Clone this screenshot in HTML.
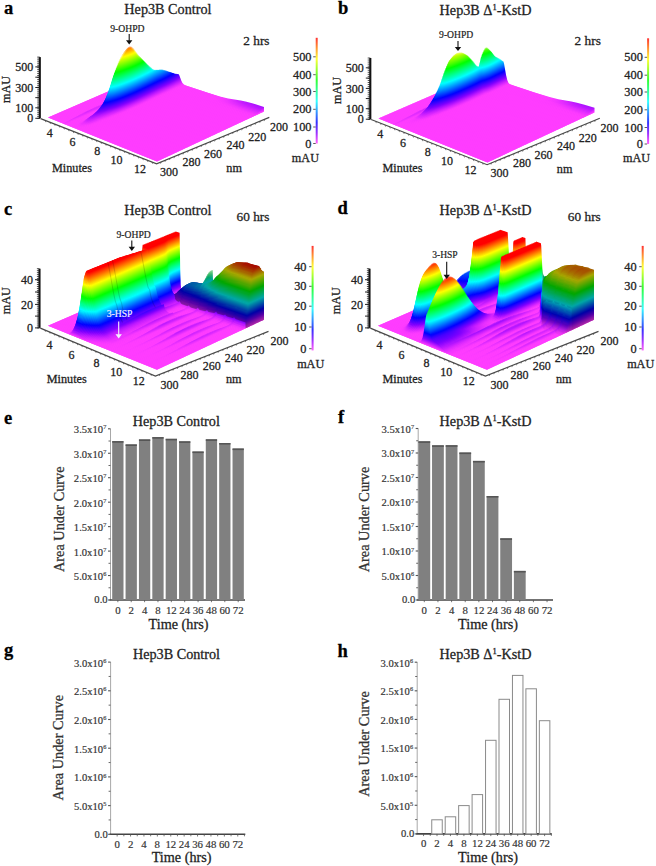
<!DOCTYPE html>
<html><head><meta charset="utf-8"><style>
html,body{margin:0;padding:0;background:#fff;width:656px;height:866px;overflow:hidden}
svg{display:block}
text{font-family:"Liberation Serif",serif}
</style></head><body>
<svg width="656" height="866" viewBox="0 0 656 866" font-family='"Liberation Serif", serif'>
<defs><linearGradient id="sa" gradientUnits="userSpaceOnUse" x1="0" y1="0" x2="0" y2="648.0"><stop offset="0.000" stop-color="#ff3cff"/><stop offset="0.050" stop-color="#c61cff"/><stop offset="0.100" stop-color="#8000ff"/><stop offset="0.150" stop-color="#4000ff"/><stop offset="0.200" stop-color="#0000ff"/><stop offset="0.250" stop-color="#0040ff"/><stop offset="0.300" stop-color="#0080ff"/><stop offset="0.350" stop-color="#00bfff"/><stop offset="0.400" stop-color="#00ffff"/><stop offset="0.450" stop-color="#00ffbf"/><stop offset="0.500" stop-color="#00ff80"/><stop offset="0.550" stop-color="#00ff40"/><stop offset="0.600" stop-color="#00ff00"/><stop offset="0.650" stop-color="#40ff00"/><stop offset="0.700" stop-color="#7fff00"/><stop offset="0.750" stop-color="#bfff00"/><stop offset="0.800" stop-color="#ffff00"/><stop offset="0.850" stop-color="#ffbf00"/><stop offset="0.900" stop-color="#ff7f00"/><stop offset="0.950" stop-color="#ff4000"/><stop offset="1.000" stop-color="#ff0000"/></linearGradient><linearGradient id="sb" gradientUnits="userSpaceOnUse" x1="0" y1="0" x2="0" y2="648.0"><stop offset="0.000" stop-color="#ff3cff"/><stop offset="0.050" stop-color="#c61cff"/><stop offset="0.100" stop-color="#8000ff"/><stop offset="0.150" stop-color="#4000ff"/><stop offset="0.200" stop-color="#0000ff"/><stop offset="0.250" stop-color="#0040ff"/><stop offset="0.300" stop-color="#0080ff"/><stop offset="0.350" stop-color="#00bfff"/><stop offset="0.400" stop-color="#00ffff"/><stop offset="0.450" stop-color="#00ffbf"/><stop offset="0.500" stop-color="#00ff80"/><stop offset="0.550" stop-color="#00ff40"/><stop offset="0.600" stop-color="#00ff00"/><stop offset="0.650" stop-color="#40ff00"/><stop offset="0.700" stop-color="#7fff00"/><stop offset="0.750" stop-color="#bfff00"/><stop offset="0.800" stop-color="#ffff00"/><stop offset="0.850" stop-color="#ffbf00"/><stop offset="0.900" stop-color="#ff7f00"/><stop offset="0.950" stop-color="#ff4000"/><stop offset="1.000" stop-color="#ff0000"/></linearGradient><linearGradient id="sc" gradientUnits="userSpaceOnUse" x1="0" y1="0" x2="0" y2="50"><stop offset="0.000" stop-color="#ff3cff"/><stop offset="0.050" stop-color="#c61cff"/><stop offset="0.100" stop-color="#8000ff"/><stop offset="0.150" stop-color="#4000ff"/><stop offset="0.200" stop-color="#0000ff"/><stop offset="0.250" stop-color="#0040ff"/><stop offset="0.300" stop-color="#0080ff"/><stop offset="0.350" stop-color="#00bfff"/><stop offset="0.400" stop-color="#00ffff"/><stop offset="0.450" stop-color="#00ffbf"/><stop offset="0.500" stop-color="#00ff80"/><stop offset="0.550" stop-color="#00ff40"/><stop offset="0.600" stop-color="#00ff00"/><stop offset="0.650" stop-color="#40ff00"/><stop offset="0.700" stop-color="#7fff00"/><stop offset="0.750" stop-color="#bfff00"/><stop offset="0.800" stop-color="#ffff00"/><stop offset="0.850" stop-color="#ffbf00"/><stop offset="0.900" stop-color="#ff7f00"/><stop offset="0.950" stop-color="#ff4000"/><stop offset="1.000" stop-color="#ff0000"/></linearGradient><linearGradient id="scs65" gradientUnits="userSpaceOnUse" x1="0" y1="0" x2="0" y2="50"><stop offset="0.000" stop-color="#a627a6"/><stop offset="0.050" stop-color="#8112a6"/><stop offset="0.100" stop-color="#5300a6"/><stop offset="0.150" stop-color="#2900a6"/><stop offset="0.200" stop-color="#0000a6"/><stop offset="0.250" stop-color="#0029a6"/><stop offset="0.300" stop-color="#0053a6"/><stop offset="0.350" stop-color="#007ca6"/><stop offset="0.400" stop-color="#00a6a6"/><stop offset="0.450" stop-color="#00a67c"/><stop offset="0.500" stop-color="#00a653"/><stop offset="0.550" stop-color="#00a629"/><stop offset="0.600" stop-color="#00a600"/><stop offset="0.650" stop-color="#29a600"/><stop offset="0.700" stop-color="#53a600"/><stop offset="0.750" stop-color="#7ca600"/><stop offset="0.800" stop-color="#a6a600"/><stop offset="0.850" stop-color="#a67c00"/><stop offset="0.900" stop-color="#a65300"/><stop offset="0.950" stop-color="#a62900"/><stop offset="1.000" stop-color="#a60000"/></linearGradient><linearGradient id="scs85" gradientUnits="userSpaceOnUse" x1="0" y1="0" x2="0" y2="50"><stop offset="0.000" stop-color="#d933d9"/><stop offset="0.050" stop-color="#a918d9"/><stop offset="0.100" stop-color="#6c00d9"/><stop offset="0.150" stop-color="#3600d9"/><stop offset="0.200" stop-color="#0000d9"/><stop offset="0.250" stop-color="#0036d9"/><stop offset="0.300" stop-color="#006cd9"/><stop offset="0.350" stop-color="#00a3d9"/><stop offset="0.400" stop-color="#00d9d9"/><stop offset="0.450" stop-color="#00d9a3"/><stop offset="0.500" stop-color="#00d96c"/><stop offset="0.550" stop-color="#00d936"/><stop offset="0.600" stop-color="#00d900"/><stop offset="0.650" stop-color="#36d900"/><stop offset="0.700" stop-color="#6cd900"/><stop offset="0.750" stop-color="#a3d900"/><stop offset="0.800" stop-color="#d9d900"/><stop offset="0.850" stop-color="#d9a300"/><stop offset="0.900" stop-color="#d96c00"/><stop offset="0.950" stop-color="#d93600"/><stop offset="1.000" stop-color="#d90000"/></linearGradient><linearGradient id="sd" gradientUnits="userSpaceOnUse" x1="0" y1="0" x2="0" y2="50"><stop offset="0.000" stop-color="#ff3cff"/><stop offset="0.050" stop-color="#c61cff"/><stop offset="0.100" stop-color="#8000ff"/><stop offset="0.150" stop-color="#4000ff"/><stop offset="0.200" stop-color="#0000ff"/><stop offset="0.250" stop-color="#0040ff"/><stop offset="0.300" stop-color="#0080ff"/><stop offset="0.350" stop-color="#00bfff"/><stop offset="0.400" stop-color="#00ffff"/><stop offset="0.450" stop-color="#00ffbf"/><stop offset="0.500" stop-color="#00ff80"/><stop offset="0.550" stop-color="#00ff40"/><stop offset="0.600" stop-color="#00ff00"/><stop offset="0.650" stop-color="#40ff00"/><stop offset="0.700" stop-color="#7fff00"/><stop offset="0.750" stop-color="#bfff00"/><stop offset="0.800" stop-color="#ffff00"/><stop offset="0.850" stop-color="#ffbf00"/><stop offset="0.900" stop-color="#ff7f00"/><stop offset="0.950" stop-color="#ff4000"/><stop offset="1.000" stop-color="#ff0000"/></linearGradient><linearGradient id="sds65" gradientUnits="userSpaceOnUse" x1="0" y1="0" x2="0" y2="50"><stop offset="0.000" stop-color="#a627a6"/><stop offset="0.050" stop-color="#8112a6"/><stop offset="0.100" stop-color="#5300a6"/><stop offset="0.150" stop-color="#2900a6"/><stop offset="0.200" stop-color="#0000a6"/><stop offset="0.250" stop-color="#0029a6"/><stop offset="0.300" stop-color="#0053a6"/><stop offset="0.350" stop-color="#007ca6"/><stop offset="0.400" stop-color="#00a6a6"/><stop offset="0.450" stop-color="#00a67c"/><stop offset="0.500" stop-color="#00a653"/><stop offset="0.550" stop-color="#00a629"/><stop offset="0.600" stop-color="#00a600"/><stop offset="0.650" stop-color="#29a600"/><stop offset="0.700" stop-color="#53a600"/><stop offset="0.750" stop-color="#7ca600"/><stop offset="0.800" stop-color="#a6a600"/><stop offset="0.850" stop-color="#a67c00"/><stop offset="0.900" stop-color="#a65300"/><stop offset="0.950" stop-color="#a62900"/><stop offset="1.000" stop-color="#a60000"/></linearGradient><linearGradient id="sds70" gradientUnits="userSpaceOnUse" x1="0" y1="0" x2="0" y2="50"><stop offset="0.000" stop-color="#b22ab2"/><stop offset="0.050" stop-color="#8b14b2"/><stop offset="0.100" stop-color="#5900b2"/><stop offset="0.150" stop-color="#2d00b2"/><stop offset="0.200" stop-color="#0000b2"/><stop offset="0.250" stop-color="#002db2"/><stop offset="0.300" stop-color="#0059b2"/><stop offset="0.350" stop-color="#0086b2"/><stop offset="0.400" stop-color="#00b2b2"/><stop offset="0.450" stop-color="#00b286"/><stop offset="0.500" stop-color="#00b259"/><stop offset="0.550" stop-color="#00b22d"/><stop offset="0.600" stop-color="#00b200"/><stop offset="0.650" stop-color="#2db200"/><stop offset="0.700" stop-color="#59b200"/><stop offset="0.750" stop-color="#86b200"/><stop offset="0.800" stop-color="#b2b200"/><stop offset="0.850" stop-color="#b28600"/><stop offset="0.900" stop-color="#b25900"/><stop offset="0.950" stop-color="#b22d00"/><stop offset="1.000" stop-color="#b20000"/></linearGradient><linearGradient id="sds75" gradientUnits="userSpaceOnUse" x1="0" y1="0" x2="0" y2="50"><stop offset="0.000" stop-color="#bf2dbf"/><stop offset="0.050" stop-color="#9515bf"/><stop offset="0.100" stop-color="#6000bf"/><stop offset="0.150" stop-color="#3000bf"/><stop offset="0.200" stop-color="#0000bf"/><stop offset="0.250" stop-color="#0030bf"/><stop offset="0.300" stop-color="#0060bf"/><stop offset="0.350" stop-color="#008fbf"/><stop offset="0.400" stop-color="#00bfbf"/><stop offset="0.450" stop-color="#00bf8f"/><stop offset="0.500" stop-color="#00bf60"/><stop offset="0.550" stop-color="#00bf30"/><stop offset="0.600" stop-color="#00bf00"/><stop offset="0.650" stop-color="#30bf00"/><stop offset="0.700" stop-color="#60bf00"/><stop offset="0.750" stop-color="#8fbf00"/><stop offset="0.800" stop-color="#bfbf00"/><stop offset="0.850" stop-color="#bf8f00"/><stop offset="0.900" stop-color="#bf6000"/><stop offset="0.950" stop-color="#bf3000"/><stop offset="1.000" stop-color="#bf0000"/></linearGradient><linearGradient id="sds80" gradientUnits="userSpaceOnUse" x1="0" y1="0" x2="0" y2="50"><stop offset="0.000" stop-color="#cc30cc"/><stop offset="0.050" stop-color="#9f16cc"/><stop offset="0.100" stop-color="#6600cc"/><stop offset="0.150" stop-color="#3300cc"/><stop offset="0.200" stop-color="#0000cc"/><stop offset="0.250" stop-color="#0033cc"/><stop offset="0.300" stop-color="#0066cc"/><stop offset="0.350" stop-color="#0099cc"/><stop offset="0.400" stop-color="#00cccc"/><stop offset="0.450" stop-color="#00cc99"/><stop offset="0.500" stop-color="#00cc66"/><stop offset="0.550" stop-color="#00cc33"/><stop offset="0.600" stop-color="#00cc00"/><stop offset="0.650" stop-color="#33cc00"/><stop offset="0.700" stop-color="#66cc00"/><stop offset="0.750" stop-color="#99cc00"/><stop offset="0.800" stop-color="#cccc00"/><stop offset="0.850" stop-color="#cc9900"/><stop offset="0.900" stop-color="#cc6600"/><stop offset="0.950" stop-color="#cc3300"/><stop offset="1.000" stop-color="#cc0000"/></linearGradient><linearGradient id="sds85" gradientUnits="userSpaceOnUse" x1="0" y1="0" x2="0" y2="50"><stop offset="0.000" stop-color="#d933d9"/><stop offset="0.050" stop-color="#a918d9"/><stop offset="0.100" stop-color="#6c00d9"/><stop offset="0.150" stop-color="#3600d9"/><stop offset="0.200" stop-color="#0000d9"/><stop offset="0.250" stop-color="#0036d9"/><stop offset="0.300" stop-color="#006cd9"/><stop offset="0.350" stop-color="#00a3d9"/><stop offset="0.400" stop-color="#00d9d9"/><stop offset="0.450" stop-color="#00d9a3"/><stop offset="0.500" stop-color="#00d96c"/><stop offset="0.550" stop-color="#00d936"/><stop offset="0.600" stop-color="#00d900"/><stop offset="0.650" stop-color="#36d900"/><stop offset="0.700" stop-color="#6cd900"/><stop offset="0.750" stop-color="#a3d900"/><stop offset="0.800" stop-color="#d9d900"/><stop offset="0.850" stop-color="#d9a300"/><stop offset="0.900" stop-color="#d96c00"/><stop offset="0.950" stop-color="#d93600"/><stop offset="1.000" stop-color="#d90000"/></linearGradient><linearGradient id="sds90" gradientUnits="userSpaceOnUse" x1="0" y1="0" x2="0" y2="50"><stop offset="0.000" stop-color="#e636e6"/><stop offset="0.050" stop-color="#b219e6"/><stop offset="0.100" stop-color="#7300e6"/><stop offset="0.150" stop-color="#3900e6"/><stop offset="0.200" stop-color="#0000e6"/><stop offset="0.250" stop-color="#0039e6"/><stop offset="0.300" stop-color="#0073e6"/><stop offset="0.350" stop-color="#00ace6"/><stop offset="0.400" stop-color="#00e6e6"/><stop offset="0.450" stop-color="#00e6ac"/><stop offset="0.500" stop-color="#00e673"/><stop offset="0.550" stop-color="#00e639"/><stop offset="0.600" stop-color="#00e600"/><stop offset="0.650" stop-color="#39e600"/><stop offset="0.700" stop-color="#73e600"/><stop offset="0.750" stop-color="#ace600"/><stop offset="0.800" stop-color="#e6e500"/><stop offset="0.850" stop-color="#e6ac00"/><stop offset="0.900" stop-color="#e67300"/><stop offset="0.950" stop-color="#e63900"/><stop offset="1.000" stop-color="#e60000"/></linearGradient><linearGradient id="sds95" gradientUnits="userSpaceOnUse" x1="0" y1="0" x2="0" y2="50"><stop offset="0.000" stop-color="#f239f2"/><stop offset="0.050" stop-color="#bc1bf2"/><stop offset="0.100" stop-color="#7900f2"/><stop offset="0.150" stop-color="#3d00f2"/><stop offset="0.200" stop-color="#0000f2"/><stop offset="0.250" stop-color="#003df2"/><stop offset="0.300" stop-color="#0079f2"/><stop offset="0.350" stop-color="#00b6f2"/><stop offset="0.400" stop-color="#00f2f2"/><stop offset="0.450" stop-color="#00f2b6"/><stop offset="0.500" stop-color="#00f279"/><stop offset="0.550" stop-color="#00f23d"/><stop offset="0.600" stop-color="#00f200"/><stop offset="0.650" stop-color="#3df200"/><stop offset="0.700" stop-color="#79f200"/><stop offset="0.750" stop-color="#b6f200"/><stop offset="0.800" stop-color="#f2f200"/><stop offset="0.850" stop-color="#f2b600"/><stop offset="0.900" stop-color="#f27900"/><stop offset="0.950" stop-color="#f23d00"/><stop offset="1.000" stop-color="#f20000"/></linearGradient><linearGradient id="facb" gradientUnits="userSpaceOnUse" x1="0" y1="143.5" x2="0" y2="37.8"><stop offset="0.000" stop-color="#ff3cff"/><stop offset="0.050" stop-color="#c61cff"/><stop offset="0.100" stop-color="#8000ff"/><stop offset="0.150" stop-color="#4000ff"/><stop offset="0.200" stop-color="#0000ff"/><stop offset="0.250" stop-color="#0040ff"/><stop offset="0.300" stop-color="#0080ff"/><stop offset="0.350" stop-color="#00bfff"/><stop offset="0.400" stop-color="#00ffff"/><stop offset="0.450" stop-color="#00ffbf"/><stop offset="0.500" stop-color="#00ff80"/><stop offset="0.550" stop-color="#00ff40"/><stop offset="0.600" stop-color="#00ff00"/><stop offset="0.650" stop-color="#40ff00"/><stop offset="0.700" stop-color="#7fff00"/><stop offset="0.750" stop-color="#bfff00"/><stop offset="0.800" stop-color="#ffff00"/><stop offset="0.850" stop-color="#ffbf00"/><stop offset="0.900" stop-color="#ff7f00"/><stop offset="0.950" stop-color="#ff4000"/><stop offset="1.000" stop-color="#ff0000"/></linearGradient><linearGradient id="fbcb" gradientUnits="userSpaceOnUse" x1="0" y1="144" x2="0" y2="38.3"><stop offset="0.000" stop-color="#ff3cff"/><stop offset="0.050" stop-color="#c61cff"/><stop offset="0.100" stop-color="#8000ff"/><stop offset="0.150" stop-color="#4000ff"/><stop offset="0.200" stop-color="#0000ff"/><stop offset="0.250" stop-color="#0040ff"/><stop offset="0.300" stop-color="#0080ff"/><stop offset="0.350" stop-color="#00bfff"/><stop offset="0.400" stop-color="#00ffff"/><stop offset="0.450" stop-color="#00ffbf"/><stop offset="0.500" stop-color="#00ff80"/><stop offset="0.550" stop-color="#00ff40"/><stop offset="0.600" stop-color="#00ff00"/><stop offset="0.650" stop-color="#40ff00"/><stop offset="0.700" stop-color="#7fff00"/><stop offset="0.750" stop-color="#bfff00"/><stop offset="0.800" stop-color="#ffff00"/><stop offset="0.850" stop-color="#ffbf00"/><stop offset="0.900" stop-color="#ff7f00"/><stop offset="0.950" stop-color="#ff4000"/><stop offset="1.000" stop-color="#ff0000"/></linearGradient><linearGradient id="fccb" gradientUnits="userSpaceOnUse" x1="0" y1="350.4" x2="0" y2="245.9"><stop offset="0.000" stop-color="#ff3cff"/><stop offset="0.050" stop-color="#c61cff"/><stop offset="0.100" stop-color="#8000ff"/><stop offset="0.150" stop-color="#4000ff"/><stop offset="0.200" stop-color="#0000ff"/><stop offset="0.250" stop-color="#0040ff"/><stop offset="0.300" stop-color="#0080ff"/><stop offset="0.350" stop-color="#00bfff"/><stop offset="0.400" stop-color="#00ffff"/><stop offset="0.450" stop-color="#00ffbf"/><stop offset="0.500" stop-color="#00ff80"/><stop offset="0.550" stop-color="#00ff40"/><stop offset="0.600" stop-color="#00ff00"/><stop offset="0.650" stop-color="#40ff00"/><stop offset="0.700" stop-color="#7fff00"/><stop offset="0.750" stop-color="#bfff00"/><stop offset="0.800" stop-color="#ffff00"/><stop offset="0.850" stop-color="#ffbf00"/><stop offset="0.900" stop-color="#ff7f00"/><stop offset="0.950" stop-color="#ff4000"/><stop offset="1.000" stop-color="#ff0000"/></linearGradient><linearGradient id="fdcb" gradientUnits="userSpaceOnUse" x1="0" y1="350.4" x2="0" y2="245.9"><stop offset="0.000" stop-color="#ff3cff"/><stop offset="0.050" stop-color="#c61cff"/><stop offset="0.100" stop-color="#8000ff"/><stop offset="0.150" stop-color="#4000ff"/><stop offset="0.200" stop-color="#0000ff"/><stop offset="0.250" stop-color="#0040ff"/><stop offset="0.300" stop-color="#0080ff"/><stop offset="0.350" stop-color="#00bfff"/><stop offset="0.400" stop-color="#00ffff"/><stop offset="0.450" stop-color="#00ffbf"/><stop offset="0.500" stop-color="#00ff80"/><stop offset="0.550" stop-color="#00ff40"/><stop offset="0.600" stop-color="#00ff00"/><stop offset="0.650" stop-color="#40ff00"/><stop offset="0.700" stop-color="#7fff00"/><stop offset="0.750" stop-color="#bfff00"/><stop offset="0.800" stop-color="#ffff00"/><stop offset="0.850" stop-color="#ffbf00"/><stop offset="0.900" stop-color="#ff7f00"/><stop offset="0.950" stop-color="#ff4000"/><stop offset="1.000" stop-color="#ff0000"/></linearGradient></defs>
<text x="4.0" y="13.6" font-size="18.5" text-anchor="start" font-weight="bold" fill="#000" stroke="#000" stroke-width="0.28" >a</text>
<text x="338.0" y="13.5" font-size="18.5" text-anchor="start" font-weight="bold" fill="#000" stroke="#000" stroke-width="0.28" >b</text>
<text x="4.0" y="214.5" font-size="18.5" text-anchor="start" font-weight="bold" fill="#000" stroke="#000" stroke-width="0.28" >c</text>
<text x="337.5" y="214.2" font-size="18.5" text-anchor="start" font-weight="bold" fill="#000" stroke="#000" stroke-width="0.28" >d</text>
<text x="4.0" y="423.5" font-size="18.5" text-anchor="start" font-weight="bold" fill="#000" stroke="#000" stroke-width="0.28" >e</text>
<text x="338.0" y="423.3" font-size="18.5" text-anchor="start" font-weight="bold" fill="#000" stroke="#000" stroke-width="0.28" >f</text>
<text x="4.0" y="656.3" font-size="18.5" text-anchor="start" font-weight="bold" fill="#000" stroke="#000" stroke-width="0.28" >g</text>
<text x="337.5" y="657.0" font-size="18.5" text-anchor="start" font-weight="bold" fill="#000" stroke="#000" stroke-width="0.28" >h</text>
<line x1="110.5" y1="428.8" x2="110.5" y2="600" stroke="#a8a8a8" stroke-width="1"/>
<line x1="109.5" y1="600" x2="245" y2="600" stroke="#444" stroke-width="1.6"/>
<line x1="108.0" y1="600.00" x2="110.5" y2="600.00" stroke="#555" stroke-width="1.1"/>
<line x1="108.5" y1="587.77" x2="110.5" y2="587.77" stroke="#666" stroke-width="1"/>
<line x1="108.0" y1="575.54" x2="110.5" y2="575.54" stroke="#555" stroke-width="1.1"/>
<line x1="108.5" y1="563.31" x2="110.5" y2="563.31" stroke="#666" stroke-width="1"/>
<line x1="108.0" y1="551.09" x2="110.5" y2="551.09" stroke="#555" stroke-width="1.1"/>
<line x1="108.5" y1="538.86" x2="110.5" y2="538.86" stroke="#666" stroke-width="1"/>
<line x1="108.0" y1="526.63" x2="110.5" y2="526.63" stroke="#555" stroke-width="1.1"/>
<line x1="108.5" y1="514.40" x2="110.5" y2="514.40" stroke="#666" stroke-width="1"/>
<line x1="108.0" y1="502.17" x2="110.5" y2="502.17" stroke="#555" stroke-width="1.1"/>
<line x1="108.5" y1="489.94" x2="110.5" y2="489.94" stroke="#666" stroke-width="1"/>
<line x1="108.0" y1="477.71" x2="110.5" y2="477.71" stroke="#555" stroke-width="1.1"/>
<line x1="108.5" y1="465.49" x2="110.5" y2="465.49" stroke="#666" stroke-width="1"/>
<line x1="108.0" y1="453.26" x2="110.5" y2="453.26" stroke="#555" stroke-width="1.1"/>
<line x1="108.5" y1="441.03" x2="110.5" y2="441.03" stroke="#666" stroke-width="1"/>
<line x1="108.0" y1="428.80" x2="110.5" y2="428.80" stroke="#555" stroke-width="1.1"/>
<text x="107.6" y="603.4" font-size="10.6" text-anchor="end" font-weight="normal" fill="#333" stroke="#333" stroke-width="0.18" >0.0</text>
<text x="103.0" y="579.9" font-size="10.6" text-anchor="end" font-weight="normal" fill="#333" stroke="#333" stroke-width="0.18" >5.0x10</text>
<text x="103.2" y="576.1" font-size="6.3" text-anchor="start" font-weight="normal" fill="#444" stroke="#444" stroke-width="0.18" >6</text>
<text x="103.0" y="555.5" font-size="10.6" text-anchor="end" font-weight="normal" fill="#333" stroke="#333" stroke-width="0.18" >1.0x10</text>
<text x="103.2" y="551.7" font-size="6.3" text-anchor="start" font-weight="normal" fill="#444" stroke="#444" stroke-width="0.18" >7</text>
<text x="103.0" y="531.0" font-size="10.6" text-anchor="end" font-weight="normal" fill="#333" stroke="#333" stroke-width="0.18" >1.5x10</text>
<text x="103.2" y="527.2" font-size="6.3" text-anchor="start" font-weight="normal" fill="#444" stroke="#444" stroke-width="0.18" >7</text>
<text x="103.0" y="506.6" font-size="10.6" text-anchor="end" font-weight="normal" fill="#333" stroke="#333" stroke-width="0.18" >2.0x10</text>
<text x="103.2" y="502.8" font-size="6.3" text-anchor="start" font-weight="normal" fill="#444" stroke="#444" stroke-width="0.18" >7</text>
<text x="103.0" y="482.1" font-size="10.6" text-anchor="end" font-weight="normal" fill="#333" stroke="#333" stroke-width="0.18" >2.5x10</text>
<text x="103.2" y="478.3" font-size="6.3" text-anchor="start" font-weight="normal" fill="#444" stroke="#444" stroke-width="0.18" >7</text>
<text x="103.0" y="457.7" font-size="10.6" text-anchor="end" font-weight="normal" fill="#333" stroke="#333" stroke-width="0.18" >3.0x10</text>
<text x="103.2" y="453.9" font-size="6.3" text-anchor="start" font-weight="normal" fill="#444" stroke="#444" stroke-width="0.18" >7</text>
<text x="103.0" y="433.2" font-size="10.6" text-anchor="end" font-weight="normal" fill="#333" stroke="#333" stroke-width="0.18" >3.5x10</text>
<text x="103.2" y="429.4" font-size="6.3" text-anchor="start" font-weight="normal" fill="#444" stroke="#444" stroke-width="0.18" >7</text>
<rect x="112.20" y="441.10" width="11.3" height="158.90" fill="#808080"/>
<rect x="112.20" y="441.10" width="11.3" height="1.6" fill="#555"/>
<rect x="125.57" y="444.40" width="11.3" height="155.60" fill="#808080"/>
<rect x="125.57" y="444.40" width="11.3" height="1.6" fill="#555"/>
<rect x="138.94" y="439.40" width="11.3" height="160.60" fill="#808080"/>
<rect x="138.94" y="439.40" width="11.3" height="1.6" fill="#555"/>
<rect x="152.31" y="437.10" width="11.3" height="162.90" fill="#808080"/>
<rect x="152.31" y="437.10" width="11.3" height="1.6" fill="#555"/>
<rect x="165.68" y="438.80" width="11.3" height="161.20" fill="#808080"/>
<rect x="165.68" y="438.80" width="11.3" height="1.6" fill="#555"/>
<rect x="179.05" y="441.30" width="11.3" height="158.70" fill="#808080"/>
<rect x="179.05" y="441.30" width="11.3" height="1.6" fill="#555"/>
<rect x="192.42" y="451.50" width="11.3" height="148.50" fill="#808080"/>
<rect x="192.42" y="451.50" width="11.3" height="1.6" fill="#555"/>
<rect x="205.79" y="439.30" width="11.3" height="160.70" fill="#808080"/>
<rect x="205.79" y="439.30" width="11.3" height="1.6" fill="#555"/>
<rect x="219.16" y="443.00" width="11.3" height="157.00" fill="#808080"/>
<rect x="219.16" y="443.00" width="11.3" height="1.6" fill="#555"/>
<rect x="232.53" y="448.50" width="11.3" height="151.50" fill="#808080"/>
<rect x="232.53" y="448.50" width="11.3" height="1.6" fill="#555"/>
<text x="117.9" y="613.6" font-size="10.8" text-anchor="middle" font-weight="normal" fill="#333" stroke="#333" stroke-width="0.18" >0</text>
<line x1="117.85" y1="600" x2="117.85" y2="602.2" stroke="#555" stroke-width="0.8"/>
<text x="131.2" y="613.6" font-size="10.8" text-anchor="middle" font-weight="normal" fill="#333" stroke="#333" stroke-width="0.18" >2</text>
<line x1="131.22" y1="600" x2="131.22" y2="602.2" stroke="#555" stroke-width="0.8"/>
<text x="144.6" y="613.6" font-size="10.8" text-anchor="middle" font-weight="normal" fill="#333" stroke="#333" stroke-width="0.18" >4</text>
<line x1="144.59" y1="600" x2="144.59" y2="602.2" stroke="#555" stroke-width="0.8"/>
<text x="158.0" y="613.6" font-size="10.8" text-anchor="middle" font-weight="normal" fill="#333" stroke="#333" stroke-width="0.18" >8</text>
<line x1="157.96" y1="600" x2="157.96" y2="602.2" stroke="#555" stroke-width="0.8"/>
<text x="171.3" y="613.6" font-size="10.8" text-anchor="middle" font-weight="normal" fill="#333" stroke="#333" stroke-width="0.18" >12</text>
<line x1="171.33" y1="600" x2="171.33" y2="602.2" stroke="#555" stroke-width="0.8"/>
<text x="184.7" y="613.6" font-size="10.8" text-anchor="middle" font-weight="normal" fill="#333" stroke="#333" stroke-width="0.18" >24</text>
<line x1="184.70" y1="600" x2="184.70" y2="602.2" stroke="#555" stroke-width="0.8"/>
<text x="198.1" y="613.6" font-size="10.8" text-anchor="middle" font-weight="normal" fill="#333" stroke="#333" stroke-width="0.18" >36</text>
<line x1="198.07" y1="600" x2="198.07" y2="602.2" stroke="#555" stroke-width="0.8"/>
<text x="211.4" y="613.6" font-size="10.8" text-anchor="middle" font-weight="normal" fill="#333" stroke="#333" stroke-width="0.18" >48</text>
<line x1="211.44" y1="600" x2="211.44" y2="602.2" stroke="#555" stroke-width="0.8"/>
<text x="224.8" y="613.6" font-size="10.8" text-anchor="middle" font-weight="normal" fill="#333" stroke="#333" stroke-width="0.18" >60</text>
<line x1="224.81" y1="600" x2="224.81" y2="602.2" stroke="#555" stroke-width="0.8"/>
<text x="238.2" y="613.6" font-size="10.8" text-anchor="middle" font-weight="normal" fill="#333" stroke="#333" stroke-width="0.18" >72</text>
<line x1="238.18" y1="600" x2="238.18" y2="602.2" stroke="#555" stroke-width="0.8"/>
<text x="176.3" y="425.5" font-size="14.2" text-anchor="middle" fill="#222" stroke="#222" stroke-width="0.28">Hep3B Control</text>
<text x="64.2" y="519.2" font-size="14.3" text-anchor="middle" fill="#333" stroke="#333" stroke-width="0.28" transform="rotate(-90 64.2 519.2)">Area Under Curve</text>
<text x="178.5" y="628.6" font-size="14.2" text-anchor="middle" font-weight="normal" fill="#222" stroke="#222" stroke-width="0.28" >Time (hrs)</text>
<line x1="418.2" y1="428.5" x2="418.2" y2="600" stroke="#a8a8a8" stroke-width="1"/>
<line x1="417.2" y1="600" x2="553" y2="600" stroke="#444" stroke-width="1.6"/>
<line x1="415.7" y1="600.00" x2="418.2" y2="600.00" stroke="#555" stroke-width="1.1"/>
<line x1="416.2" y1="587.75" x2="418.2" y2="587.75" stroke="#666" stroke-width="1"/>
<line x1="415.7" y1="575.50" x2="418.2" y2="575.50" stroke="#555" stroke-width="1.1"/>
<line x1="416.2" y1="563.25" x2="418.2" y2="563.25" stroke="#666" stroke-width="1"/>
<line x1="415.7" y1="551.00" x2="418.2" y2="551.00" stroke="#555" stroke-width="1.1"/>
<line x1="416.2" y1="538.75" x2="418.2" y2="538.75" stroke="#666" stroke-width="1"/>
<line x1="415.7" y1="526.50" x2="418.2" y2="526.50" stroke="#555" stroke-width="1.1"/>
<line x1="416.2" y1="514.25" x2="418.2" y2="514.25" stroke="#666" stroke-width="1"/>
<line x1="415.7" y1="502.00" x2="418.2" y2="502.00" stroke="#555" stroke-width="1.1"/>
<line x1="416.2" y1="489.75" x2="418.2" y2="489.75" stroke="#666" stroke-width="1"/>
<line x1="415.7" y1="477.50" x2="418.2" y2="477.50" stroke="#555" stroke-width="1.1"/>
<line x1="416.2" y1="465.25" x2="418.2" y2="465.25" stroke="#666" stroke-width="1"/>
<line x1="415.7" y1="453.00" x2="418.2" y2="453.00" stroke="#555" stroke-width="1.1"/>
<line x1="416.2" y1="440.75" x2="418.2" y2="440.75" stroke="#666" stroke-width="1"/>
<line x1="415.7" y1="428.50" x2="418.2" y2="428.50" stroke="#555" stroke-width="1.1"/>
<text x="415.3" y="603.4" font-size="10.6" text-anchor="end" font-weight="normal" fill="#333" stroke="#333" stroke-width="0.18" >0.0</text>
<text x="410.7" y="579.9" font-size="10.6" text-anchor="end" font-weight="normal" fill="#333" stroke="#333" stroke-width="0.18" >5.0x10</text>
<text x="410.9" y="576.1" font-size="6.3" text-anchor="start" font-weight="normal" fill="#444" stroke="#444" stroke-width="0.18" >6</text>
<text x="410.7" y="555.4" font-size="10.6" text-anchor="end" font-weight="normal" fill="#333" stroke="#333" stroke-width="0.18" >1.0x10</text>
<text x="410.9" y="551.6" font-size="6.3" text-anchor="start" font-weight="normal" fill="#444" stroke="#444" stroke-width="0.18" >7</text>
<text x="410.7" y="530.9" font-size="10.6" text-anchor="end" font-weight="normal" fill="#333" stroke="#333" stroke-width="0.18" >1.5x10</text>
<text x="410.9" y="527.1" font-size="6.3" text-anchor="start" font-weight="normal" fill="#444" stroke="#444" stroke-width="0.18" >7</text>
<text x="410.7" y="506.4" font-size="10.6" text-anchor="end" font-weight="normal" fill="#333" stroke="#333" stroke-width="0.18" >2.0x10</text>
<text x="410.9" y="502.6" font-size="6.3" text-anchor="start" font-weight="normal" fill="#444" stroke="#444" stroke-width="0.18" >7</text>
<text x="410.7" y="481.9" font-size="10.6" text-anchor="end" font-weight="normal" fill="#333" stroke="#333" stroke-width="0.18" >2.5x10</text>
<text x="410.9" y="478.1" font-size="6.3" text-anchor="start" font-weight="normal" fill="#444" stroke="#444" stroke-width="0.18" >7</text>
<text x="410.7" y="457.4" font-size="10.6" text-anchor="end" font-weight="normal" fill="#333" stroke="#333" stroke-width="0.18" >3.0x10</text>
<text x="410.9" y="453.6" font-size="6.3" text-anchor="start" font-weight="normal" fill="#444" stroke="#444" stroke-width="0.18" >7</text>
<text x="410.7" y="432.9" font-size="10.6" text-anchor="end" font-weight="normal" fill="#333" stroke="#333" stroke-width="0.18" >3.5x10</text>
<text x="410.9" y="429.1" font-size="6.3" text-anchor="start" font-weight="normal" fill="#444" stroke="#444" stroke-width="0.18" >7</text>
<rect x="418.40" y="441.30" width="11.8" height="158.70" fill="#808080"/>
<rect x="418.40" y="441.30" width="11.8" height="1.6" fill="#555"/>
<rect x="432.04" y="445.30" width="11.8" height="154.70" fill="#808080"/>
<rect x="432.04" y="445.30" width="11.8" height="1.6" fill="#555"/>
<rect x="445.68" y="445.20" width="11.8" height="154.80" fill="#808080"/>
<rect x="445.68" y="445.20" width="11.8" height="1.6" fill="#555"/>
<rect x="459.32" y="452.50" width="11.8" height="147.50" fill="#808080"/>
<rect x="459.32" y="452.50" width="11.8" height="1.6" fill="#555"/>
<rect x="472.96" y="460.90" width="11.8" height="139.10" fill="#808080"/>
<rect x="472.96" y="460.90" width="11.8" height="1.6" fill="#555"/>
<rect x="486.60" y="496.00" width="11.8" height="104.00" fill="#808080"/>
<rect x="486.60" y="496.00" width="11.8" height="1.6" fill="#555"/>
<rect x="500.24" y="538.30" width="11.8" height="61.70" fill="#808080"/>
<rect x="500.24" y="538.30" width="11.8" height="1.6" fill="#555"/>
<rect x="513.88" y="570.90" width="11.8" height="29.10" fill="#808080"/>
<rect x="513.88" y="570.90" width="11.8" height="1.6" fill="#555"/>
<text x="424.3" y="613.6" font-size="10.8" text-anchor="middle" font-weight="normal" fill="#333" stroke="#333" stroke-width="0.18" >0</text>
<line x1="424.30" y1="600" x2="424.30" y2="602.2" stroke="#555" stroke-width="0.8"/>
<text x="437.9" y="613.6" font-size="10.8" text-anchor="middle" font-weight="normal" fill="#333" stroke="#333" stroke-width="0.18" >2</text>
<line x1="437.94" y1="600" x2="437.94" y2="602.2" stroke="#555" stroke-width="0.8"/>
<text x="451.6" y="613.6" font-size="10.8" text-anchor="middle" font-weight="normal" fill="#333" stroke="#333" stroke-width="0.18" >4</text>
<line x1="451.58" y1="600" x2="451.58" y2="602.2" stroke="#555" stroke-width="0.8"/>
<text x="465.2" y="613.6" font-size="10.8" text-anchor="middle" font-weight="normal" fill="#333" stroke="#333" stroke-width="0.18" >8</text>
<line x1="465.22" y1="600" x2="465.22" y2="602.2" stroke="#555" stroke-width="0.8"/>
<text x="478.9" y="613.6" font-size="10.8" text-anchor="middle" font-weight="normal" fill="#333" stroke="#333" stroke-width="0.18" >12</text>
<line x1="478.86" y1="600" x2="478.86" y2="602.2" stroke="#555" stroke-width="0.8"/>
<text x="492.5" y="613.6" font-size="10.8" text-anchor="middle" font-weight="normal" fill="#333" stroke="#333" stroke-width="0.18" >24</text>
<line x1="492.50" y1="600" x2="492.50" y2="602.2" stroke="#555" stroke-width="0.8"/>
<text x="506.1" y="613.6" font-size="10.8" text-anchor="middle" font-weight="normal" fill="#333" stroke="#333" stroke-width="0.18" >36</text>
<line x1="506.14" y1="600" x2="506.14" y2="602.2" stroke="#555" stroke-width="0.8"/>
<text x="519.8" y="613.6" font-size="10.8" text-anchor="middle" font-weight="normal" fill="#333" stroke="#333" stroke-width="0.18" >48</text>
<line x1="519.78" y1="600" x2="519.78" y2="602.2" stroke="#555" stroke-width="0.8"/>
<text x="533.4" y="613.6" font-size="10.8" text-anchor="middle" font-weight="normal" fill="#333" stroke="#333" stroke-width="0.18" >60</text>
<line x1="533.42" y1="600" x2="533.42" y2="602.2" stroke="#555" stroke-width="0.8"/>
<text x="547.1" y="613.6" font-size="10.8" text-anchor="middle" font-weight="normal" fill="#333" stroke="#333" stroke-width="0.18" >72</text>
<line x1="547.06" y1="600" x2="547.06" y2="602.2" stroke="#555" stroke-width="0.8"/>
<text x="485.5" y="425.5" font-size="14.2" text-anchor="middle" fill="#222" stroke="#222" stroke-width="0.28">Hep3B Δ<tspan font-size="8.5" dy="-5">1</tspan><tspan dy="5">-KstD</tspan></text>
<text x="368.5" y="519.5" font-size="14.3" text-anchor="middle" fill="#333" stroke="#333" stroke-width="0.28" transform="rotate(-90 368.5 519.5)">Area Under Curve</text>
<text x="488.0" y="628.6" font-size="14.2" text-anchor="middle" font-weight="normal" fill="#222" stroke="#222" stroke-width="0.28" >Time (hrs)</text>
<line x1="110.6" y1="662.1" x2="110.6" y2="834.3" stroke="#a8a8a8" stroke-width="1"/>
<line x1="109.6" y1="834.3" x2="245.3" y2="834.3" stroke="#444" stroke-width="1.6"/>
<line x1="108.1" y1="834.30" x2="110.6" y2="834.30" stroke="#555" stroke-width="1.1"/>
<line x1="108.6" y1="819.95" x2="110.6" y2="819.95" stroke="#666" stroke-width="1"/>
<line x1="108.1" y1="805.60" x2="110.6" y2="805.60" stroke="#555" stroke-width="1.1"/>
<line x1="108.6" y1="791.25" x2="110.6" y2="791.25" stroke="#666" stroke-width="1"/>
<line x1="108.1" y1="776.90" x2="110.6" y2="776.90" stroke="#555" stroke-width="1.1"/>
<line x1="108.6" y1="762.55" x2="110.6" y2="762.55" stroke="#666" stroke-width="1"/>
<line x1="108.1" y1="748.20" x2="110.6" y2="748.20" stroke="#555" stroke-width="1.1"/>
<line x1="108.6" y1="733.85" x2="110.6" y2="733.85" stroke="#666" stroke-width="1"/>
<line x1="108.1" y1="719.50" x2="110.6" y2="719.50" stroke="#555" stroke-width="1.1"/>
<line x1="108.6" y1="705.15" x2="110.6" y2="705.15" stroke="#666" stroke-width="1"/>
<line x1="108.1" y1="690.80" x2="110.6" y2="690.80" stroke="#555" stroke-width="1.1"/>
<line x1="108.6" y1="676.45" x2="110.6" y2="676.45" stroke="#666" stroke-width="1"/>
<line x1="108.1" y1="662.10" x2="110.6" y2="662.10" stroke="#555" stroke-width="1.1"/>
<text x="107.7" y="837.7" font-size="10.6" text-anchor="end" font-weight="normal" fill="#333" stroke="#333" stroke-width="0.18" >0.0</text>
<text x="103.1" y="810.0" font-size="10.6" text-anchor="end" font-weight="normal" fill="#333" stroke="#333" stroke-width="0.18" >5.0x10</text>
<text x="103.3" y="806.2" font-size="6.3" text-anchor="start" font-weight="normal" fill="#444" stroke="#444" stroke-width="0.18" >5</text>
<text x="103.1" y="781.3" font-size="10.6" text-anchor="end" font-weight="normal" fill="#333" stroke="#333" stroke-width="0.18" >1.0x10</text>
<text x="103.3" y="777.5" font-size="6.3" text-anchor="start" font-weight="normal" fill="#444" stroke="#444" stroke-width="0.18" >6</text>
<text x="103.1" y="752.6" font-size="10.6" text-anchor="end" font-weight="normal" fill="#333" stroke="#333" stroke-width="0.18" >1.5x10</text>
<text x="103.3" y="748.8" font-size="6.3" text-anchor="start" font-weight="normal" fill="#444" stroke="#444" stroke-width="0.18" >6</text>
<text x="103.1" y="723.9" font-size="10.6" text-anchor="end" font-weight="normal" fill="#333" stroke="#333" stroke-width="0.18" >2.0x10</text>
<text x="103.3" y="720.1" font-size="6.3" text-anchor="start" font-weight="normal" fill="#444" stroke="#444" stroke-width="0.18" >6</text>
<text x="103.1" y="695.2" font-size="10.6" text-anchor="end" font-weight="normal" fill="#333" stroke="#333" stroke-width="0.18" >2.5x10</text>
<text x="103.3" y="691.4" font-size="6.3" text-anchor="start" font-weight="normal" fill="#444" stroke="#444" stroke-width="0.18" >6</text>
<text x="103.1" y="666.5" font-size="10.6" text-anchor="end" font-weight="normal" fill="#333" stroke="#333" stroke-width="0.18" >3.0x10</text>
<text x="103.3" y="662.7" font-size="6.3" text-anchor="start" font-weight="normal" fill="#444" stroke="#444" stroke-width="0.18" >6</text>
<text x="117.2" y="847.6" font-size="10.8" text-anchor="middle" font-weight="normal" fill="#333" stroke="#333" stroke-width="0.18" >0</text>
<line x1="117.15" y1="834.3" x2="117.15" y2="836.5" stroke="#555" stroke-width="0.8"/>
<line x1="123.85" y1="834.3" x2="123.85" y2="836.3" stroke="#555" stroke-width="0.8"/>
<text x="130.6" y="847.6" font-size="10.8" text-anchor="middle" font-weight="normal" fill="#333" stroke="#333" stroke-width="0.18" >2</text>
<line x1="130.55" y1="834.3" x2="130.55" y2="836.5" stroke="#555" stroke-width="0.8"/>
<line x1="137.25" y1="834.3" x2="137.25" y2="836.3" stroke="#555" stroke-width="0.8"/>
<text x="144.0" y="847.6" font-size="10.8" text-anchor="middle" font-weight="normal" fill="#333" stroke="#333" stroke-width="0.18" >4</text>
<line x1="143.95" y1="834.3" x2="143.95" y2="836.5" stroke="#555" stroke-width="0.8"/>
<line x1="150.65" y1="834.3" x2="150.65" y2="836.3" stroke="#555" stroke-width="0.8"/>
<text x="157.3" y="847.6" font-size="10.8" text-anchor="middle" font-weight="normal" fill="#333" stroke="#333" stroke-width="0.18" >8</text>
<line x1="157.35" y1="834.3" x2="157.35" y2="836.5" stroke="#555" stroke-width="0.8"/>
<line x1="164.05" y1="834.3" x2="164.05" y2="836.3" stroke="#555" stroke-width="0.8"/>
<text x="170.8" y="847.6" font-size="10.8" text-anchor="middle" font-weight="normal" fill="#333" stroke="#333" stroke-width="0.18" >12</text>
<line x1="170.75" y1="834.3" x2="170.75" y2="836.5" stroke="#555" stroke-width="0.8"/>
<line x1="177.45" y1="834.3" x2="177.45" y2="836.3" stroke="#555" stroke-width="0.8"/>
<text x="184.2" y="847.6" font-size="10.8" text-anchor="middle" font-weight="normal" fill="#333" stroke="#333" stroke-width="0.18" >24</text>
<line x1="184.15" y1="834.3" x2="184.15" y2="836.5" stroke="#555" stroke-width="0.8"/>
<line x1="190.85" y1="834.3" x2="190.85" y2="836.3" stroke="#555" stroke-width="0.8"/>
<text x="197.6" y="847.6" font-size="10.8" text-anchor="middle" font-weight="normal" fill="#333" stroke="#333" stroke-width="0.18" >36</text>
<line x1="197.55" y1="834.3" x2="197.55" y2="836.5" stroke="#555" stroke-width="0.8"/>
<line x1="204.25" y1="834.3" x2="204.25" y2="836.3" stroke="#555" stroke-width="0.8"/>
<text x="211.0" y="847.6" font-size="10.8" text-anchor="middle" font-weight="normal" fill="#333" stroke="#333" stroke-width="0.18" >48</text>
<line x1="210.95" y1="834.3" x2="210.95" y2="836.5" stroke="#555" stroke-width="0.8"/>
<line x1="217.65" y1="834.3" x2="217.65" y2="836.3" stroke="#555" stroke-width="0.8"/>
<text x="224.3" y="847.6" font-size="10.8" text-anchor="middle" font-weight="normal" fill="#333" stroke="#333" stroke-width="0.18" >60</text>
<line x1="224.35" y1="834.3" x2="224.35" y2="836.5" stroke="#555" stroke-width="0.8"/>
<line x1="231.05" y1="834.3" x2="231.05" y2="836.3" stroke="#555" stroke-width="0.8"/>
<text x="237.8" y="847.6" font-size="10.8" text-anchor="middle" font-weight="normal" fill="#333" stroke="#333" stroke-width="0.18" >72</text>
<line x1="237.75" y1="834.3" x2="237.75" y2="836.5" stroke="#555" stroke-width="0.8"/>
<line x1="244.45" y1="834.3" x2="244.45" y2="836.3" stroke="#555" stroke-width="0.8"/>
<text x="176.5" y="658.7" font-size="14.2" text-anchor="middle" fill="#222" stroke="#222" stroke-width="0.28">Hep3B Control</text>
<text x="62.8" y="747.8" font-size="14.3" text-anchor="middle" fill="#333" stroke="#333" stroke-width="0.28" transform="rotate(-90 62.8 747.8)">Area Under Curve</text>
<text x="181.6" y="862.0" font-size="14.2" text-anchor="middle" font-weight="normal" fill="#222" stroke="#222" stroke-width="0.28" >Time (hrs)</text>
<line x1="417.2" y1="662.2" x2="417.2" y2="833.9" stroke="#a8a8a8" stroke-width="1"/>
<line x1="416.2" y1="833.9" x2="551.7" y2="833.9" stroke="#444" stroke-width="1.6"/>
<line x1="414.7" y1="833.90" x2="417.2" y2="833.90" stroke="#555" stroke-width="1.1"/>
<line x1="415.2" y1="819.59" x2="417.2" y2="819.59" stroke="#666" stroke-width="1"/>
<line x1="414.7" y1="805.28" x2="417.2" y2="805.28" stroke="#555" stroke-width="1.1"/>
<line x1="415.2" y1="790.98" x2="417.2" y2="790.98" stroke="#666" stroke-width="1"/>
<line x1="414.7" y1="776.67" x2="417.2" y2="776.67" stroke="#555" stroke-width="1.1"/>
<line x1="415.2" y1="762.36" x2="417.2" y2="762.36" stroke="#666" stroke-width="1"/>
<line x1="414.7" y1="748.05" x2="417.2" y2="748.05" stroke="#555" stroke-width="1.1"/>
<line x1="415.2" y1="733.74" x2="417.2" y2="733.74" stroke="#666" stroke-width="1"/>
<line x1="414.7" y1="719.43" x2="417.2" y2="719.43" stroke="#555" stroke-width="1.1"/>
<line x1="415.2" y1="705.13" x2="417.2" y2="705.13" stroke="#666" stroke-width="1"/>
<line x1="414.7" y1="690.82" x2="417.2" y2="690.82" stroke="#555" stroke-width="1.1"/>
<line x1="415.2" y1="676.51" x2="417.2" y2="676.51" stroke="#666" stroke-width="1"/>
<line x1="414.7" y1="662.20" x2="417.2" y2="662.20" stroke="#555" stroke-width="1.1"/>
<text x="414.3" y="837.3" font-size="10.6" text-anchor="end" font-weight="normal" fill="#333" stroke="#333" stroke-width="0.18" >0.0</text>
<text x="409.7" y="809.7" font-size="10.6" text-anchor="end" font-weight="normal" fill="#333" stroke="#333" stroke-width="0.18" >5.0x10</text>
<text x="409.9" y="805.9" font-size="6.3" text-anchor="start" font-weight="normal" fill="#444" stroke="#444" stroke-width="0.18" >5</text>
<text x="409.7" y="781.1" font-size="10.6" text-anchor="end" font-weight="normal" fill="#333" stroke="#333" stroke-width="0.18" >1.0x10</text>
<text x="409.9" y="777.3" font-size="6.3" text-anchor="start" font-weight="normal" fill="#444" stroke="#444" stroke-width="0.18" >6</text>
<text x="409.7" y="752.4" font-size="10.6" text-anchor="end" font-weight="normal" fill="#333" stroke="#333" stroke-width="0.18" >1.5x10</text>
<text x="409.9" y="748.6" font-size="6.3" text-anchor="start" font-weight="normal" fill="#444" stroke="#444" stroke-width="0.18" >6</text>
<text x="409.7" y="723.8" font-size="10.6" text-anchor="end" font-weight="normal" fill="#333" stroke="#333" stroke-width="0.18" >2.0x10</text>
<text x="409.9" y="720.0" font-size="6.3" text-anchor="start" font-weight="normal" fill="#444" stroke="#444" stroke-width="0.18" >6</text>
<text x="409.7" y="695.2" font-size="10.6" text-anchor="end" font-weight="normal" fill="#333" stroke="#333" stroke-width="0.18" >2.5x10</text>
<text x="409.9" y="691.4" font-size="6.3" text-anchor="start" font-weight="normal" fill="#444" stroke="#444" stroke-width="0.18" >6</text>
<text x="409.7" y="666.6" font-size="10.6" text-anchor="end" font-weight="normal" fill="#333" stroke="#333" stroke-width="0.18" >3.0x10</text>
<text x="409.9" y="662.8" font-size="6.3" text-anchor="start" font-weight="normal" fill="#444" stroke="#444" stroke-width="0.18" >6</text>
<rect x="431.75" y="819.80" width="10.5" height="14.10" fill="#fff" stroke="#8a8a8a" stroke-width="1"/>
<rect x="445.20" y="816.80" width="10.5" height="17.10" fill="#fff" stroke="#8a8a8a" stroke-width="1"/>
<rect x="458.65" y="805.60" width="10.5" height="28.30" fill="#fff" stroke="#8a8a8a" stroke-width="1"/>
<rect x="472.10" y="794.60" width="10.5" height="39.30" fill="#fff" stroke="#8a8a8a" stroke-width="1"/>
<rect x="485.55" y="740.30" width="10.5" height="93.60" fill="#fff" stroke="#8a8a8a" stroke-width="1"/>
<rect x="499.00" y="699.30" width="10.5" height="134.60" fill="#fff" stroke="#8a8a8a" stroke-width="1"/>
<rect x="512.45" y="675.40" width="10.5" height="158.50" fill="#fff" stroke="#8a8a8a" stroke-width="1"/>
<rect x="525.90" y="688.80" width="10.5" height="145.10" fill="#fff" stroke="#8a8a8a" stroke-width="1"/>
<rect x="539.35" y="720.70" width="10.5" height="113.20" fill="#fff" stroke="#8a8a8a" stroke-width="1"/>
<text x="423.6" y="847.4" font-size="10.8" text-anchor="middle" font-weight="normal" fill="#333" stroke="#333" stroke-width="0.18" >0</text>
<line x1="423.55" y1="833.9" x2="423.55" y2="836.1" stroke="#555" stroke-width="0.8"/>
<line x1="430.28" y1="833.9" x2="430.28" y2="835.9" stroke="#555" stroke-width="0.8"/>
<text x="437.0" y="847.4" font-size="10.8" text-anchor="middle" font-weight="normal" fill="#333" stroke="#333" stroke-width="0.18" >2</text>
<line x1="437.00" y1="833.9" x2="437.00" y2="836.1" stroke="#555" stroke-width="0.8"/>
<line x1="443.73" y1="833.9" x2="443.73" y2="835.9" stroke="#555" stroke-width="0.8"/>
<text x="450.4" y="847.4" font-size="10.8" text-anchor="middle" font-weight="normal" fill="#333" stroke="#333" stroke-width="0.18" >4</text>
<line x1="450.45" y1="833.9" x2="450.45" y2="836.1" stroke="#555" stroke-width="0.8"/>
<line x1="457.18" y1="833.9" x2="457.18" y2="835.9" stroke="#555" stroke-width="0.8"/>
<text x="463.9" y="847.4" font-size="10.8" text-anchor="middle" font-weight="normal" fill="#333" stroke="#333" stroke-width="0.18" >8</text>
<line x1="463.90" y1="833.9" x2="463.90" y2="836.1" stroke="#555" stroke-width="0.8"/>
<line x1="470.62" y1="833.9" x2="470.62" y2="835.9" stroke="#555" stroke-width="0.8"/>
<text x="477.4" y="847.4" font-size="10.8" text-anchor="middle" font-weight="normal" fill="#333" stroke="#333" stroke-width="0.18" >12</text>
<line x1="477.35" y1="833.9" x2="477.35" y2="836.1" stroke="#555" stroke-width="0.8"/>
<line x1="484.08" y1="833.9" x2="484.08" y2="835.9" stroke="#555" stroke-width="0.8"/>
<text x="490.8" y="847.4" font-size="10.8" text-anchor="middle" font-weight="normal" fill="#333" stroke="#333" stroke-width="0.18" >24</text>
<line x1="490.80" y1="833.9" x2="490.80" y2="836.1" stroke="#555" stroke-width="0.8"/>
<line x1="497.53" y1="833.9" x2="497.53" y2="835.9" stroke="#555" stroke-width="0.8"/>
<text x="504.2" y="847.4" font-size="10.8" text-anchor="middle" font-weight="normal" fill="#333" stroke="#333" stroke-width="0.18" >36</text>
<line x1="504.25" y1="833.9" x2="504.25" y2="836.1" stroke="#555" stroke-width="0.8"/>
<line x1="510.98" y1="833.9" x2="510.98" y2="835.9" stroke="#555" stroke-width="0.8"/>
<text x="517.7" y="847.4" font-size="10.8" text-anchor="middle" font-weight="normal" fill="#333" stroke="#333" stroke-width="0.18" >48</text>
<line x1="517.70" y1="833.9" x2="517.70" y2="836.1" stroke="#555" stroke-width="0.8"/>
<line x1="524.43" y1="833.9" x2="524.43" y2="835.9" stroke="#555" stroke-width="0.8"/>
<text x="531.1" y="847.4" font-size="10.8" text-anchor="middle" font-weight="normal" fill="#333" stroke="#333" stroke-width="0.18" >60</text>
<line x1="531.15" y1="833.9" x2="531.15" y2="836.1" stroke="#555" stroke-width="0.8"/>
<line x1="537.88" y1="833.9" x2="537.88" y2="835.9" stroke="#555" stroke-width="0.8"/>
<text x="544.6" y="847.4" font-size="10.8" text-anchor="middle" font-weight="normal" fill="#333" stroke="#333" stroke-width="0.18" >72</text>
<line x1="544.60" y1="833.9" x2="544.60" y2="836.1" stroke="#555" stroke-width="0.8"/>
<line x1="551.33" y1="833.9" x2="551.33" y2="835.9" stroke="#555" stroke-width="0.8"/>
<text x="485.5" y="658.7" font-size="14.2" text-anchor="middle" fill="#222" stroke="#222" stroke-width="0.28">Hep3B Δ<tspan font-size="8.5" dy="-5">1</tspan><tspan dy="5">-KstD</tspan></text>
<text x="368.5" y="744" font-size="14.3" text-anchor="middle" fill="#333" stroke="#333" stroke-width="0.28" transform="rotate(-90 368.5 744)">Area Under Curve</text>
<text x="488.0" y="862.0" font-size="14.2" text-anchor="middle" font-weight="normal" fill="#222" stroke="#222" stroke-width="0.28" >Time (hrs)</text>
<path d="M48.00 117.50L157.00 161.50L264.00 111.50L149.50 73.50Z" fill="#ff3cff"/>
<path transform="matrix(0.11450 0.03800 0 -0.09149 149.50 73.50)" d="M0 0L0 0.0 175 0.1 198 3.4 208 11.1 216 22.7 241 89.6 246 97.6 251 100.0 256 96.1 261 86.8 278 37.0 288 16.1 301 4.0 316 0.5 509 0.9 614 4.8 687 13.1 797 34.9 847 42.4 912 47.6 1000 50.1L1000 0L992 -8.5 -8 -7.7Z" fill="url(#sa)"/>
<path transform="matrix(0.11445 0.03805 0 -0.09159 148.58 73.90)" d="M0 0L0 0.0 175 0.1 198 3.6 208 11.5 216 23.6 241 93.4 246 101.8 251 104.3 256 100.3 261 90.5 278 38.6 288 16.8 301 4.2 316 0.5 506 0.8 614 4.6 687 12.6 797 33.4 847 40.6 912 45.6 1000 48.0L1000 0L992 -8.5 -8 -7.7Z" fill="url(#sa)"/>
<path transform="matrix(0.11440 0.03811 0 -0.09170 147.65 74.30)" d="M0 0L0 0.0 175 0.1 198 3.7 208 12.1 216 24.8 241 98.1 246 107.0 251 109.5 256 105.3 261 95.1 278 40.6 288 17.7 301 4.4 316 0.5 506 0.8 614 4.3 687 11.8 797 31.4 847 38.1 912 42.8 1000 45.0L1000 0L991 -8.5 -8 -7.7Z" fill="url(#sa)"/>
<path transform="matrix(0.11435 0.03816 0 -0.09180 146.73 74.70)" d="M0 0L0 0.0 175 0.1 198 3.9 208 12.8 216 26.3 241 103.7 246 113.1 251 115.8 256 111.3 261 100.5 278 42.9 288 18.7 301 4.7 316 0.5 504 0.7 614 3.9 687 10.8 847 34.7 912 39.0 1000 41.0L1000 0L991 -8.5 -8 -7.7Z" fill="url(#sa)"/>
<path transform="matrix(0.11430 0.03822 0 -0.09190 145.81 75.10)" d="M0 0L0 0.0 175 0.1 188 1.0 198 4.2 208 13.6 216 27.9 241 110.0 246 120.0 251 122.8 256 118.1 261 106.6 278 45.5 288 19.8 298 6.7 313 0.8 496 0.5 614 3.4 687 9.4 847 30.5 912 34.2 1000 36.0L1000 0L991 -8.5 -8 -7.7Z" fill="url(#sa)"/>
<path transform="matrix(0.11425 0.03827 0 -0.09201 144.89 75.50)" d="M0 0L0 0.0 175 0.1 188 1.1 198 4.4 208 14.4 216 29.6 241 116.8 246 127.4 251 130.4 256 125.4 261 113.2 278 48.3 288 21.0 298 7.1 313 0.9 489 0.4 612 2.8 684 7.7 847 25.5 1000 30.1L1000 0L991 -8.5 -8 -7.7Z" fill="url(#sa)"/>
<path transform="matrix(0.11420 0.03833 0 -0.09211 143.96 75.90)" d="M0 0L0 0.0 175 0.1 188 1.1 198 4.7 208 15.3 216 31.4 241 123.9 246 135.1 251 138.3 256 133.0 261 120.1 278 51.2 288 22.3 298 7.6 313 0.9 476 0.3 612 2.2 684 6.1 847 20.4 1000 24.0L1000 0L991 -8.5 -8 -7.7Z" fill="url(#sa)"/>
<path transform="matrix(0.11415 0.03838 0 -0.09221 143.04 76.30)" d="M0 0L0 0.0 175 0.1 188 1.2 198 5.0 208 16.2 216 33.2 241 131.1 246 142.9 251 146.3 256 140.7 261 127.0 278 54.2 288 23.6 298 8.0 313 1.0 612 1.7 847 15.4 1000 18.2L1000 0L991 -8.5 -8 -7.7Z" fill="url(#sa)"/>
<path transform="matrix(0.11410 0.03844 0 -0.09231 142.12 76.70)" d="M0 0L0 0.0 175 0.1 188 1.3 198 5.3 208 17.0 216 35.0 241 138.2 246 150.6 251 154.2 256 148.3 261 133.9 278 57.1 288 24.9 298 8.4 313 1.0 609 1.2 847 11.2 1000 13.2L1000 0L991 -8.5 -8 -7.7Z" fill="url(#sa)"/>
<path transform="matrix(0.11405 0.03849 0 -0.09242 141.20 77.10)" d="M0 0L0 0.0 175 0.2 188 1.3 198 5.5 208 17.9 216 36.7 241 144.9 246 158.0 251 161.8 256 155.5 261 140.5 278 59.9 288 26.1 298 8.8 306 3.3 313 1.1 607 0.8 847 7.8 1000 9.2L1000 0L991 -8.5 -8 -7.7Z" fill="url(#sa)"/>
<path transform="matrix(0.11400 0.03855 0 -0.09252 140.27 77.50)" d="M0 0L0 0.0 175 0.2 188 1.4 198 5.8 208 18.7 216 38.4 241 151.7 246 165.4 251 169.3 256 162.8 261 147.0 278 62.7 288 27.3 298 9.2 311 1.7 336 0.0 591 0.4 1000 6.2L1000 0L991 -8.5 -8 -7.7Z" fill="url(#sa)"/>
<path transform="matrix(0.11395 0.03860 0 -0.09262 139.35 77.90)" d="M0 0L0 0.0 175 0.2 188 1.4 198 6.0 208 19.6 216 40.2 241 158.7 246 173.0 248 176.4 251 177.1 256 170.3 261 153.8 278 65.6 288 28.5 298 9.7 311 1.8 333 0.0 576 0.2 1000 4.1L1000 0L991 -8.5 -8 -7.7Z" fill="url(#sa)"/>
<path transform="matrix(0.11390 0.03865 0 -0.09273 138.43 78.30)" d="M0 0L0 0.0 175 0.2 188 1.5 198 6.3 208 20.5 216 42.0 241 165.8 246 180.7 248 184.3 251 185.0 256 177.9 261 160.7 278 68.5 288 29.8 298 10.1 311 1.8 333 0.0 536 0.1 1000 2.7L1000 0L991 -8.5 -8 -7.7Z" fill="url(#sa)"/>
<path transform="matrix(0.11385 0.03871 0 -0.09283 137.50 78.70)" d="M0 0L0 0.0 175 0.2 188 1.6 198 6.6 203 12.2 208 21.3 216 43.7 241 172.8 246 188.4 248 192.1 251 192.9 256 185.5 261 167.5 278 71.4 288 31.1 298 10.5 311 1.9 348 0.0 1000 1.7L1000 0L991 -8.5 -8 -7.7Z" fill="url(#sa)"/>
<path transform="matrix(0.11380 0.03876 0 -0.09293 136.58 79.10)" d="M0 0L0 0.0 175 0.2 188 1.6 198 6.8 203 12.7 208 22.2 216 45.5 241 179.6 246 195.8 248 199.7 251 200.5 256 192.8 261 174.1 278 74.3 288 32.3 298 10.9 311 2.0 341 0.0 1000 1.1L1000 0L991 -8.5 -8 -7.7Z" fill="url(#sa)"/>
<path transform="matrix(0.11375 0.03882 0 -0.09303 135.66 79.50)" d="M0 0L0 0.0 175 0.2 188 1.7 198 7.1 203 13.1 208 22.9 216 47.1 241 186.0 246 202.8 248 206.8 251 207.6 256 199.6 261 180.3 278 76.9 288 33.5 298 11.3 311 2.1 341 0.0 1000 0.7L1000 0L991 -8.5 -8 -7.7Z" fill="url(#sa)"/>
<path transform="matrix(0.11370 0.03887 0 -0.09314 134.74 79.90)" d="M0 0L0 0.0 175 0.2 188 1.7 198 7.3 203 13.6 208 23.7 216 48.5 241 191.8 246 209.1 248 213.3 251 214.1 256 205.9 261 185.9 278 79.3 288 34.5 298 11.7 311 2.1 338 0.0 1000 0.5L1000 0L991 -8.5 -8 -7.7Z" fill="url(#sa)"/>
<path transform="matrix(0.11365 0.03893 0 -0.09324 133.81 80.30)" d="M0 0L0 0.0 175 0.2 188 1.8 198 7.5 203 13.9 208 24.3 216 49.8 241 196.9 246 214.7 248 218.9 251 219.8 256 211.3 261 190.8 278 81.4 288 35.4 298 12.0 311 2.2 338 0.0 1000 0.3L1000 0L991 -8.4 -8 -7.7Z" fill="url(#sa)"/>
<path transform="matrix(0.11360 0.03898 0 -0.09334 132.89 80.70)" d="M0 0L0 0.0 175 0.2 188 1.8 198 7.6 203 14.2 208 24.8 216 50.9 241 201.2 246 219.3 248 223.7 251 224.6 256 215.9 261 195.0 278 83.2 288 36.2 298 12.2 311 2.2 338 0.0 1000 0.2L1000 0L991 -8.4 -8 -7.7Z" fill="url(#sa)"/>
<path transform="matrix(0.11355 0.03904 0 -0.09345 131.97 81.10)" d="M0 0L0 0.0 175 0.2 188 1.9 198 7.8 203 14.5 208 25.3 216 51.8 241 204.8 246 223.3 248 227.7 251 228.6 256 219.8 261 198.5 278 84.7 288 36.8 298 12.5 311 2.3 338 0.0 1000 0.1L1000 0L991 -8.4 -8 -7.7Z" fill="url(#sa)"/>
<path transform="matrix(0.11350 0.03909 0 -0.09355 131.05 81.50)" d="M0 0L0 0.0 175 0.2 188 1.9 198 7.9 203 14.7 208 25.7 216 52.6 241 208.0 246 226.7 248 231.2 251 232.2 256 223.2 261 201.6 278 86.0 288 37.4 298 12.7 311 2.3 338 0.0 1000 0.1L1000 0L991 -8.4 -8 -7.7Z" fill="url(#sa)"/>
<path transform="matrix(0.11345 0.03915 0 -0.09365 130.12 81.90)" d="M0 0L0 0.0 175 0.2 188 1.9 198 8.0 203 14.9 208 26.0 216 53.4 241 211.0 246 230.0 248 234.6 251 235.5 256 226.4 261 204.5 278 87.2 288 37.9 298 12.8 311 2.3 338 0.0 1000 0.0L1000 0L991 -8.4 -8 -7.7Z" fill="url(#sa)"/>
<path transform="matrix(0.11340 0.03920 0 -0.09375 129.20 82.30)" d="M0 0L0 0.0 175 0.2 188 1.9 198 8.1 203 15.1 208 26.4 216 54.2 241 214.0 246 233.3 248 237.9 251 238.9 256 229.7 261 207.4 278 88.5 288 38.5 298 13.0 303 6.9 311 2.4 338 0.0 1000 0.0L1000 0L991 -8.4 -8 -7.7Z" fill="url(#sa)"/>
<path transform="matrix(0.11335 0.03925 0 -0.09386 128.28 82.70)" d="M0 0L0 0.0 135 0.0 150 1.7 175 0.2 188 2.0 198 8.3 203 15.4 208 26.8 216 55.0 241 217.3 246 236.9 248 241.6 251 242.6 256 233.2 261 210.6 278 89.8 288 39.1 298 13.2 303 7.0 311 2.4 338 0.0 1000 0.0L1000 0L991 -8.4 -8 -7.7Z" fill="url(#sa)"/>
<path transform="matrix(0.11330 0.03931 0 -0.09396 127.35 83.10)" d="M0 0L0 0.0 135 0.0 150 1.9 175 0.2 188 2.0 198 8.4 203 15.6 208 27.3 216 56.0 241 221.1 246 241.0 248 245.8 251 246.8 256 237.3 261 214.3 278 91.4 288 39.8 298 13.5 303 7.1 311 2.4 338 0.0 1000 0.0L1000 0L991 -8.4 -8 -7.7Z" fill="url(#sa)"/>
<path transform="matrix(0.11325 0.03936 0 -0.09406 126.43 83.50)" d="M0 0L0 0.0 135 0.0 150 2.1 175 0.2 188 2.1 198 8.6 203 15.9 208 27.8 216 57.1 241 225.6 246 245.9 248 250.8 251 251.8 256 242.1 261 218.6 278 93.3 288 40.6 298 13.7 303 7.3 311 2.5 338 0.0 1000 0.0L1000 0L991 -8.4 -8 -7.7Z" fill="url(#sa)"/>
<path transform="matrix(0.11320 0.03942 0 -0.09416 125.51 83.90)" d="M0 0L0 0.0 135 0.0 150 2.4 175 0.2 188 2.1 198 8.8 203 16.3 208 28.5 216 58.5 241 231.0 246 251.9 248 256.9 251 257.9 256 248.0 261 223.9 278 95.5 288 41.6 298 14.1 303 7.4 311 2.5 338 0.0 1000 0.0L1000 0L991 -8.4 -8 -7.7Z" fill="url(#sa)"/>
<path transform="matrix(0.11315 0.03947 0 -0.09427 124.59 84.30)" d="M0 0L0 0.0 135 0.0 150 2.6 175 0.3 188 2.2 198 9.1 203 16.9 208 29.5 216 60.5 241 238.9 246 260.4 248 265.6 251 266.6 256 256.4 261 231.5 278 98.8 288 43.0 298 14.5 303 7.7 311 2.6 338 0.0 1000 0.0L1000 0L991 -8.4 -8 -7.7Z" fill="url(#sa)"/>
<path transform="matrix(0.11310 0.03953 0 -0.09437 123.66 84.70)" d="M0 0L0 0.0 135 0.0 150 2.9 160 0.3 175 0.3 188 2.3 198 9.5 203 17.6 208 30.7 216 63.0 241 249.0 246 271.5 248 276.9 251 278.0 256 267.3 261 241.3 278 103.0 288 44.8 298 15.2 303 8.0 311 2.7 338 0.0 1000 0.0L1000 0L991 -8.4 -8 -7.7Z" fill="url(#sa)"/>
<path transform="matrix(0.11305 0.03958 0 -0.09447 122.74 85.10)" d="M0 0L0 0.0 135 0.0 150 3.2 160 0.4 175 0.3 188 2.4 198 9.9 203 18.4 208 32.1 216 65.9 241 260.5 246 284.0 248 289.6 251 290.8 256 279.6 261 252.5 278 107.7 288 46.9 298 15.9 303 8.4 311 2.9 338 0.0 1000 0.0L1000 0L991 -8.4 -8 -7.7Z" fill="url(#sa)"/>
<path transform="matrix(0.11300 0.03964 0 -0.09458 121.82 85.50)" d="M0 0L0 0.0 135 0.0 150 3.6 160 0.4 175 0.3 188 2.5 198 10.3 203 19.2 208 33.6 216 68.9 241 272.3 246 296.8 248 302.7 251 303.9 256 292.2 261 263.8 278 112.6 288 49.0 298 16.6 303 8.8 311 3.0 338 0.0 1000 0.0L1000 0L991 -8.4 -8 -7.7Z" fill="url(#sa)"/>
<path transform="matrix(0.11295 0.03969 0 -0.09468 120.90 85.90)" d="M0 0L0 0.0 135 0.1 150 3.9 160 0.5 175 0.3 188 2.6 198 10.8 203 20.0 208 35.0 216 71.8 241 283.5 246 309.1 248 315.3 251 316.5 256 304.3 261 274.8 278 117.2 288 51.0 298 17.3 303 9.1 311 3.1 321 0.6 338 0.0 1000 0.0L1000 0L991 -8.4 -8 -7.6Z" fill="url(#sa)"/>
<path transform="matrix(0.11290 0.03975 0 -0.09478 119.97 86.30)" d="M0 0L0 0.0 135 0.1 150 4.3 160 0.5 175 0.3 188 2.7 198 11.2 203 20.9 208 36.4 216 74.7 241 295.2 246 321.8 248 328.2 251 329.5 256 316.8 261 286.0 278 122.0 288 53.1 298 18.0 303 9.5 311 3.3 321 0.6 338 0.0 1000 0.0L1000 0L991 -8.4 -8 -7.6Z" fill="url(#sa)"/>
<path transform="matrix(0.11285 0.03980 0 -0.09488 119.05 86.70)" d="M0 0L0 0.0 135 0.1 150 4.7 160 0.6 175 0.3 188 2.8 198 11.7 203 21.7 208 37.9 216 77.7 241 307.2 246 334.9 248 341.5 251 342.9 256 329.7 261 297.7 278 127.0 288 55.2 298 18.7 303 9.9 311 3.4 321 0.7 338 0.0 1000 0.0L1000 0L991 -8.4 -8 -7.6Z" fill="url(#sa)"/>
<path transform="matrix(0.11280 0.03985 0 -0.09499 118.13 87.10)" d="M0 0L0 0.0 135 0.1 150 5.2 160 0.6 175 0.3 188 2.9 193 6.1 198 12.1 203 22.6 208 39.4 216 80.9 241 319.6 246 348.4 248 355.3 251 356.7 256 342.9 261 309.7 278 132.1 288 57.5 298 19.4 303 10.3 311 3.5 321 0.7 338 0.0 1000 0.0L1000 0L991 -8.4 -8 -7.6Z" fill="url(#sa)"/>
<path transform="matrix(0.11275 0.03991 0 -0.09509 117.20 87.50)" d="M0 0L0 0.0 135 0.1 150 5.6 160 0.7 175 0.4 188 3.0 193 6.4 198 12.6 203 23.5 208 41.0 216 84.1 241 332.2 246 362.1 248 369.3 251 370.8 256 356.5 261 321.9 278 137.3 288 59.7 298 20.2 303 10.7 311 3.7 321 0.7 338 0.0 1000 0.0L1000 0L991 -8.4 -8 -7.6Z" fill="url(#sa)"/>
<path transform="matrix(0.11270 0.03996 0 -0.09519 116.28 87.90)" d="M0 0L0 0.0 135 0.1 150 6.1 160 0.7 175 0.4 188 3.1 193 6.6 198 13.1 203 24.4 208 42.6 216 87.3 241 345.0 246 376.1 248 383.5 251 385.0 256 370.2 261 334.3 278 142.6 288 62.0 298 21.0 303 11.1 311 3.8 321 0.7 338 0.0 1000 0.0L1000 0L991 -8.4 -8 -7.6Z" fill="url(#sa)"/>
<path transform="matrix(0.11265 0.04002 0 -0.09530 115.36 88.30)" d="M0 0L0 0.0 135 0.1 150 6.7 160 0.8 175 0.4 188 3.3 193 6.9 198 13.6 203 25.3 208 44.1 216 90.6 241 357.8 246 390.1 248 397.8 251 399.4 256 384.0 261 346.8 278 147.9 288 64.4 298 21.8 303 11.5 311 3.9 321 0.8 338 0.0 1000 0.0L1000 0L991 -8.4 -8 -7.6Z" fill="url(#sa)"/>
<path transform="matrix(0.11260 0.04007 0 -0.09540 114.44 88.70)" d="M0 0L0 0.0 135 0.1 140 1.1 150 7.3 160 0.9 175 0.4 188 3.4 193 7.1 198 14.1 203 26.2 208 45.7 216 93.8 241 370.7 246 404.1 248 412.2 251 413.8 256 397.8 261 359.2 278 153.3 288 66.7 298 22.6 303 11.9 311 4.1 321 0.8 338 0.0 1000 0.0L1000 0L991 -8.4 -8 -7.6Z" fill="url(#sa)"/>
<path transform="matrix(0.11255 0.04013 0 -0.09550 113.51 89.10)" d="M0 0L0 0.0 135 0.1 140 1.2 150 7.9 160 0.9 175 0.4 188 3.5 193 7.4 198 14.6 203 27.1 208 47.3 216 97.1 241 383.5 246 418.1 248 426.4 251 428.1 256 411.6 261 371.6 278 158.5 288 69.0 298 23.3 303 12.4 311 4.2 321 0.8 338 0.0 1000 0.0L1000 0L991 -8.4 -8 -7.6Z" fill="url(#sa)"/>
<path transform="matrix(0.11250 0.04018 0 -0.09560 112.59 89.50)" d="M0 0L0 0.0 135 0.1 140 1.3 150 8.5 160 1.0 175 0.4 188 3.6 193 7.6 198 15.1 203 28.0 208 48.9 216 100.3 241 396.1 246 431.9 248 440.4 251 442.2 256 425.1 261 383.9 278 163.8 288 71.2 298 24.1 303 12.8 311 4.4 321 0.8 338 0.0 1000 0.0L1000 0L991 -8.4 -8 -7.6Z" fill="url(#sa)"/>
<path transform="matrix(0.11245 0.04024 0 -0.09571 111.67 89.90)" d="M0 0L0 0.0 135 0.1 140 1.4 150 9.2 160 1.1 175 0.4 188 3.7 193 7.8 198 15.5 203 28.9 208 50.4 216 103.4 241 408.5 246 445.4 248 454.2 251 456.0 256 438.4 261 395.9 278 168.9 288 73.5 298 24.9 303 13.2 311 4.5 321 0.9 338 0.0 1000 0.0L1000 0L991 -8.4 -8 -7.6Z" fill="url(#sa)"/>
<path transform="matrix(0.11240 0.04029 0 -0.09581 110.75 90.30)" d="M0 0L0 0.0 135 0.1 140 1.5 150 9.8 160 1.2 175 0.5 188 3.8 193 8.1 198 16.0 203 29.7 208 51.9 216 106.4 241 420.6 246 458.6 248 467.6 251 469.5 256 451.4 261 407.6 278 173.9 288 75.6 298 25.6 303 13.6 311 4.6 321 0.9 338 0.0 1000 0.0L1000 0L991 -8.4 -8 -7.6Z" fill="url(#sa)"/>
<path transform="matrix(0.11235 0.04035 0 -0.09591 109.82 90.70)" d="M0 0L0 0.0 135 0.1 140 1.6 150 10.6 160 1.2 175 0.5 188 3.9 193 8.3 198 16.5 203 30.7 208 53.5 216 109.8 241 433.8 246 473.0 248 482.3 251 484.2 256 465.6 261 420.4 278 179.3 288 78.0 298 26.4 303 14.0 311 4.8 321 0.9 338 0.0 1000 0.0L1000 0L991 -8.4 -8 -7.6Z" fill="url(#sa)"/>
<path transform="matrix(0.11230 0.04040 0 -0.09602 108.90 91.10)" d="M0 0L0 0.0 135 0.2 140 1.8 148 10.4 150 11.3 160 1.3 175 0.5 188 4.1 193 8.6 198 17.0 203 31.7 208 55.3 216 113.5 241 448.3 246 488.8 248 498.5 251 500.4 256 481.2 261 434.5 278 185.3 288 80.6 298 27.3 303 14.4 311 4.9 321 1.0 338 0.0 1000 0.0L1000 0L991 -8.4 -8 -7.6Z" fill="url(#sa)"/>
<path transform="matrix(0.11225 0.04045 0 -0.09612 107.98 91.50)" d="M0 0L0 0.0 135 0.2 140 1.9 148 11.1 150 12.1 160 1.4 175 0.5 188 4.2 193 8.9 198 17.6 203 32.8 208 57.2 216 117.3 241 463.6 246 505.4 248 515.4 251 517.4 256 497.5 261 449.2 278 191.6 288 83.4 298 28.2 303 14.9 311 5.1 321 1.0 338 0.0 1000 0.0L1000 0L991 -8.4 -8 -7.6Z" fill="url(#sa)"/>
<path transform="matrix(0.11220 0.04051 0 -0.09622 107.05 91.90)" d="M0 0L0 0.0 135 0.2 140 2.0 148 11.8 150 12.9 160 1.5 175 0.5 188 4.4 193 9.2 198 18.2 203 33.8 208 59.1 216 121.2 241 478.8 246 522.0 248 532.4 251 534.5 256 513.9 261 464.0 278 198.0 288 86.1 298 29.1 303 15.4 311 5.3 321 1.0 338 0.0 1000 0.0L1000 0L991 -8.4 -8 -7.6Z" fill="url(#sa)"/>
<path transform="matrix(0.11215 0.04056 0 -0.09632 106.13 92.30)" d="M0 0L0 0.0 135 0.2 140 2.1 148 12.6 150 13.8 160 1.6 175 0.5 188 4.5 193 9.5 198 18.8 203 34.9 208 60.9 216 124.9 241 493.6 246 538.1 248 548.8 251 550.9 256 529.7 261 478.3 278 204.1 288 88.8 298 30.0 303 15.9 311 5.4 321 1.0 338 0.0 1000 0.0L1000 0L991 -8.4 -8 -7.6Z" fill="url(#sa)"/>
<path transform="matrix(0.11210 0.04062 0 -0.09643 105.21 92.70)" d="M0 0L0 0.0 135 0.2 140 2.3 148 13.4 150 14.6 160 1.7 175 0.5 188 4.6 193 9.7 198 19.3 203 35.8 208 62.6 216 128.4 241 507.2 246 552.9 248 563.9 251 566.1 256 544.3 261 491.5 278 209.7 288 91.2 298 30.9 303 16.3 311 5.6 321 1.1 338 0.0 1000 0.0L1000 0L991 -8.4 -8 -7.6Z" fill="url(#sa)"/>
<path transform="matrix(0.11205 0.04067 0 -0.09653 104.29 93.10)" d="M0 0L0 0.0 135 0.2 140 2.4 148 14.2 150 15.5 160 1.8 175 0.6 188 4.7 193 10.0 198 19.7 203 36.7 208 64.0 216 131.3 241 518.9 246 565.7 248 577.0 251 579.2 256 556.9 261 502.9 278 214.5 288 93.3 298 31.6 303 16.7 311 5.7 321 1.1 338 0.0 1000 0.0L1000 0L991 -8.4 -8 -7.6Z" fill="url(#sa)"/>
<path transform="matrix(0.11200 0.04073 0 -0.09663 103.36 93.50)" d="M0 0L0 0.0 135 0.2 140 2.6 148 15.1 150 16.4 160 1.9 175 0.6 188 4.8 193 10.1 198 20.1 203 37.3 208 65.2 216 133.7 241 528.3 246 575.9 248 587.4 251 589.7 256 567.0 261 511.9 278 218.4 288 95.0 298 32.2 303 17.0 311 5.8 321 1.1 338 0.0 1000 0.0L1000 0L991 -8.4 -8 -7.6Z" fill="url(#sa)"/>
<path transform="matrix(0.11195 0.04078 0 -0.09673 102.44 93.90)" d="M0 0L0 0.0 135 0.2 140 2.7 148 15.9 150 17.4 160 2.0 175 0.6 188 4.9 193 10.3 198 20.3 203 37.8 208 66.0 216 135.3 241 534.6 246 582.8 248 594.4 251 596.7 256 573.7 261 518.1 278 221.0 288 96.1 298 32.5 303 17.2 311 5.9 321 1.1 338 0.0 1000 0.0L1000 0L991 -8.4 -8 -7.6Z" fill="url(#sa)"/>
<path transform="matrix(0.11190 0.04084 0 -0.09684 101.52 94.30)" d="M0 0L0 0.0 135 0.2 140 2.9 148 16.8 150 18.3 160 2.1 165 0.2 175 0.6 188 4.9 193 10.3 198 20.4 203 38.0 208 66.3 216 136.0 241 537.2 246 585.7 248 597.3 251 599.7 256 576.6 261 520.6 278 222.1 288 96.6 298 32.7 303 17.3 311 5.9 321 1.1 338 0.0 1000 0.0L1000 0L991 -8.4 -8 -7.6Z" fill="url(#sa)"/>
<path transform="matrix(0.11185 0.04089 0 -0.09694 100.60 94.70)" d="M0 0L0 0.0 135 0.3 140 3.0 148 17.6 150 19.3 160 2.2 165 0.2 175 0.6 188 4.9 193 10.3 198 20.4 203 37.9 208 66.2 216 135.7 241 536.2 246 584.6 248 596.2 251 598.6 256 575.5 261 519.7 278 221.7 288 96.4 298 32.6 303 17.3 311 5.9 321 1.1 338 0.0 1000 0.0L1000 0L991 -8.4 -8 -7.6Z" fill="url(#sa)"/>
<path transform="matrix(0.11180 0.04095 0 -0.09704 99.67 95.10)" d="M0 0L0 0.0 135 0.3 140 3.1 148 18.5 150 20.2 160 2.4 165 0.3 175 0.6 188 4.8 193 10.2 198 20.2 203 37.6 208 65.7 216 134.8 241 532.7 246 580.7 248 592.2 251 594.6 256 571.7 261 516.2 278 220.2 288 95.8 298 32.4 303 17.2 311 5.9 321 1.1 338 0.0 1000 0.0L1000 0L991 -8.4 -8 -7.6Z" fill="url(#sa)"/>
<path transform="matrix(0.11175 0.04100 0 -0.09715 98.75 95.50)" d="M0 0L0 0.0 135 0.3 140 3.3 148 19.4 150 21.2 160 2.5 165 0.3 175 0.6 188 4.8 193 10.1 198 20.0 203 37.2 208 65.0 216 133.4 241 527.0 246 574.5 248 585.9 251 588.2 256 565.6 261 510.7 278 217.9 288 94.8 298 32.1 303 17.0 311 5.8 321 1.1 338 0.0 1000 0.0L1000 0L991 -8.4 -8 -7.6Z" fill="url(#sa)"/>
<path transform="matrix(0.11170 0.04105 0 -0.09725 97.83 95.90)" d="M0 0L0 0.0 135 0.3 140 3.4 148 20.3 150 22.1 160 2.6 165 0.3 175 0.6 188 4.7 193 10.0 198 19.7 203 36.7 208 64.1 216 131.5 241 519.5 246 566.4 248 577.6 251 579.9 256 557.6 261 503.5 278 214.8 288 93.4 298 31.6 303 16.7 311 5.7 321 1.1 338 0.0 1000 0.0L1000 0L991 -8.4 -8 -7.6Z" fill="url(#sa)"/>
<path transform="matrix(0.11165 0.04111 0 -0.09735 96.90 96.30)" d="M0 0L0 0.0 135 0.3 140 3.6 148 21.1 150 23.1 160 2.7 165 0.3 175 0.5 188 4.6 193 9.8 198 19.4 203 36.1 208 63.0 216 129.3 241 510.8 246 556.9 248 567.9 251 570.1 256 548.2 261 495.0 278 211.2 288 91.9 298 31.1 303 16.5 311 5.6 321 1.1 338 0.0 1000 0.0L1000 0L991 -8.3 -8 -7.6Z" fill="url(#sa)"/>
<path transform="matrix(0.11160 0.04116 0 -0.09745 95.98 96.70)" d="M0 0L0 0.0 135 0.3 140 3.7 148 22.0 150 24.0 160 2.8 165 0.3 175 0.5 188 4.6 193 9.6 198 19.0 203 35.4 208 61.8 216 126.8 241 501.1 246 546.3 248 557.2 251 559.4 256 537.8 261 485.6 278 207.2 288 90.1 298 30.5 303 16.1 311 5.5 321 1.1 338 0.0 1000 0.0L1000 0L991 -8.3 -8 -7.6Z" fill="url(#sa)"/>
<path transform="matrix(0.11155 0.04122 0 -0.09756 95.06 97.10)" d="M0 0L0 0.0 135 0.3 140 3.9 148 22.9 150 25.0 160 2.9 165 0.3 175 0.5 188 4.5 193 9.4 198 18.7 203 34.7 208 60.6 216 124.3 241 491.0 246 535.3 248 545.9 251 548.0 256 526.9 261 475.8 278 203.0 288 88.3 298 29.9 303 15.8 311 5.4 321 1.0 338 0.0 1000 0.0L1000 0L991 -8.3 -8 -7.6Z" fill="url(#sa)"/>
<path transform="matrix(0.11150 0.04127 0 -0.09766 94.14 97.50)" d="M0 0L0 0.0 135 0.4 140 4.0 148 23.7 150 25.9 160 3.0 165 0.3 175 0.5 188 4.4 193 9.2 198 18.3 203 34.0 208 59.3 216 121.7 241 480.8 246 524.2 248 534.5 251 536.6 256 516.0 261 465.9 278 198.8 288 86.5 298 29.3 303 15.5 311 5.3 321 1.0 338 0.0 1000 0.0L1000 0L991 -8.3 -8 -7.6Z" fill="url(#sa)"/>
<path transform="matrix(0.11145 0.04133 0 -0.09776 93.21 97.90)" d="M0 0L0 0.0 135 0.4 140 4.2 148 24.5 150 26.8 160 3.1 165 0.3 175 0.5 188 4.3 193 9.0 198 17.9 203 33.2 208 58.0 216 118.9 241 470.0 246 512.4 248 522.5 251 524.6 256 504.4 261 455.4 278 194.3 288 84.5 298 28.6 303 15.1 311 5.2 321 1.0 338 0.0 1000 0.0L1000 0L991 -8.3 -8 -7.6Z" fill="url(#sa)"/>
<path transform="matrix(0.11140 0.04138 0 -0.09787 92.29 98.30)" d="M0 0L0 0.0 135 0.4 140 4.3 148 25.3 150 27.7 160 3.2 165 0.3 175 0.5 188 4.2 193 8.8 198 17.4 203 32.3 208 56.4 216 115.7 241 457.1 246 498.3 248 508.2 251 510.2 256 490.6 261 443.0 278 189.0 288 82.2 298 27.8 303 14.7 311 5.0 321 1.0 338 0.0 1000 0.0L1000 0L991 -8.3 -8 -7.6Z" fill="url(#sa)"/>
<path transform="matrix(0.11135 0.04144 0 -0.09797 91.37 98.70)" d="M0 0L0 0.0 135 0.4 140 4.4 148 26.1 150 28.5 160 3.3 165 0.3 185 2.7 193 8.5 198 16.8 203 31.3 208 54.6 216 112.0 241 442.4 246 482.3 248 491.9 251 493.8 256 474.8 261 428.7 278 182.9 288 79.6 298 26.9 303 14.3 311 4.9 321 0.9 338 0.0 1000 0.0L1000 0L991 -8.3 -8 -7.6Z" fill="url(#sa)"/>
<path transform="matrix(0.11130 0.04149 0 -0.09807 90.45 99.10)" d="M0 0L0 0.0 135 0.4 140 4.6 148 26.8 150 29.3 160 3.4 165 0.3 185 2.6 193 8.2 198 16.2 203 30.1 208 52.6 216 107.9 241 426.2 246 464.6 248 473.9 251 475.7 256 457.4 261 413.0 278 176.2 288 76.7 298 25.9 303 13.7 311 4.7 321 0.9 338 0.0 1000 0.0L1000 0L991 -8.3 -8 -7.6Z" fill="url(#sa)"/>
<path transform="matrix(0.11125 0.04155 0 -0.09817 89.52 99.50)" d="M0 0L0 0.0 135 0.4 140 4.7 148 27.5 150 30.1 160 3.5 165 0.3 185 2.5 193 7.8 198 15.5 203 28.9 208 50.4 216 103.4 241 408.8 246 445.6 248 454.5 251 456.3 256 438.7 261 396.1 278 169.0 288 73.5 298 24.9 303 13.2 311 4.5 321 0.9 338 0.0 1000 0.0L1000 0L991 -8.3 -8 -7.6Z" fill="url(#sa)"/>
<path transform="matrix(0.11120 0.04160 0 -0.09828 88.60 99.90)" d="M0 0L0 0.0 135 0.4 140 4.8 148 28.2 150 30.8 158 8.9 163 1.1 173 0.3 185 2.4 193 7.5 198 14.8 203 27.6 208 48.2 216 98.8 241 390.4 246 425.6 248 434.0 251 435.7 256 419.0 261 378.3 278 161.4 288 70.2 298 23.8 303 12.6 311 4.3 321 0.8 338 0.0 1000 0.0L1000 0L991 -8.3 -8 -7.6Z" fill="url(#sa)"/>
<path transform="matrix(0.11115 0.04165 0 -0.09838 87.68 100.30)" d="M0 0L0 0.0 135 0.4 140 4.9 148 28.8 150 31.5 158 9.1 163 1.2 173 0.2 185 2.3 193 7.1 198 14.1 203 26.2 208 45.8 216 94.0 241 371.3 246 404.8 248 412.8 251 414.5 256 398.5 261 359.8 278 153.5 288 66.8 298 22.6 303 12.0 311 4.1 321 0.8 338 0.0 1000 0.0L1000 0L991 -8.3 -8 -7.6Z" fill="url(#sa)"/>
<path transform="matrix(0.11110 0.04171 0 -0.09848 86.75 100.70)" d="M0 0L0 0.0 135 0.4 140 5.0 148 29.4 150 32.1 158 9.3 163 1.2 173 0.2 185 2.2 193 6.8 198 13.4 203 24.9 208 43.4 216 89.1 241 351.9 246 383.6 248 391.2 251 392.8 256 377.6 261 341.0 278 145.5 288 63.3 298 21.4 303 11.3 311 3.9 321 0.7 338 0.0 1000 0.0L1000 0L991 -8.3 -8 -7.6Z" fill="url(#sa)"/>
<path transform="matrix(0.11105 0.04176 0 -0.09859 85.83 101.10)" d="M0 0L0 0.0 135 0.4 140 5.1 148 29.9 150 32.7 158 9.4 163 1.2 173 0.2 185 2.0 193 6.3 198 12.6 203 23.4 208 40.8 216 83.7 241 330.7 246 360.5 248 367.7 251 369.1 256 354.9 261 320.5 278 136.7 288 59.5 298 20.1 303 10.7 311 3.6 321 0.7 338 0.0 1000 0.0L1000 0L991 -8.3 -8 -7.6Z" fill="url(#sa)"/>
<path transform="matrix(0.11100 0.04182 0 -0.09869 84.91 101.50)" d="M0 0L0 0.0 135 0.5 140 5.2 148 30.4 150 33.2 158 9.6 163 1.2 173 0.2 185 1.9 193 5.9 198 11.6 203 21.7 208 37.8 216 77.6 241 306.4 246 334.1 248 340.7 251 342.0 256 328.9 261 297.0 278 126.7 288 55.1 298 18.7 303 9.9 311 3.4 321 0.7 338 0.0 1000 0.0L1000 0L991 -8.3 -8 -7.6Z" fill="url(#sa)"/>
<path transform="matrix(0.11095 0.04187 0 -0.09879 83.99 101.90)" d="M0 0L0 0.0 135 0.5 140 5.2 148 30.8 150 33.6 158 9.7 163 1.2 185 1.7 193 5.4 198 10.7 203 19.8 208 34.6 216 71.0 241 280.7 246 306.0 248 312.1 251 313.3 256 301.3 261 272.0 278 116.0 288 50.5 298 17.1 303 9.0 311 3.1 321 0.6 338 0.0 1000 0.0L1000 0L991 -8.3 -8 -7.6Z" fill="url(#sa)"/>
<path transform="matrix(0.11090 0.04193 0 -0.09889 83.06 102.30)" d="M0 0L0 0.0 135 0.5 140 5.3 148 31.1 150 34.0 158 9.8 163 1.2 185 1.6 193 4.9 198 9.7 203 18.0 208 31.5 216 64.6 241 255.1 246 278.1 248 283.6 251 284.7 256 273.8 261 247.2 278 105.5 288 45.9 298 15.5 303 8.2 311 2.8 338 0.0 1000 0.0L1000 0L991 -8.3 -8 -7.6Z" fill="url(#sa)"/>
<path transform="matrix(0.11085 0.04198 0 -0.09900 82.14 102.70)" d="M0 0L0 0.0 135 0.5 140 5.3 148 31.4 150 34.3 158 9.9 163 1.2 185 1.4 193 4.4 198 8.8 203 16.3 208 28.5 216 58.5 241 231.1 246 252.0 248 257.0 251 258.0 256 248.0 261 224.0 278 95.5 288 41.6 298 14.1 303 7.4 311 2.5 338 0.0 1000 0.0L1000 0L991 -8.3 -8 -7.6Z" fill="url(#sa)"/>
<path transform="matrix(0.11080 0.04204 0 -0.09910 81.22 103.10)" d="M0 0L0 0.0 135 0.5 140 5.4 148 31.7 150 34.6 158 10.0 163 1.3 185 1.3 193 4.0 198 8.0 203 14.9 208 25.9 216 53.2 241 210.3 246 229.3 248 233.8 251 234.8 256 225.7 261 203.8 278 86.9 288 37.8 298 12.8 303 6.8 311 2.3 338 0.0 1000 0.0L1000 0L991 -8.3 -8 -7.6Z" fill="url(#sa)"/>
<path transform="matrix(0.11075 0.04209 0 -0.09920 80.30 103.50)" d="M0 0L0 0.0 135 0.5 140 5.4 148 31.8 150 34.8 158 10.0 163 1.3 185 1.2 198 7.3 203 13.5 208 23.6 216 48.3 241 191.0 246 208.2 248 212.4 251 213.2 256 205.0 261 185.1 278 79.0 288 34.4 298 11.6 311 2.1 338 0.0 1000 0.0L1000 0L991 -8.3 -8 -7.6Z" fill="url(#sa)"/>
<path transform="matrix(0.11070 0.04215 0 -0.09930 79.37 103.90)" d="M0 0L0 0.0 135 0.5 140 5.4 148 31.9 150 34.9 158 10.1 163 1.3 185 1.1 198 6.5 203 12.2 208 21.3 216 43.6 241 172.3 246 187.9 248 191.6 251 192.3 256 184.9 261 167.0 278 71.2 288 31.0 298 10.5 311 1.9 338 0.0 1000 0.0L1000 0L991 -8.3 -8 -7.6Z" fill="url(#sa)"/>
<path transform="matrix(0.11065 0.04220 0 -0.09941 78.45 104.30)" d="M0 0L0 0.0 135 0.5 140 5.4 148 32.0 150 34.9 158 10.1 163 1.3 185 0.9 198 5.9 203 10.9 208 19.1 216 39.2 241 154.8 246 168.8 248 172.2 251 172.8 256 166.2 261 150.1 278 64.0 288 27.8 298 9.4 311 1.7 338 0.0 1000 0.0L1000 0L991 -8.3 -8 -7.6Z" fill="url(#sa)"/>
<path transform="matrix(0.11060 0.04225 0 -0.09951 77.53 104.70)" d="M0 0L0 0.0 135 0.5 140 5.4 148 31.9 150 34.9 158 10.1 163 1.3 183 0.6 198 5.3 208 17.2 216 35.2 241 139.2 246 151.7 251 155.3 256 149.4 261 134.9 278 57.5 288 25.0 298 8.5 311 1.5 338 0.0 1000 0.0L1000 0L991 -8.3 -8 -7.6Z" fill="url(#sa)"/>
<path transform="matrix(0.11055 0.04231 0 -0.09961 76.60 105.10)" d="M0 0L0 0.0 135 0.5 140 5.4 148 31.8 150 34.8 158 10.0 163 1.3 183 0.5 198 4.8 208 15.5 216 31.9 241 125.9 246 137.2 251 140.5 256 135.1 261 122.0 278 52.0 288 22.6 298 7.7 311 1.4 338 0.0 1000 0.0L1000 0L991 -8.3 -8 -7.6Z" fill="url(#sa)"/>
<path transform="matrix(0.11050 0.04236 0 -0.09972 75.68 105.50)" d="M0 0L0 0.0 135 0.5 140 5.4 148 31.7 150 34.6 158 10.0 163 1.2 183 0.5 198 4.4 208 14.2 216 29.2 241 115.3 246 125.7 251 128.7 256 123.7 261 111.7 278 47.6 288 20.7 298 7.0 311 1.3 1000 0.0L1000 0L991 -8.3 -8 -7.6Z" fill="url(#sa)"/>
<path transform="matrix(0.11045 0.04242 0 -0.09982 74.76 105.90)" d="M0 0L0 0.0 135 0.5 140 5.3 148 31.4 150 34.3 158 9.9 163 1.2 183 0.4 198 4.0 208 13.1 216 26.8 241 105.8 246 115.3 251 118.1 256 113.5 261 102.5 278 43.7 288 19.0 298 6.4 311 1.2 1000 0.0L1000 0L991 -8.3 -8 -7.6Z" fill="url(#sa)"/>
<path transform="matrix(0.11040 0.04247 0 -0.09992 73.84 106.30)" d="M0 0L0 0.0 135 0.5 140 5.3 148 31.1 150 34.0 158 9.8 163 1.2 183 0.4 198 3.7 208 12.0 216 24.6 241 97.1 246 105.8 251 108.4 256 104.2 261 94.1 278 40.1 288 17.5 298 5.9 311 1.1 1000 0.0L1000 0L991 -8.3 -8 -7.6Z" fill="url(#sa)"/>
<path transform="matrix(0.11035 0.04253 0 -0.10002 72.91 106.70)" d="M0 0L0 0.0 135 0.5 140 5.2 148 30.8 150 33.6 158 9.7 163 1.2 183 0.4 198 3.4 208 11.0 216 22.6 241 89.2 246 97.2 251 99.5 256 95.7 261 86.4 278 36.9 288 16.0 298 5.4 311 1.0 1000 0.0L1000 0L991 -8.3 -8 -7.6Z" fill="url(#sa)"/>
<path transform="matrix(0.11030 0.04258 0 -0.10013 71.99 107.10)" d="M0 0L0 0.0 135 0.5 140 5.2 148 30.4 150 33.2 158 9.6 163 1.2 183 0.3 198 3.1 208 10.1 216 20.8 241 82.0 246 89.4 251 91.5 256 88.0 261 79.5 278 33.9 288 14.7 298 5.0 311 0.9 1000 0.0L1000 0L991 -8.3 -8 -7.6Z" fill="url(#sa)"/>
<path transform="matrix(0.11025 0.04264 0 -0.10023 71.07 107.50)" d="M0 0L0 0.0 135 0.4 140 5.1 148 29.9 150 32.7 158 9.4 163 1.2 183 0.3 198 2.9 208 9.3 216 19.1 241 75.5 246 82.4 251 84.3 256 81.1 261 73.2 278 31.2 288 13.6 298 4.6 311 0.8 1000 0.0L1000 0L991 -8.3 -8 -7.6Z" fill="url(#sa)"/>
<path transform="matrix(0.11020 0.04269 0 -0.10033 70.15 107.90)" d="M0 0L0 0.0 135 0.4 140 5.0 148 29.4 150 32.1 158 9.3 163 1.2 183 0.3 198 2.7 208 8.6 216 17.7 241 69.8 246 76.1 251 77.9 256 74.9 261 67.6 278 28.9 288 12.6 298 4.2 311 0.8 1000 0.0L1000 0L991 -8.3 -8 -7.5Z" fill="url(#sa)"/>
<path transform="matrix(0.11015 0.04275 0 -0.10044 69.22 108.30)" d="M0 0L0 0.0 135 0.4 140 4.9 148 28.8 150 31.5 158 9.1 163 1.1 183 0.3 198 2.5 208 8.0 216 16.4 241 64.7 246 70.6 251 72.3 256 69.5 261 62.7 278 26.8 288 11.6 298 3.9 311 0.7 1000 0.0L1000 0L991 -8.3 -8 -7.5Z" fill="url(#sa)"/>
<path transform="matrix(0.11010 0.04280 0 -0.10054 68.30 108.70)" d="M0 0L0 0.0 135 0.4 140 4.8 148 28.2 150 30.8 158 8.9 163 1.1 180 0.2 198 2.3 208 7.4 216 15.3 241 60.4 246 65.8 251 67.4 261 58.5 278 25.0 288 10.9 298 3.7 311 0.7 1000 0.0L1000 0L991 -8.3 -8 -7.5Z" fill="url(#sa)"/>
<path transform="matrix(0.11005 0.04285 0 -0.10064 67.38 109.10)" d="M0 0L0 0.0 135 0.4 140 4.7 148 27.5 150 30.1 158 8.7 163 1.1 180 0.1 198 2.2 208 7.0 216 14.3 241 56.6 246 61.8 251 63.2 261 54.9 278 23.4 288 10.2 298 3.4 311 0.6 1000 0.0L1000 0L991 -8.3 -8 -7.5Z" fill="url(#sa)"/>
<path transform="matrix(0.11000 0.04291 0 -0.10074 66.45 109.50)" d="M0 0L0 0.0 135 0.4 140 4.6 148 26.8 150 29.3 158 8.5 163 1.1 180 0.1 198 2.0 208 6.6 216 13.5 241 53.4 246 58.2 251 59.6 261 51.8 278 22.1 288 9.6 298 3.3 311 0.6 1000 0.0L1000 0L991 -8.3 -8 -7.5Z" fill="url(#sa)"/>
<path transform="matrix(0.10995 0.04296 0 -0.10085 65.53 109.90)" d="M0 0L0 0.0 135 0.4 140 4.4 148 26.1 150 28.5 158 8.2 163 1.0 180 0.1 198 1.9 208 6.2 216 12.8 241 50.5 246 55.0 251 56.4 261 48.9 278 20.9 288 9.1 298 3.1 311 0.6 1000 0.0L1000 0L991 -8.3 -8 -7.5Z" fill="url(#sa)"/>
<path transform="matrix(0.10990 0.04302 0 -0.10095 64.61 110.30)" d="M0 0L0 0.0 135 0.4 140 4.3 148 25.3 150 27.7 158 8.0 163 1.0 180 0.1 198 1.8 208 5.9 216 12.1 241 47.7 246 52.0 251 53.2 261 46.2 278 19.7 288 8.6 298 2.9 311 0.5 1000 0.0L1000 0L991 -8.3 -8 -7.5Z" fill="url(#sa)"/>
<path transform="matrix(0.10985 0.04307 0 -0.10105 63.69 110.70)" d="M0 0L0 0.0 135 0.4 140 4.2 148 24.5 150 26.8 158 7.7 163 1.0 198 1.7 208 5.5 216 11.3 241 44.8 246 48.8 251 50.0 261 43.4 278 18.5 288 8.1 298 2.7 311 0.5 1000 0.0L1000 0L991 -8.3 -8 -7.5Z" fill="url(#sa)"/>
<path transform="matrix(0.10980 0.04313 0 -0.10116 62.76 111.10)" d="M0 0L0 0.0 135 0.4 140 4.0 148 23.7 150 25.9 158 7.5 163 0.9 198 1.6 208 5.1 216 10.5 241 41.6 246 45.4 251 46.4 261 40.3 278 17.2 288 7.5 298 2.5 311 0.5 1000 0.0L1000 0L991 -8.3 -8 -7.5Z" fill="url(#sa)"/>
<path transform="matrix(0.10975 0.04318 0 -0.10126 61.84 111.50)" d="M0 0L0 0.0 135 0.3 140 3.9 148 22.9 150 25.0 158 7.2 163 0.9 198 1.4 208 4.7 216 9.6 241 38.0 246 41.4 251 42.4 261 36.8 288 6.8 298 2.3 311 0.4 1000 0.0L1000 0L991 -8.3 -8 -7.5Z" fill="url(#sa)"/>
<path transform="matrix(0.10970 0.04324 0 -0.10136 60.92 111.90)" d="M0 0L0 0.0 135 0.3 140 3.7 148 22.0 150 24.0 158 6.9 163 0.9 198 1.3 208 4.2 216 8.5 241 33.8 251 37.7 261 32.7 288 6.1 298 2.1 311 0.4 1000 0.0L1000 0L991 -8.3 -8 -7.5Z" fill="url(#sa)"/>
<path transform="matrix(0.10965 0.04329 0 -0.10146 60.00 112.30)" d="M0 0L0 0.0 135 0.3 140 3.6 148 21.1 150 23.1 158 6.7 163 0.8 198 1.1 216 7.4 241 29.3 251 32.7 261 28.4 288 5.3 311 0.3 1000 0.0L1000 0L991 -8.3 -8 -7.5Z" fill="url(#sa)"/>
<path transform="matrix(0.10960 0.04335 0 -0.10157 59.07 112.70)" d="M0 0L0 0.0 135 0.3 140 3.4 148 20.3 150 22.1 158 6.4 163 0.8 198 0.9 216 6.3 241 24.8 251 27.7 261 24.0 288 4.5 311 0.3 1000 0.0L1000 0L991 -8.3 -8 -7.5Z" fill="url(#sa)"/>
<path transform="matrix(0.10955 0.04340 0 -0.10167 58.15 113.10)" d="M0 0L0 0.0 135 0.3 140 3.3 148 19.4 150 21.2 158 6.1 163 0.8 198 0.8 216 5.2 241 20.6 251 23.0 261 19.9 288 3.7 311 0.2 1000 0.0L1000 0L991 -8.3 -8 -7.5Z" fill="url(#sa)"/>
<path transform="matrix(0.10950 0.04345 0 -0.10177 57.23 113.50)" d="M0 0L0 0.0 135 0.3 140 3.1 148 18.5 150 20.2 160 2.3 168 0.0 208 2.1 221 6.4 241 16.8 251 18.8 261 16.3 288 3.0 311 0.2 1000 0.0L1000 0L991 -8.3 -8 -7.5Z" fill="url(#sa)"/>
<path transform="matrix(0.10945 0.04351 0 -0.10187 56.30 113.90)" d="M0 0L0 0.0 135 0.3 140 3.0 148 17.6 150 19.2 160 2.2 168 0.0 208 1.7 241 13.9 251 15.5 288 2.5 311 0.2 1000 0.0L1000 0L991 -8.3 -8 -7.5Z" fill="url(#sa)"/>
<path transform="matrix(0.10940 0.04356 0 -0.10198 55.38 114.30)" d="M0 0L0 0.0 135 0.2 140 2.9 148 16.8 150 18.3 160 2.1 168 0.0 208 1.4 241 11.6 251 13.0 288 2.1 311 0.1 1000 0.0L1000 0L991 -8.3 -8 -7.5Z" fill="url(#sa)"/>
<path transform="matrix(0.10935 0.04362 0 -0.10208 54.46 114.70)" d="M0 0L0 0.0 135 0.2 140 2.7 148 15.9 150 17.4 160 2.0 168 0.0 208 1.2 251 10.6 288 1.7 311 0.1 1000 0.0L1000 0L991 -8.3 -8 -7.5Z" fill="url(#sa)"/>
<path transform="matrix(0.10930 0.04367 0 -0.10218 53.54 115.10)" d="M0 0L0 0.0 135 0.2 140 2.6 148 15.1 150 16.4 160 1.9 168 0.0 208 0.9 251 8.3 288 1.3 311 0.1 1000 0.0L1000 0L991 -8.3 -8 -7.5Z" fill="url(#sa)"/>
<path transform="matrix(0.10925 0.04373 0 -0.10229 52.61 115.50)" d="M0 0L0 0.0 135 0.2 140 2.4 148 14.2 150 15.5 160 1.8 168 0.0 208 0.7 251 6.1 288 1.0 311 0.1 1000 0.0L1000 0L991 -8.3 -8 -7.5Z" fill="url(#sa)"/>
<path transform="matrix(0.10920 0.04378 0 -0.10239 51.69 115.90)" d="M0 0L0 0.0 135 0.2 140 2.3 148 13.4 150 14.6 160 1.7 168 0.0 208 0.5 251 4.2 311 0.0 1000 0.0L1000 0L991 -8.2 -8 -7.5Z" fill="url(#sa)"/>
<path transform="matrix(0.10915 0.04384 0 -0.10249 50.77 116.30)" d="M0 0L0 0.0 135 0.2 140 2.1 148 12.6 150 13.8 160 1.6 168 0.0 251 2.6 311 0.0 1000 0.0L1000 0L991 -8.2 -8 -7.5Z" fill="url(#sa)"/>
<path transform="matrix(0.10910 0.04389 0 -0.10259 49.85 116.70)" d="M0 0L0 0.0 135 0.2 140 2.0 148 11.8 150 12.9 160 1.5 168 0.0 251 1.3 1000 0.0L1000 0L991 -8.2 -8 -7.5Z" fill="url(#sa)"/>
<path transform="matrix(0.10905 0.04395 0 -0.10270 48.92 117.10)" d="M0 0L0 0.0 135 0.2 140 1.9 148 11.1 150 12.1 160 1.4 168 0.0 1000 0.0L1000 0L991 -8.2 -8 -7.5Z" fill="url(#sa)"/>
<path transform="matrix(0.10900 0.04400 0 -0.10280 48.00 117.50)" d="M0 0L0 0.0 135 0.2 140 1.8 148 10.4 150 11.3 160 1.3 168 0.0 1000 0.0L1000 0L1000 -0.0 0 -0.0Z" fill="url(#sa)"/>
<path d="M378.50 118.40L487.50 162.40L594.50 112.40L480.00 74.40Z" fill="#ff3cff"/>
<path transform="matrix(0.11450 0.03800 0 -0.09149 480.00 74.40)" d="M0 0L0 0.0 128 0.3 140 2.7 148 7.7 153 14.3 158 25.0 165 51.3 190 204.5 195 223.3 198 227.9 201 228.9 206 220.5 211 199.4 228 85.5 238 37.3 248 12.7 256 4.8 263 1.6 286 0.0 469 0.5 607 4.3 684 12.7 797 34.9 847 42.4 912 47.6 1000 50.1L1000 0L992 -8.5 -8 -7.7Z" fill="url(#sb)"/>
<path transform="matrix(0.11445 0.03805 0 -0.09159 479.08 74.80)" d="M0 0L0 0.0 128 0.4 140 2.8 148 8.1 153 15.1 158 26.3 165 54.0 190 214.9 195 234.6 198 239.5 201 240.6 206 231.7 211 209.6 228 89.9 238 39.2 248 13.3 256 5.0 263 1.7 286 0.0 466 0.4 607 4.1 684 12.2 797 33.4 847 40.6 912 45.6 1000 48.0L1000 0L992 -8.5 -8 -7.7Z" fill="url(#sb)"/>
<path transform="matrix(0.11440 0.03811 0 -0.09170 478.15 75.20)" d="M0 0L0 0.0 128 0.4 140 3.0 148 8.5 153 15.8 158 27.5 165 56.5 190 225.1 195 245.8 198 250.8 201 252.0 206 242.7 211 219.5 228 94.2 238 41.1 248 14.0 256 5.3 263 1.7 283 0.1 461 0.4 607 3.8 684 11.4 797 31.4 847 38.1 912 42.8 1000 45.0L1000 0L991 -8.5 -8 -7.7Z" fill="url(#sb)"/>
<path transform="matrix(0.11435 0.03816 0 -0.09180 477.23 75.60)" d="M0 0L0 0.0 128 0.4 140 3.1 148 8.9 153 16.5 158 28.7 165 59.0 190 234.9 195 256.5 198 261.8 201 263.1 206 253.3 211 229.1 228 98.3 238 42.9 248 14.6 256 5.5 263 1.8 283 0.1 454 0.3 607 3.5 684 10.4 847 34.7 912 39.0 1000 41.0L1000 0L991 -8.5 -8 -7.7Z" fill="url(#sb)"/>
<path transform="matrix(0.11430 0.03822 0 -0.09190 476.31 76.00)" d="M0 0L0 0.0 128 0.4 140 3.2 148 9.3 153 17.1 158 29.8 165 61.3 190 244.2 195 266.6 198 272.1 201 273.4 206 263.3 211 238.1 228 102.1 238 44.6 248 15.1 256 5.7 263 1.9 283 0.1 441 0.2 607 3.1 684 9.1 847 30.5 912 34.2 1000 36.0L1000 0L991 -8.5 -8 -7.7Z" fill="url(#sb)"/>
<path transform="matrix(0.11425 0.03827 0 -0.09201 475.39 76.40)" d="M0 0L0 0.0 128 0.4 140 3.4 148 9.6 153 17.8 158 30.9 165 63.5 190 252.7 195 276.0 198 281.6 201 283.0 206 272.5 211 246.5 228 105.7 238 46.1 248 15.7 256 5.9 263 1.9 281 0.1 404 0.1 604 2.5 684 7.7 847 25.5 1000 30.1L1000 0L991 -8.5 -8 -7.7Z" fill="url(#sb)"/>
<path transform="matrix(0.11420 0.03833 0 -0.09211 474.46 76.80)" d="M0 0L0 0.0 128 0.4 140 3.5 148 10.0 153 18.4 158 31.9 165 65.6 190 261.1 195 285.2 198 291.0 201 292.4 206 281.6 211 254.7 228 109.2 238 47.7 248 16.2 256 6.1 263 2.0 298 0.0 604 2.0 684 6.1 847 20.4 1000 24.0L1000 0L991 -8.5 -8 -7.7Z" fill="url(#sb)"/>
<path transform="matrix(0.11415 0.03838 0 -0.09221 473.54 77.20)" d="M0 0L0 0.0 128 0.4 140 3.6 150 14.1 158 33.0 165 67.8 190 270.0 195 294.8 198 300.9 201 302.3 206 291.1 211 263.3 228 112.9 238 49.3 248 16.7 256 6.3 263 2.1 291 0.0 602 1.4 682 4.5 847 15.4 1000 18.2L1000 0L991 -8.5 -8 -7.7Z" fill="url(#sb)"/>
<path transform="matrix(0.11410 0.03844 0 -0.09231 472.62 77.60)" d="M0 0L0 0.0 128 0.5 140 3.7 150 14.7 158 34.2 165 70.2 190 279.7 195 305.5 198 311.8 201 313.2 206 301.6 211 272.8 228 117.0 238 51.1 248 17.3 256 6.5 263 2.1 288 0.0 596 1.0 850 11.2 1000 13.2L1000 0L991 -8.5 -8 -7.7Z" fill="url(#sb)"/>
<path transform="matrix(0.11405 0.03849 0 -0.09242 471.70 78.00)" d="M0 0L0 0.0 128 0.5 140 3.9 145 8.1 150 15.3 158 35.6 165 73.1 190 291.2 195 318.0 198 324.5 201 326.1 206 314.0 211 284.0 228 121.8 238 53.2 248 18.0 256 6.8 263 2.2 288 0.0 589 0.6 850 7.8 1000 9.2L1000 0L991 -8.5 -8 -7.7Z" fill="url(#sb)"/>
<path transform="matrix(0.11400 0.03855 0 -0.09252 470.77 78.40)" d="M0 0L0 0.0 128 0.5 140 4.1 145 8.5 150 16.0 158 37.3 165 76.7 190 305.3 195 333.4 198 340.3 201 341.9 206 329.2 211 297.8 228 127.7 238 55.7 248 18.9 256 7.1 263 2.3 286 0.0 576 0.3 1000 6.2L1000 0L991 -8.5 -8 -7.7Z" fill="url(#sb)"/>
<path transform="matrix(0.11395 0.03860 0 -0.09262 469.85 78.80)" d="M0 0L0 0.0 128 0.5 140 4.3 145 9.0 150 16.9 158 39.3 165 80.6 190 321.0 195 350.5 198 357.8 201 359.5 206 346.2 211 313.1 228 134.3 238 58.6 248 19.9 256 7.5 263 2.5 286 0.0 549 0.1 1000 4.1L1000 0L991 -8.5 -8 -7.7Z" fill="url(#sb)"/>
<path transform="matrix(0.11390 0.03865 0 -0.09273 468.93 79.20)" d="M0 0L0 0.0 128 0.6 140 4.6 145 9.4 150 17.8 158 41.2 165 84.6 190 337.0 195 367.9 198 375.5 201 377.3 206 363.3 211 328.6 228 140.9 238 61.5 248 20.9 256 7.9 263 2.6 281 0.1 404 0.0 1000 2.7L1000 0L991 -8.5 -8 -7.7Z" fill="url(#sb)"/>
<path transform="matrix(0.11385 0.03871 0 -0.09283 468.00 79.60)" d="M0 0L0 0.0 128 0.6 140 4.8 145 9.9 150 18.6 158 43.0 165 88.3 190 351.7 195 384.1 198 392.0 201 393.8 206 379.3 211 343.0 228 147.1 238 64.2 248 21.8 256 8.2 263 2.7 296 0.0 1000 1.7L1000 0L991 -8.5 -8 -7.7Z" fill="url(#sb)"/>
<path transform="matrix(0.11380 0.03876 0 -0.09293 467.08 80.00)" d="M0 0L0 0.0 128 0.6 140 5.0 145 10.3 150 19.3 158 44.5 165 91.4 190 364.1 195 397.5 198 405.7 201 407.6 206 392.6 211 355.0 228 152.3 238 66.5 248 22.6 256 8.5 263 2.8 293 0.0 1000 1.1L1000 0L991 -8.5 -8 -7.7Z" fill="url(#sb)"/>
<path transform="matrix(0.11375 0.03882 0 -0.09303 466.16 80.40)" d="M0 0L0 0.0 128 0.6 140 5.1 145 10.7 150 20.0 158 46.0 165 94.5 190 376.2 195 410.7 198 419.2 201 421.2 206 405.6 211 366.8 228 157.3 238 68.7 248 23.3 256 8.8 263 2.9 291 0.0 1000 0.7L1000 0L991 -8.5 -8 -7.7Z" fill="url(#sb)"/>
<path transform="matrix(0.11370 0.03887 0 -0.09314 465.24 80.80)" d="M0 0L0 0.0 128 0.6 140 5.3 145 11.1 150 20.7 158 47.5 165 97.4 190 388.0 195 423.7 198 432.4 201 434.5 206 418.4 211 378.4 228 162.3 238 70.8 248 24.0 256 9.1 263 3.0 291 0.0 1000 0.5L1000 0L991 -8.5 -8 -7.7Z" fill="url(#sb)"/>
<path transform="matrix(0.11365 0.03893 0 -0.09324 464.31 81.20)" d="M0 0L0 0.0 128 0.7 140 5.5 145 11.4 150 21.2 158 48.6 165 99.8 190 397.3 195 433.8 198 442.8 201 444.9 206 428.4 211 387.5 228 166.2 238 72.5 248 24.6 256 9.3 263 3.0 291 0.0 1000 0.3L1000 0L991 -8.4 -8 -7.7Z" fill="url(#sb)"/>
<path transform="matrix(0.11360 0.03898 0 -0.09334 463.39 81.60)" d="M0 0L0 0.0 128 0.7 140 5.6 145 11.6 150 21.6 158 49.2 165 100.9 190 401.7 195 438.6 198 447.7 201 449.8 206 433.1 211 391.7 228 168.0 238 73.3 248 24.9 256 9.4 263 3.1 273 0.6 291 0.0 1000 0.2L1000 0L991 -8.4 -8 -7.7Z" fill="url(#sb)"/>
<path transform="matrix(0.11355 0.03904 0 -0.09345 462.47 82.00)" d="M0 0L0 0.0 128 0.7 140 5.6 145 11.6 150 21.5 158 48.8 165 100.0 190 398.4 195 435.1 198 444.0 201 446.1 206 429.6 211 388.5 228 166.7 238 72.7 248 24.7 256 9.3 263 3.0 291 0.0 1000 0.1L1000 0L991 -8.4 -8 -7.7Z" fill="url(#sb)"/>
<path transform="matrix(0.11350 0.03909 0 -0.09355 461.55 82.40)" d="M0 0L0 0.0 128 0.6 140 5.5 145 11.5 150 21.1 158 47.5 165 97.3 190 387.5 195 423.1 198 431.8 201 433.8 206 417.8 211 377.9 228 162.1 238 70.7 248 24.0 256 9.1 263 3.0 291 0.0 1000 0.1L1000 0L991 -8.4 -8 -7.7Z" fill="url(#sb)"/>
<path transform="matrix(0.11345 0.03915 0 -0.09365 460.62 82.80)" d="M0 0L0 0.0 128 0.6 140 5.3 150 20.4 158 45.6 165 93.3 190 371.4 195 405.5 198 413.9 201 415.9 206 400.5 211 362.2 228 155.4 238 67.8 248 23.0 256 8.7 263 2.8 291 0.0 1000 0.0L1000 0L991 -8.4 -8 -7.7Z" fill="url(#sb)"/>
<path transform="matrix(0.11340 0.03920 0 -0.09375 459.70 83.20)" d="M0 0L0 0.0 128 0.6 140 5.1 150 19.6 158 43.3 165 88.6 190 352.9 195 385.3 198 393.3 201 395.1 206 380.5 211 344.1 228 147.6 238 64.4 248 21.9 256 8.2 263 2.7 291 0.0 1000 0.0L1000 0L991 -8.4 -8 -7.7Z" fill="url(#sb)"/>
<path transform="matrix(0.11335 0.03925 0 -0.09386 458.78 83.60)" d="M0 0L0 0.0 128 0.5 140 4.9 150 18.6 158 40.6 165 82.9 190 330.1 195 360.5 198 367.9 201 369.7 206 356.0 211 322.0 228 138.1 238 60.3 248 20.5 256 7.7 263 2.5 291 0.0 1000 0.0L1000 0L991 -8.4 -8 -7.7Z" fill="url(#sb)"/>
<path transform="matrix(0.11330 0.03931 0 -0.09396 457.85 84.00)" d="M0 0L0 0.0 130 0.8 140 4.4 150 16.8 158 36.0 165 73.5 190 292.7 195 319.6 198 326.2 201 327.8 206 315.6 211 285.5 228 122.4 238 53.4 248 18.1 256 6.8 263 2.2 291 0.0 1000 0.0L1000 0L991 -8.4 -8 -7.7Z" fill="url(#sb)"/>
<path transform="matrix(0.11325 0.03936 0 -0.09406 456.93 84.40)" d="M0 0L0 0.0 130 0.7 140 4.1 150 15.3 158 31.9 165 65.0 190 259.0 195 282.8 198 288.6 201 290.0 206 279.2 211 252.5 228 108.3 238 47.3 248 16.0 256 6.1 263 2.0 291 0.0 1000 0.0L1000 0L991 -8.4 -8 -7.7Z" fill="url(#sb)"/>
<path transform="matrix(0.11320 0.03942 0 -0.09416 456.01 84.80)" d="M0 0L0 0.0 130 0.7 140 4.0 150 15.0 158 30.8 165 62.6 190 249.3 195 272.2 198 277.8 201 279.1 206 268.8 211 243.1 228 104.3 238 45.5 248 15.4 256 5.8 263 1.9 291 0.0 1000 0.0L1000 0L991 -8.4 -8 -7.7Z" fill="url(#sb)"/>
<path transform="matrix(0.11315 0.03947 0 -0.09427 455.09 85.20)" d="M0 0L0 0.0 130 0.7 140 4.1 150 15.4 158 31.3 165 63.7 190 253.6 195 276.9 198 282.6 201 284.0 206 273.5 211 247.3 228 106.1 238 46.3 248 15.7 256 5.9 263 1.9 291 0.0 1000 0.0L1000 0L991 -8.4 -8 -7.7Z" fill="url(#sb)"/>
<path transform="matrix(0.11310 0.03953 0 -0.09437 454.16 85.60)" d="M0 0L0 0.0 130 0.7 140 4.4 150 16.2 158 32.5 165 65.9 190 262.6 195 286.7 198 292.6 201 294.0 206 283.1 211 256.1 228 109.8 238 47.9 248 16.3 256 6.1 263 2.0 291 0.0 1000 0.0L1000 0L991 -8.4 -8 -7.7Z" fill="url(#sb)"/>
<path transform="matrix(0.11305 0.03958 0 -0.09447 453.24 86.00)" d="M0 0L0 0.0 130 0.7 140 4.6 150 17.1 158 34.0 165 69.0 190 275.0 195 300.2 198 306.4 201 307.9 206 296.5 211 268.1 228 115.0 238 50.2 248 17.0 256 6.4 263 2.1 291 0.0 1000 0.0L1000 0L991 -8.4 -8 -7.7Z" fill="url(#sb)"/>
<path transform="matrix(0.11300 0.03964 0 -0.09458 452.32 86.40)" d="M0 0L0 0.0 130 0.8 140 4.9 150 18.1 158 35.9 165 72.7 190 289.5 195 316.1 198 322.6 201 324.1 206 312.1 211 282.3 228 121.1 238 52.8 248 17.9 256 6.8 263 2.2 291 0.0 1000 0.0L1000 0L991 -8.4 -8 -7.7Z" fill="url(#sb)"/>
<path transform="matrix(0.11295 0.03969 0 -0.09468 451.40 86.80)" d="M0 0L0 0.0 130 0.8 140 5.2 150 19.2 158 37.8 165 76.6 190 304.9 195 332.9 198 339.8 201 341.4 206 328.8 211 297.3 228 127.5 238 55.7 248 18.9 256 7.1 263 2.3 291 0.0 1000 0.0L1000 0L991 -8.4 -8 -7.6Z" fill="url(#sb)"/>
<path transform="matrix(0.11290 0.03975 0 -0.09478 450.47 87.20)" d="M0 0L0 0.0 130 0.8 140 5.5 150 20.4 158 39.7 165 80.4 190 320.0 195 349.4 198 356.6 201 358.3 206 345.0 211 312.0 228 133.9 238 58.4 248 19.8 256 7.5 263 2.4 291 0.0 1000 0.0L1000 0L991 -8.4 -8 -7.6Z" fill="url(#sb)"/>
<path transform="matrix(0.11285 0.03980 0 -0.09488 449.55 87.60)" d="M0 0L0 0.0 130 0.9 140 5.8 150 21.4 158 41.4 165 83.7 190 333.5 195 364.1 198 371.6 201 373.4 206 359.6 211 325.2 228 139.5 238 60.9 248 20.7 256 7.8 263 2.6 291 0.0 1000 0.0L1000 0L991 -8.4 -8 -7.6Z" fill="url(#sb)"/>
<path transform="matrix(0.11280 0.03985 0 -0.09499 448.63 88.00)" d="M0 0L0 0.0 130 0.9 140 6.1 150 22.5 158 43.0 165 86.9 190 345.9 195 377.7 198 385.5 201 387.3 206 373.0 211 337.3 228 144.7 238 63.1 248 21.4 256 8.1 263 2.6 291 0.0 1000 0.0L1000 0L991 -8.4 -8 -7.6Z" fill="url(#sb)"/>
<path transform="matrix(0.11275 0.03991 0 -0.09509 447.70 88.40)" d="M0 0L0 0.0 130 0.9 135 2.4 140 6.5 153 28.6 160 56.9 165 90.2 190 359.1 195 392.1 198 400.2 201 402.1 206 387.2 211 350.2 228 150.2 238 65.6 248 22.3 256 8.4 263 2.7 291 0.0 1000 0.0L1000 0L991 -8.4 -8 -7.6Z" fill="url(#sb)"/>
<path transform="matrix(0.11270 0.03996 0 -0.09519 446.78 88.80)" d="M0 0L0 0.0 130 1.0 135 2.5 140 6.8 153 29.8 160 59.0 165 93.5 190 372.3 195 406.5 198 414.9 201 416.9 206 401.5 211 363.1 228 155.7 238 68.0 248 23.1 256 8.7 263 2.8 291 0.0 1000 0.0L1000 0L991 -8.4 -8 -7.6Z" fill="url(#sb)"/>
<path transform="matrix(0.11265 0.04002 0 -0.09530 445.86 89.20)" d="M0 0L0 0.0 130 1.0 135 2.6 140 7.1 153 31.0 160 61.0 165 96.7 190 384.9 195 420.2 198 428.9 201 430.9 206 415.0 211 375.3 228 161.0 238 70.3 248 23.9 256 9.0 263 2.9 291 0.0 1000 0.0L1000 0L991 -8.4 -8 -7.6Z" fill="url(#sb)"/>
<path transform="matrix(0.11260 0.04007 0 -0.09540 444.94 89.60)" d="M0 0L0 0.0 130 1.0 135 2.7 140 7.4 153 32.2 160 62.8 165 99.5 190 396.0 195 432.4 198 441.4 201 443.4 206 427.0 211 386.2 228 165.7 238 72.3 248 24.5 256 9.3 263 3.0 273 0.5 291 0.0 1000 0.0L1000 0L991 -8.4 -8 -7.6Z" fill="url(#sb)"/>
<path transform="matrix(0.11255 0.04013 0 -0.09550 444.01 90.00)" d="M0 0L0 0.0 130 1.1 135 2.8 140 7.8 153 33.2 160 64.3 165 101.8 190 405.4 195 442.7 198 451.8 201 454.0 206 437.2 211 395.4 228 169.6 238 74.0 248 25.1 256 9.5 263 3.1 273 0.6 291 0.0 1000 0.0L1000 0L991 -8.4 -8 -7.6Z" fill="url(#sb)"/>
<path transform="matrix(0.11250 0.04018 0 -0.09560 443.09 90.40)" d="M0 0L0 0.0 130 1.1 135 2.8 140 8.1 153 34.2 160 65.8 165 104.1 190 414.4 195 452.5 198 461.8 201 464.0 206 446.9 211 404.1 228 173.4 238 75.7 248 25.7 256 9.7 263 3.2 273 0.6 291 0.0 1000 0.0L1000 0L991 -8.4 -8 -7.6Z" fill="url(#sb)"/>
<path transform="matrix(0.11245 0.04024 0 -0.09571 442.17 90.80)" d="M0 0L0 0.0 130 1.1 135 2.9 140 8.4 153 35.2 160 67.2 165 106.2 190 423.0 195 461.9 198 471.4 201 473.6 206 456.1 211 412.5 228 176.9 238 77.2 248 26.2 256 9.9 263 3.2 273 0.6 291 0.0 1000 0.0L1000 0L991 -8.4 -8 -7.6Z" fill="url(#sb)"/>
<path transform="matrix(0.11240 0.04029 0 -0.09581 441.25 91.20)" d="M0 0L0 0.0 130 1.1 135 3.0 140 8.7 153 36.2 158 54.0 165 108.2 190 430.9 195 470.5 198 480.2 201 482.4 206 464.6 211 420.2 228 180.2 238 78.7 248 26.7 256 10.1 263 3.3 273 0.6 291 0.0 1000 0.0L1000 0L991 -8.4 -8 -7.6Z" fill="url(#sb)"/>
<path transform="matrix(0.11235 0.04035 0 -0.09591 440.32 91.60)" d="M0 0L0 0.0 130 1.2 135 3.1 140 9.0 153 37.1 158 54.9 165 109.9 190 437.7 195 477.9 198 487.8 201 490.1 206 471.9 211 426.8 228 183.1 238 79.9 248 27.1 256 10.2 263 3.3 273 0.6 291 0.0 1000 0.0L1000 0L991 -8.4 -8 -7.6Z" fill="url(#sb)"/>
<path transform="matrix(0.11230 0.04040 0 -0.09602 439.40 92.00)" d="M0 0L0 0.0 130 1.2 135 3.1 140 9.3 153 38.0 158 55.7 165 111.3 190 443.1 195 483.8 198 493.8 201 496.1 206 477.8 211 432.1 228 185.3 238 80.9 248 27.5 256 10.4 263 3.4 273 0.6 291 0.0 1000 0.0L1000 0L991 -8.4 -8 -7.6Z" fill="url(#sb)"/>
<path transform="matrix(0.11225 0.04045 0 -0.09612 438.48 92.40)" d="M0 0L0 0.0 130 1.2 135 3.2 140 9.6 153 38.7 158 56.3 165 112.2 190 446.8 195 487.8 198 497.9 201 500.2 206 481.7 211 435.7 228 186.9 238 81.6 248 27.7 256 10.4 263 3.4 273 0.6 291 0.0 1000 0.0L1000 0L991 -8.4 -8 -7.6Z" fill="url(#sb)"/>
<path transform="matrix(0.11220 0.04051 0 -0.09622 437.55 92.80)" d="M0 0L0 0.0 130 1.2 135 3.2 140 9.9 153 39.4 158 56.7 165 112.9 190 449.6 195 491.0 198 501.1 201 503.4 206 484.8 211 438.5 228 188.1 238 82.1 248 27.9 256 10.5 263 3.4 273 0.6 291 0.0 1000 0.0L1000 0L991 -8.4 -8 -7.6Z" fill="url(#sb)"/>
<path transform="matrix(0.11215 0.04056 0 -0.09632 436.63 93.20)" d="M0 0L0 0.0 130 1.2 138 5.8 153 40.1 158 57.2 165 113.6 190 452.2 195 493.7 198 503.9 201 506.3 206 487.6 211 440.9 228 189.1 238 82.5 248 28.0 256 10.6 263 3.5 273 0.6 291 0.0 1000 0.0L1000 0L991 -8.4 -8 -7.6Z" fill="url(#sb)"/>
<path transform="matrix(0.11210 0.04062 0 -0.09643 435.71 93.60)" d="M0 0L0 0.0 130 1.2 138 5.9 148 31.7 153 40.8 158 57.5 165 114.1 190 454.1 195 495.8 198 506.1 201 508.4 206 489.6 211 442.8 228 190.0 238 82.9 248 28.1 256 10.6 263 3.5 273 0.6 291 0.0 1000 0.0L1000 0L991 -8.4 -8 -7.6Z" fill="url(#sb)"/>
<path transform="matrix(0.11205 0.04067 0 -0.09653 434.79 94.00)" d="M0 0L0 0.0 115 0.1 133 2.0 138 6.1 140 10.8 148 32.6 155 47.6 160 72.5 168 140.9 190 455.2 195 497.0 198 507.3 201 509.7 206 490.8 211 443.9 228 190.4 238 83.1 248 28.2 256 10.6 263 3.5 273 0.6 291 0.0 1000 0.0L1000 0L991 -8.4 -8 -7.6Z" fill="url(#sb)"/>
<path transform="matrix(0.11200 0.04073 0 -0.09663 433.86 94.40)" d="M0 0L0 0.0 115 0.1 133 2.0 138 6.2 140 11.1 148 33.5 155 47.9 160 72.6 168 140.8 190 455.1 195 496.9 198 507.2 201 509.6 206 490.7 211 443.8 228 190.4 238 83.1 248 28.2 256 10.6 263 3.5 273 0.6 291 0.0 1000 0.0L1000 0L991 -8.4 -8 -7.6Z" fill="url(#sb)"/>
<path transform="matrix(0.11195 0.04078 0 -0.09673 432.94 94.80)" d="M0 0L0 0.0 115 0.1 133 2.0 138 6.3 140 11.3 148 34.4 155 48.0 160 72.3 168 140.3 190 453.3 195 494.9 198 505.1 201 507.5 206 488.8 211 442.0 228 189.6 238 82.7 248 28.1 256 10.6 263 3.5 273 0.6 291 0.0 1000 0.0L1000 0L991 -8.4 -8 -7.6Z" fill="url(#sb)"/>
<path transform="matrix(0.11190 0.04084 0 -0.09684 432.02 95.20)" d="M0 0L0 0.0 115 0.1 133 2.0 138 6.4 148 35.2 155 48.0 160 71.8 168 139.2 190 449.9 195 491.2 198 501.3 201 503.7 206 485.1 211 438.7 228 188.2 238 82.1 248 27.9 256 10.5 263 3.4 273 0.6 291 0.0 1000 0.0L1000 0L991 -8.4 -8 -7.6Z" fill="url(#sb)"/>
<path transform="matrix(0.11185 0.04089 0 -0.09694 431.10 95.60)" d="M0 0L0 0.0 130 1.2 138 6.4 148 36.0 155 47.9 160 71.1 168 137.7 190 445.1 195 486.0 198 496.1 201 498.4 206 480.0 211 434.1 228 186.2 238 81.3 248 27.6 256 10.4 263 3.4 273 0.6 291 0.0 1000 0.0L1000 0L991 -8.4 -8 -7.6Z" fill="url(#sb)"/>
<path transform="matrix(0.11180 0.04095 0 -0.09704 430.17 96.00)" d="M0 0L0 0.0 130 1.2 138 6.5 148 36.7 155 47.7 160 70.2 168 135.9 190 439.3 195 479.7 198 489.6 201 491.9 206 473.7 211 428.4 228 183.8 238 80.2 248 27.2 256 10.3 263 3.4 273 0.6 291 0.0 1000 0.0L1000 0L991 -8.4 -8 -7.6Z" fill="url(#sb)"/>
<path transform="matrix(0.11175 0.04100 0 -0.09715 429.25 96.40)" d="M0 0L0 0.0 130 1.2 135 3.5 138 6.6 148 37.4 155 47.4 160 69.2 168 133.9 190 432.6 195 472.4 198 482.1 201 484.4 206 466.5 211 421.9 228 181.0 238 79.0 248 26.8 256 10.1 263 3.3 273 0.6 291 0.0 1000 0.0L1000 0L991 -8.4 -8 -7.6Z" fill="url(#sb)"/>
<path transform="matrix(0.11170 0.04105 0 -0.09725 428.33 96.80)" d="M0 0L0 0.0 130 1.1 135 3.5 138 6.6 148 38.1 155 47.0 160 68.1 168 131.6 190 425.4 195 464.5 198 474.0 201 476.3 206 458.7 211 414.8 228 177.9 238 77.7 248 26.4 256 9.9 263 3.3 273 0.6 291 0.0 1000 0.0L1000 0L991 -8.4 -8 -7.6Z" fill="url(#sb)"/>
<path transform="matrix(0.11165 0.04111 0 -0.09735 427.40 97.20)" d="M0 0L0 0.0 130 1.1 135 3.5 138 6.7 148 38.8 155 46.6 160 67.0 168 129.2 190 417.7 195 456.0 198 465.5 201 467.6 206 450.4 211 407.3 228 174.7 238 76.2 248 25.9 256 9.8 263 3.2 273 0.6 291 0.0 1000 0.0L1000 0L991 -8.3 -8 -7.6Z" fill="url(#sb)"/>
<path transform="matrix(0.11160 0.04116 0 -0.09745 426.48 97.60)" d="M0 0L0 0.0 130 1.1 135 3.4 138 6.7 148 39.4 155 46.0 160 65.3 168 125.9 190 406.8 195 444.2 198 453.4 201 455.5 206 438.7 211 396.7 228 170.2 238 74.3 248 25.2 256 9.5 263 3.1 273 0.6 291 0.0 1000 0.0L1000 0L991 -8.3 -8 -7.6Z" fill="url(#sb)"/>
<path transform="matrix(0.11155 0.04122 0 -0.09756 425.56 98.00)" d="M0 0L0 0.0 130 1.1 135 3.4 138 6.7 148 39.8 155 44.9 160 63.1 168 121.5 190 392.6 195 428.7 198 437.5 201 439.6 206 423.3 211 382.8 228 164.2 238 71.7 248 24.3 256 9.2 263 3.0 273 0.5 291 0.0 1000 0.0L1000 0L991 -8.3 -8 -7.6Z" fill="url(#sb)"/>
<path transform="matrix(0.11150 0.04127 0 -0.09766 424.64 98.40)" d="M0 0L0 0.0 123 0.2 133 1.8 138 6.7 148 40.1 150 42.6 155 43.7 158 49.6 163 75.7 170 141.1 190 376.0 195 410.5 198 419.0 201 421.0 206 405.4 211 366.7 228 157.3 238 68.6 248 23.3 256 8.8 263 2.9 291 0.0 1000 0.0L1000 0L991 -8.3 -8 -7.6Z" fill="url(#sb)"/>
<path transform="matrix(0.11145 0.04133 0 -0.09776 423.71 98.80)" d="M0 0L0 0.0 123 0.2 133 1.7 138 6.6 148 40.3 150 42.5 155 42.3 158 47.5 163 72.1 170 134.4 190 358.1 195 391.0 198 399.1 201 401.0 206 386.1 211 349.2 228 149.8 238 65.4 248 22.2 256 8.4 263 2.7 291 0.0 1000 0.0L1000 0L991 -8.3 -8 -7.6Z" fill="url(#sb)"/>
<path transform="matrix(0.11140 0.04138 0 -0.09787 422.79 99.20)" d="M0 0L0 0.0 123 0.2 133 1.6 138 6.6 148 40.5 150 42.3 155 41.0 158 45.4 163 68.5 170 127.6 190 340.0 195 371.2 198 378.9 201 380.7 206 366.6 211 331.5 228 142.2 238 62.1 248 21.1 256 7.9 263 2.6 291 0.0 1000 0.0L1000 0L991 -8.3 -8 -7.6Z" fill="url(#sb)"/>
<path transform="matrix(0.11135 0.04144 0 -0.09797 421.87 99.60)" d="M0 0L0 0.0 123 0.2 133 1.6 138 6.5 148 40.6 150 42.1 155 39.4 158 43.2 163 64.6 170 120.3 190 320.4 195 349.8 198 357.1 201 358.8 206 345.5 211 312.4 228 134.0 238 58.5 248 19.9 256 7.5 263 2.5 291 0.0 1000 0.0L1000 0L991 -8.3 -8 -7.6Z" fill="url(#sb)"/>
<path transform="matrix(0.11130 0.04149 0 -0.09807 420.95 100.00)" d="M0 0L0 0.0 123 0.2 133 1.5 138 6.4 148 40.6 150 41.6 155 37.6 158 40.5 163 60.1 170 111.9 190 298.1 195 325.5 198 332.2 201 333.7 206 321.4 211 290.7 228 124.7 238 54.4 248 18.5 256 7.0 263 2.3 291 0.0 1000 0.0L1000 0L991 -8.3 -8 -7.6Z" fill="url(#sb)"/>
<path transform="matrix(0.11125 0.04155 0 -0.09817 420.02 100.40)" d="M0 0L0 0.0 125 0.3 133 1.4 138 6.3 148 40.4 150 41.1 155 35.7 158 37.8 163 55.4 170 103.1 190 274.6 195 299.9 198 306.0 201 307.5 206 296.1 211 267.8 228 114.9 238 50.1 248 17.0 256 6.4 263 2.1 291 0.0 1000 0.0L1000 0L991 -8.3 -8 -7.6Z" fill="url(#sb)"/>
<path transform="matrix(0.11120 0.04160 0 -0.09828 419.10 100.80)" d="M0 0L0 0.0 125 0.3 133 1.3 138 6.2 148 40.3 150 40.6 155 33.8 158 35.1 163 50.9 170 94.5 190 251.7 195 274.8 198 280.5 201 281.8 206 271.4 211 245.5 228 105.3 238 46.0 248 15.6 256 5.9 263 1.9 291 0.0 1000 0.0L1000 0L991 -8.3 -8 -7.6Z" fill="url(#sb)"/>
<path transform="matrix(0.11115 0.04165 0 -0.09838 418.18 101.20)" d="M0 0L0 0.0 120 0.1 135 2.7 140 12.8 148 40.2 150 40.1 155 32.1 158 32.7 163 46.7 170 86.7 190 231.0 195 252.2 198 257.5 201 258.7 206 249.1 211 225.3 228 96.6 238 42.2 248 14.3 256 5.4 263 1.8 291 0.0 1000 0.0L1000 0L991 -8.3 -8 -7.6Z" fill="url(#sb)"/>
<path transform="matrix(0.11110 0.04171 0 -0.09848 417.25 101.60)" d="M0 0L0 0.0 120 0.1 135 2.6 140 12.8 148 40.2 150 39.8 155 30.7 158 30.6 163 43.2 170 80.2 190 213.5 195 233.2 198 238.0 201 239.1 206 230.3 211 208.2 228 89.3 238 39.0 248 13.2 256 5.0 263 1.6 291 0.0 1000 0.0L1000 0L991 -8.3 -8 -7.6Z" fill="url(#sb)"/>
<path transform="matrix(0.11105 0.04176 0 -0.09859 416.33 102.00)" d="M0 0L0 0.0 120 0.1 135 2.5 140 12.8 148 40.1 150 39.4 155 29.4 158 28.7 163 40.0 170 74.1 190 197.3 195 215.5 198 219.9 201 221.0 206 212.8 211 192.4 228 82.5 238 36.0 248 12.2 256 4.6 263 1.5 291 0.0 1000 0.0L1000 0L991 -8.3 -8 -7.6Z" fill="url(#sb)"/>
<path transform="matrix(0.11100 0.04182 0 -0.09869 415.41 102.40)" d="M0 0L0 0.0 120 0.1 135 2.4 140 12.7 148 40.1 150 39.1 155 28.1 158 26.9 163 36.9 170 68.3 190 182.1 195 198.8 198 202.9 201 203.9 206 196.3 211 177.6 228 76.2 238 33.2 248 11.3 256 4.3 263 1.4 291 0.0 1000 0.0L1000 0L991 -8.3 -8 -7.6Z" fill="url(#sb)"/>
<path transform="matrix(0.11095 0.04187 0 -0.09879 414.49 102.80)" d="M0 0L0 0.0 123 0.1 135 2.4 140 12.7 148 40.0 150 38.8 155 26.9 158 25.3 163 34.1 170 63.0 190 167.8 195 183.2 198 187.0 201 187.9 206 180.9 211 163.6 228 70.2 238 30.6 248 10.4 256 3.9 263 1.3 1000 0.0L1000 0L991 -8.3 -8 -7.6Z" fill="url(#sb)"/>
<path transform="matrix(0.11090 0.04193 0 -0.09889 413.56 103.20)" d="M0 0L0 0.0 123 0.1 135 2.3 140 12.6 148 39.9 150 38.4 158 23.7 163 31.4 170 58.0 190 154.4 195 168.6 198 172.1 201 172.9 206 166.5 211 150.6 228 64.6 238 28.2 248 9.6 256 3.6 263 1.2 1000 0.0L1000 0L991 -8.3 -8 -7.6Z" fill="url(#sb)"/>
<path transform="matrix(0.11085 0.04198 0 -0.09900 412.64 103.60)" d="M0 0L0 0.0 123 0.1 135 2.2 140 12.5 148 39.7 150 38.1 158 22.2 163 28.9 170 53.3 190 142.0 195 155.1 201 159.0 206 153.2 211 138.5 228 59.4 238 25.9 248 8.8 256 3.3 263 1.1 1000 0.0L1000 0L991 -8.3 -8 -7.6Z" fill="url(#sb)"/>
<path transform="matrix(0.11080 0.04204 0 -0.09910 411.72 104.00)" d="M0 0L0 0.0 123 0.1 135 2.2 140 12.5 148 39.6 150 37.7 158 20.8 160 22.2 163 26.6 170 49.0 190 130.6 195 142.6 201 146.2 206 140.8 211 127.3 228 54.6 238 23.8 248 8.1 263 1.0 1000 0.0L1000 0L991 -8.3 -8 -7.6Z" fill="url(#sb)"/>
<path transform="matrix(0.11075 0.04209 0 -0.09920 410.80 104.40)" d="M0 0L0 0.0 123 0.1 135 2.1 140 12.4 148 39.3 150 37.3 158 19.5 160 20.5 163 24.4 170 44.8 190 119.5 195 130.5 201 133.8 206 128.8 211 116.5 228 50.0 238 21.8 248 7.4 263 0.9 1000 0.0L1000 0L991 -8.3 -8 -7.6Z" fill="url(#sb)"/>
<path transform="matrix(0.11070 0.04215 0 -0.09930 409.87 104.80)" d="M0 0L0 0.0 123 0.1 135 2.1 140 12.3 148 39.0 150 36.8 158 18.2 160 18.8 163 22.2 170 40.8 190 108.7 195 118.7 201 121.7 206 117.2 211 106.0 228 45.5 238 19.8 248 6.7 263 0.8 1000 0.0L1000 0L991 -8.3 -8 -7.6Z" fill="url(#sb)"/>
<path transform="matrix(0.11065 0.04220 0 -0.09941 408.95 105.20)" d="M0 0L0 0.0 123 0.1 135 2.0 140 12.2 148 38.7 150 36.3 158 17.0 160 17.1 163 20.1 170 36.9 190 98.4 195 107.4 201 110.2 206 106.1 211 95.9 228 41.2 238 18.0 248 6.1 263 0.8 1000 0.0L1000 0L991 -8.3 -8 -7.6Z" fill="url(#sb)"/>
<path transform="matrix(0.11060 0.04225 0 -0.09951 408.03 105.60)" d="M0 0L0 0.0 133 0.7 138 5.2 148 38.3 150 35.8 158 15.8 160 15.6 163 18.2 170 33.2 190 88.6 195 96.7 201 99.2 206 95.5 211 86.4 228 37.1 238 16.2 248 5.5 263 0.7 1000 0.0L1000 0L991 -8.3 -8 -7.6Z" fill="url(#sb)"/>
<path transform="matrix(0.11055 0.04231 0 -0.09961 407.10 106.00)" d="M0 0L0 0.0 133 0.7 138 5.1 148 37.8 150 35.2 158 14.6 160 14.1 163 16.3 170 29.8 190 79.4 195 86.7 201 88.9 206 85.6 211 77.4 228 33.2 238 14.5 248 4.9 263 0.6 1000 0.0L1000 0L991 -8.3 -8 -7.6Z" fill="url(#sb)"/>
<path transform="matrix(0.11050 0.04236 0 -0.09972 406.18 106.40)" d="M0 0L0 0.0 133 0.6 138 5.0 148 37.3 158 13.6 160 12.8 163 14.6 170 26.6 190 70.9 195 77.4 201 79.4 206 76.5 211 69.2 228 29.7 238 12.9 248 4.4 263 0.5 1000 0.0L1000 0L991 -8.3 -8 -7.6Z" fill="url(#sb)"/>
<path transform="matrix(0.11045 0.04242 0 -0.09982 405.26 106.80)" d="M0 0L0 0.0 133 0.6 138 4.9 148 36.8 158 12.6 160 11.6 163 13.1 170 23.8 190 63.3 195 69.1 201 70.8 206 68.2 211 61.7 228 26.5 238 11.6 248 3.9 263 0.5 1000 0.0L1000 0L991 -8.3 -8 -7.6Z" fill="url(#sb)"/>
<path transform="matrix(0.11040 0.04247 0 -0.09992 404.34 107.20)" d="M0 0L0 0.0 133 0.6 138 4.8 148 36.2 158 11.7 163 11.7 170 21.2 190 56.6 195 61.7 201 63.3 211 55.1 228 23.7 238 10.3 248 3.5 263 0.4 1000 0.0L1000 0L991 -8.3 -8 -7.6Z" fill="url(#sb)"/>
<path transform="matrix(0.11035 0.04253 0 -0.10002 403.41 107.60)" d="M0 0L0 0.0 133 0.5 138 4.7 148 35.6 150 32.7 155 16.0 160 9.6 165 12.8 170 19.0 190 50.7 195 55.4 201 56.8 211 49.5 228 21.2 238 9.3 248 3.1 263 0.4 1000 0.0L1000 0L991 -8.3 -8 -7.6Z" fill="url(#sb)"/>
<path transform="matrix(0.11030 0.04258 0 -0.10013 402.49 108.00)" d="M0 0L0 0.0 133 0.5 138 4.6 148 35.0 150 32.0 155 15.4 160 8.7 165 11.4 170 16.9 190 45.1 195 49.3 201 50.5 211 44.0 228 18.9 238 8.2 248 2.8 263 0.3 1000 0.0L1000 0L991 -8.3 -8 -7.6Z" fill="url(#sb)"/>
<path transform="matrix(0.11025 0.04264 0 -0.10023 401.57 108.40)" d="M0 0L0 0.0 133 0.5 138 4.5 148 34.2 150 31.3 155 14.7 160 7.8 165 10.0 170 14.9 190 39.6 195 43.3 201 44.4 211 38.6 238 7.2 248 2.5 263 0.3 1000 0.0L1000 0L991 -8.3 -8 -7.6Z" fill="url(#sb)"/>
<path transform="matrix(0.11020 0.04269 0 -0.10033 400.65 108.80)" d="M0 0L0 0.0 133 0.5 138 4.4 148 33.5 150 30.5 155 14.0 160 6.9 170 12.9 190 34.4 201 38.5 211 33.5 238 6.3 248 2.1 263 0.3 1000 0.0L1000 0L991 -8.3 -8 -7.5Z" fill="url(#sb)"/>
<path transform="matrix(0.11015 0.04275 0 -0.10044 399.72 109.20)" d="M0 0L0 0.0 133 0.4 138 4.3 148 32.7 150 29.7 155 13.3 160 6.1 170 11.0 190 29.4 201 32.9 211 28.7 238 5.4 248 1.8 263 0.2 1000 0.0L1000 0L991 -8.3 -8 -7.5Z" fill="url(#sb)"/>
<path transform="matrix(0.11010 0.04280 0 -0.10054 398.80 109.60)" d="M0 0L0 0.0 133 0.4 138 4.1 148 31.8 155 12.7 160 5.3 168 7.7 190 24.8 201 27.8 211 24.2 238 4.5 261 0.3 1000 0.0L1000 0L991 -8.3 -8 -7.5Z" fill="url(#sb)"/>
<path transform="matrix(0.11005 0.04285 0 -0.10064 397.88 110.00)" d="M0 0L0 0.0 133 0.4 138 4.0 148 30.9 158 6.8 160 4.6 168 6.4 190 20.6 201 23.1 211 20.1 238 3.8 261 0.2 1000 0.0L1000 0L991 -8.3 -8 -7.5Z" fill="url(#sb)"/>
<path transform="matrix(0.11000 0.04291 0 -0.10074 396.95 110.40)" d="M0 0L0 0.0 133 0.4 138 3.9 148 30.0 158 6.2 160 4.0 168 5.2 190 16.9 201 18.9 211 16.5 236 3.9 258 0.3 1000 0.0L1000 0L991 -8.3 -8 -7.5Z" fill="url(#sb)"/>
<path transform="matrix(0.10995 0.04296 0 -0.10085 396.03 110.80)" d="M0 0L0 0.0 133 0.3 138 3.8 148 29.1 158 5.7 163 3.1 190 13.8 201 15.4 238 2.5 263 0.1 1000 0.0L1000 0L991 -8.3 -8 -7.5Z" fill="url(#sb)"/>
<path transform="matrix(0.10990 0.04302 0 -0.10095 395.11 111.20)" d="M0 0L0 0.0 133 0.3 138 3.6 148 28.2 158 5.3 163 2.6 190 11.3 201 12.7 238 2.1 263 0.1 1000 0.0L1000 0L991 -8.3 -8 -7.5Z" fill="url(#sb)"/>
<path transform="matrix(0.10985 0.04307 0 -0.10105 394.19 111.60)" d="M0 0L0 0.0 133 0.3 138 3.5 148 27.2 158 5.0 163 2.2 201 10.7 238 1.7 263 0.1 1000 0.0L1000 0L991 -8.3 -8 -7.5Z" fill="url(#sb)"/>
<path transform="matrix(0.10980 0.04313 0 -0.10116 393.26 112.00)" d="M0 0L0 0.0 133 0.3 138 3.4 148 26.3 158 4.7 163 2.0 201 9.4 238 1.5 263 0.1 1000 0.0L1000 0L991 -8.3 -8 -7.5Z" fill="url(#sb)"/>
<path transform="matrix(0.10975 0.04318 0 -0.10126 392.34 112.40)" d="M0 0L0 0.0 133 0.3 138 3.3 148 25.3 158 4.4 163 1.8 201 8.4 238 1.4 263 0.1 1000 0.0L1000 0L991 -8.3 -8 -7.5Z" fill="url(#sb)"/>
<path transform="matrix(0.10970 0.04324 0 -0.10136 391.42 112.80)" d="M0 0L0 0.0 133 0.3 138 3.1 148 24.3 158 4.2 163 1.6 201 7.4 238 1.2 263 0.1 1000 0.0L1000 0L991 -8.3 -8 -7.5Z" fill="url(#sb)"/>
<path transform="matrix(0.10965 0.04329 0 -0.10146 390.50 113.20)" d="M0 0L0 0.0 133 0.3 138 3.0 148 23.4 158 4.0 163 1.4 201 6.4 238 1.0 263 0.0 1000 0.0L1000 0L991 -8.3 -8 -7.5Z" fill="url(#sb)"/>
<path transform="matrix(0.10960 0.04335 0 -0.10157 389.57 113.60)" d="M0 0L0 0.0 133 0.2 138 2.9 148 22.4 158 3.7 163 1.2 201 5.5 238 0.9 263 0.0 1000 0.0L1000 0L991 -8.3 -8 -7.5Z" fill="url(#sb)"/>
<path transform="matrix(0.10955 0.04340 0 -0.10167 388.65 114.00)" d="M0 0L0 0.0 133 0.2 138 2.7 148 21.4 158 3.5 163 1.1 201 4.7 263 0.0 1000 0.0L1000 0L991 -8.3 -8 -7.5Z" fill="url(#sb)"/>
<path transform="matrix(0.10950 0.04345 0 -0.10177 387.73 114.40)" d="M0 0L0 0.0 133 0.2 138 2.6 148 20.4 158 3.3 163 0.9 201 3.9 263 0.0 1000 0.0L1000 0L991 -8.3 -8 -7.5Z" fill="url(#sb)"/>
<path transform="matrix(0.10945 0.04351 0 -0.10187 386.80 114.80)" d="M0 0L0 0.0 133 0.2 138 2.5 148 19.4 158 3.1 163 0.8 201 3.2 263 0.0 1000 0.0L1000 0L991 -8.3 -8 -7.5Z" fill="url(#sb)"/>
<path transform="matrix(0.10940 0.04356 0 -0.10198 385.88 115.20)" d="M0 0L0 0.0 133 0.2 138 2.4 148 18.4 158 2.9 165 0.6 201 2.5 263 0.0 1000 0.0L1000 0L991 -8.3 -8 -7.5Z" fill="url(#sb)"/>
<path transform="matrix(0.10935 0.04362 0 -0.10208 384.96 115.60)" d="M0 0L0 0.0 133 0.2 138 2.2 148 17.5 158 2.7 165 0.5 201 1.9 263 0.0 1000 0.0L1000 0L991 -8.3 -8 -7.5Z" fill="url(#sb)"/>
<path transform="matrix(0.10930 0.04367 0 -0.10218 384.04 116.00)" d="M0 0L0 0.0 133 0.2 138 2.1 148 16.5 158 2.5 165 0.4 1000 0.0L1000 0L991 -8.3 -8 -7.5Z" fill="url(#sb)"/>
<path transform="matrix(0.10925 0.04373 0 -0.10229 383.11 116.40)" d="M0 0L0 0.0 133 0.2 138 2.0 148 15.6 158 2.3 165 0.3 1000 0.0L1000 0L991 -8.3 -8 -7.5Z" fill="url(#sb)"/>
<path transform="matrix(0.10920 0.04378 0 -0.10239 382.19 116.80)" d="M0 0L0 0.0 133 0.1 138 1.9 148 14.7 158 2.1 165 0.2 1000 0.0L1000 0L991 -8.2 -8 -7.5Z" fill="url(#sb)"/>
<path transform="matrix(0.10915 0.04384 0 -0.10249 381.27 117.20)" d="M0 0L0 0.0 133 0.1 138 1.8 148 13.8 158 2.0 165 0.1 1000 0.0L1000 0L991 -8.2 -8 -7.5Z" fill="url(#sb)"/>
<path transform="matrix(0.10910 0.04389 0 -0.10259 380.35 117.60)" d="M0 0L0 0.0 133 0.1 138 1.6 148 13.0 158 1.8 165 0.1 1000 0.0L1000 0L991 -8.2 -8 -7.5Z" fill="url(#sb)"/>
<path transform="matrix(0.10905 0.04395 0 -0.10270 379.42 118.00)" d="M0 0L0 0.0 133 0.1 138 1.5 148 12.1 158 1.7 165 0.0 1000 0.0L1000 0L991 -8.2 -8 -7.5Z" fill="url(#sb)"/>
<path transform="matrix(0.10900 0.04400 0 -0.10280 378.50 118.40)" d="M0 0L0 0.0 133 0.1 138 1.4 148 11.4 158 1.6 165 0.0 1000 0.0L1000 0L1000 -0.0 0 -0.0Z" fill="url(#sb)"/>
<path d="M48.00 325.70L157.00 369.70L264.00 319.70L149.50 281.70Z" fill="#ff3cff"/>
<path transform="matrix(0.11450 0.03800 0 -1.13270 149.50 281.70)" d="M0 0L0 0.00 145 0.13 155 0.34 163 0.72 170 1.51 175 2.45 180 3.94 185 6.24 193 11.85 218 45.07 226 51.89 228 52.00 263 52.00 268 21.30 273 6.46 278 1.79 283 0.71 286 0.63 291 0.84L291 0L283 -0.64 -8 -0.62Z" fill="url(#sc)"/>
<path transform="matrix(0.11450 0.03800 0 -1.13270 149.50 281.70)" d="M291 0L291 0.84 313 3.37 338 5.70 378 10.50 398 12.17 421 13.44 434 13.45 481 14.21 499 14.79 516 15.00 531 15.57 534 15.97 536 17.00 539 19.19 546 28.96 549 28.29 556 18.75 559 17.42 561 16.99 564 16.96 579 18.12 599 19.26 629 22.02 739 34.97 789 38.54 822 40.34 900 42.14 915 42.07 1000 42.49L1000 0L992 -0.69 283 -0.64Z" fill="url(#scs65)"/>
<path transform="matrix(0.11445 0.03805 0 -1.13336 148.58 282.10)" d="M0 0L0 0.00 145 0.13 155 0.34 163 0.72 170 1.51 175 2.45 180 3.94 185 6.24 193 11.85 218 45.07 226 51.89 228 52.00 263 52.00 268 21.32 273 6.47 278 1.79 283 0.71 286 0.64 291 0.86L291 0L283 -0.64 -8 -0.62Z" fill="url(#sc)"/>
<path transform="matrix(0.11445 0.03805 0 -1.13336 148.58 282.10)" d="M291 0L291 0.86 313 3.43 338 5.81 351 7.48 381 10.96 393 12.06 416 13.49 421 13.71 436 13.73 484 14.52 499 15.08 519 15.35 531 15.85 534 16.25 536 17.26 539 19.42 546 29.04 549 28.39 556 19.02 559 17.71 561 17.29 564 17.27 579 18.48 591 19.07 599 19.61 629 22.42 644 24.08 659 26.11 674 27.72 739 35.64 789 39.25 822 41.10 887 42.52 900 42.93 915 42.84 1000 43.27L1000 0L992 -0.69 283 -0.64Z" fill="url(#scs65)"/>
<path transform="matrix(0.11440 0.03811 0 -1.13401 147.65 282.50)" d="M0 0L0 0.00 145 0.13 155 0.34 163 0.72 170 1.51 175 2.45 180 3.94 185 6.24 193 11.85 218 45.07 226 51.89 228 52.00 263 52.00 268 21.35 273 6.50 278 1.81 283 0.73 286 0.66 291 0.88L291 0L283 -0.64 -8 -0.62Z" fill="url(#sc)"/>
<path transform="matrix(0.11440 0.03811 0 -1.13401 147.65 282.50)" d="M291 0L291 0.88 313 3.54 336 5.71 351 7.74 381 11.31 393 12.44 416 13.95 421 14.18 434 14.14 481 14.93 499 15.58 516 15.77 531 16.35 534 16.74 536 17.71 539 19.78 546 28.95 549 28.34 556 19.45 559 18.22 561 17.83 564 17.82 579 19.09 591 19.69 599 20.24 629 23.14 644 24.85 659 26.97 674 28.61 739 36.81 789 40.51 822 42.43 887 43.89 900 44.32 915 44.22 1000 44.66L1000 0L991 -0.69 283 -0.64Z" fill="url(#scs65)"/>
<path transform="matrix(0.11435 0.03816 0 -1.13467 146.73 282.90)" d="M0 0L0 0.00 145 0.13 155 0.34 163 0.72 170 1.51 175 2.45 180 3.94 185 6.24 193 11.85 218 45.07 226 51.89 228 52.00 263 52.00 268 21.42 273 6.54 278 1.83 283 0.75 286 0.68 291 0.92L291 0L283 -0.64 -8 -0.62Z" fill="url(#sc)"/>
<path transform="matrix(0.11435 0.03816 0 -1.13467 146.73 282.90)" d="M291 0L291 0.92 313 3.68 336 5.94 351 8.08 381 11.77 393 12.96 416 14.54 421 14.78 434 14.72 481 15.55 499 16.24 514 16.36 531 17.01 534 17.38 536 18.29 539 20.20 546 28.69 549 28.14 556 20.00 559 18.88 561 18.54 564 18.55 579 19.90 591 20.50 599 21.07 629 24.09 644 25.88 659 28.09 674 29.78 739 38.34 779 41.49 817 43.96 822 44.19 887 45.70 900 46.16 915 46.03 1000 46.50L1000 0L991 -0.69 283 -0.64Z" fill="url(#scs65)"/>
<path transform="matrix(0.11430 0.03822 0 -1.13533 145.81 283.30)" d="M0 0L0 0.00 145 0.13 155 0.34 163 0.72 170 1.51 175 2.45 180 3.94 185 6.24 193 11.85 218 45.07 226 51.89 228 52.00 263 52.00 268 21.53 273 6.61 278 1.87 283 0.77 286 0.70 291 0.95L291 0L283 -0.64 -8 -0.62Z" fill="url(#sc)"/>
<path transform="matrix(0.11430 0.03822 0 -1.13533 145.81 283.30)" d="M291 0L291 0.95 313 3.81 336 6.16 351 8.39 381 12.19 393 13.42 416 15.08 421 15.34 434 15.25 481 16.10 499 16.84 514 16.94 531 17.61 534 17.95 536 18.77 539 20.49 546 28.10 549 27.63 556 20.43 559 19.45 561 19.17 564 19.21 579 20.64 591 21.24 599 21.82 629 24.95 647 27.14 659 29.11 674 30.85 727 37.87 739 39.74 779 42.97 817 45.54 822 45.79 832 45.91 887 47.32 900 47.83 915 47.67 1000 48.15L1000 0L991 -0.69 283 -0.64Z" fill="url(#scs65)"/>
<path transform="matrix(0.11425 0.03827 0 -1.13599 144.89 283.70)" d="M0 0L0 0.00 145 0.13 155 0.34 163 0.72 170 1.51 175 2.45 180 3.94 185 6.24 193 11.85 218 45.07 226 51.89 228 52.00 263 52.00 268 21.72 273 6.75 278 1.93 283 0.80 286 0.73 291 0.97L291 0L283 -0.64 -8 -0.62Z" fill="url(#sc)"/>
<path transform="matrix(0.11425 0.03827 0 -1.13599 144.89 283.70)" d="M291 0L291 0.97 313 3.90 336 6.29 351 8.59 381 12.45 393 13.70 419 15.61 436 15.61 479 16.39 489 16.67 499 17.23 514 17.31 531 17.97 536 19.01 539 20.51 546 27.12 549 26.73 554 22.32 559 19.78 561 19.56 564 19.62 579 21.12 596 22.07 619 24.33 642 27.04 659 29.76 674 31.51 727 38.69 739 40.63 752 41.52 779 43.89 817 46.54 822 46.79 832 46.90 887 48.34 900 48.88 915 48.70 1000 49.18L1000 0L991 -0.69 283 -0.64Z" fill="url(#scs65)"/>
<path transform="matrix(0.11420 0.03833 0 -1.13664 143.96 284.10)" d="M0 0L0 0.00 145 0.13 155 0.34 163 0.72 170 1.51 175 2.45 180 3.94 185 6.24 193 11.85 218 45.07 226 51.89 228 52.00 263 52.00 268 22.08 273 6.98 278 2.03 283 0.83 286 0.75 291 0.99L291 0L283 -0.64 -8 -0.62Z" fill="url(#sc)"/>
<path transform="matrix(0.11420 0.03833 0 -1.13664 143.96 284.10)" d="M291 0L291 0.99 313 3.93 336 6.35 351 8.71 381 12.57 393 13.83 419 15.80 436 15.76 479 16.55 489 16.84 499 17.42 514 17.47 531 18.13 536 19.03 539 20.30 546 25.88 549 25.58 554 21.94 559 19.88 564 19.80 569 20.19 579 21.36 596 22.28 619 24.56 642 27.30 659 30.08 677 32.15 727 39.06 739 41.06 752 41.92 779 44.31 807 46.16 817 47.01 822 47.27 832 47.35 887 48.81 900 49.38 915 49.16 1000 49.65L1000 0L991 -0.69 283 -0.64Z" fill="url(#scs65)"/>
<path transform="matrix(0.11415 0.03838 0 -1.13730 143.04 284.50)" d="M0 0L0 0.00 145 0.13 155 0.34 163 0.72 170 1.51 175 2.45 180 3.94 185 6.24 193 11.85 218 45.07 226 51.89 228 52.00 263 52.00 268 22.71 273 7.42 276 4.05 281 1.30 286 0.78 291 1.00L291 0L283 -0.64 -8 -0.62Z" fill="url(#sc)"/>
<path transform="matrix(0.11415 0.03838 0 -1.13730 143.04 284.50)" d="M291 0L291 1.00 313 3.94 336 6.37 351 8.76 361 9.89 381 12.60 391 13.64 419 15.88 436 15.79 476 16.53 489 16.88 499 17.50 514 17.51 531 18.16 536 18.93 539 19.97 546 24.54 549 24.33 554 21.45 559 19.84 564 19.84 569 20.24 579 21.46 591 21.97 596 22.33 619 24.61 642 27.36 659 30.18 677 32.22 727 39.14 739 41.19 752 42.02 779 44.40 807 46.26 817 47.14 822 47.40 832 47.45 885 48.84 900 49.52 915 49.27 1000 49.75L1000 0L991 -0.69 283 -0.64Z" fill="url(#scs65)"/>
<path transform="matrix(0.11410 0.03844 0 -1.13796 142.12 284.90)" d="M0 0L0 0.00 145 0.13 155 0.34 163 0.72 170 1.51 175 2.45 180 3.94 185 6.24 193 11.85 218 45.07 226 51.89 228 52.00 263 52.00 268 23.83 273 8.22 276 4.61 281 1.52 286 0.85 291 1.01L291 0L283 -0.64 -8 -0.62Z" fill="url(#sc)"/>
<path transform="matrix(0.11410 0.03844 0 -1.13796 142.12 284.90)" d="M291 0L291 1.01 313 3.93 336 6.35 351 8.78 361 9.87 381 12.56 391 13.60 409 14.92 419 15.89 424 15.97 436 15.74 474 16.43 486 16.73 499 17.49 514 17.46 531 18.10 536 18.74 539 19.58 546 23.23 549 23.08 554 20.90 559 19.70 561 19.66 566 19.96 581 21.63 591 21.91 596 22.26 619 24.54 642 27.27 659 30.13 677 32.12 727 39.03 739 41.12 752 41.90 777 44.07 807 46.12 820 47.21 835 47.37 885 48.69 900 49.41 915 49.12 1000 49.60L1000 0L991 -0.69 283 -0.64Z" fill="url(#scs65)"/>
<path transform="matrix(0.11405 0.03849 0 -1.13862 141.20 285.30)" d="M0 0L0 0.00 145 0.13 155 0.34 163 0.72 170 1.51 175 2.45 180 3.94 185 6.24 193 11.85 218 45.07 226 51.89 228 52.00 263 52.00 268 25.74 273 9.70 276 5.69 281 1.98 286 1.01 291 1.05L291 0L283 -0.64 -8 -0.62Z" fill="url(#sc)"/>
<path transform="matrix(0.11405 0.03849 0 -1.13862 141.20 285.30)" d="M291 0L291 1.05 296 1.52 313 3.90 336 6.30 351 8.75 361 9.80 381 12.46 391 13.49 409 14.80 419 15.82 421 15.92 431 15.61 439 15.65 484 16.51 501 17.45 511 17.29 521 17.53 531 17.94 536 18.47 546 21.97 549 21.90 554 20.31 559 19.47 566 19.79 581 21.51 591 21.74 596 22.08 619 24.33 642 27.05 659 29.93 677 31.86 727 38.71 739 40.84 752 41.55 777 43.70 807 45.74 820 46.87 835 46.97 885 48.28 900 49.05 915 48.71 1000 49.19L1000 0L991 -0.69 283 -0.64Z" fill="url(#scs65)"/>
<path transform="matrix(0.11400 0.03855 0 -1.13927 140.27 285.70)" d="M0 0L0 0.00 145 0.13 155 0.34 163 0.72 170 1.51 175 2.45 180 3.94 185 6.24 193 11.85 218 45.07 226 51.89 228 52.00 263 52.00 273 12.34 276 7.74 281 3.00 286 1.42 291 1.19L291 0L283 -0.64 -8 -0.62Z" fill="url(#sc)"/>
<path transform="matrix(0.11400 0.03855 0 -1.13927 140.27 285.70)" d="M291 0L291 1.19 296 1.54 313 3.83 336 6.20 351 8.67 361 9.65 381 12.25 393 13.48 409 14.58 419 15.64 421 15.73 431 15.37 439 15.40 484 16.24 501 17.22 511 17.02 521 17.25 531 17.64 536 18.08 546 20.76 549 20.73 556 19.24 561 19.15 569 19.72 579 21.06 581 21.24 591 21.39 596 21.72 619 23.94 642 26.61 659 29.50 677 31.34 727 38.09 739 40.25 754 41.07 779 43.18 807 45.00 820 46.16 835 46.21 885 47.50 900 48.31 915 47.92 1000 48.39L1000 0L991 -0.69 283 -0.64Z" fill="url(#scs65)"/>
<path transform="matrix(0.11395 0.03860 0 -1.13993 139.35 286.10)" d="M0 0L0 0.00 145 0.13 155 0.34 163 0.72 170 1.51 175 2.45 180 3.94 185 6.24 193 11.85 218 45.07 226 51.89 228 52.00 263 52.00 271 23.95 276 11.50 283 3.56 286 2.53 291 1.66L291 0L283 -0.64 -8 -0.63Z" fill="url(#sc)"/>
<path transform="matrix(0.11395 0.03860 0 -1.13993 139.35 286.10)" d="M291 0L291 1.66 293 1.60 298 1.91 313 3.73 333 5.73 351 8.48 361 9.38 383 12.16 393 13.09 409 14.16 419 15.27 421 15.36 431 14.94 439 14.95 484 15.77 501 16.78 511 16.53 521 16.74 531 17.12 536 17.49 546 19.50 549 19.51 556 18.56 561 18.58 569 19.16 579 20.53 581 20.70 591 20.78 596 21.08 619 23.23 642 25.82 649 26.88 659 28.70 674 30.11 724 36.63 739 39.16 742 39.39 754 39.87 779 41.91 807 43.69 820 44.87 835 44.86 885 46.11 900 46.96 915 46.52 1000 46.96L1000 0L991 -0.69 283 -0.64Z" fill="url(#scs65)"/>
<path transform="matrix(0.11390 0.03865 0 -1.14059 138.43 286.50)" d="M0 0L0 0.00 145 0.13 155 0.34 163 0.72 170 1.51 175 2.45 180 3.94 185 6.24 193 11.85 218 45.07 226 51.89 228 52.00 263 52.00 278 13.13 283 7.16 291 3.22L291 0L282 -0.64 -8 -0.63Z" fill="url(#sc)"/>
<path transform="matrix(0.11390 0.03865 0 -1.14059 138.43 286.50)" d="M291 0L291 3.22 296 2.47 301 2.48 306 2.86 336 5.72 351 8.13 361 8.92 381 11.28 391 12.22 409 13.45 419 14.60 424 14.62 431 14.19 439 14.18 484 14.96 501 16.01 511 15.70 521 15.88 536 16.54 546 18.03 549 18.08 556 17.53 561 17.62 569 18.20 579 19.59 581 19.75 591 19.73 596 20.00 619 22.04 642 24.50 649 25.52 659 27.31 674 28.57 724 34.75 739 37.27 742 37.48 754 37.83 779 39.76 807 41.45 820 42.66 835 42.56 885 43.75 900 44.63 915 44.13 1000 44.56L1000 0L991 -0.69 282 -0.64Z" fill="url(#scs65)"/>
<path transform="matrix(0.11385 0.03871 0 -1.14124 137.50 286.90)" d="M0 0L0 0.00 145 0.13 155 0.34 163 0.72 170 1.51 175 2.45 180 3.94 185 6.24 193 11.85 218 45.07 226 51.89 228 52.00 263 52.00 266 51.34 273 31.20 281 16.93 288 8.83 293 5.95 298 4.42L298 0L290 -0.64 -8 -0.63Z" fill="url(#sc)"/>
<path transform="matrix(0.11385 0.03871 0 -1.14124 137.50 286.90)" d="M298 0L298 4.42 303 3.78 308 3.64 316 3.85 328 4.60 338 5.56 351 7.55 363 8.40 386 10.77 409 12.32 419 13.49 421 13.57 431 13.00 436 12.94 484 13.68 501 14.74 511 14.37 519 14.45 536 15.09 546 16.18 556 15.97 564 16.24 569 16.66 576 17.76 581 18.20 591 18.06 596 18.29 619 20.15 642 22.39 649 23.35 659 25.08 674 26.12 724 31.77 739 34.21 742 34.40 749 34.40 754 34.58 779 36.34 807 37.90 820 39.10 835 38.90 882 39.93 890 40.20 900 40.91 915 40.34 1000 40.72L1000 0L991 -0.69 290 -0.64Z" fill="url(#scs65)"/>
<path transform="matrix(0.11380 0.03876 0 -1.14190 136.58 287.30)" d="M0 0L0 0.00 145 0.13 155 0.34 163 0.72 170 1.51 175 2.45 180 3.94 185 6.24 193 11.85 218 45.07 226 51.89 228 52.00 266 52.00 278 29.52 288 16.29 298 9.15 306 6.54 313 5.25L313 0L305 -0.65 -8 -0.63Z" fill="url(#sc)"/>
<path transform="matrix(0.11380 0.03876 0 -1.14190 136.58 287.30)" d="M313 0L313 5.25 323 4.62 331 4.65 336 4.89 351 6.77 361 7.12 386 9.30 406 10.48 419 11.86 421 11.94 431 11.27 436 11.18 484 11.82 489 12.02 496 12.67 501 12.89 511 12.44 519 12.48 536 13.01 546 13.80 556 13.77 564 14.03 569 14.43 579 15.81 581 15.93 591 15.63 596 15.80 619 17.40 642 19.34 649 20.20 659 21.82 674 22.57 724 27.45 739 29.77 742 29.92 749 29.78 754 29.88 779 31.39 807 32.75 820 33.94 835 33.61 882 34.49 890 34.76 900 35.50 915 34.85 1000 35.18L1000 0L991 -0.69 305 -0.65Z" fill="url(#scs65)"/>
<path transform="matrix(0.11375 0.03882 0 -1.14256 135.66 287.70)" d="M0 0L0 0.00 145 0.13 155 0.34 163 0.72 170 1.51 175 2.45 180 3.94 185 6.24 193 11.85 218 45.07 226 51.89 228 52.00 268 52.00 283 30.10 296 17.61 303 12.91 311 9.71 318 7.57 328 5.91L328 0L320 -0.65 -8 -0.63Z" fill="url(#sc)"/>
<path transform="matrix(0.11375 0.03882 0 -1.14256 135.66 287.70)" d="M328 0L328 5.91 333 5.50 338 5.39 351 6.24 363 6.12 386 7.50 406 8.42 419 9.79 421 9.85 431 9.07 436 8.96 484 9.46 489 9.65 496 10.33 501 10.54 511 9.99 519 9.99 536 10.40 546 10.95 556 11.00 564 11.23 569 11.60 579 12.94 581 13.04 591 12.56 596 12.65 617 13.77 642 15.48 649 16.21 659 17.68 662 17.86 674 18.07 722 21.77 729 22.53 739 24.12 742 24.23 752 23.88 757 24.02 807 26.23 820 27.38 835 26.91 882 27.60 890 27.87 900 28.63 912 27.95 917 27.89 1000 28.15L1000 0L991 -0.69 320 -0.65Z" fill="url(#scs65)"/>
<path transform="matrix(0.11370 0.03887 0 -1.14322 134.74 288.10)" d="M0 0L0 0.00 145 0.13 155 0.34 163 0.72 170 1.51 175 2.45 180 3.94 185 6.24 193 11.85 218 45.07 226 51.89 228 52.00 268 52.00 271 51.07 288 30.86 296 24.15 306 17.36 316 12.53 326 9.22 336 7.18 341 6.74 346 6.71L346 0L338 -0.65 -8 -0.63Z" fill="url(#sc)"/>
<path transform="matrix(0.11370 0.03887 0 -1.14322 134.74 288.10)" d="M346 0L346 6.71 351 6.59 361 5.60 368 5.46 406 6.30 419 7.61 421 7.65 431 6.74 439 6.58 484 6.93 489 7.12 499 7.98 516 7.29 534 7.55 546 7.97 561 8.15 569 8.56 579 9.87 581 9.93 591 9.25 596 9.27 639 11.19 649 11.92 659 13.24 662 13.36 674 13.24 724 16.09 729 16.57 739 18.05 742 18.11 752 17.54 757 17.59 805 19.11 810 19.40 820 20.34 835 19.71 882 20.21 890 20.46 900 21.25 912 20.49 917 20.41 1000 20.60L1000 0L991 -0.69 338 -0.65Z" fill="url(#scs65)"/>
<path transform="matrix(0.11365 0.03893 0 -1.14387 133.81 288.50)" d="M0 0L0 0.00 145 0.13 155 0.34 163 0.72 170 1.51 175 2.45 180 3.94 185 6.24 193 11.85 218 45.07 226 51.89 228 52.00 271 52.00 293 30.88 303 23.47 313 17.67 323 13.24 333 10.02 338 8.93 351 7.63 361 5.84L361 0L353 -0.65 -8 -0.63Z" fill="url(#sc)"/>
<path transform="matrix(0.11365 0.03893 0 -1.14387 133.81 288.50)" d="M361 0L361 5.84 373 4.99 398 4.57 409 4.73 419 5.80 421 5.81 431 4.73 439 4.50 484 4.67 489 4.84 499 5.72 501 5.74 514 4.93 531 5.03 564 5.53 569 5.83 579 7.11 581 7.14 591 6.29 596 6.22 639 7.51 649 8.06 659 9.25 662 9.32 672 8.89 677 8.96 724 10.81 729 11.21 739 12.60 742 12.62 752 11.83 757 11.80 805 12.83 810 13.09 820 14.01 835 13.23 880 13.53 887 13.67 900 14.62 912 13.79 917 13.69 1000 13.81L1000 0L991 -0.69 353 -0.65Z" fill="url(#scs65)"/>
<path transform="matrix(0.11360 0.03898 0 -1.14453 132.89 288.90)" d="M0 0L0 0.00 145 0.13 155 0.34 163 0.72 170 1.51 175 2.45 180 3.94 185 6.24 193 11.85 218 45.07 226 51.89 228 52.00 271 52.00 273 51.45 296 31.82 306 24.88 318 17.98 328 13.74 338 10.68 351 8.75 363 5.94 373 4.90L373 0L365 -0.65 -8 -0.63Z" fill="url(#sc)"/>
<path transform="matrix(0.11360 0.03898 0 -1.14453 132.89 288.90)" d="M373 0L373 4.90 388 4.00 404 3.51 409 3.59 419 4.57 421 4.56 431 3.29 439 2.99 484 2.95 489 3.12 499 4.02 501 4.03 511 3.21 524 3.09 564 3.47 569 3.75 579 5.02 581 5.03 591 4.01 599 3.91 644 4.82 649 5.11 659 6.21 662 6.24 674 5.58 719 6.60 729 7.11 739 8.45 742 8.44 752 7.46 757 7.37 805 8.01 810 8.26 820 9.18 832 8.34 837 8.25 885 8.49 890 8.71 900 9.56 912 8.65 917 8.54 1000 8.61L1000 0L991 -0.69 365 -0.65Z" fill="url(#scs65)"/>
<path transform="matrix(0.11355 0.03904 0 -1.14519 131.97 289.30)" d="M0 0L0 0.00 145 0.13 155 0.34 163 0.72 170 1.51 175 2.45 180 3.94 185 6.24 193 11.85 218 45.07 226 51.89 228 52.00 273 52.00 301 29.99 313 22.28 326 16.24 338 11.90 351 9.61 363 6.32 376 4.70 391 3.51 406 2.87 411 3.09 419 3.86 421 3.82 431 2.40 441 1.98 484 1.81 489 1.97 499 2.91 501 2.91 511 2.00 524 1.84 564 2.07 569 2.34 579 3.64 581 3.64 591 2.48 599 2.32 644 2.87 649 3.12 659 4.18 662 4.18 672 3.40 677 3.32 722 3.95 729 4.35 739 5.67 742 5.64 752 4.51 757 4.37 805 4.76 810 4.99 820 5.94 832 5.00 837 4.89 885 5.04 890 5.27 900 6.17 912 5.18 917 5.06 1000 5.09L1000 0L991 -0.69 -8 -0.63Z" fill="url(#sc)"/>
<path transform="matrix(0.11350 0.03909 0 -1.14585 131.05 289.70)" d="M0 0L0 0.00 145 0.13 155 0.34 163 0.72 170 1.51 175 2.45 180 3.94 185 6.24 193 11.85 218 45.07 226 51.89 228 52.00 273 52.00 303 29.34 316 21.95 328 16.11 338 12.65 351 10.20 363 6.60 378 4.46 396 2.97 404 2.57 409 2.55 419 3.49 421 3.44 431 1.87 436 1.52 444 1.36 484 1.11 489 1.27 499 2.25 501 2.25 511 1.26 521 1.06 564 1.21 569 1.48 579 2.83 581 2.81 591 1.54 599 1.33 644 1.66 649 1.90 659 2.95 662 2.94 672 2.03 677 1.91 722 2.27 729 2.64 739 3.99 742 3.94 752 2.68 757 2.51 805 2.74 810 2.98 820 3.96 835 2.84 882 2.87 890 3.14 900 4.09 912 3.03 917 2.90 1000 2.91L1000 0L991 -0.69 -8 -0.63Z" fill="url(#sc)"/>
<path transform="matrix(0.11345 0.03915 0 -1.14650 130.12 290.10)" d="M0 0L0 0.00 145 0.13 155 0.34 163 0.72 170 1.51 175 2.45 180 3.94 185 6.24 193 11.85 218 45.07 226 51.89 228 52.00 273 52.00 306 28.32 318 21.22 331 15.62 338 13.09 351 10.58 366 6.28 381 4.19 398 2.66 409 2.36 419 3.33 424 2.93 431 1.59 439 1.12 484 0.70 489 0.87 499 1.90 501 1.89 511 0.84 521 0.61 564 0.70 569 0.98 579 2.39 581 2.37 591 1.00 599 0.75 644 0.95 649 1.18 659 2.26 662 2.23 672 1.23 677 1.08 722 1.28 729 1.65 739 3.05 742 2.99 752 1.62 759 1.41 805 1.56 810 1.80 820 2.83 835 1.62 882 1.62 890 1.90 900 2.90 912 1.77 917 1.64 1000 1.63L1000 0L991 -0.69 -8 -0.63Z" fill="url(#sc)"/>
<path transform="matrix(0.11340 0.03920 0 -1.14716 129.20 290.50)" d="M0 0L0 0.00 145 0.13 155 0.34 163 0.72 170 1.51 175 2.45 180 3.94 185 6.24 193 11.85 218 45.07 226 51.89 228 52.00 273 52.00 306 28.64 318 21.54 331 15.90 338 13.35 351 10.83 366 6.36 381 4.18 398 2.58 404 2.29 409 2.26 419 3.29 421 3.22 431 1.44 436 1.03 454 0.68 479 0.46 489 0.65 499 1.73 501 1.73 511 0.60 516 0.39 564 0.42 569 0.70 579 2.19 581 2.16 591 0.69 596 0.45 644 0.54 649 0.78 659 1.90 662 1.87 672 0.78 677 0.61 722 0.72 729 1.09 739 2.56 742 2.49 752 1.02 759 0.78 805 0.89 810 1.14 820 2.22 835 0.93 882 0.90 890 1.20 900 2.26 912 1.06 917 0.92 1000 0.90L1000 0L991 -0.69 -8 -0.63Z" fill="url(#sc)"/>
<path transform="matrix(0.11335 0.03925 0 -1.14782 128.28 290.90)" d="M0 0L0 0.00 145 0.13 155 0.34 163 0.72 170 1.51 175 2.45 180 3.94 185 6.24 193 11.85 218 45.07 226 51.89 228 52.00 273 52.00 306 28.82 318 21.71 331 16.05 338 13.49 351 11.01 366 6.41 381 4.18 398 2.54 404 2.24 409 2.21 419 3.31 421 3.24 431 1.36 436 0.93 454 0.56 479 0.34 489 0.53 499 1.67 501 1.67 511 0.47 516 0.26 564 0.26 569 0.56 579 2.12 581 2.09 591 0.53 596 0.27 644 0.32 649 0.56 659 1.73 662 1.70 672 0.53 677 0.35 722 0.40 729 0.79 739 2.33 742 2.25 752 0.69 759 0.44 805 0.51 810 0.78 820 1.92 835 0.55 882 0.50 890 0.82 897 1.80 900 1.94 912 0.67 917 0.51 1000 0.50L1000 0L991 -0.69 -8 -0.63Z" fill="url(#sc)"/>
<path transform="matrix(0.11330 0.03931 0 -1.14847 127.35 291.30)" d="M0 0L0 0.00 145 0.13 155 0.34 163 0.72 170 1.51 175 2.45 180 3.94 185 6.24 193 11.85 218 45.07 226 51.89 228 52.00 273 52.00 306 28.92 318 21.81 331 16.14 338 13.58 351 11.14 366 6.44 381 4.18 401 2.35 409 2.20 419 3.37 421 3.30 431 1.33 436 0.88 451 0.54 479 0.27 489 0.48 499 1.68 501 1.67 511 0.41 516 0.18 564 0.17 569 0.49 579 2.13 581 2.10 591 0.45 596 0.17 644 0.20 649 0.45 659 1.68 662 1.64 672 0.40 677 0.21 722 0.23 729 0.64 739 2.25 742 2.17 752 0.52 759 0.24 805 0.31 810 0.59 820 1.78 835 0.34 882 0.29 890 0.62 897 1.65 900 1.80 912 0.46 917 0.29 1000 0.27L1000 0L991 -0.69 -8 -0.63Z" fill="url(#sc)"/>
<path transform="matrix(0.11325 0.03936 0 -1.14913 126.43 291.70)" d="M0 0L0 0.00 145 0.13 155 0.34 163 0.72 170 1.51 175 2.45 180 3.94 185 6.24 193 11.85 218 45.07 226 51.89 228 52.00 273 52.00 276 51.04 306 28.97 318 21.86 331 16.18 338 13.63 351 11.25 366 6.46 381 4.18 401 2.33 409 2.19 419 3.45 421 3.38 431 1.32 436 0.85 451 0.50 479 0.23 489 0.45 499 1.72 501 1.71 511 0.38 516 0.14 564 0.13 569 0.46 579 2.19 581 2.16 591 0.41 596 0.12 644 0.13 649 0.40 659 1.69 662 1.64 672 0.34 677 0.13 722 0.14 727 0.31 729 0.56 739 2.26 742 2.17 752 0.43 759 0.14 805 0.20 810 0.49 820 1.75 835 0.23 882 0.17 890 0.52 897 1.60 900 1.76 912 0.35 917 0.17 1000 0.15L1000 0L991 -0.69 -8 -0.63Z" fill="url(#sc)"/>
<path transform="matrix(0.11320 0.03942 0 -1.14979 125.51 292.10)" d="M0 0L0 0.00 145 0.13 155 0.34 163 0.72 170 1.51 175 2.45 180 3.94 185 6.24 193 11.85 218 45.07 226 51.89 228 52.00 273 52.00 276 51.05 306 29.00 318 21.89 331 16.21 338 13.67 351 11.35 361 7.70 366 6.47 381 4.18 401 2.33 409 2.20 419 3.55 421 3.48 431 1.32 436 0.84 451 0.48 479 0.21 484 0.22 489 0.44 499 1.77 501 1.77 511 0.37 516 0.12 564 0.10 569 0.45 579 2.26 581 2.23 591 0.40 596 0.09 644 0.10 649 0.37 659 1.73 662 1.68 672 0.31 677 0.09 722 0.09 727 0.27 729 0.53 739 2.31 742 2.22 752 0.39 759 0.08 805 0.14 810 0.45 820 1.77 835 0.17 882 0.10 890 0.47 897 1.61 900 1.77 912 0.29 917 0.11 1000 0.08L1000 0L991 -0.69 -8 -0.63Z" fill="url(#sc)"/>
<path transform="matrix(0.11315 0.03947 0 -1.15045 124.59 292.50)" d="M0 0L0 0.00 145 0.13 155 0.34 163 0.72 170 1.51 175 2.45 180 3.94 185 6.24 193 11.85 218 45.07 226 51.89 228 52.00 273 52.00 276 51.06 306 29.02 318 21.90 331 16.22 338 13.69 351 11.44 361 7.72 366 6.47 381 4.18 401 2.32 409 2.21 419 3.65 421 3.58 431 1.34 436 0.84 451 0.47 479 0.20 484 0.21 489 0.44 499 1.84 501 1.84 511 0.38 516 0.11 564 0.09 569 0.46 579 2.36 581 2.33 591 0.40 596 0.08 644 0.08 649 0.37 659 1.79 662 1.74 672 0.30 677 0.07 722 0.06 727 0.25 729 0.52 739 2.39 742 2.30 752 0.37 759 0.05 805 0.10 810 0.43 820 1.82 835 0.13 882 0.07 890 0.45 897 1.64 900 1.82 912 0.26 917 0.07 1000 0.04L1000 0L991 -0.69 -8 -0.63Z" fill="url(#sc)"/>
<path transform="matrix(0.11310 0.03953 0 -1.15110 123.66 292.90)" d="M0 0L0 0.00 145 0.13 155 0.34 163 0.72 170 1.51 175 2.45 180 3.94 185 6.24 193 11.85 218 45.07 226 51.89 228 52.00 273 52.00 276 51.06 306 29.02 318 21.91 331 16.23 338 13.71 351 11.53 361 7.74 366 6.48 381 4.19 401 2.32 406 2.14 409 2.23 419 3.75 421 3.68 431 1.35 436 0.83 451 0.47 479 0.19 484 0.21 489 0.45 499 1.92 501 1.91 511 0.38 516 0.10 564 0.09 569 0.47 579 2.46 581 2.42 591 0.41 596 0.07 644 0.07 649 0.37 659 1.86 662 1.81 672 0.30 677 0.05 722 0.04 727 0.24 729 0.53 739 2.49 742 2.39 752 0.37 759 0.03 805 0.09 810 0.43 820 1.88 822 1.78 830 0.54 835 0.12 882 0.05 890 0.45 897 1.70 900 1.88 912 0.25 917 0.05 1000 0.02L1000 0L991 -0.69 -8 -0.63Z" fill="url(#sc)"/>
<path transform="matrix(0.11305 0.03958 0 -1.15176 122.74 293.30)" d="M0 0L0 0.00 145 0.13 155 0.34 163 0.72 170 1.51 175 2.45 180 3.94 185 6.24 193 11.85 218 45.07 226 51.89 228 52.00 273 52.00 276 51.06 306 29.03 318 21.92 331 16.24 338 13.73 351 11.61 361 7.76 366 6.48 381 4.19 401 2.32 406 2.15 409 2.24 419 3.85 421 3.79 431 1.37 436 0.83 451 0.47 479 0.19 484 0.20 489 0.46 499 1.99 501 1.99 511 0.39 516 0.10 564 0.08 569 0.48 579 2.56 581 2.53 591 0.42 596 0.07 644 0.07 649 0.38 659 1.93 662 1.88 672 0.30 677 0.05 722 0.04 727 0.24 729 0.54 739 2.59 742 2.48 752 0.38 759 0.03 805 0.08 810 0.44 820 1.95 822 1.85 830 0.56 835 0.11 882 0.04 890 0.46 897 1.76 900 1.95 902 1.82 912 0.25 917 0.04 1000 0.01L1000 0L991 -0.69 -8 -0.63Z" fill="url(#sc)"/>
<path transform="matrix(0.11300 0.03964 0 -1.15242 121.82 293.70)" d="M0 0L0 0.00 145 0.13 155 0.34 163 0.72 170 1.51 175 2.45 180 3.94 185 6.24 193 11.85 218 45.07 226 51.89 228 52.00 273 52.00 276 51.06 306 29.03 318 21.92 331 16.24 338 13.74 351 11.69 361 7.77 366 6.49 381 4.19 398 2.49 404 2.20 409 2.26 419 3.96 421 3.89 431 1.39 436 0.84 451 0.46 479 0.19 484 0.20 489 0.48 499 2.07 501 2.07 511 0.41 516 0.10 564 0.08 569 0.50 579 2.67 581 2.63 591 0.44 596 0.07 644 0.07 649 0.40 659 2.01 662 1.95 672 0.31 677 0.05 722 0.03 727 0.25 729 0.56 739 2.69 742 2.58 752 0.39 759 0.02 805 0.08 810 0.45 817 1.80 820 2.03 822 1.92 830 0.57 835 0.11 882 0.03 887 0.22 890 0.47 897 1.83 900 2.03 902 1.89 912 0.26 917 0.04 1000 0.01L1000 0L991 -0.69 -8 -0.63Z" fill="url(#sc)"/>
<path transform="matrix(0.11295 0.03969 0 -1.15308 120.90 294.10)" d="M0 0L0 0.00 145 0.13 155 0.34 163 0.72 170 1.51 175 2.45 180 3.94 185 6.24 193 11.85 218 45.07 226 51.89 228 52.00 273 52.00 276 51.06 306 29.03 318 21.92 331 16.24 338 13.76 351 11.78 361 7.79 366 6.49 381 4.19 398 2.49 404 2.20 409 2.28 419 4.06 421 4.00 431 1.41 436 0.84 451 0.46 479 0.19 484 0.21 489 0.49 499 2.15 501 2.14 511 0.42 516 0.10 564 0.09 569 0.52 579 2.77 581 2.73 591 0.45 596 0.07 644 0.07 649 0.41 659 2.09 662 2.03 672 0.32 677 0.05 722 0.03 727 0.25 729 0.58 739 2.80 742 2.68 752 0.40 759 0.02 805 0.08 810 0.46 817 1.87 820 2.10 822 1.99 830 0.59 835 0.11 882 0.03 887 0.22 890 0.49 897 1.90 900 2.11 902 1.97 912 0.26 917 0.04 1000 0.00L1000 0L991 -0.69 -8 -0.63Z" fill="url(#sc)"/>
<path transform="matrix(0.11290 0.03975 0 -1.15373 119.97 294.50)" d="M0 0L0 0.00 145 0.13 155 0.34 163 0.72 170 1.51 175 2.45 180 3.94 185 6.24 193 11.85 218 45.07 226 51.89 228 52.00 273 52.00 276 51.07 306 29.03 318 21.92 331 16.24 338 13.77 348 12.47 351 11.86 361 7.81 366 6.49 381 4.19 398 2.49 404 2.20 409 2.30 419 4.17 421 4.10 431 1.43 436 0.84 451 0.46 479 0.19 484 0.21 489 0.50 499 2.23 501 2.22 511 0.43 516 0.10 564 0.09 569 0.54 579 2.88 581 2.84 591 0.47 596 0.07 644 0.07 649 0.42 659 2.17 662 2.11 672 0.33 677 0.05 722 0.03 727 0.26 729 0.60 739 2.90 742 2.78 752 0.41 759 0.02 805 0.08 810 0.48 817 1.94 820 2.18 822 2.06 830 0.61 835 0.12 882 0.03 887 0.23 890 0.51 897 1.97 900 2.19 902 2.04 912 0.27 917 0.04 1000 0.00L1000 0L991 -0.69 -8 -0.63Z" fill="url(#sc)"/>
<path transform="matrix(0.11285 0.03980 0 -1.15439 119.05 294.90)" d="M0 0L0 0.00 145 0.13 155 0.34 163 0.72 170 1.51 175 2.45 180 3.94 185 6.24 193 11.85 218 45.07 226 51.89 228 52.00 273 52.00 276 51.07 306 29.03 318 21.92 331 16.24 338 13.78 348 12.54 351 11.93 361 7.82 366 6.49 381 4.19 398 2.49 404 2.20 409 2.31 419 4.27 421 4.21 431 1.44 436 0.84 451 0.46 479 0.18 484 0.21 489 0.51 499 2.30 501 2.30 511 0.44 516 0.10 564 0.09 569 0.56 579 2.98 581 2.94 591 0.49 596 0.07 644 0.07 649 0.44 659 2.24 662 2.18 672 0.34 677 0.05 722 0.03 727 0.27 729 0.62 739 3.00 742 2.88 752 0.43 759 0.02 805 0.08 810 0.49 817 2.01 820 2.26 822 2.14 830 0.64 835 0.12 882 0.03 887 0.24 890 0.52 897 2.04 900 2.26 902 2.11 912 0.28 917 0.04 1000 0.00L1000 0L991 -0.69 -8 -0.63Z" fill="url(#sc)"/>
<path transform="matrix(0.11280 0.03985 0 -1.15505 118.13 295.30)" d="M0 0L0 0.00 145 0.13 155 0.34 163 0.72 170 1.51 175 2.45 180 3.94 185 6.24 193 11.85 218 45.07 226 51.89 228 52.00 273 52.00 276 51.07 306 29.03 318 21.92 331 16.24 338 13.79 348 12.62 351 12.01 361 7.84 366 6.50 381 4.19 398 2.49 404 2.20 409 2.33 419 4.37 421 4.31 434 1.07 439 0.73 454 0.43 479 0.18 486 0.31 491 0.92 499 2.38 501 2.37 511 0.46 516 0.11 561 0.03 566 0.25 569 0.57 579 3.08 581 3.03 591 0.50 596 0.07 644 0.07 649 0.45 659 2.32 662 2.25 669 0.73 674 0.14 682 0.00 717 0.00 722 0.03 727 0.28 739 3.10 742 2.98 752 0.44 759 0.02 805 0.08 810 0.51 817 2.07 820 2.33 822 2.21 830 0.66 835 0.12 882 0.03 887 0.24 890 0.54 897 2.11 900 2.34 902 2.18 912 0.29 917 0.04 1000 0.00L1000 0L991 -0.69 -8 -0.63Z" fill="url(#sc)"/>
<path transform="matrix(0.11275 0.03991 0 -1.15570 117.20 295.70)" d="M0 0L0 0.00 145 0.13 155 0.34 163 0.72 170 1.51 175 2.45 180 3.94 185 6.24 193 11.85 218 45.07 226 51.89 228 52.00 273 52.00 276 51.07 306 29.03 318 21.92 331 16.24 338 13.81 348 12.69 351 12.08 361 7.85 366 6.50 381 4.19 398 2.49 404 2.21 409 2.34 419 4.46 421 4.40 424 3.84 434 1.07 439 0.73 451 0.46 484 0.21 489 0.54 499 2.45 501 2.44 511 0.47 516 0.11 561 0.04 566 0.26 569 0.59 579 3.17 581 3.13 591 0.52 596 0.08 644 0.07 649 0.47 659 2.39 662 2.32 669 0.75 674 0.15 682 0.00 717 0.00 722 0.03 727 0.29 739 3.20 742 3.07 752 0.45 759 0.02 805 0.09 810 0.53 817 2.14 820 2.41 822 2.28 830 0.68 835 0.13 882 0.03 887 0.25 890 0.56 897 2.17 900 2.41 902 2.25 912 0.30 917 0.04 1000 0.00L1000 0L991 -0.69 -8 -0.63Z" fill="url(#sc)"/>
<path transform="matrix(0.11270 0.03996 0 -1.15636 116.28 296.10)" d="M0 0L0 0.00 150 0.10 168 0.60 175 1.25 180 2.04 185 3.28 190 5.18 198 9.85 221 34.94 231 43.08 238 46.39 246 48.13 256 49.17 268 49.62 271 49.55 278 47.01 313 30.53 331 23.27 338 20.90 348 19.67 351 18.99 366 12.64 383 8.98 404 6.08 409 5.94 419 7.60 421 7.41 431 3.95 436 3.09 441 2.69 464 1.61 484 1.07 489 1.32 499 3.13 501 3.09 511 0.94 516 0.52 561 0.17 566 0.38 569 0.72 579 3.35 581 3.30 591 0.60 596 0.13 644 0.09 649 0.49 659 2.47 662 2.40 669 0.78 674 0.16 682 0.01 717 0.00 722 0.04 727 0.30 739 3.30 742 3.16 752 0.47 759 0.02 805 0.09 810 0.54 817 2.20 820 2.48 822 2.34 830 0.70 835 0.13 842 0.00 882 0.03 887 0.26 890 0.57 897 2.24 900 2.48 902 2.32 912 0.31 917 0.04 1000 0.00L1000 0L991 -0.69 -8 -0.63Z" fill="url(#sc)"/>
<path transform="matrix(0.11265 0.04002 0 -1.15702 115.36 296.50)" d="M0 0L0 0.00 150 0.10 168 0.60 175 1.26 180 2.04 185 3.28 190 5.19 198 9.86 221 34.98 231 43.13 238 46.44 246 48.18 256 49.23 268 49.68 271 49.61 278 47.07 313 30.56 331 23.29 338 20.94 348 19.75 351 19.07 366 12.66 383 8.99 404 6.08 409 5.96 419 7.69 421 7.51 431 3.97 436 3.09 441 2.69 464 1.61 484 1.07 489 1.33 499 3.20 501 3.16 511 0.95 516 0.52 561 0.17 566 0.39 569 0.74 579 3.44 581 3.39 591 0.61 596 0.14 644 0.09 649 0.51 659 2.54 662 2.47 669 0.80 674 0.16 682 0.01 717 0.00 722 0.04 727 0.31 739 3.38 742 3.25 752 0.48 759 0.02 805 0.09 810 0.56 817 2.26 820 2.55 822 2.41 830 0.71 835 0.13 842 0.00 882 0.03 887 0.26 890 0.59 897 2.30 900 2.55 902 2.38 912 0.31 917 0.04 1000 0.00L1000 0L991 -0.69 -8 -0.63Z" fill="url(#sc)"/>
<path transform="matrix(0.11260 0.04007 0 -1.15768 114.44 296.90)" d="M0 0L0 0.00 150 0.11 168 0.60 175 1.26 180 2.04 185 3.28 190 5.20 198 9.87 221 35.04 231 43.20 238 46.51 246 48.26 256 49.31 268 49.76 271 49.69 278 47.14 313 30.61 331 23.33 338 20.98 348 19.84 351 19.16 361 14.33 366 12.68 383 9.01 404 6.10 409 5.98 419 7.78 421 7.60 431 3.99 436 3.10 441 2.70 464 1.61 484 1.08 489 1.34 499 3.26 501 3.22 511 0.97 516 0.52 561 0.17 566 0.40 569 0.75 579 3.53 581 3.47 591 0.63 596 0.14 644 0.09 649 0.52 659 2.60 662 2.53 669 0.82 674 0.17 682 0.01 717 0.00 722 0.04 727 0.31 739 3.47 742 3.33 752 0.49 759 0.02 805 0.09 810 0.57 817 2.32 820 2.61 822 2.47 830 0.73 835 0.14 842 0.00 882 0.03 887 0.27 890 0.60 897 2.35 900 2.61 902 2.44 912 0.32 917 0.04 1000 0.00L1000 0L991 -0.69 -8 -0.63Z" fill="url(#sc)"/>
<path transform="matrix(0.11255 0.04013 0 -1.15833 113.51 297.30)" d="M0 0L0 0.00 150 0.11 168 0.60 175 1.26 180 2.05 185 3.29 190 5.21 198 9.89 221 35.09 231 43.26 238 46.59 246 48.34 256 49.39 268 49.83 271 49.77 278 47.22 313 30.66 331 23.37 338 21.02 348 19.93 351 19.25 361 14.36 366 12.70 383 9.02 404 6.11 409 6.00 419 7.86 421 7.68 431 4.01 436 3.11 441 2.70 464 1.62 484 1.08 489 1.36 499 3.32 501 3.28 511 0.98 516 0.53 561 0.18 566 0.40 569 0.77 579 3.61 581 3.55 591 0.64 596 0.14 644 0.10 649 0.53 659 2.66 662 2.59 669 0.84 674 0.17 682 0.01 719 0.01 724 0.12 729 0.73 739 3.55 742 3.40 752 0.50 759 0.02 805 0.10 810 0.58 817 2.37 820 2.67 822 2.52 830 0.75 835 0.14 842 0.00 882 0.03 887 0.28 890 0.62 897 2.41 900 2.67 902 2.49 912 0.33 917 0.04 1000 0.00L1000 0L991 -0.69 -8 -0.63Z" fill="url(#sc)"/>
<path transform="matrix(0.11250 0.04018 0 -1.15899 112.59 297.70)" d="M0 0L0 0.00 150 0.11 168 0.60 175 1.26 180 2.05 185 3.29 190 5.22 198 9.91 221 35.15 231 43.33 238 46.66 246 48.42 256 49.47 268 49.91 271 49.85 278 47.29 313 30.71 331 23.41 338 21.06 348 20.01 351 19.33 361 14.40 366 12.72 383 9.04 404 6.12 409 6.02 419 7.94 421 7.76 431 4.03 436 3.11 441 2.70 464 1.62 484 1.08 489 1.37 499 3.38 501 3.34 511 0.99 516 0.53 561 0.18 566 0.41 569 0.78 579 3.68 581 3.62 591 0.65 596 0.14 644 0.10 649 0.54 659 2.72 662 2.64 669 0.86 674 0.17 682 0.01 719 0.01 724 0.12 729 0.75 739 3.62 742 3.47 752 0.51 759 0.02 805 0.10 810 0.60 817 2.42 820 2.73 822 2.58 830 0.77 835 0.14 842 0.00 882 0.03 887 0.28 890 0.63 897 2.46 900 2.73 902 2.55 912 0.34 917 0.04 1000 0.00L1000 0L991 -0.69 -8 -0.63Z" fill="url(#sc)"/>
<path transform="matrix(0.11245 0.04024 0 -1.15965 111.67 298.10)" d="M0 0L0 0.00 150 0.11 160 0.29 168 0.60 175 1.26 180 2.05 185 3.30 190 5.22 198 9.92 221 35.21 231 43.40 238 46.74 246 48.49 256 49.55 268 49.99 271 49.92 278 47.37 313 30.76 331 23.44 338 21.10 348 20.09 351 19.41 361 14.43 366 12.75 383 9.05 404 6.13 409 6.04 419 8.02 421 7.84 431 4.04 436 3.12 441 2.71 464 1.62 484 1.08 489 1.38 499 3.43 501 3.39 511 1.00 516 0.53 561 0.18 566 0.41 569 0.80 579 3.75 581 3.69 591 0.66 596 0.14 644 0.10 649 0.55 659 2.77 662 2.69 669 0.87 674 0.18 682 0.01 719 0.01 724 0.12 729 0.76 739 3.69 742 3.54 752 0.52 759 0.02 805 0.10 810 0.61 817 2.47 820 2.78 822 2.63 830 0.78 835 0.15 842 0.00 882 0.03 887 0.29 890 0.64 897 2.51 900 2.78 902 2.59 912 0.34 917 0.04 1000 0.00L1000 0L991 -0.69 -8 -0.63Z" fill="url(#sc)"/>
<path transform="matrix(0.11240 0.04029 0 -1.16031 110.75 298.50)" d="M0 0L0 0.00 140 0.04 158 0.22 168 0.60 175 1.27 180 2.06 188 4.17 195 8.09 201 12.09L201 0L192 -0.64 -8 -0.63Z" fill="url(#sc)"/>
<path transform="matrix(0.11240 0.04029 0 -1.16031 110.75 298.50)" d="M201 0L201 12.09 221 35.26 231 43.47 238 46.81 246 48.57 256 49.62 266 50.02 271 50.00 281 46.36 313 30.81 333 22.58 338 21.14 348 20.16 351 19.48 361 14.46 368 12.13 383 9.06 401 6.40L401 0L393 -0.65 192 -0.64Z" fill="url(#scs85)"/>
<path transform="matrix(0.11240 0.04029 0 -1.16031 110.75 298.50)" d="M401 0L401 6.40 406 6.00 409 6.06 419 8.08 421 7.91 424 7.13 431 4.06 439 2.89 461 1.72 484 1.09 489 1.39 499 3.48 501 3.44 511 1.01 516 0.53 524 0.38 564 0.24 569 0.81 579 3.81 581 3.75 591 0.67 596 0.14 644 0.10 649 0.56 659 2.81 662 2.73 672 0.43 677 0.07 722 0.04 727 0.34 729 0.78 739 3.75 742 3.60 752 0.53 759 0.02 805 0.10 810 0.62 817 2.51 820 2.82 822 2.67 830 0.79 835 0.15 842 0.00 882 0.03 887 0.29 890 0.65 897 2.55 900 2.83 902 2.64 912 0.35 917 0.04 1000 0.00L1000 0L991 -0.69 393 -0.65Z" fill="url(#sc)"/>
<path transform="matrix(0.11235 0.04035 0 -1.16096 109.82 298.90)" d="M0 0L0 0.00 150 0.11 160 0.29 168 0.61 175 1.27 180 2.06 185 3.31 190 5.24 198 9.95 221 35.32 231 43.54 238 46.89 246 48.65 256 49.70 268 50.15 271 50.08 278 47.52 313 30.86 331 23.52 338 21.18 348 20.23 351 19.55 361 14.49 366 12.79 383 9.08 404 6.15 409 6.08 419 8.14 421 7.97 431 4.08 436 3.13 441 2.72 464 1.63 484 1.09 489 1.39 499 3.52 501 3.48 511 1.01 516 0.53 561 0.18 566 0.42 569 0.82 579 3.86 581 3.80 591 0.68 596 0.15 644 0.10 649 0.57 659 2.85 662 2.77 669 0.90 674 0.18 682 0.01 719 0.01 724 0.13 729 0.79 739 3.81 742 3.65 752 0.54 759 0.02 805 0.10 810 0.63 817 2.54 820 2.86 822 2.71 830 0.80 835 0.15 842 0.00 882 0.04 887 0.30 890 0.66 897 2.58 900 2.87 902 2.68 912 0.35 917 0.05 1000 0.00L1000 0L991 -0.69 -8 -0.63Z" fill="url(#sc)"/>
<path transform="matrix(0.11230 0.04040 0 -1.16162 108.90 299.30)" d="M0 0L0 0.00 150 0.11 160 0.29 168 0.61 175 1.27 180 2.06 185 3.32 190 5.25 198 9.97 221 35.37 231 43.61 238 46.96 246 48.73 256 49.78 268 50.23 271 50.16 278 47.60 313 30.90 331 23.56 338 21.22 348 20.29 351 19.61 361 14.52 366 12.81 383 9.09 404 6.16 409 6.10 419 8.20 421 8.02 431 4.09 436 3.14 441 2.72 464 1.63 484 1.09 489 1.40 499 3.56 501 3.51 511 1.02 516 0.54 561 0.18 566 0.43 569 0.83 579 3.91 581 3.85 591 0.69 596 0.15 644 0.10 649 0.58 659 2.89 662 2.81 669 0.91 674 0.18 682 0.01 719 0.01 724 0.13 729 0.80 739 3.86 742 3.70 752 0.55 759 0.02 805 0.10 810 0.63 817 2.58 820 2.90 822 2.74 830 0.81 835 0.15 842 0.00 882 0.04 887 0.30 890 0.67 897 2.62 900 2.91 902 2.71 912 0.36 917 0.05 1000 0.00L1000 0L991 -0.69 -8 -0.63Z" fill="url(#sc)"/>
<path transform="matrix(0.11225 0.04045 0 -1.16228 107.98 299.70)" d="M0 0L0 0.00 150 0.11 160 0.29 168 0.61 175 1.27 180 2.07 185 3.32 190 5.26 198 9.98 221 35.43 231 43.68 238 47.04 246 48.80 256 49.86 268 50.31 271 50.24 278 47.67 313 30.95 331 23.59 338 21.26 348 20.35 351 19.66 361 14.55 366 12.83 383 9.11 404 6.17 409 6.11 419 8.24 421 8.07 431 4.10 436 3.14 441 2.73 464 1.63 484 1.09 489 1.41 499 3.59 501 3.54 511 1.03 516 0.54 561 0.18 566 0.43 569 0.83 579 3.95 581 3.89 591 0.69 596 0.15 644 0.10 649 0.58 659 2.92 662 2.84 669 0.92 674 0.19 682 0.01 719 0.01 724 0.13 729 0.81 739 3.90 742 3.74 752 0.55 754 0.22 759 0.02 805 0.11 810 0.64 817 2.60 820 2.93 822 2.77 830 0.82 835 0.15 842 0.00 882 0.04 887 0.30 890 0.68 897 2.64 900 2.94 902 2.74 912 0.36 917 0.05 1000 0.00L1000 0L991 -0.69 -8 -0.63Z" fill="url(#sc)"/>
<path transform="matrix(0.11220 0.04051 0 -1.16293 107.05 300.10)" d="M0 0L0 0.00 150 0.11 160 0.29 168 0.61 175 1.27 180 2.07 185 3.33 190 5.27 198 10.00 221 35.49 231 43.75 238 47.11 246 48.88 256 49.94 268 50.39 271 50.32 278 47.75 313 31.00 331 23.63 338 21.30 348 20.40 351 19.71 361 14.57 366 12.85 383 9.12 404 6.18 409 6.13 419 8.28 421 8.10 431 4.11 436 3.15 441 2.73 464 1.63 484 1.10 489 1.41 499 3.61 501 3.57 511 1.03 516 0.54 561 0.18 566 0.43 569 0.84 579 3.98 581 3.92 591 0.70 596 0.15 644 0.10 649 0.59 659 2.94 662 2.86 669 0.93 674 0.19 682 0.01 719 0.01 724 0.13 729 0.81 739 3.93 742 3.77 752 0.56 754 0.22 759 0.02 805 0.11 810 0.65 817 2.62 820 2.95 822 2.79 830 0.83 835 0.15 842 0.00 882 0.04 887 0.31 890 0.68 897 2.67 900 2.96 902 2.76 912 0.36 917 0.05 1000 0.00L1000 0L991 -0.69 -8 -0.63Z" fill="url(#sc)"/>
<path transform="matrix(0.11215 0.04056 0 -1.16359 106.13 300.50)" d="M0 0L0 0.00 150 0.11 160 0.29 168 0.61 175 1.28 180 2.07 185 3.33 190 5.27 198 10.02 221 35.54 231 43.82 238 47.18 246 48.96 256 50.02 268 50.47 271 50.40 278 47.82 313 31.05 331 23.67 338 21.33 348 20.44 351 19.76 361 14.60 366 12.87 383 9.14 404 6.19 409 6.14 419 8.31 421 8.14 431 4.12 436 3.16 441 2.74 464 1.64 484 1.10 489 1.42 499 3.63 501 3.59 511 1.04 516 0.54 561 0.18 566 0.44 569 0.84 579 4.01 581 3.95 591 0.70 596 0.15 644 0.11 649 0.59 659 2.96 662 2.88 669 0.93 674 0.19 682 0.01 719 0.01 724 0.13 729 0.82 739 3.95 742 3.79 752 0.56 754 0.22 759 0.02 805 0.11 810 0.65 817 2.64 820 2.97 822 2.81 830 0.83 835 0.16 842 0.00 882 0.04 887 0.31 890 0.69 897 2.68 900 2.98 902 2.78 912 0.37 917 0.05 1000 0.00L1000 0L991 -0.69 -8 -0.63Z" fill="url(#sc)"/>
<path transform="matrix(0.11210 0.04062 0 -1.16425 105.21 300.90)" d="M0 0L0 0.00 150 0.11 160 0.29 168 0.61 175 1.28 180 2.08 185 3.34 190 5.28 198 10.03 221 35.60 231 43.89 238 47.26 246 49.04 256 50.10 268 50.55 271 50.48 278 47.90 313 31.10 331 23.71 338 21.37 348 20.48 351 19.80 361 14.62 366 12.89 383 9.15 404 6.20 409 6.15 419 8.34 421 8.16 431 4.13 436 3.16 441 2.74 464 1.64 484 1.10 489 1.42 499 3.64 501 3.60 511 1.04 516 0.54 561 0.18 566 0.44 569 0.85 579 4.02 581 3.96 591 0.71 596 0.15 644 0.11 649 0.59 659 2.97 662 2.89 669 0.94 674 0.19 682 0.01 719 0.01 724 0.13 729 0.82 739 3.97 742 3.81 752 0.56 754 0.23 759 0.02 805 0.11 810 0.65 817 2.65 820 2.98 822 2.82 830 0.84 835 0.16 842 0.00 882 0.04 887 0.31 890 0.69 897 2.69 900 2.99 902 2.79 912 0.37 917 0.05 1000 0.00L1000 0L991 -0.69 -8 -0.63Z" fill="url(#sc)"/>
<path transform="matrix(0.11205 0.04067 0 -1.16491 104.29 301.30)" d="M0 0L0 0.00 150 0.11 160 0.29 168 0.61 175 1.28 180 2.08 185 3.34 190 5.29 198 10.05 221 35.65 231 43.96 238 47.33 246 49.11 256 50.18 268 50.63 271 50.56 278 47.97 313 31.15 331 23.74 338 21.40 348 20.52 351 19.83 361 14.65 366 12.91 383 9.17 404 6.21 409 6.16 419 8.35 421 8.17 431 4.14 436 3.17 441 2.74 464 1.64 484 1.10 489 1.42 499 3.65 501 3.61 511 1.04 516 0.54 561 0.18 566 0.44 569 0.85 579 4.03 581 3.97 591 0.71 596 0.15 644 0.11 649 0.59 659 2.98 662 2.90 669 0.94 674 0.19 682 0.01 719 0.01 724 0.13 729 0.82 739 3.98 742 3.81 752 0.56 754 0.23 759 0.02 805 0.11 810 0.65 817 2.66 820 2.99 822 2.83 830 0.84 835 0.16 842 0.00 882 0.04 887 0.31 890 0.69 897 2.70 900 3.00 902 2.79 912 0.37 917 0.05 1000 0.00L1000 0L991 -0.69 -8 -0.63Z" fill="url(#sc)"/>
<path transform="matrix(0.11200 0.04073 0 -1.16556 103.36 301.70)" d="M0 0L0 0.00 150 0.11 160 0.29 168 0.61 175 1.28 180 2.08 185 3.35 190 5.30 198 10.06 221 35.71 231 44.03 238 47.41 246 49.19 256 50.26 268 50.71 271 50.64 278 48.05 313 31.20 331 23.78 338 21.43 348 20.54 351 19.86 361 14.67 366 12.93 383 9.18 404 6.22 409 6.17 419 8.36 421 8.18 431 4.14 436 3.17 441 2.75 464 1.64 484 1.10 489 1.43 499 3.65 501 3.61 511 1.04 516 0.54 561 0.18 566 0.44 569 0.85 579 4.03 581 3.97 591 0.71 596 0.15 644 0.11 649 0.59 659 2.98 662 2.90 669 0.94 674 0.19 682 0.01 719 0.01 724 0.13 729 0.82 739 3.98 742 3.81 752 0.56 754 0.23 759 0.02 805 0.11 810 0.65 817 2.66 820 2.99 822 2.83 830 0.84 835 0.16 842 0.00 882 0.04 887 0.31 890 0.69 897 2.70 900 3.00 902 2.79 912 0.37 917 0.05 1000 0.00L1000 0L991 -0.69 -8 -0.63Z" fill="url(#sc)"/>
<path transform="matrix(0.11195 0.04078 0 -1.16622 102.44 302.10)" d="M0 0L0 0.00 150 0.11 160 0.29 168 0.61 175 1.28 180 2.08 185 3.35 190 5.31 198 10.08 221 35.77 231 44.10 238 47.48 246 49.27 256 50.34 268 50.79 271 50.72 278 48.12 313 31.25 331 23.82 338 21.47 348 20.57 351 19.88 361 14.69 366 12.95 383 9.19 404 6.23 409 6.18 419 8.36 421 8.18 431 4.15 436 3.18 441 2.75 464 1.65 484 1.11 489 1.43 499 3.65 501 3.60 511 1.04 516 0.54 561 0.18 566 0.44 569 0.85 579 4.02 581 3.96 591 0.71 596 0.15 644 0.11 649 0.59 659 2.97 662 2.89 669 0.94 674 0.19 682 0.01 719 0.01 724 0.13 729 0.82 739 3.97 742 3.81 752 0.56 754 0.23 759 0.02 805 0.11 810 0.65 817 2.65 820 2.98 822 2.82 830 0.84 835 0.16 842 0.00 882 0.04 887 0.31 890 0.69 897 2.69 900 2.99 902 2.79 912 0.37 917 0.05 1000 0.00L1000 0L991 -0.69 -8 -0.63Z" fill="url(#sc)"/>
<path transform="matrix(0.11190 0.04084 0 -1.16688 101.52 302.50)" d="M0 0L0 0.00 150 0.11 160 0.29 168 0.61 175 1.29 180 2.09 185 3.36 190 5.32 198 10.10 221 35.82 231 44.16 238 47.56 246 49.34 256 50.41 268 50.87 271 50.80 278 48.20 313 31.30 331 23.86 338 21.50 348 20.58 351 19.89 361 14.71 366 12.97 383 9.21 404 6.24 409 6.18 419 8.35 421 8.17 431 4.15 436 3.18 441 2.76 464 1.65 484 1.11 489 1.43 499 3.64 501 3.59 511 1.04 516 0.54 561 0.18 566 0.44 569 0.85 579 4.01 581 3.95 591 0.70 596 0.15 644 0.11 649 0.59 659 2.96 662 2.88 669 0.93 674 0.19 682 0.01 719 0.01 724 0.13 729 0.82 739 3.95 742 3.79 752 0.56 754 0.22 759 0.02 805 0.11 810 0.65 817 2.64 820 2.97 822 2.81 830 0.83 835 0.16 842 0.00 882 0.04 887 0.31 890 0.69 897 2.68 900 2.98 902 2.78 912 0.37 917 0.05 1000 0.00L1000 0L991 -0.69 -8 -0.63Z" fill="url(#sc)"/>
<path transform="matrix(0.11185 0.04089 0 -1.16754 100.60 302.90)" d="M0 0L0 0.00 150 0.11 160 0.29 168 0.62 175 1.29 180 2.09 185 3.36 190 5.32 198 10.11 221 35.88 231 44.23 238 47.63 246 49.42 256 50.49 268 50.95 271 50.88 278 48.27 313 31.35 331 23.89 338 21.53 348 20.59 351 19.90 361 14.73 366 12.99 383 9.22 404 6.25 409 6.19 419 8.33 421 8.15 431 4.15 436 3.18 441 2.76 464 1.65 484 1.11 489 1.42 499 3.62 501 3.58 511 1.04 516 0.54 561 0.18 566 0.44 569 0.84 579 3.98 581 3.92 591 0.70 596 0.15 644 0.10 649 0.59 659 2.94 662 2.86 669 0.93 674 0.19 682 0.01 719 0.01 724 0.13 729 0.81 739 3.93 742 3.77 752 0.56 754 0.22 759 0.02 805 0.11 810 0.65 817 2.62 820 2.95 822 2.79 830 0.83 835 0.15 842 0.00 882 0.04 887 0.31 890 0.68 897 2.67 900 2.96 902 2.76 912 0.36 917 0.05 1000 0.00L1000 0L991 -0.69 -8 -0.63Z" fill="url(#sc)"/>
<path transform="matrix(0.11180 0.04095 0 -1.16819 99.67 303.30)" d="M0 0L0 0.00 150 0.11 160 0.29 168 0.62 175 1.29 180 2.09 185 3.37 190 5.33 198 10.13 221 35.94 231 44.30 238 47.71 246 49.50 256 50.57 268 51.03 271 50.96 278 48.35 313 31.39 331 23.93 338 21.56 348 20.60 351 19.90 361 14.75 366 13.01 383 9.24 404 6.26 409 6.19 419 8.31 421 8.13 431 4.15 436 3.19 441 2.77 464 1.66 484 1.11 489 1.42 499 3.60 501 3.55 511 1.03 516 0.54 561 0.18 566 0.43 569 0.84 579 3.95 581 3.89 591 0.70 596 0.15 644 0.10 649 0.58 659 2.92 662 2.84 669 0.92 674 0.19 682 0.01 719 0.01 724 0.13 729 0.81 739 3.90 742 3.74 752 0.55 754 0.22 759 0.02 805 0.11 810 0.64 817 2.60 820 2.93 822 2.77 830 0.82 835 0.15 842 0.00 882 0.04 887 0.30 890 0.68 897 2.64 900 2.94 902 2.74 912 0.36 917 0.05 1000 0.00L1000 0L991 -0.69 -8 -0.63Z" fill="url(#sc)"/>
<path transform="matrix(0.11175 0.04100 0 -1.16885 98.75 303.70)" d="M0 0L0 0.00 150 0.11 160 0.29 168 0.62 175 1.29 180 2.10 185 3.37 190 5.34 198 10.14 221 35.99 231 44.37 238 47.78 246 49.58 256 50.65 268 51.11 271 51.04 278 48.43 313 31.44 331 23.97 338 21.59 348 20.60 351 19.90 361 14.76 366 13.03 383 9.25 404 6.27 409 6.19 419 8.27 421 8.09 431 4.15 436 3.19 441 2.77 464 1.66 484 1.11 489 1.42 499 3.57 501 3.53 511 1.03 516 0.54 561 0.18 566 0.43 569 0.83 579 3.91 581 3.85 591 0.69 596 0.15 644 0.10 649 0.58 659 2.89 662 2.81 669 0.91 674 0.18 682 0.01 719 0.01 724 0.13 729 0.80 739 3.86 742 3.70 752 0.55 759 0.02 805 0.10 810 0.63 817 2.58 820 2.90 822 2.74 830 0.81 835 0.15 842 0.00 882 0.04 887 0.30 890 0.67 897 2.62 900 2.91 902 2.71 912 0.36 917 0.05 1000 0.00L1000 0L991 -0.69 -8 -0.63Z" fill="url(#sc)"/>
<path transform="matrix(0.11170 0.04105 0 -1.16951 97.83 304.10)" d="M0 0L0 0.00 150 0.11 160 0.29 168 0.62 175 1.29 180 2.10 185 3.38 190 5.35 198 10.16 221 36.05 231 44.44 238 47.86 246 49.65 256 50.73 268 51.19 271 51.12 278 48.50 313 31.49 331 24.00 338 21.61 348 20.59 351 19.89 361 14.78 366 13.05 383 9.27 404 6.28 409 6.19 419 8.24 421 8.05 431 4.14 436 3.19 441 2.77 464 1.66 484 1.11 489 1.41 499 3.53 501 3.49 511 1.02 516 0.54 561 0.18 566 0.43 569 0.82 579 3.87 581 3.81 591 0.68 596 0.15 644 0.10 649 0.57 659 2.85 662 2.77 669 0.90 674 0.18 682 0.01 719 0.01 724 0.13 729 0.79 739 3.81 742 3.65 752 0.54 759 0.02 805 0.10 810 0.63 817 2.54 820 2.86 822 2.71 830 0.80 835 0.15 842 0.00 882 0.04 887 0.30 890 0.66 897 2.58 900 2.87 902 2.68 912 0.35 917 0.05 1000 0.00L1000 0L991 -0.69 -8 -0.63Z" fill="url(#sc)"/>
<path transform="matrix(0.11165 0.04111 0 -1.17016 96.90 304.50)" d="M0 0L0 0.00 150 0.11 160 0.29 168 0.62 175 1.30 180 2.10 185 3.38 190 5.36 198 10.17 221 36.10 231 44.51 238 47.93 246 49.73 256 50.81 268 51.27 271 51.20 278 48.58 313 31.54 331 24.04 338 21.64 348 20.58 351 19.88 361 14.79 366 13.07 383 9.28 404 6.29 409 6.19 419 8.19 421 8.01 431 4.14 436 3.20 441 2.78 464 1.66 484 1.11 489 1.41 499 3.50 501 3.45 511 1.02 516 0.54 561 0.18 566 0.42 569 0.81 579 3.81 581 3.75 591 0.67 596 0.15 644 0.10 649 0.56 659 2.81 662 2.73 669 0.89 674 0.18 682 0.01 719 0.01 724 0.13 729 0.78 739 3.75 742 3.60 752 0.53 759 0.02 805 0.10 810 0.62 817 2.51 820 2.82 822 2.67 830 0.79 835 0.15 842 0.00 882 0.03 887 0.29 890 0.65 897 2.55 900 2.83 902 2.64 912 0.35 917 0.04 1000 0.00L1000 0L991 -0.69 -8 -0.63Z" fill="url(#sc)"/>
<path transform="matrix(0.11160 0.04116 0 -1.17082 95.98 304.90)" d="M0 0L0 0.00 150 0.11 160 0.29 168 0.62 175 1.30 180 2.11 185 3.39 190 5.37 198 10.19 221 36.16 231 44.58 238 48.00 246 49.81 256 50.89 268 51.35 271 51.28 278 48.65 313 31.59 331 24.08 338 21.67 348 20.56 351 19.86 361 14.81 366 13.09 383 9.29 404 6.29 409 6.19 419 8.14 421 7.95 431 4.13 436 3.20 441 2.78 464 1.67 484 1.11 489 1.40 499 3.45 501 3.41 511 1.01 516 0.54 561 0.18 566 0.42 569 0.80 579 3.75 581 3.69 591 0.66 596 0.14 644 0.10 649 0.55 659 2.77 662 2.69 669 0.87 674 0.18 682 0.01 719 0.01 724 0.12 729 0.76 739 3.69 742 3.54 752 0.52 759 0.02 805 0.10 810 0.61 817 2.47 820 2.78 822 2.63 830 0.78 835 0.15 842 0.00 882 0.03 887 0.29 890 0.64 897 2.51 900 2.78 902 2.59 912 0.34 917 0.04 1000 0.00L1000 0L991 -0.69 -8 -0.63Z" fill="url(#sc)"/>
<path transform="matrix(0.11155 0.04122 0 -1.17148 95.06 305.30)" d="M0 0L0 0.00 150 0.11 160 0.29 168 0.62 175 1.30 180 2.11 185 3.39 190 5.37 198 10.21 221 36.22 231 44.65 238 48.08 246 49.89 256 50.97 268 51.43 271 51.36 278 48.73 313 31.64 331 24.12 338 21.69 348 20.54 351 19.83 361 14.82 366 13.11 383 9.31 404 6.30 409 6.19 419 8.08 421 7.89 431 4.13 436 3.20 441 2.79 464 1.67 484 1.11 489 1.39 499 3.40 501 3.36 511 1.00 516 0.54 561 0.18 566 0.41 569 0.79 579 3.68 581 3.63 591 0.65 596 0.14 644 0.10 649 0.54 659 2.72 662 2.64 669 0.86 674 0.17 682 0.01 717 0.00 722 0.04 727 0.33 739 3.62 742 3.47 752 0.51 759 0.02 805 0.10 810 0.60 817 2.42 820 2.73 822 2.58 830 0.77 835 0.14 842 0.00 882 0.03 887 0.28 890 0.63 897 2.46 900 2.73 902 2.55 912 0.34 917 0.04 1000 0.00L1000 0L991 -0.69 -8 -0.63Z" fill="url(#sc)"/>
<path transform="matrix(0.11150 0.04127 0 -1.17214 94.14 305.70)" d="M0 0L0 0.00 150 0.11 160 0.30 168 0.62 175 1.30 180 2.11 185 3.40 190 5.38 198 10.22 221 36.27 231 44.72 238 48.15 246 49.96 256 51.05 268 51.51 271 51.44 278 48.80 313 31.69 331 24.15 338 21.72 348 20.51 351 19.80 366 13.13 383 9.32 404 6.31 409 6.19 419 8.01 421 7.82 431 4.12 436 3.21 441 2.79 464 1.67 484 1.11 489 1.39 499 3.35 501 3.31 511 0.99 516 0.54 561 0.18 566 0.41 569 0.77 579 3.61 581 3.56 591 0.64 596 0.14 644 0.10 649 0.53 659 2.66 662 2.59 669 0.84 674 0.17 682 0.01 717 0.00 722 0.04 727 0.32 739 3.55 742 3.40 752 0.50 759 0.02 805 0.10 810 0.58 817 2.37 820 2.67 822 2.52 830 0.75 835 0.14 842 0.00 882 0.03 887 0.28 890 0.62 897 2.41 900 2.67 902 2.49 912 0.33 917 0.04 1000 0.00L1000 0L991 -0.69 -8 -0.63Z" fill="url(#sc)"/>
<path transform="matrix(0.11145 0.04133 0 -1.17279 93.21 306.10)" d="M0 0L0 0.00 150 0.11 160 0.30 168 0.62 175 1.30 180 2.12 185 3.41 190 5.39 198 10.24 221 36.33 231 44.79 238 48.23 246 50.04 256 51.13 268 51.59 271 51.52 278 48.88 313 31.74 331 24.19 338 21.74 348 20.48 351 19.77 366 13.15 383 9.34 404 6.32 409 6.18 419 7.94 421 7.75 431 4.11 436 3.21 441 2.79 464 1.67 484 1.11 489 1.38 499 3.29 501 3.25 511 0.98 516 0.54 561 0.18 566 0.40 569 0.76 579 3.53 581 3.48 591 0.63 596 0.14 644 0.09 649 0.52 659 2.60 662 2.53 669 0.82 674 0.17 682 0.01 717 0.00 722 0.04 727 0.31 739 3.47 742 3.33 752 0.49 759 0.02 805 0.09 810 0.57 817 2.32 820 2.61 822 2.47 830 0.73 835 0.14 842 0.00 882 0.03 887 0.27 890 0.60 897 2.35 900 2.61 902 2.44 912 0.32 917 0.04 1000 0.00L1000 0L991 -0.70 -8 -0.63Z" fill="url(#sc)"/>
<path transform="matrix(0.11140 0.04138 0 -1.17345 92.29 306.50)" d="M0 0L0 0.00 150 0.11 160 0.30 168 0.62 175 1.31 180 2.12 185 3.41 190 5.40 198 10.25 221 36.38 231 44.86 238 48.30 246 50.12 256 51.20 268 51.67 271 51.60 278 48.95 313 31.79 331 24.23 338 21.76 348 20.45 351 19.73 366 13.16 383 9.35 404 6.33 409 6.18 419 7.86 421 7.67 431 4.10 436 3.21 441 2.80 464 1.68 484 1.11 489 1.37 499 3.23 501 3.19 511 0.97 516 0.54 561 0.18 566 0.39 569 0.74 579 3.45 581 3.39 591 0.61 596 0.14 644 0.09 649 0.51 659 2.54 662 2.47 669 0.80 674 0.16 682 0.01 717 0.00 722 0.04 727 0.31 739 3.38 742 3.25 752 0.48 759 0.02 805 0.09 810 0.56 817 2.26 820 2.55 822 2.41 830 0.71 835 0.13 842 0.00 882 0.03 887 0.26 890 0.59 897 2.30 900 2.55 902 2.38 912 0.31 917 0.04 1000 0.00L1000 0L991 -0.70 -8 -0.63Z" fill="url(#sc)"/>
<path transform="matrix(0.11135 0.04144 0 -1.17411 91.37 306.90)" d="M0 0L0 0.00 150 0.11 160 0.30 168 0.62 175 1.31 180 2.12 185 3.42 190 5.41 198 10.27 221 36.44 231 44.93 238 48.38 246 50.19 256 51.28 268 51.75 271 51.68 278 49.03 313 31.84 331 24.26 338 21.79 348 20.41 351 19.69 366 13.18 383 9.37 404 6.33 409 6.17 419 7.78 421 7.59 431 4.09 436 3.21 441 2.80 464 1.68 484 1.11 489 1.36 499 3.16 501 3.12 514 0.68 521 0.43 551 0.20 561 0.18 566 0.39 571 1.31 579 3.36 581 3.31 591 0.60 596 0.14 644 0.09 649 0.49 659 2.47 662 2.40 672 0.38 677 0.06 722 0.04 727 0.30 729 0.68 739 3.30 742 3.16 752 0.47 759 0.02 805 0.09 810 0.54 817 2.20 820 2.48 822 2.34 830 0.70 835 0.13 842 0.00 882 0.03 887 0.26 890 0.57 897 2.24 900 2.48 902 2.32 912 0.31 917 0.04 1000 0.00L1000 0L991 -0.70 -8 -0.63Z" fill="url(#sc)"/>
<path transform="matrix(0.11130 0.04149 0 -1.17477 90.45 307.30)" d="M0 0L0 0.00 150 0.11 160 0.30 168 0.63 175 1.31 180 2.13 185 3.42 190 5.41 198 10.28 221 36.49 231 44.98 238 48.44 246 50.26 256 51.35 268 51.81 271 51.74 278 49.09 313 31.88 331 24.29 338 21.80 348 20.36 351 19.65 366 13.20 383 9.38 404 6.34 409 6.16 419 7.70 421 7.50 431 4.08 436 3.22 441 2.81 464 1.68 484 1.11 489 1.35 496 2.76 499 3.10 501 3.05 514 0.68 521 0.43 551 0.20 561 0.18 566 0.38 571 1.28 579 3.27 581 3.22 591 0.58 596 0.13 644 0.09 649 0.48 659 2.40 662 2.33 672 0.37 677 0.06 722 0.03 727 0.29 729 0.66 739 3.20 742 3.07 752 0.45 759 0.02 805 0.09 810 0.53 817 2.14 820 2.41 822 2.28 830 0.68 835 0.13 882 0.03 887 0.25 890 0.56 897 2.17 900 2.41 902 2.25 912 0.30 917 0.04 1000 0.00L1000 0L991 -0.70 -8 -0.63Z" fill="url(#sc)"/>
<path transform="matrix(0.11125 0.04155 0 -1.17542 89.52 307.70)" d="M0 0L0 0.00 150 0.11 160 0.30 168 0.63 175 1.31 180 2.13 185 3.42 190 5.41 198 10.28 221 36.49 231 44.98 238 48.44 246 50.26 256 51.35 268 51.81 271 51.74 278 49.09 313 31.88 331 24.29 338 21.79 348 20.29 351 19.57 366 13.19 383 9.38 404 6.34 409 6.15 419 7.60 421 7.41 431 4.06 436 3.21 441 2.81 461 1.78 484 1.11 489 1.33 496 2.70 499 3.02 501 2.98 514 0.67 521 0.43 551 0.20 561 0.18 566 0.37 571 1.24 579 3.17 581 3.12 591 0.57 596 0.13 644 0.09 649 0.47 659 2.33 662 2.26 672 0.36 677 0.06 722 0.03 727 0.28 729 0.64 739 3.10 742 2.98 752 0.44 759 0.02 805 0.08 810 0.51 817 2.07 820 2.33 822 2.21 830 0.66 835 0.12 882 0.03 887 0.24 890 0.54 897 2.11 900 2.34 902 2.18 912 0.29 917 0.04 1000 0.00L1000 0L991 -0.70 -8 -0.63Z" fill="url(#sc)"/>
<path transform="matrix(0.11120 0.04160 0 -1.17608 88.60 308.10)" d="M0 0L0 0.00 150 0.11 160 0.30 168 0.63 175 1.31 180 2.13 185 3.42 190 5.41 198 10.28 221 36.49 231 44.98 238 48.44 246 50.26 256 51.35 268 51.81 271 51.74 278 49.09 313 31.88 331 24.29 338 21.78 348 20.22 351 19.50 366 13.19 381 9.85 398 6.95 404 6.33 409 6.13 419 7.50 421 7.31 431 4.04 436 3.21 441 2.81 461 1.78 484 1.11 489 1.32 496 2.64 499 2.95 501 2.91 511 0.93 516 0.53 551 0.20 561 0.18 566 0.37 571 1.20 579 3.07 581 3.02 591 0.55 596 0.13 644 0.08 649 0.45 659 2.25 662 2.19 672 0.35 677 0.05 722 0.03 727 0.27 729 0.62 739 3.00 742 2.88 752 0.43 759 0.02 805 0.08 810 0.49 817 2.01 820 2.26 822 2.14 830 0.63 835 0.12 882 0.03 887 0.23 890 0.52 897 2.04 900 2.26 902 2.11 912 0.28 917 0.04 1000 0.00L1000 0L991 -0.70 -8 -0.63Z" fill="url(#sc)"/>
<path transform="matrix(0.11115 0.04165 0 -1.17674 87.68 308.50)" d="M0 0L0 0.00 150 0.11 160 0.30 168 0.63 175 1.31 180 2.13 185 3.42 190 5.41 198 10.28 221 36.49 231 44.98 238 48.44 246 50.26 256 51.35 268 51.81 271 51.74 278 49.09 313 31.88 331 24.29 338 21.77 351 19.42 366 13.19 381 9.85 398 6.95 404 6.33 409 6.11 419 7.40 421 7.20 431 4.02 436 3.21 441 2.81 461 1.78 484 1.11 489 1.31 496 2.58 499 2.87 501 2.83 511 0.91 516 0.53 551 0.20 561 0.18 566 0.36 571 1.17 579 2.97 581 2.92 591 0.54 596 0.13 644 0.08 649 0.44 659 2.17 662 2.11 672 0.34 677 0.05 722 0.03 727 0.26 729 0.60 739 2.90 742 2.78 752 0.41 759 0.02 805 0.08 810 0.48 817 1.94 820 2.18 822 2.06 830 0.61 835 0.11 882 0.03 887 0.23 890 0.50 897 1.97 900 2.18 902 2.04 912 0.27 917 0.03 1000 0.00L1000 0L991 -0.70 -8 -0.63Z" fill="url(#sc)"/>
<path transform="matrix(0.11110 0.04171 0 -1.17739 86.75 308.90)" d="M0 0L0 0.00 150 0.11 160 0.30 168 0.63 175 1.31 180 2.13 185 3.42 190 5.41 198 10.28 221 36.49 231 44.98 238 48.44 246 50.26 256 51.35 268 51.81 271 51.74 278 49.09 313 31.88 331 24.29 338 21.75 351 19.34 366 13.19 381 9.85 398 6.95 404 6.33 409 6.10 419 7.30 421 7.10 431 4.00 439 2.98 461 1.78 484 1.10 489 1.29 496 2.51 499 2.79 501 2.75 514 0.66 521 0.43 549 0.21 561 0.17 566 0.35 571 1.13 579 2.86 581 2.82 591 0.52 596 0.12 644 0.08 649 0.42 659 2.10 662 2.04 672 0.32 677 0.05 722 0.03 727 0.25 729 0.58 739 2.79 742 2.68 752 0.40 759 0.02 805 0.08 810 0.46 817 1.87 820 2.10 822 1.99 830 0.59 835 0.11 882 0.03 887 0.22 890 0.49 897 1.90 900 2.10 902 1.96 912 0.26 917 0.03 1000 0.00L1000 0L991 -0.70 -8 -0.63Z" fill="url(#sc)"/>
<path transform="matrix(0.11105 0.04176 0 -1.17805 85.83 309.30)" d="M0 0L0 0.00 150 0.11 160 0.30 168 0.63 175 1.31 180 2.13 185 3.42 190 5.41 198 10.28 221 36.49 231 44.98 238 48.44 246 50.26 256 51.35 268 51.81 271 51.74 278 49.09 313 31.88 331 24.29 338 21.74 351 19.26 366 13.18 381 9.85 398 6.95 404 6.33 409 6.08 419 7.19 421 6.99 431 3.98 439 2.98 461 1.78 484 1.10 489 1.28 496 2.44 499 2.71 501 2.67 514 0.65 521 0.42 549 0.21 561 0.17 566 0.34 571 1.09 579 2.75 581 2.71 591 0.50 596 0.12 644 0.08 649 0.41 659 2.02 662 1.96 672 0.31 677 0.05 722 0.03 727 0.24 729 0.56 739 2.69 742 2.58 752 0.38 759 0.02 805 0.07 810 0.44 817 1.79 820 2.02 822 1.91 830 0.57 835 0.11 882 0.02 887 0.21 890 0.47 897 1.82 900 2.02 902 1.89 912 0.25 917 0.03 1000 0.00L1000 0L991 -0.70 -8 -0.63Z" fill="url(#sc)"/>
<path transform="matrix(0.11100 0.04182 0 -1.17871 84.91 309.70)" d="M0 0L0 0.00 150 0.11 160 0.30 168 0.63 175 1.31 180 2.13 185 3.42 190 5.41 198 10.28 221 36.49 231 44.98 238 48.44 246 50.26 256 51.35 268 51.81 271 51.74 278 49.09 313 31.88 331 24.29 338 21.73 351 19.18 366 13.18 381 9.85 398 6.95 404 6.32 409 6.06 419 7.09 421 6.89 431 3.96 439 2.98 461 1.78 484 1.10 489 1.27 496 2.38 499 2.63 501 2.59 514 0.65 521 0.42 549 0.21 561 0.17 566 0.33 571 1.05 579 2.65 581 2.61 591 0.48 599 0.07 644 0.07 649 0.39 659 1.93 662 1.88 672 0.30 677 0.05 722 0.03 727 0.23 729 0.53 739 2.58 742 2.47 752 0.37 759 0.01 805 0.07 810 0.42 817 1.72 820 1.94 822 1.83 830 0.54 835 0.10 882 0.02 887 0.20 890 0.45 897 1.75 900 1.94 912 0.24 917 0.03 1000 0.00L1000 0L991 -0.70 -8 -0.63Z" fill="url(#sc)"/>
<path transform="matrix(0.11095 0.04187 0 -1.17937 83.99 310.10)" d="M0 0L0 0.00 150 0.11 160 0.30 168 0.63 175 1.31 180 2.13 185 3.42 190 5.41 198 10.28 221 36.49 231 44.98 238 48.44 246 50.26 256 51.35 268 51.81 271 51.74 278 49.09 313 31.88 331 24.29 338 21.72 351 19.10 366 13.18 381 9.85 398 6.95 404 6.32 409 6.04 419 6.98 421 6.78 431 3.94 439 2.98 461 1.78 484 1.10 489 1.25 496 2.31 499 2.55 501 2.51 514 0.64 521 0.42 549 0.21 561 0.17 566 0.32 571 1.01 579 2.54 581 2.50 591 0.47 599 0.07 644 0.07 649 0.37 659 1.85 662 1.80 672 0.29 677 0.05 722 0.03 727 0.22 729 0.51 739 2.47 742 2.37 752 0.35 759 0.01 805 0.07 810 0.41 820 1.86 835 0.10 882 0.02 890 0.43 897 1.67 900 1.86 912 0.23 917 0.03 1000 0.00L1000 0L991 -0.70 -8 -0.63Z" fill="url(#sc)"/>
<path transform="matrix(0.11090 0.04193 0 -1.18002 83.06 310.50)" d="M0 0L0 0.00 140 0.04 158 0.23 168 0.63 175 1.31 180 2.13 188 4.31 195 8.37 201 12.51L201 0L192 -0.65 -8 -0.63Z" fill="url(#sc)"/>
<path transform="matrix(0.11090 0.04193 0 -1.18002 83.06 310.50)" d="M201 0L201 12.51 221 36.49 231 44.98 238 48.44 246 50.26 256 51.35 266 51.76 271 51.74 281 47.97 318 29.58 336 22.46 351 19.02 361 14.74 368 12.54 383 9.38 401 6.61L401 0L393 -0.66 192 -0.65Z" fill="url(#scs85)"/>
<path transform="matrix(0.11090 0.04193 0 -1.18002 83.06 310.50)" d="M401 0L401 6.61 409 6.03 419 6.87 421 6.67 434 3.49 451 2.24 484 1.10 489 1.24 496 2.24 499 2.47 501 2.43 511 0.84 516 0.52 524 0.40 564 0.21 569 0.56 579 2.43 581 2.39 591 0.45 599 0.07 644 0.07 649 0.36 659 1.77 662 1.72 672 0.27 677 0.04 722 0.03 727 0.21 729 0.49 739 2.36 742 2.26 752 0.33 759 0.01 805 0.06 810 0.39 820 1.77 835 0.09 882 0.02 890 0.41 897 1.60 900 1.78 912 0.22 917 0.03 1000 0.00L1000 0L991 -0.70 393 -0.66Z" fill="url(#sc)"/>
<path transform="matrix(0.11085 0.04198 0 -1.18068 82.14 310.90)" d="M0 0L0 0.00 150 0.11 160 0.30 168 0.63 175 1.31 180 2.13 185 3.42 190 5.41 198 10.28 221 36.49 231 44.98 238 48.44 246 50.26 256 51.35 268 51.81 271 51.74 278 49.09 328 25.29 338 21.69 351 18.93 363 13.89 378 10.34 396 7.31 404 6.32 409 6.01 419 6.77 421 6.56 431 3.90 439 2.98 461 1.78 484 1.09 489 1.22 496 2.17 499 2.39 501 2.35 514 0.63 521 0.42 549 0.21 561 0.17 566 0.31 571 0.93 579 2.32 581 2.29 591 0.43 599 0.07 644 0.07 649 0.34 659 1.69 662 1.64 672 0.26 677 0.04 722 0.02 727 0.20 729 0.47 739 2.25 742 2.16 752 0.32 759 0.01 805 0.06 810 0.37 820 1.69 835 0.09 882 0.02 890 0.39 897 1.53 900 1.69 912 0.21 917 0.03 1000 0.00L1000 0L991 -0.70 -8 -0.63Z" fill="url(#sc)"/>
<path transform="matrix(0.11080 0.04204 0 -1.18134 81.22 311.30)" d="M0 0L0 0.00 150 0.11 160 0.30 168 0.63 175 1.31 180 2.13 185 3.42 190 5.41 198 10.28 221 36.49 231 44.98 238 48.44 246 50.26 256 51.35 268 51.81 271 51.74 278 49.09 328 25.29 338 21.68 351 18.85 363 13.88 378 10.34 396 7.31 404 6.31 409 5.99 419 6.66 421 6.45 431 3.88 439 2.98 461 1.78 484 1.09 489 1.21 496 2.10 499 2.31 501 2.27 514 0.62 549 0.21 566 0.30 571 0.89 579 2.21 581 2.18 591 0.41 599 0.07 644 0.06 649 0.33 659 1.61 662 1.56 672 0.25 677 0.04 722 0.02 727 0.19 729 0.44 739 2.14 742 2.05 752 0.30 759 0.01 805 0.06 810 0.35 820 1.61 835 0.08 882 0.02 890 0.37 897 1.45 900 1.61 912 0.20 917 0.03 1000 0.00L1000 0L991 -0.70 -8 -0.63Z" fill="url(#sc)"/>
<path transform="matrix(0.11075 0.04209 0 -1.18200 80.30 311.70)" d="M0 0L0 0.00 150 0.11 160 0.30 168 0.63 175 1.31 180 2.13 185 3.42 190 5.41 198 10.28 221 36.49 231 44.98 238 48.44 246 50.26 256 51.35 268 51.81 271 51.74 278 49.09 328 25.29 338 21.67 351 18.77 363 13.88 378 10.34 396 7.31 404 6.31 409 5.97 419 6.56 421 6.35 431 3.86 439 2.98 461 1.78 484 1.09 489 1.19 496 2.04 499 2.23 501 2.19 514 0.62 549 0.21 566 0.29 571 0.85 579 2.11 581 2.07 591 0.40 602 0.06 644 0.06 649 0.31 659 1.53 662 1.49 672 0.24 677 0.04 722 0.02 727 0.18 729 0.42 739 2.03 742 1.95 752 0.29 759 0.01 805 0.05 810 0.33 820 1.53 835 0.08 882 0.02 890 0.35 897 1.38 900 1.53 912 0.19 917 0.02 1000 0.00L1000 0L991 -0.70 -8 -0.64Z" fill="url(#sc)"/>
<path transform="matrix(0.11070 0.04215 0 -1.18265 79.37 312.10)" d="M0 0L0 0.00 150 0.11 160 0.30 168 0.63 175 1.31 180 2.13 185 3.42 190 5.41 198 10.28 221 36.49 231 44.98 238 48.44 246 50.26 256 51.35 268 51.81 271 51.74 278 49.09 328 25.29 338 21.65 351 18.69 363 13.87 378 10.34 396 7.31 404 6.31 409 5.96 419 6.45 421 6.24 431 3.84 439 2.98 456 2.00 479 1.19 489 1.18 499 2.15 504 1.84 511 0.79 516 0.51 549 0.21 566 0.28 571 0.81 579 2.00 581 1.97 591 0.38 602 0.06 644 0.06 649 0.29 659 1.45 662 1.41 672 0.23 677 0.04 722 0.02 729 0.40 739 1.93 742 1.85 752 0.27 759 0.01 805 0.05 810 0.32 820 1.45 835 0.08 882 0.02 890 0.34 897 1.31 900 1.45 912 0.18 917 0.02 1000 0.00L1000 0L991 -0.70 -8 -0.64Z" fill="url(#sc)"/>
<path transform="matrix(0.11065 0.04220 0 -1.18331 78.45 312.50)" d="M0 0L0 0.00 140 0.04 158 0.23 168 0.63 175 1.31 180 2.13 188 4.31 195 8.37 201 12.51L201 0L192 -0.65 -8 -0.64Z" fill="url(#sc)"/>
<path transform="matrix(0.11065 0.04220 0 -1.18331 78.45 312.50)" d="M201 0L201 12.51 221 36.49 231 44.98 238 48.44 246 50.26 256 51.35 266 51.76 271 51.74 281 47.97 318 29.58 336 22.44 351 18.62 361 14.66 368 12.53 383 9.38 401 6.61L401 0L392 -0.66 192 -0.65Z" fill="url(#scs85)"/>
<path transform="matrix(0.11065 0.04220 0 -1.18331 78.45 312.50)" d="M401 0L401 6.61 409 5.94 419 6.35 421 6.14 434 3.45 451 2.24 484 1.09 489 1.17 496 1.91 499 2.08 501 2.03 511 0.77 521 0.42 564 0.19 569 0.46 579 1.90 581 1.87 591 0.36 599 0.07 644 0.06 649 0.28 659 1.37 662 1.33 672 0.21 677 0.04 722 0.02 729 0.38 739 1.82 742 1.75 752 0.26 759 0.01 805 0.05 810 0.30 820 1.37 835 0.07 882 0.02 890 0.32 897 1.24 900 1.37 912 0.17 917 0.02 1000 0.00L1000 0L991 -0.70 392 -0.66Z" fill="url(#sc)"/>
<path transform="matrix(0.11060 0.04225 0 -1.18397 77.53 312.90)" d="M0 0L0 0.00 150 0.11 160 0.30 168 0.63 175 1.31 180 2.13 185 3.42 190 5.41 198 10.28 221 36.49 231 44.98 238 48.44 246 50.26 256 51.35 268 51.81 271 51.74 278 49.09 328 25.29 338 21.63 351 18.54 363 13.86 378 10.34 396 7.31 409 5.92 419 6.25 421 6.04 431 3.80 439 2.97 456 2.00 479 1.19 489 1.15 499 2.00 504 1.71 511 0.76 516 0.51 549 0.21 566 0.27 571 0.74 579 1.80 581 1.77 591 0.35 602 0.06 644 0.06 649 0.26 659 1.29 662 1.26 672 0.20 677 0.03 722 0.02 729 0.36 739 1.72 742 1.65 752 0.24 759 0.01 805 0.05 810 0.28 820 1.29 835 0.07 882 0.02 890 0.30 900 1.30 912 0.16 917 0.02 1000 0.00L1000 0L991 -0.70 -8 -0.64Z" fill="url(#sc)"/>
<path transform="matrix(0.11055 0.04231 0 -1.18462 76.60 313.30)" d="M0 0L0 0.00 150 0.11 160 0.30 168 0.63 175 1.31 180 2.13 185 3.42 190 5.41 198 10.28 221 36.49 231 44.98 238 48.44 246 50.26 256 51.35 268 51.81 271 51.74 278 49.09 328 25.29 338 21.62 351 18.46 363 13.85 378 10.34 396 7.31 409 5.91 419 6.15 421 5.94 431 3.79 439 2.97 456 2.00 479 1.19 489 1.14 499 1.93 504 1.65 511 0.75 516 0.51 549 0.21 566 0.26 579 1.70 581 1.67 591 0.33 602 0.05 644 0.05 649 0.25 659 1.22 662 1.19 672 0.19 677 0.03 722 0.02 729 0.34 739 1.62 742 1.55 752 0.23 759 0.01 805 0.04 810 0.27 820 1.22 835 0.06 882 0.02 890 0.28 900 1.22 912 0.15 917 0.02 1000 0.00L1000 0L991 -0.70 -8 -0.64Z" fill="url(#sc)"/>
<path transform="matrix(0.11050 0.04236 0 -1.18528 75.68 313.70)" d="M0 0L0 0.00 150 0.11 160 0.30 168 0.63 175 1.31 180 2.13 185 3.42 190 5.41 198 10.28 221 36.49 231 44.98 238 48.44 246 50.26 256 51.35 268 51.81 271 51.74 278 49.09 313 31.88 331 24.29 338 21.61 351 18.39 363 13.84 378 10.34 396 7.31 409 5.89 419 6.06 421 5.84 431 3.77 439 2.97 456 2.00 479 1.19 489 1.13 499 1.86 516 0.51 549 0.21 566 0.25 579 1.60 581 1.58 591 0.31 602 0.05 644 0.05 649 0.24 659 1.15 662 1.11 672 0.18 677 0.03 722 0.02 729 0.32 739 1.52 742 1.46 752 0.22 759 0.01 805 0.04 810 0.25 820 1.14 835 0.06 882 0.01 890 0.26 900 1.15 912 0.14 917 0.02 1000 0.00L1000 0L991 -0.70 -8 -0.64Z" fill="url(#sc)"/>
<path transform="matrix(0.11045 0.04242 0 -1.18594 74.76 314.10)" d="M0 0L0 0.00 150 0.11 160 0.30 168 0.63 175 1.31 180 2.13 185 3.42 190 5.41 198 10.28 221 36.49 231 44.98 238 48.44 246 50.26 256 51.35 268 51.81 271 51.74 278 49.09 313 31.88 331 24.29 338 21.60 351 18.32 363 13.84 378 10.34 396 7.31 409 5.88 419 5.97 421 5.75 431 3.75 439 2.97 456 2.00 479 1.19 489 1.12 499 1.79 516 0.50 549 0.21 566 0.24 579 1.51 581 1.48 591 0.30 602 0.05 644 0.05 649 0.22 659 1.08 672 0.17 677 0.03 722 0.02 729 0.30 739 1.43 742 1.37 752 0.20 759 0.01 805 0.04 810 0.23 820 1.07 835 0.06 882 0.01 890 0.25 900 1.08 912 0.13 917 0.02 1000 0.00L1000 0L991 -0.70 -8 -0.64Z" fill="url(#sc)"/>
<path transform="matrix(0.11040 0.04247 0 -1.18660 73.84 314.50)" d="M0 0L0 0.00 150 0.11 160 0.30 168 0.63 175 1.31 180 2.13 185 3.42 190 5.41 198 10.28 221 36.49 231 44.98 238 48.44 246 50.26 256 51.35 268 51.81 271 51.74 278 49.09 313 31.88 331 24.28 363 13.83 378 10.34 396 7.31 409 5.86 419 5.88 421 5.66 431 3.73 439 2.97 456 2.00 479 1.19 489 1.11 499 1.72 516 0.50 549 0.21 566 0.24 579 1.42 581 1.39 591 0.28 602 0.05 644 0.05 649 0.21 659 1.01 672 0.16 677 0.03 722 0.02 729 0.28 739 1.34 742 1.28 752 0.19 759 0.01 805 0.04 810 0.22 820 1.00 835 0.05 882 0.01 890 0.23 900 1.01 912 0.12 917 0.02 1000 0.00L1000 0L991 -0.70 -8 -0.64Z" fill="url(#sc)"/>
<path transform="matrix(0.11035 0.04253 0 -1.18725 72.91 314.90)" d="M0 0L0 0.00 150 0.11 160 0.30 168 0.63 175 1.31 180 2.13 185 3.42 190 5.41 198 10.28 221 36.49 231 44.98 238 48.44 246 50.26 256 51.35 268 51.81 271 51.74 278 49.09 313 31.88 331 24.28 363 13.83 378 10.34 396 7.31 409 5.85 419 5.79 421 5.57 431 3.72 439 2.97 459 1.89 481 1.12 489 1.09 499 1.65 516 0.50 549 0.21 566 0.23 579 1.33 581 1.31 591 0.27 602 0.05 644 0.04 649 0.20 659 0.94 677 0.03 722 0.01 729 0.26 739 1.25 752 0.18 759 0.01 805 0.03 810 0.21 820 0.94 835 0.05 882 0.01 890 0.22 900 0.94 912 0.12 917 0.01 1000 0.00L1000 0L991 -0.70 -8 -0.64Z" fill="url(#sc)"/>
<path transform="matrix(0.11030 0.04258 0 -1.18791 71.99 315.30)" d="M0 0L0 0.00 150 0.11 160 0.30 168 0.63 175 1.31 180 2.13 185 3.42 190 5.41 198 10.28 221 36.49 231 44.98 238 48.44 246 50.26 256 51.35 268 51.81 271 51.74 278 49.09 313 31.88 331 24.28 363 13.82 378 10.34 396 7.31 409 5.83 419 5.71 421 5.49 431 3.70 439 2.97 459 1.89 481 1.12 489 1.08 499 1.59 516 0.50 549 0.21 566 0.22 579 1.25 581 1.23 591 0.26 602 0.05 644 0.04 649 0.18 659 0.88 677 0.02 722 0.01 729 0.24 739 1.16 752 0.17 759 0.01 805 0.03 810 0.19 820 0.87 835 0.05 882 0.01 890 0.20 900 0.88 912 0.11 917 0.01 1000 0.00L1000 0L991 -0.70 -8 -0.64Z" fill="url(#sc)"/>
<path transform="matrix(0.11025 0.04264 0 -1.18857 71.07 315.70)" d="M0 0L0 0.00 150 0.11 160 0.30 168 0.63 175 1.31 180 2.13 185 3.42 190 5.41 198 10.28 221 36.49 231 44.98 238 48.44 246 50.26 256 51.35 268 51.81 271 51.74 278 49.09 313 31.88 331 24.28 363 13.82 378 10.34 396 7.31 409 5.82 419 5.63 421 5.41 431 3.69 439 2.97 459 1.89 481 1.12 489 1.07 499 1.53 516 0.50 549 0.21 566 0.22 579 1.17 581 1.15 591 0.24 602 0.05 644 0.04 649 0.17 659 0.82 677 0.02 722 0.01 729 0.22 739 1.08 752 0.15 759 0.01 805 0.03 810 0.18 820 0.81 835 0.04 882 0.01 890 0.19 900 0.82 912 0.10 917 0.01 1000 0.00L1000 0L991 -0.70 -8 -0.64Z" fill="url(#sc)"/>
<path transform="matrix(0.11020 0.04269 0 -1.18923 70.15 316.10)" d="M0 0L0 0.00 150 0.11 160 0.30 168 0.63 175 1.31 180 2.13 185 3.42 190 5.41 198 10.28 221 36.49 231 44.98 238 48.44 246 50.26 256 51.35 268 51.81 271 51.74 278 49.09 313 31.88 331 24.28 363 13.81 378 10.34 396 7.31 409 5.81 421 5.33 431 3.67 439 2.97 459 1.89 481 1.12 489 1.06 499 1.47 516 0.50 549 0.21 566 0.21 579 1.09 591 0.23 602 0.05 644 0.04 649 0.16 659 0.76 677 0.02 722 0.01 729 0.21 739 1.01 752 0.14 759 0.01 805 0.03 810 0.17 820 0.76 835 0.04 882 0.01 890 0.17 900 0.76 917 0.01 1000 0.00L1000 0L991 -0.70 -8 -0.64Z" fill="url(#sc)"/>
<path transform="matrix(0.11015 0.04275 0 -1.18988 69.22 316.50)" d="M0 0L0 0.00 150 0.11 160 0.30 168 0.63 175 1.31 180 2.13 185 3.42 190 5.41 198 10.28 221 36.49 231 44.98 238 48.44 246 50.26 256 51.35 268 51.81 271 51.74 278 49.09 313 31.88 331 24.28 363 13.81 378 10.34 396 7.31 409 5.80 421 5.26 431 3.66 439 2.97 459 1.89 481 1.12 489 1.05 499 1.42 516 0.49 549 0.21 566 0.21 579 1.02 591 0.22 602 0.05 644 0.04 649 0.15 659 0.71 677 0.02 722 0.01 729 0.19 739 0.93 752 0.13 759 0.01 805 0.03 820 0.70 835 0.04 882 0.01 890 0.16 900 0.70 917 0.01 1000 0.00L1000 0L991 -0.70 -8 -0.64Z" fill="url(#sc)"/>
<path transform="matrix(0.11010 0.04280 0 -1.19054 68.30 316.90)" d="M0 0L0 0.00 150 0.11 160 0.30 168 0.63 175 1.31 180 2.13 185 3.42 190 5.41 198 10.28 221 36.49 231 44.98 238 48.44 246 50.26 251 50.93 256 51.35 268 51.81 271 51.74 278 49.09 313 31.88 331 24.28 363 13.80 381 9.85 398 6.94 409 5.79 421 5.19 431 3.65 439 2.97 459 1.89 481 1.12 489 1.04 499 1.37 516 0.49 549 0.21 566 0.20 579 0.95 591 0.21 602 0.05 644 0.04 649 0.14 659 0.65 677 0.02 722 0.01 729 0.18 739 0.86 752 0.12 759 0.01 805 0.02 820 0.65 835 0.03 882 0.01 890 0.15 900 0.65 917 0.01 1000 0.00L1000 0L991 -0.70 -8 -0.64Z" fill="url(#sc)"/>
<path transform="matrix(0.11005 0.04285 0 -1.19120 67.38 317.30)" d="M0 0L0 0.00 150 0.11 160 0.30 168 0.63 175 1.31 180 2.13 185 3.42 190 5.41 198 10.28 221 36.49 231 44.98 238 48.44 246 50.26 251 50.93 256 51.35 268 51.81 271 51.74 278 49.09 328 25.28 338 21.53 361 14.51 376 10.85 396 7.31 409 5.77 421 5.12 431 3.64 439 2.97 459 1.89 481 1.12 489 1.04 499 1.32 516 0.49 549 0.21 566 0.19 579 0.88 591 0.20 602 0.05 644 0.03 659 0.60 677 0.02 722 0.01 729 0.17 739 0.79 752 0.11 759 0.00 805 0.02 820 0.60 835 0.03 882 0.01 890 0.14 900 0.60 917 0.01 1000 0.00L1000 0L991 -0.70 -8 -0.64Z" fill="url(#sc)"/>
<path transform="matrix(0.11000 0.04291 0 -1.19185 66.45 317.70)" d="M0 0L0 0.00 150 0.11 160 0.30 168 0.63 175 1.31 180 2.13 185 3.42 190 5.41 198 10.28 221 36.49 231 44.98 238 48.44 246 50.26 251 50.93 256 51.35 268 51.81 271 51.74 278 49.09 328 25.28 338 21.52 361 14.51 376 10.85 396 7.31 409 5.76 421 5.06 431 3.62 439 2.97 459 1.89 481 1.12 489 1.03 499 1.27 516 0.49 549 0.21 566 0.19 579 0.82 591 0.19 602 0.05 644 0.03 659 0.56 677 0.02 722 0.01 729 0.15 739 0.73 752 0.10 759 0.00 805 0.02 820 0.55 835 0.03 882 0.01 890 0.13 900 0.55 917 0.01 1000 0.00L1000 0L991 -0.70 -8 -0.64Z" fill="url(#sc)"/>
<path transform="matrix(0.10995 0.04296 0 -1.19251 65.53 318.10)" d="M0 0L0 0.00 150 0.11 160 0.30 168 0.63 175 1.31 180 2.13 185 3.42 190 5.41 198 10.28 221 36.49 231 44.98 238 48.44 246 50.26 251 50.93 256 51.35 268 51.81 271 51.74 278 49.09 328 25.28 338 21.51 361 14.50 376 10.85 396 7.31 406 5.99 421 5.00 431 3.61 439 2.96 459 1.89 481 1.12 489 1.02 499 1.23 516 0.49 549 0.21 566 0.19 579 0.76 591 0.18 602 0.05 644 0.03 659 0.51 677 0.02 722 0.01 729 0.14 739 0.67 752 0.10 759 0.00 805 0.02 820 0.50 835 0.03 882 0.01 890 0.12 900 0.51 917 0.01 1000 0.00L1000 0L991 -0.70 -8 -0.64Z" fill="url(#sc)"/>
<path transform="matrix(0.10990 0.04302 0 -1.19317 64.61 318.50)" d="M0 0L0 0.00 150 0.11 160 0.30 168 0.63 175 1.31 180 2.13 185 3.42 190 5.41 198 10.28 221 36.49 231 44.98 238 48.44 246 50.26 251 50.93 256 51.35 268 51.81 271 51.74 278 49.09 328 25.28 338 21.51 361 14.49 376 10.85 396 7.30 406 5.99 421 4.94 431 3.60 439 2.96 459 1.89 481 1.12 489 1.01 499 1.19 516 0.49 549 0.21 566 0.18 579 0.71 591 0.17 604 0.05 644 0.03 659 0.47 677 0.02 722 0.01 729 0.13 739 0.62 752 0.09 759 0.00 805 0.02 820 0.46 835 0.02 882 0.01 900 0.46 917 0.01 1000 0.00L1000 0L991 -0.70 -8 -0.64Z" fill="url(#sc)"/>
<path transform="matrix(0.10985 0.04307 0 -1.19383 63.69 318.90)" d="M0 0L0 0.00 150 0.11 160 0.30 168 0.63 175 1.31 180 2.13 185 3.42 190 5.41 198 10.28 221 36.49 231 44.98 238 48.44 246 50.26 251 50.93 256 51.35 268 51.81 271 51.74 278 49.09 328 25.28 338 21.50 361 14.48 376 10.85 396 7.30 406 5.99 421 4.89 431 3.59 439 2.96 459 1.89 481 1.12 489 1.01 499 1.15 516 0.49 549 0.21 566 0.18 579 0.65 591 0.16 604 0.05 644 0.03 659 0.43 677 0.02 722 0.01 729 0.12 739 0.56 752 0.08 759 0.00 805 0.02 820 0.42 835 0.02 882 0.01 900 0.42 917 0.01 1000 0.00L1000 0L991 -0.70 -8 -0.64Z" fill="url(#sc)"/>
<path transform="matrix(0.10980 0.04313 0 -1.19448 62.76 319.30)" d="M0 0L0 0.00 150 0.11 160 0.30 168 0.63 175 1.31 180 2.13 185 3.42 190 5.41 198 10.28 221 36.49 231 44.98 238 48.44 246 50.26 251 50.93 256 51.35 268 51.81 271 51.74 278 49.09 328 25.28 338 21.49 361 14.47 378 10.34 396 7.30 406 5.98 421 4.84 439 2.96 459 1.89 481 1.12 489 1.00 499 1.11 516 0.49 549 0.21 566 0.17 579 0.60 591 0.15 604 0.05 644 0.03 659 0.39 677 0.01 722 0.01 729 0.11 739 0.52 752 0.07 759 0.00 805 0.01 820 0.39 835 0.02 882 0.00 900 0.39 917 0.01 1000 0.00L1000 0L991 -0.70 -8 -0.64Z" fill="url(#sc)"/>
<path transform="matrix(0.10975 0.04318 0 -1.19514 61.84 319.70)" d="M0 0L0 0.00 150 0.11 160 0.30 168 0.63 175 1.31 180 2.13 185 3.42 190 5.41 198 10.28 221 36.49 231 44.98 238 48.44 246 50.26 251 50.93 256 51.35 268 51.81 271 51.74 278 49.09 328 25.28 341 20.65 361 14.47 378 10.34 396 7.30 406 5.98 421 4.80 436 3.14 456 2.00 479 1.18 489 0.99 499 1.08 516 0.49 546 0.22 566 0.17 579 0.56 594 0.10 607 0.05 644 0.03 659 0.36 677 0.01 722 0.01 729 0.10 739 0.47 759 0.00 805 0.01 820 0.35 835 0.02 882 0.00 900 0.35 917 0.01 1000 0.00L1000 0L991 -0.70 -8 -0.64Z" fill="url(#sc)"/>
<path transform="matrix(0.10970 0.04324 0 -1.19580 60.92 320.10)" d="M0 0L0 0.00 150 0.11 160 0.30 168 0.63 175 1.31 180 2.13 185 3.42 190 5.41 198 10.28 221 36.49 231 44.98 238 48.44 246 50.26 251 50.93 256 51.35 268 51.81 271 51.74 278 49.09 328 25.28 341 20.64 361 14.46 378 10.34 396 7.30 409 5.72 421 4.76 436 3.14 456 2.00 479 1.18 489 0.99 501 1.00 516 0.49 546 0.22 566 0.17 579 0.52 594 0.09 607 0.05 644 0.03 659 0.33 677 0.01 722 0.01 739 0.43 759 0.00 805 0.01 820 0.32 835 0.02 882 0.00 900 0.32 917 0.01 1000 0.00L1000 0L991 -0.70 -8 -0.64Z" fill="url(#sc)"/>
<path transform="matrix(0.10965 0.04329 0 -1.19646 60.00 320.50)" d="M0 0L0 0.00 150 0.11 160 0.30 168 0.63 175 1.31 180 2.13 185 3.42 190 5.41 198 10.28 221 36.49 231 44.98 238 48.44 246 50.26 251 50.93 256 51.35 268 51.81 271 51.74 278 49.09 328 25.28 341 20.63 361 14.46 378 10.34 396 7.30 409 5.71 421 4.72 436 3.14 456 2.00 481 1.12 501 0.98 516 0.48 546 0.22 566 0.16 579 0.48 594 0.09 609 0.04 644 0.02 659 0.30 677 0.01 722 0.01 739 0.39 759 0.00 805 0.01 820 0.29 835 0.02 882 0.00 900 0.29 917 0.00 1000 0.00L1000 0L991 -0.70 -8 -0.64Z" fill="url(#sc)"/>
<path transform="matrix(0.10960 0.04335 0 -1.19711 59.07 320.90)" d="M0 0L0 0.00 150 0.11 160 0.30 168 0.63 175 1.31 180 2.13 185 3.42 190 5.41 198 10.28 221 36.49 231 44.98 238 48.44 246 50.26 251 50.93 256 51.35 268 51.81 271 51.74 278 49.09 328 25.28 341 20.63 358 15.17 373 11.39 393 7.68 409 5.70 436 3.14 456 2.00 481 1.12 501 0.95 516 0.48 546 0.22 566 0.16 579 0.44 594 0.09 614 0.04 647 0.04 659 0.27 677 0.01 722 0.01 739 0.35 759 0.00 805 0.01 820 0.26 835 0.01 882 0.00 900 0.26 917 0.00 1000 0.00L1000 0L991 -0.70 -8 -0.64Z" fill="url(#sc)"/>
<path transform="matrix(0.10955 0.04340 0 -1.19777 58.15 321.30)" d="M0 0L0 0.00 150 0.10 160 0.28 168 0.60 175 1.25 180 2.03 185 3.26 190 5.16 198 9.79 221 34.74 231 42.83 238 46.13 246 47.86 256 48.90 268 49.34 271 49.27 278 46.75 328 24.08 341 19.64 358 14.45 373 10.84 393 7.32 409 5.43 436 2.99 456 1.90 481 1.06 501 0.89 516 0.46 546 0.21 566 0.15 579 0.40 594 0.08 614 0.04 647 0.03 659 0.25 677 0.01 722 0.00 739 0.32 759 0.00 805 0.01 820 0.24 835 0.01 882 0.00 900 0.24 917 0.00 1000 0.00L1000 0L991 -0.70 -8 -0.64Z" fill="url(#sc)"/>
<path transform="matrix(0.10950 0.04345 0 -1.19843 57.23 321.70)" d="M0 0L0 0.00 150 0.09 168 0.52 175 1.09 180 1.76 185 2.84 190 4.49 198 8.53 221 30.27 231 37.32 238 40.19 246 41.70 256 42.60 268 42.99 271 42.93 278 40.73 328 20.98 341 17.11 358 12.59 373 9.45 393 6.38 409 4.73 436 2.60 456 1.66 481 0.93 501 0.78 516 0.40 546 0.19 566 0.13 579 0.36 594 0.07 614 0.03 647 0.03 659 0.22 677 0.01 722 0.00 739 0.29 759 0.00 805 0.01 820 0.21 835 0.01 882 0.00 900 0.22 917 0.00 1000 0.00L1000 0L991 -0.70 -8 -0.64Z" fill="url(#sc)"/>
<path transform="matrix(0.10945 0.04351 0 -1.19908 56.30 322.10)" d="M0 0L0 0.00 150 0.08 168 0.44 175 0.93 180 1.50 185 2.42 190 3.82 198 7.26 221 25.78 231 31.78 238 34.22 246 35.51 256 36.28 268 36.61 271 36.56 278 34.68 328 17.86 358 10.72 373 8.05 393 5.43 406 4.22 436 2.22 456 1.41 481 0.79 546 0.16 566 0.11 579 0.32 594 0.06 612 0.03 644 0.02 659 0.20 677 0.01 722 0.00 739 0.26 759 0.00 805 0.01 820 0.19 835 0.01 882 0.00 900 0.19 917 0.00 1000 0.00L1000 0L991 -0.70 -8 -0.64Z" fill="url(#sc)"/>
<path transform="matrix(0.10940 0.04356 0 -1.19974 55.38 322.50)" d="M0 0L0 0.00 150 0.06 168 0.37 175 0.77 180 1.25 185 2.01 190 3.18 198 6.05 221 21.46 231 26.46 238 28.50 246 29.57 256 30.21 268 30.48 271 30.44 278 28.88 328 14.87 341 12.14 361 8.51 378 6.08 396 4.30 409 3.36 436 1.85 456 1.17 481 0.66 546 0.13 566 0.10 579 0.28 609 0.03 644 0.01 659 0.18 677 0.01 722 0.00 739 0.23 759 0.00 805 0.01 820 0.17 835 0.01 882 0.00 900 0.17 917 0.00 1000 0.00L1000 0L991 -0.70 -8 -0.64Z" fill="url(#sc)"/>
<path transform="matrix(0.10935 0.04362 0 -1.20040 54.46 322.90)" d="M0 0L0 0.00 150 0.05 168 0.30 175 0.63 180 1.02 185 1.64 190 2.60 198 4.93 221 17.50 231 21.57 238 23.23 246 24.11 256 24.63 268 24.85 271 24.82 278 23.55 328 12.13 361 6.94 378 4.96 396 3.50 409 2.74 436 1.51 479 0.57 546 0.11 566 0.08 579 0.25 607 0.02 644 0.01 659 0.16 677 0.01 722 0.00 739 0.21 759 0.00 805 0.01 820 0.16 835 0.01 882 0.00 900 0.16 917 0.00 1000 0.00L1000 0L991 -0.70 -8 -0.64Z" fill="url(#sc)"/>
<path transform="matrix(0.10930 0.04367 0 -1.20106 53.54 323.30)" d="M0 0L0 0.00 150 0.04 168 0.24 180 0.82 190 2.08 198 3.95 221 14.00 231 17.26 238 18.58 246 19.28 256 19.70 268 19.88 271 19.85 278 18.84 328 9.70 361 5.55 378 3.97 396 2.80 439 1.14 481 0.43 549 0.08 579 0.22 604 0.02 659 0.14 722 0.00 739 0.19 759 0.00 820 0.14 882 0.00 900 0.14 917 0.00 1000 0.00L1000 0L991 -0.70 -8 -0.64Z" fill="url(#sc)"/>
<path transform="matrix(0.10925 0.04373 0 -1.20171 52.61 323.70)" d="M0 0L0 0.00 150 0.03 168 0.19 180 0.64 190 1.63 198 3.10 221 11.02 231 13.58 238 14.62 246 15.17 256 15.50 268 15.64 271 15.62 278 14.82 328 7.63 361 4.37 376 3.28 396 2.21 439 0.89 481 0.34 549 0.06 579 0.19 604 0.01 659 0.13 722 0.00 739 0.17 759 0.00 820 0.12 882 0.00 900 0.12 1000 0.00L1000 0L991 -0.70 -8 -0.64Z" fill="url(#sc)"/>
<path transform="matrix(0.10920 0.04378 0 -1.20237 51.69 324.10)" d="M0 0L0 0.00 150 0.03 168 0.15 180 0.50 190 1.27 198 2.41 221 8.55 231 10.54 238 11.35 246 11.77 268 12.14 278 11.50 328 5.92 361 3.40 396 1.71 439 0.69 481 0.26 549 0.05 579 0.17 602 0.01 722 0.00 739 0.15 759 0.00 900 0.11 1000 0.00L1000 0L991 -0.70 -8 -0.64Z" fill="url(#sc)"/>
<path transform="matrix(0.10915 0.04384 0 -1.20303 50.77 324.50)" d="M0 0L0 0.00 150 0.02 168 0.11 180 0.38 190 0.97 198 1.85 221 6.56 231 8.09 238 8.71 246 9.04 268 9.31 278 8.83 328 4.55 361 2.61 396 1.31 439 0.53 481 0.20 549 0.04 579 0.15 602 0.01 722 0.00 739 0.13 759 0.00 1000 0.00L1000 0L991 -0.70 -8 -0.64Z" fill="url(#sc)"/>
<path transform="matrix(0.10910 0.04389 0 -1.20369 49.85 324.90)" d="M0 0L0 0.00 150 0.01 180 0.29 190 0.74 198 1.41 221 4.99 231 6.15 238 6.62 246 6.87 268 7.08 278 6.71 331 3.32 363 1.89 398 0.95 439 0.41 549 0.03 1000 0.00L1000 0L991 -0.70 -8 -0.64Z" fill="url(#sc)"/>
<path transform="matrix(0.10905 0.04395 0 -1.20434 48.92 325.30)" d="M0 0L0 0.00 150 0.01 180 0.22 190 0.56 198 1.06 221 3.77 231 4.64 246 5.19 268 5.35 278 5.07 331 2.51 363 1.43 396 0.75 439 0.31 549 0.02 1000 0.00L1000 0L991 -0.70 -8 -0.64Z" fill="url(#sc)"/>
<path transform="matrix(0.10900 0.04400 0 -1.20500 48.00 325.70)" d="M0 0L0 0.00 150 0.01 180 0.16 190 0.42 198 0.80 221 2.83 231 3.49 246 3.90 268 4.02 278 3.81 331 1.88 363 1.07 396 0.57 439 0.23 549 0.02 1000 0.00L1000 0L1000 -0.00 0 -0.00Z" fill="url(#sc)"/>
<path d="M378.00 325.70L487.00 369.70L594.00 319.70L479.50 281.70Z" fill="#ff3cff"/>
<path transform="matrix(0.11450 0.03800 0 -1.13270 479.50 281.70)" d="M0 0L0 13.90 33 13.53 55 12.65 68 11.67 78 10.54 115 4.92 125 4.42 130 4.67 135 5.41 143 7.71 148 10.27 158 18.50 168 31.50 180 52.00 246 52.00 263 23.73 276 10.82 283 6.22 291 3.46 301 1.70 313 0.39 331 0.09 338 0.23 343 0.59 348 1.63 353 4.35 361 16.06 371 51.42 373 52.00 401 52.00 414 12.29 419 4.99 424 1.91 429 0.71 434 0.27 444 0.07 454 0.19 461 0.65 466 1.48 469 2.22 474 4.95 479 10.56 484 20.76 494 52.00 536 52.00 539 49.86 549 29.99L549 0L541 -0.66 -8 -0.62Z" fill="url(#sd)"/>
<path transform="matrix(0.11450 0.03800 0 -1.13270 479.50 281.70)" d="M549 0L549 29.99 554 26.09 559 24.49 566 23.81 581 23.97 589 24.34 599 25.25 612 25.37 617 25.57 642 27.30 649 28.01 659 29.31 674 30.33 692 32.18 707 33.89 719 35.80 734 36.77 782 40.88 792 41.14 825 42.45 840 43.34 855 43.19 887 43.65 900 44.09 912 43.85 930 43.90 950 44.34 965 44.03 1000 44.06L1000 0L992 -0.69 541 -0.66Z" fill="url(#sds65)"/>
<path transform="matrix(0.11445 0.03805 0 -1.13336 478.58 282.10)" d="M0 0L0 13.90 33 13.52 55 12.65 68 11.67 78 10.54 115 4.92 125 4.42 130 4.67 135 5.41 143 7.71 148 10.27 158 18.50 168 31.50 180 52.00 246 52.00 263 23.73 276 10.82 281 7.53 288 4.20 296 2.45 311 0.56 326 0.10 336 0.15 341 0.36 346 0.98 348 1.63 353 4.37 361 16.11 371 51.43 373 52.00 401 52.00 414 12.28 419 4.99 424 1.91 429 0.71 434 0.27 444 0.07 454 0.19 461 0.65 466 1.48 469 2.22 474 4.95 479 10.56 484 20.76 494 52.00 536 52.00 546 26.19 551 20.32 554 19.51 556 19.60L556 0L548 -0.66 -8 -0.62Z" fill="url(#sd)"/>
<path transform="matrix(0.11445 0.03805 0 -1.13336 478.58 282.10)" d="M556 0L556 19.60 566 22.20 574 23.34 589 24.39 599 25.39 612 25.47 617 25.66 642 27.40 649 28.12 659 29.45 674 30.44 694 32.57 707 34.01 719 35.98 734 36.90 779 40.92 825 42.60 840 43.53 855 43.34 887 43.81 900 44.28 912 44.01 930 44.06 950 44.53 965 44.18 1000 44.22L1000 0L992 -0.69 548 -0.66Z" fill="url(#sds65)"/>
<path transform="matrix(0.11440 0.03811 0 -1.13401 477.65 282.50)" d="M0 0L0 13.89 33 13.52 55 12.64 68 11.67 78 10.54 115 4.92 125 4.42 130 4.67 135 5.41 143 7.71 148 10.27 158 18.50 168 31.50 180 52.00 246 52.00 263 23.73 276 10.82 281 7.53 288 4.21 296 2.48 311 0.56 326 0.10 336 0.15 341 0.36 346 0.99 348 1.64 353 4.40 361 16.15 371 51.43 373 52.00 401 52.00 414 12.28 419 4.99 424 1.91 429 0.71 434 0.27 444 0.07 454 0.19 461 0.65 466 1.48 469 2.22 474 4.95 479 10.56 484 20.76 494 52.00 536 52.00 546 22.33 551 14.16 554 12.43 556 12.02 561 14.03 566 17.55L566 0L558 -0.66 -8 -0.62Z" fill="url(#sd)"/>
<path transform="matrix(0.11440 0.03811 0 -1.13401 477.65 282.50)" d="M566 0L566 17.55 571 20.53 576 22.40 581 23.45 596 25.33 602 25.68 612 25.63 617 25.83 644 27.79 659 29.68 674 30.64 699 33.34 709 34.60 719 36.27 734 37.14 779 41.22 792 41.57 825 42.88 840 43.85 855 43.62 885 44.04 900 44.59 912 44.30 930 44.34 937 44.42 950 44.85 965 44.47 1000 44.51L1000 0L991 -0.69 558 -0.66Z" fill="url(#sds65)"/>
<path transform="matrix(0.11435 0.03816 0 -1.13467 476.73 282.90)" d="M0 0L0 13.89 33 13.52 55 12.64 68 11.67 78 10.53 115 4.92 120 4.53 125 4.42 130 4.67 135 5.41 143 7.71 148 10.26 158 18.50 168 31.50 180 52.00 246 52.00 263 23.73 276 10.82 281 7.53 288 4.21 296 2.51 311 0.57 326 0.10 336 0.15 341 0.36 346 0.99 348 1.65 353 4.42 361 16.19 371 51.41 373 52.00 401 52.00 414 12.28 419 4.99 424 1.91 429 0.71 434 0.27 444 0.07 454 0.19 461 0.65 466 1.48 469 2.23 474 4.95 479 10.56 484 20.76 494 52.00 536 51.90 546 21.05 554 8.81 556 7.27 559 6.73 561 7.07 566 9.88 574 16.58L574 0L566 -0.66 -8 -0.62Z" fill="url(#sd)"/>
<path transform="matrix(0.11435 0.03816 0 -1.13467 476.73 282.90)" d="M574 0L574 16.58 579 20.23 584 22.52 591 24.45 599 25.70 602 25.86 612 25.84 617 26.04 644 28.02 659 29.98 674 30.90 699 33.62 709 34.90 719 36.63 734 37.46 767 40.31 779 41.60 792 41.92 825 43.24 840 44.27 855 43.99 885 44.41 900 45.00 912 44.68 930 44.71 937 44.79 950 45.26 965 44.84 1000 44.88L1000 0L991 -0.69 566 -0.66Z" fill="url(#sds65)"/>
<path transform="matrix(0.11430 0.03822 0 -1.13533 475.81 283.30)" d="M0 0L0 13.88 33 13.51 55 12.64 68 11.66 78 10.53 115 4.92 120 4.53 125 4.41 130 4.67 135 5.41 143 7.71 148 10.26 158 18.50 168 31.49 180 52.00 246 52.00 263 23.73 276 10.82 281 7.53 288 4.22 296 2.54 311 0.58 316 0.29 326 0.10 336 0.15 341 0.36 346 0.99 348 1.65 353 4.45 361 16.23 371 51.37 373 52.00 401 52.00 414 12.27 419 4.99 424 1.91 429 0.71 434 0.27 444 0.07 454 0.19 461 0.65 466 1.48 469 2.23 474 4.95 479 10.56 484 20.76 494 52.00 534 52.00 536 51.83 549 15.04 554 7.64 559 4.28 561 3.68 564 3.64 569 5.17 581 16.07L581 0L573 -0.66 -8 -0.62Z" fill="url(#sd)"/>
<path transform="matrix(0.11430 0.03822 0 -1.13533 475.81 283.30)" d="M581 0L581 16.07 591 22.99 596 24.84 602 25.76 617 26.20 644 28.23 659 30.24 674 31.13 702 34.16 709 35.17 719 36.96 722 37.20 734 37.74 767 40.61 779 41.94 794 42.32 825 43.56 840 44.64 855 44.32 885 44.74 900 45.37 912 45.01 930 45.04 937 45.13 950 45.63 965 45.18 1000 45.21L1000 0L991 -0.69 573 -0.66Z" fill="url(#sds65)"/>
<path transform="matrix(0.11425 0.03827 0 -1.13599 474.89 283.70)" d="M0 0L0 13.88 33 13.51 55 12.63 68 11.66 78 10.52 115 4.92 120 4.53 125 4.41 130 4.67 135 5.40 143 7.71 148 10.26 158 18.50 168 31.49 180 52.00 246 52.00 263 23.73 276 10.82 281 7.53 288 4.22 296 2.57 311 0.59 316 0.29 326 0.10 336 0.15 341 0.36 346 0.99 348 1.66 353 4.47 361 16.24 371 51.25 373 52.00 401 52.00 414 12.23 419 4.97 424 1.90 429 0.71 434 0.27 444 0.07 454 0.19 461 0.65 466 1.48 469 2.23 474 4.95 479 10.56 484 20.76 494 52.00 534 52.00 536 51.82 549 14.90 554 7.31 561 2.60 564 2.06 566 1.87 569 1.99 574 3.20 576 4.38 589 15.79L589 0L581 -0.66 -8 -0.62Z" fill="url(#sd)"/>
<path transform="matrix(0.11425 0.03827 0 -1.13599 474.89 283.70)" d="M589 0L589 15.79 596 22.36 599 23.73 604 25.18 644 28.35 662 30.65 672 31.07 679 31.77 707 34.95 719 37.18 722 37.42 734 37.91 767 40.79 779 42.16 794 42.51 825 43.75 840 44.89 857 44.54 887 45.00 900 45.61 912 45.21 927 45.23 937 45.33 950 45.87 965 45.38 1000 45.41L1000 0L991 -0.69 581 -0.66Z" fill="url(#sds65)"/>
<path transform="matrix(0.11420 0.03833 0 -1.13664 473.96 284.10)" d="M0 0L0 13.87 33 13.50 55 12.62 68 11.65 78 10.52 115 4.91 120 4.52 125 4.41 130 4.67 135 5.40 143 7.71 148 10.26 158 18.50 168 31.49 180 52.00 246 52.00 263 23.73 276 10.82 281 7.53 288 4.23 293 3.00 311 0.59 316 0.29 326 0.10 336 0.15 341 0.36 346 0.99 348 1.66 353 4.47 361 16.20 371 50.94 373 52.00 401 52.00 414 12.16 419 4.94 424 1.89 429 0.71 434 0.27 444 0.07 454 0.19 461 0.65 466 1.48 469 2.23 474 4.95 479 10.56 484 20.76 494 52.00 534 52.00 536 51.81 549 14.86 554 7.23 561 2.30 566 1.21 571 0.97 576 1.42 581 2.77 589 7.68 599 18.63L599 0L591 -0.66 -8 -0.62Z" fill="url(#sd)"/>
<path transform="matrix(0.11420 0.03833 0 -1.13664 473.96 284.10)" d="M599 0L599 18.63 607 23.47 612 24.89 619 26.13 647 28.66 659 30.53 672 31.13 687 32.65 707 35.01 719 37.31 722 37.55 729 37.70 734 37.97 767 40.86 779 42.27 794 42.58 825 43.83 840 45.02 852 44.60 857 44.61 887 45.07 900 45.72 912 45.29 927 45.30 937 45.41 950 45.98 965 45.45 1000 45.48L1000 0L991 -0.69 591 -0.66Z" fill="url(#sds65)"/>
<path transform="matrix(0.11415 0.03838 0 -1.13730 473.04 284.50)" d="M0 0L0 13.86 33 13.49 55 12.61 68 11.64 78 10.51 115 4.91 120 4.52 125 4.41 130 4.66 135 5.40 143 7.70 148 10.26 158 18.50 168 31.49 180 52.00 246 52.00 263 23.73 276 10.82 281 7.53 288 4.24 293 3.03 311 0.60 316 0.29 326 0.10 336 0.15 341 0.36 346 0.98 348 1.64 353 4.44 361 16.02 371 50.17 373 52.00 401 52.00 414 11.97 419 4.87 424 1.86 429 0.70 434 0.27 444 0.07 454 0.20 461 0.65 466 1.48 469 2.23 474 4.95 479 10.56 484 20.76 494 52.00 534 52.00 536 51.81 549 14.85 554 7.21 561 2.22 566 1.03 574 0.50 581 0.84 586 1.79 594 5.72 607 17.88L607 0L598 -0.66 -8 -0.62Z" fill="url(#sd)"/>
<path transform="matrix(0.11415 0.03838 0 -1.13730 473.04 284.50)" d="M607 0L607 17.88 612 21.66 617 24.16 622 25.66 627 26.56 647 28.64 659 30.58 674 31.32 699 34.06 709 35.42 719 37.38 722 37.61 729 37.71 734 37.97 767 40.86 779 42.31 794 42.58 825 43.82 840 45.07 852 44.60 857 44.60 887 45.07 900 45.76 912 45.29 927 45.29 937 45.40 950 46.02 965 45.45 1000 45.47L1000 0L991 -0.69 598 -0.66Z" fill="url(#sds65)"/>
<path transform="matrix(0.11410 0.03844 0 -1.13796 472.12 284.90)" d="M0 0L0 13.84 33 13.47 55 12.60 68 11.63 78 10.50 115 4.90 120 4.52 125 4.41 130 4.66 135 5.40 143 7.70 148 10.26 158 18.50 168 31.49 180 52.00 246 52.00 263 23.73 276 10.82 281 7.53 288 4.24 293 3.05 311 0.61 316 0.30 326 0.10 336 0.14 341 0.34 346 0.95 348 1.60 353 4.33 361 15.53 371 48.35 373 52.00 398 52.00 401 51.73 414 11.53 419 4.69 424 1.79 429 0.67 434 0.26 444 0.07 454 0.20 461 0.65 466 1.48 469 2.23 474 4.95 479 10.56 484 20.76 494 52.00 534 52.00 536 51.81 549 14.85 556 4.89 564 1.47 571 0.46 581 0.29 586 0.57 589 0.91 594 2.23 604 7.45 614 16.96L614 0L606 -0.66 -8 -0.62Z" fill="url(#sd)"/>
<path transform="matrix(0.11410 0.03844 0 -1.13796 472.12 284.90)" d="M614 0L614 16.96 619 21.39 624 24.30 629 26.00 634 27.01 649 28.90 659 30.60 662 30.82 669 30.99 674 31.28 702 34.31 709 35.38 719 37.41 722 37.64 729 37.68 734 37.92 767 40.81 779 42.30 794 42.52 825 43.76 840 45.07 852 44.55 857 44.54 885 44.94 900 45.74 912 45.23 927 45.23 937 45.34 950 46.00 965 45.38 1000 45.41L1000 0L991 -0.69 606 -0.66Z" fill="url(#sds65)"/>
<path transform="matrix(0.11405 0.03849 0 -1.13862 471.20 285.30)" d="M0 0L0 13.82 33 13.45 55 12.58 68 11.61 78 10.48 115 4.90 120 4.51 125 4.40 130 4.66 135 5.40 143 7.70 148 10.26 158 18.50 168 31.49 180 52.00 246 52.00 263 23.73 276 10.82 281 7.53 288 4.25 293 3.08 313 0.42 321 0.16 331 0.08 338 0.20 343 0.52 348 1.49 353 4.05 361 14.38 373 51.45 376 52.00 398 52.00 414 10.57 419 4.30 424 1.65 429 0.62 434 0.24 444 0.07 454 0.20 461 0.66 466 1.48 469 2.23 474 4.95 479 10.56 484 20.76 494 52.00 534 52.00 536 51.81 549 14.85 556 4.89 564 1.46 569 0.65 574 0.29 581 0.14 586 0.25 594 1.16 607 3.70 614 8.37 624 19.04L624 0L616 -0.66 -8 -0.62Z" fill="url(#sd)"/>
<path transform="matrix(0.11405 0.03849 0 -1.13862 471.20 285.30)" d="M624 0L624 19.04 629 23.05 634 25.52 639 26.96 659 30.57 662 30.79 669 30.93 674 31.21 697 33.65 707 34.89 719 37.40 722 37.63 729 37.62 734 37.83 767 40.71 779 42.24 794 42.42 825 43.65 830 43.99 840 45.03 852 44.45 857 44.43 885 44.83 900 45.68 912 45.12 927 45.12 937 45.24 950 45.94 965 45.27 1000 45.30L1000 0L991 -0.69 616 -0.66Z" fill="url(#sds65)"/>
<path transform="matrix(0.11400 0.03855 0 -1.13927 470.27 285.70)" d="M0 0L0 13.80 33 13.43 55 12.56 68 11.59 78 10.46 115 4.89 120 4.51 125 4.40 130 4.65 135 5.39 143 7.70 148 10.26 158 18.49 168 31.49 180 52.00 246 52.00 263 23.73 276 10.82 281 7.53 288 4.26 293 3.11 313 0.43 321 0.16 331 0.08 338 0.17 343 0.44 348 1.27 353 3.49 361 12.15 373 42.65 378 50.50 381 52.00 391 52.00 393 51.53 396 48.77 414 8.76 419 3.56 421 2.22 426 0.84 431 0.32 439 0.09 451 0.14 459 0.44 464 0.99 469 2.23 474 4.95 479 10.56 484 20.76 494 52.00 534 52.00 536 51.81 549 14.85 556 4.89 564 1.46 571 0.43 584 0.11 589 0.31 599 1.55 607 1.57 609 1.69 612 2.09 619 5.67 632 18.71L632 0L623 -0.66 -8 -0.62Z" fill="url(#sd)"/>
<path transform="matrix(0.11400 0.03855 0 -1.13927 470.27 285.70)" d="M632 0L632 18.71 637 23.03 642 25.77 649 28.12 659 30.42 662 30.68 669 30.81 674 31.09 699 33.80 709 35.20 719 37.35 722 37.57 729 37.50 734 37.70 767 40.56 779 42.14 794 42.26 825 43.49 830 43.84 840 44.93 852 44.29 857 44.27 885 44.67 900 45.57 912 44.96 927 44.95 937 45.07 950 45.82 965 45.11 1000 45.13L1000 0L991 -0.69 623 -0.66Z" fill="url(#sds65)"/>
<path transform="matrix(0.11395 0.03860 0 -1.13993 469.35 286.10)" d="M0 0L0 13.76 33 13.40 55 12.53 68 11.56 78 10.44 115 4.88 120 4.50 125 4.39 130 4.65 135 5.39 143 7.69 148 10.25 158 18.49 168 31.49 180 52.00 246 52.00 263 23.73 276 10.82 281 7.53 288 4.27 293 3.13 313 0.43 328 0.07 338 0.12 343 0.32 348 0.95 353 2.66 361 8.90 376 33.15 381 36.91 383 37.75 386 38.08 388 37.95 391 37.34 396 34.21 411 9.22 419 2.50 424 0.96 429 0.37 434 0.15 446 0.07 456 0.29 461 0.66 466 1.49 471 3.34 474 4.95 481 15.01 494 52.00 534 52.00 536 51.81 549 14.85 556 4.89 564 1.46 571 0.42 584 0.10 589 0.30 599 1.46 602 1.47 612 0.73 617 1.18 619 1.72 624 3.69 629 7.28 639 18.34L639 0L631 -0.67 -8 -0.63Z" fill="url(#sd)"/>
<path transform="matrix(0.11395 0.03860 0 -1.13993 469.35 286.10)" d="M639 0L639 18.34 647 24.75 654 28.44 659 29.95 664 30.50 674 30.89 702 33.91 709 35.03 719 37.24 722 37.46 732 37.36 737 37.69 767 40.35 779 41.97 794 42.03 825 43.26 830 43.62 840 44.76 852 44.06 857 44.03 885 44.42 900 45.38 912 44.72 927 44.70 937 44.83 950 45.63 965 44.86 1000 44.88L1000 0L991 -0.69 631 -0.67Z" fill="url(#sds65)"/>
<path transform="matrix(0.11390 0.03865 0 -1.14059 468.43 286.50)" d="M0 0L0 13.72 33 13.36 55 12.49 68 11.53 78 10.41 115 4.87 120 4.49 125 4.38 130 4.64 135 5.38 143 7.69 148 10.25 158 18.49 168 31.49 180 52.00 246 52.00 263 23.73 276 10.82 281 7.53 288 4.27 293 3.16 313 0.44 326 0.09 343 0.20 348 0.63 353 1.83 358 4.10 363 7.58 376 19.06 381 21.20 386 21.87 391 21.45 396 19.65 411 5.30 419 1.44 426 0.34 441 0.05 456 0.30 461 0.66 466 1.49 471 3.34 474 4.96 481 15.01 494 52.00 534 52.00 536 51.81 549 14.85 556 4.89 564 1.46 571 0.42 581 0.09 589 0.31 599 1.51 602 1.49 609 0.57 614 0.30 619 0.47 624 1.04 629 2.32 634 4.86 647 18.00L647 0L638 -0.67 -8 -0.63Z" fill="url(#sd)"/>
<path transform="matrix(0.11390 0.03865 0 -1.14059 468.43 286.50)" d="M647 0L647 18.00 657 27.15 659 28.41 664 29.68 674 30.52 704 33.96 709 34.77 719 37.06 722 37.27 732 37.09 737 37.40 767 40.04 779 41.70 782 41.82 794 41.71 825 42.92 830 43.30 840 44.50 855 43.68 885 44.08 890 44.30 900 45.08 912 44.38 917 44.31 937 44.49 950 45.34 965 44.52 1000 44.53L1000 0L991 -0.69 638 -0.67Z" fill="url(#sds65)"/>
<path transform="matrix(0.11385 0.03871 0 -1.14124 467.50 286.90)" d="M0 0L0 13.67 33 13.30 55 12.44 68 11.48 78 10.37 115 4.85 120 4.47 125 4.37 130 4.63 135 5.37 143 7.68 148 10.24 158 18.48 168 31.48 180 52.00 246 52.00 263 23.73 276 10.82 281 7.53 288 4.28 293 3.20 313 0.44 323 0.11 341 0.07 346 0.22 351 0.76 363 4.28 376 9.29 381 10.31 386 10.64 391 10.43 396 9.56 411 2.58 419 0.70 429 0.11 451 0.14 461 0.66 466 1.49 471 3.34 474 4.96 481 15.01 494 52.00 534 52.00 536 51.81 546 20.57 551 10.44 559 3.29 566 0.97 574 0.28 584 0.10 589 0.32 599 1.59 602 1.56 612 0.29 619 0.13 629 0.63 634 1.42 639 3.11 644 6.36 657 21.29L657 0L648 -0.67 -8 -0.63Z" fill="url(#sd)"/>
<path transform="matrix(0.11385 0.03871 0 -1.14124 467.50 286.90)" d="M657 0L657 21.29 664 27.18 669 28.72 677 30.13 707 33.95 719 36.76 722 36.96 732 36.69 737 36.98 767 39.60 779 41.31 782 41.42 794 41.25 825 42.45 830 42.84 840 44.10 855 43.20 885 43.59 890 43.83 900 44.65 912 43.90 917 43.82 937 44.00 950 44.90 965 44.02 1000 44.03L1000 0L991 -0.69 648 -0.67Z" fill="url(#sds65)"/>
<path transform="matrix(0.11380 0.03876 0 -1.14190 466.58 287.30)" d="M0 0L0 13.60 33 13.24 55 12.38 68 11.42 78 10.31 115 4.83 120 4.45 125 4.35 130 4.62 135 5.36 143 7.68 148 10.24 158 18.48 168 31.48 180 52.00 246 52.00 263 23.72 276 10.82 281 7.53 288 4.29 293 3.23 313 0.45 326 0.08 346 0.15 351 0.59 361 2.31 368 3.07 376 4.11 381 4.53 386 4.68 391 4.58 396 4.20 411 1.14 416 0.49 421 0.20 436 0.04 454 0.21 461 0.67 466 1.50 471 3.34 474 4.96 481 15.01 494 52.00 534 52.00 536 51.81 546 20.57 551 10.44 559 3.29 566 0.97 574 0.28 584 0.10 589 0.34 599 1.69 602 1.66 612 0.28 622 0.05 634 0.37 642 1.30 647 2.94 652 6.35 664 20.76L664 0L656 -0.67 -8 -0.63Z" fill="url(#sd)"/>
<path transform="matrix(0.11380 0.03876 0 -1.14190 466.58 287.30)" d="M664 0L664 20.76 672 26.30 677 28.46 684 30.35 707 33.42 719 36.30 722 36.50 732 36.13 737 36.40 767 38.98 779 40.73 782 40.84 794 40.60 825 41.78 830 42.18 840 43.50 855 42.52 885 42.91 890 43.15 900 44.02 912 43.21 917 43.13 937 43.32 950 44.27 965 43.33 1000 43.34L1000 0L991 -0.69 656 -0.67Z" fill="url(#sds65)"/>
<path transform="matrix(0.11375 0.03882 0 -1.14256 465.66 287.70)" d="M0 0L0 13.51 33 13.15 55 12.30 68 11.35 78 10.25 115 4.80 120 4.43 125 4.33 130 4.60 135 5.35 143 7.67 148 10.23 158 18.47 168 31.47 180 52.00 246 52.00 263 23.72 276 10.81 281 7.53 288 4.30 293 3.26 313 0.45 323 0.11 343 0.05 348 0.26 361 1.83 371 1.59 388 1.95 398 1.61 416 0.21 444 0.06 454 0.21 459 0.45 466 1.50 471 3.35 474 4.96 481 15.01 494 52.00 534 52.00 536 51.81 546 20.57 551 10.45 559 3.29 566 0.97 574 0.28 584 0.11 589 0.36 599 1.79 602 1.76 612 0.29 622 0.02 639 0.22 647 0.89 652 2.28 659 6.79 672 19.26L672 0L663 -0.67 -8 -0.63Z" fill="url(#sd)"/>
<path transform="matrix(0.11375 0.03882 0 -1.14256 465.66 287.70)" d="M672 0L672 19.26 682 27.25 687 29.19 692 30.39 707 32.65 719 35.64 722 35.83 732 35.35 737 35.60 767 38.12 779 39.92 782 40.01 794 39.71 825 40.86 830 41.27 840 42.65 842 42.62 852 41.65 857 41.58 885 41.96 890 42.22 900 43.13 912 42.27 917 42.18 937 42.37 950 43.38 965 42.38 1000 42.38L1000 0L991 -0.69 663 -0.67Z" fill="url(#sds65)"/>
<path transform="matrix(0.11370 0.03887 0 -1.14322 464.74 288.10)" d="M0 0L0 13.40 33 13.04 55 12.19 68 11.25 78 10.16 115 4.76 120 4.40 125 4.31 130 4.58 135 5.33 143 7.65 148 10.22 158 18.46 168 31.46 180 52.00 246 52.00 263 23.71 276 10.81 281 7.53 288 4.31 293 3.29 301 2.47 313 0.46 323 0.11 343 0.05 348 0.25 358 1.59 361 1.68 373 0.75 393 0.76 419 0.06 444 0.07 454 0.22 459 0.46 466 1.50 471 3.35 474 4.97 481 15.02 494 52.00 534 52.00 536 51.82 546 20.57 551 10.45 559 3.29 566 0.97 574 0.28 584 0.11 589 0.38 599 1.90 602 1.86 612 0.31 617 0.05 642 0.10 649 0.59 662 3.78 667 5.69 672 9.49 679 18.22L679 0L671 -0.67 -8 -0.63Z" fill="url(#sd)"/>
<path transform="matrix(0.11370 0.03887 0 -1.14322 464.74 288.10)" d="M679 0L679 18.22 684 23.37 692 27.99 697 29.59 709 32.06 717 34.18 719 34.68 722 34.86 729 34.34 734 34.35 767 36.95 779 38.78 782 38.87 789 38.51 794 38.48 822 39.49 830 40.03 840 41.46 842 41.43 852 40.38 857 40.30 885 40.67 890 40.93 900 41.90 912 40.97 917 40.88 937 41.07 950 42.13 965 41.07 1000 41.07L1000 0L991 -0.69 671 -0.67Z" fill="url(#sds65)"/>
<path transform="matrix(0.11365 0.03893 0 -1.14387 463.81 288.50)" d="M0 0L0 13.25 33 12.90 55 12.06 68 11.13 78 10.05 115 4.72 120 4.36 125 4.27 130 4.55 135 5.31 143 7.63 148 10.20 158 18.44 168 31.44 180 52.00 246 52.00 263 23.70 276 10.81 281 7.52 288 4.31 313 0.46 323 0.11 343 0.04 348 0.26 358 1.61 361 1.67 371 0.53 376 0.33 419 0.04 444 0.07 454 0.22 459 0.46 466 1.51 471 3.36 474 4.97 481 15.02 494 52.00 534 52.00 536 51.82 546 20.57 551 10.45 559 3.29 566 0.97 574 0.28 584 0.11 589 0.40 599 2.01 602 1.97 614 0.13 642 0.04 649 0.39 659 2.00 667 2.25 669 2.55 674 4.45 677 6.19 689 19.98L689 0L681 -0.67 -8 -0.63Z" fill="url(#sd)"/>
<path transform="matrix(0.11365 0.03893 0 -1.14387 463.81 288.50)" d="M689 0L689 19.98 694 24.45 699 27.28 719 33.33 722 33.52 732 32.84 737 33.03 767 35.39 779 37.24 782 37.32 789 36.90 794 36.85 822 37.81 830 38.36 840 39.85 842 39.81 852 38.68 857 38.58 885 38.94 890 39.22 900 40.23 912 39.24 917 39.14 937 39.33 950 40.45 965 39.33 1000 39.32L1000 0L991 -0.69 681 -0.67Z" fill="url(#sds65)"/>
<path transform="matrix(0.11360 0.03898 0 -1.14453 462.89 288.90)" d="M0 0L0 13.07 33 12.72 55 11.90 68 10.98 78 9.92 115 4.66 120 4.31 125 4.23 130 4.52 135 5.28 143 7.61 148 10.18 158 18.42 168 31.41 180 52.00 246 52.00 263 23.69 276 10.80 281 7.52 288 4.32 313 0.47 323 0.11 343 0.05 348 0.27 358 1.67 361 1.72 371 0.42 376 0.16 444 0.08 454 0.23 459 0.47 466 1.52 471 3.36 474 4.98 481 15.02 494 52.00 534 52.00 536 51.82 546 20.58 551 10.45 559 3.30 566 0.97 574 0.28 584 0.12 589 0.42 599 2.12 602 2.08 614 0.14 639 0.01 644 0.06 649 0.35 659 1.79 662 1.80 669 1.06 672 1.05 674 1.30 679 2.65 684 5.46 697 18.66L697 0L688 -0.67 -8 -0.63Z" fill="url(#sd)"/>
<path transform="matrix(0.11360 0.03898 0 -1.14453 462.89 288.90)" d="M697 0L697 18.66 704 24.92 714 29.78 719 31.40 722 31.65 732 30.94 737 31.12 767 33.36 779 35.23 782 35.30 789 34.81 794 34.73 822 35.63 830 36.18 840 37.74 842 37.69 852 36.47 857 36.36 885 36.70 890 36.99 900 38.05 912 36.99 917 36.88 937 37.08 950 38.26 965 37.06 1000 37.05L1000 0L991 -0.69 688 -0.67Z" fill="url(#sds65)"/>
<path transform="matrix(0.11355 0.03904 0 -1.14519 461.97 289.30)" d="M0 0L0 12.85 33 12.50 55 11.69 68 10.79 78 9.74 115 4.58 120 4.25 125 4.18 130 4.47 135 5.24 143 7.58 148 10.15 158 18.39 168 31.37 180 52.00 246 52.00 263 23.66 276 10.79 281 7.51 288 4.33 293 3.40 301 2.67 313 0.48 323 0.11 343 0.05 348 0.28 358 1.75 361 1.80 371 0.38 376 0.10 444 0.09 454 0.24 459 0.48 466 1.52 471 3.37 474 4.98 481 15.03 494 52.00 534 52.00 536 51.82 546 20.58 551 10.45 559 3.30 566 0.97 574 0.29 581 0.10 586 0.22 591 0.84 599 2.24 602 2.20 612 0.36 617 0.05 639 0.01 647 0.15 659 1.81 662 1.78 672 0.46 674 0.40 679 0.68 687 2.26 692 4.73 704 17.10L704 0L696 -0.67 -8 -0.63Z" fill="url(#sd)"/>
<path transform="matrix(0.11355 0.03904 0 -1.14519 461.97 289.30)" d="M704 0L704 17.10 712 24.07 719 28.43 722 28.93 724 28.97 729 28.58 734 28.55 762 30.42 769 31.12 779 32.70 782 32.75 789 32.19 794 32.08 822 32.90 830 33.46 840 35.07 842 35.01 852 33.71 857 33.58 885 33.89 890 34.19 900 35.30 912 34.18 917 34.06 937 34.25 950 35.49 965 34.23 1000 34.21L1000 0L991 -0.69 696 -0.67Z" fill="url(#sds65)"/>
<path transform="matrix(0.11350 0.03909 0 -1.14585 461.05 289.70)" d="M0 0L0 12.56 33 12.23 55 11.43 68 10.55 78 9.53 115 4.49 120 4.17 125 4.12 130 4.42 135 5.19 143 7.54 148 10.11 158 18.35 168 31.30 180 52.00 246 52.00 263 23.62 276 10.77 283 6.21 288 4.33 293 3.43 301 2.74 313 0.48 323 0.11 343 0.05 348 0.30 358 1.84 361 1.89 371 0.38 376 0.08 444 0.10 454 0.25 459 0.49 466 1.53 471 3.38 474 4.99 481 15.03 494 52.00 534 52.00 536 51.82 546 20.58 551 10.45 559 3.30 566 0.98 576 0.19 586 0.23 591 0.89 599 2.35 602 2.31 612 0.38 617 0.06 639 0.01 647 0.16 659 1.89 662 1.84 669 0.62 674 0.18 682 0.24 687 0.56 694 1.89 699 4.00 704 7.71 712 16.03L712 0L703 -0.67 -8 -0.63Z" fill="url(#sd)"/>
<path transform="matrix(0.11350 0.03909 0 -1.14585 461.05 289.70)" d="M712 0L712 16.03 719 23.41 724 25.11 734 25.48 747 26.47 764 27.56 769 28.07 779 29.66 782 29.70 789 29.05 794 28.90 822 29.64 830 30.20 840 31.86 842 31.79 852 30.40 857 30.25 885 30.53 890 30.84 900 32.00 912 30.81 917 30.68 937 30.87 950 32.17 965 30.84 1000 30.81L1000 0L991 -0.69 703 -0.67Z" fill="url(#sds65)"/>
<path transform="matrix(0.11345 0.03915 0 -1.14650 460.12 290.10)" d="M0 0L0 12.21 38 11.77 50 11.35 63 10.65 78 9.26 108 5.17 118 4.20 123 4.02 128 4.14 135 5.13 143 7.48 148 10.06 158 18.28 168 31.21 180 52.00 246 52.00 261 26.99 268 17.57 276 10.74 283 6.19 288 4.33 293 3.46 301 2.81 311 0.77 316 0.32 331 0.04 346 0.13 351 0.63 358 1.93 361 1.98 371 0.39 376 0.07 381 0.01 451 0.21 461 0.72 466 1.55 471 3.39 474 5.00 481 15.04 494 52.00 534 52.00 536 51.82 546 20.58 551 10.45 559 3.30 566 0.98 576 0.19 586 0.24 591 0.93 599 2.47 602 2.43 612 0.40 617 0.06 639 0.01 647 0.17 659 1.98 662 1.93 669 0.63 674 0.14 687 0.13 692 0.30 697 0.68 702 1.55 704 2.33 709 5.13 722 17.50L722 0L713 -0.67 -8 -0.63Z" fill="url(#sd)"/>
<path transform="matrix(0.11345 0.03915 0 -1.14650 460.12 290.10)" d="M722 0L722 17.50 727 19.83 737 21.90 747 23.04 767 24.32 779 26.20 782 26.22 789 25.49 794 25.30 822 25.94 830 26.50 840 28.21 842 28.13 852 26.64 857 26.47 885 26.73 890 27.04 897 28.09 900 28.25 912 26.99 917 26.85 937 27.04 950 28.40 965 27.00 1000 26.96L1000 0L991 -0.69 713 -0.67Z" fill="url(#sds65)"/>
<path transform="matrix(0.11340 0.03920 0 -1.14716 459.20 290.50)" d="M0 0L0 11.78 35 11.42 60 10.44 78 8.94 108 5.00 118 4.07 123 3.91 128 4.05 135 5.06 143 7.41 148 9.98 158 18.18 168 31.06 180 52.00 246 52.00 261 26.88 268 17.49 276 10.69 283 6.17 288 4.32 293 3.49 301 2.88 313 0.49 323 0.11 343 0.05 348 0.32 358 2.03 361 2.08 371 0.40 376 0.07 444 0.13 454 0.29 459 0.52 466 1.56 471 3.40 474 5.01 481 15.05 494 52.00 534 52.00 536 51.82 546 20.58 551 10.45 559 3.30 566 0.98 576 0.19 581 0.11 586 0.25 591 0.98 599 2.60 602 2.55 612 0.42 617 0.06 639 0.01 647 0.18 659 2.08 662 2.02 669 0.65 674 0.13 689 0.04 702 0.38 707 1.03 712 2.80 729 13.43L729 0L721 -0.67 -8 -0.63Z" fill="url(#sd)"/>
<path transform="matrix(0.11340 0.03920 0 -1.14716 459.20 290.50)" d="M729 0L729 13.43 737 16.89 744 18.80 752 19.66 767 20.63 779 22.50 782 22.51 789 21.69 794 21.46 822 21.99 830 22.55 840 24.31 842 24.22 852 22.63 857 22.44 885 22.66 890 22.99 897 24.08 900 24.24 912 22.91 917 22.76 932 22.79 937 22.95 947 24.23 950 24.38 965 22.89 1000 22.85L1000 0L991 -0.69 721 -0.67Z" fill="url(#sds65)"/>
<path transform="matrix(0.11335 0.03925 0 -1.14782 458.28 290.90)" d="M0 0L0 11.27 33 10.97 55 10.26 68 9.47 78 8.55 115 4.07 120 3.82 125 3.81 133 4.49 140 6.35 145 8.49 153 13.41 158 18.04 168 30.84 180 52.00 246 52.00 258 30.38 268 17.37 278 8.89 288 4.31 293 3.51 301 2.94 311 0.79 316 0.32 321 0.15 338 0.02 346 0.14 351 0.69 358 2.12 361 2.17 371 0.42 378 0.02 441 0.13 451 0.24 459 0.54 466 1.58 471 3.41 479 10.62 484 20.81 494 52.00 534 52.00 536 51.82 546 20.58 551 10.46 556 4.90 564 1.47 571 0.44 584 0.14 589 0.54 599 2.72 602 2.67 609 0.89 614 0.18 619 0.02 642 0.02 647 0.18 649 0.43 659 2.18 662 2.12 669 0.68 674 0.14 692 0.01 704 0.20 709 0.82 719 4.07 727 5.37 729 6.13 737 10.24L737 0L728 -0.67 -8 -0.63Z" fill="url(#sd)"/>
<path transform="matrix(0.11335 0.03925 0 -1.14782 458.28 290.90)" d="M737 0L737 10.24 742 12.90 749 15.20 754 15.94 769 17.20 779 18.81 782 18.80 789 17.89 794 17.62 822 18.04 827 18.30 830 18.60 837 20.15 840 20.41 842 20.31 852 18.62 857 18.41 885 18.60 890 18.94 897 20.07 900 20.24 912 18.84 917 18.67 932 18.70 937 18.86 947 20.20 950 20.35 965 18.79 1000 18.74L1000 0L991 -0.69 728 -0.67Z" fill="url(#sds70)"/>
<path transform="matrix(0.11330 0.03931 0 -1.14847 457.35 291.30)" d="M0 0L0 10.67 33 10.39 55 9.72 78 8.10 115 3.88 120 3.65 125 3.67 133 4.37 140 6.23 145 8.35 153 13.24 158 17.82 168 30.51 180 51.96 243 52.00 246 51.66 258 30.06 268 17.19 278 8.80 288 4.27 291 3.77 301 3.00 311 0.80 316 0.32 321 0.15 338 0.02 346 0.15 351 0.73 358 2.22 361 2.27 371 0.44 378 0.02 441 0.16 451 0.27 459 0.56 466 1.59 471 3.43 479 10.63 484 20.82 494 52.00 534 52.00 536 51.83 546 20.59 551 10.46 556 4.91 564 1.48 571 0.44 576 0.20 584 0.14 589 0.56 599 2.84 602 2.79 609 0.93 614 0.19 619 0.02 642 0.02 647 0.19 649 0.45 659 2.27 662 2.21 669 0.71 674 0.14 684 0.00 704 0.12 709 0.64 719 3.14 722 3.19 729 2.31 732 2.50 737 4.05 747 9.15L747 0L738 -0.67 -8 -0.63Z" fill="url(#sd)"/>
<path transform="matrix(0.11330 0.03931 0 -1.14847 457.35 291.30)" d="M747 0L747 9.15 752 11.04 757 12.18 769 13.66 779 15.34 782 15.31 789 14.33 794 14.02 822 14.34 827 14.59 830 14.90 837 16.50 840 16.77 842 16.66 852 14.87 857 14.64 885 14.79 890 15.14 897 16.32 900 16.49 912 15.02 917 14.84 932 14.86 937 15.03 947 16.42 950 16.58 960 15.31 965 14.95 1000 14.89L1000 0L991 -0.69 738 -0.67Z" fill="url(#sds70)"/>
<path transform="matrix(0.11325 0.03936 0 -1.14913 456.43 291.70)" d="M0 0L0 9.99 33 9.72 55 9.09 78 7.57 105 4.51 115 3.65 120 3.45 125 3.49 133 4.21 140 6.07 145 8.17 153 12.99 158 17.51 168 30.00 180 51.12 183 52.00 243 52.00 246 50.83 258 29.58 268 16.92 278 8.66 288 4.22 291 3.74 301 3.06 311 0.81 316 0.32 321 0.15 338 0.02 346 0.15 351 0.76 358 2.31 361 2.37 371 0.46 378 0.02 441 0.18 451 0.30 459 0.59 466 1.62 471 3.45 479 10.64 484 20.83 494 52.00 534 52.00 536 51.83 546 20.59 551 10.46 556 4.91 564 1.48 571 0.44 579 0.14 584 0.15 589 0.59 599 2.97 602 2.92 609 0.98 614 0.20 619 0.03 642 0.02 647 0.20 649 0.47 659 2.37 662 2.31 669 0.75 674 0.15 702 0.03 707 0.27 709 0.62 719 3.03 722 2.95 729 1.21 734 0.88 737 1.09 742 2.13 754 6.95L754 0L746 -0.67 -8 -0.63Z" fill="url(#sd)"/>
<path transform="matrix(0.11325 0.03936 0 -1.14913 456.43 291.70)" d="M754 0L754 6.95 762 9.08 779 12.25 782 12.23 789 11.19 794 10.84 822 11.07 827 11.32 830 11.63 837 13.29 840 13.56 842 13.44 852 11.55 857 11.31 885 11.44 890 11.79 897 13.01 900 13.20 912 11.65 917 11.46 932 11.48 940 11.89 947 13.10 950 13.26 960 11.94 965 11.56 1000 11.49L1000 0L991 -0.69 746 -0.67Z" fill="url(#sds70)"/>
<path transform="matrix(0.11320 0.03942 0 -1.14979 455.51 292.10)" d="M0 0L0 9.22 35 8.93 60 8.16 78 6.99 108 3.94 118 3.28 125 3.29 133 4.03 140 5.86 145 7.92 153 12.64 158 17.06 168 29.25 180 49.87 183 52.00 243 52.00 258 28.86 268 16.51 278 8.45 288 4.14 291 3.69 301 3.10 313 0.50 321 0.15 338 0.02 346 0.16 351 0.79 358 2.41 361 2.47 371 0.48 378 0.02 441 0.21 451 0.33 459 0.62 466 1.64 471 3.47 479 10.66 484 20.84 494 52.00 534 52.00 536 51.82 546 20.59 551 10.46 556 4.91 564 1.48 571 0.44 579 0.15 584 0.16 589 0.61 599 3.09 602 3.04 609 1.02 614 0.21 619 0.03 642 0.03 647 0.21 649 0.49 659 2.47 662 2.40 669 0.78 674 0.15 682 0.00 702 0.03 707 0.28 709 0.63 719 3.11 722 3.00 732 0.54 737 0.28 744 0.72 749 1.49 762 5.15L762 0L753 -0.68 -8 -0.63Z" fill="url(#sd)"/>
<path transform="matrix(0.11320 0.03942 0 -1.14979 455.51 292.10)" d="M762 0L762 5.15 774 8.63 779 9.59 782 9.60 789 8.54 794 8.18 822 8.34 827 8.59 830 8.91 837 10.62 840 10.90 842 10.77 852 8.79 857 8.53 885 8.63 890 9.00 897 10.26 900 10.45 912 8.83 917 8.64 932 8.65 940 9.07 947 10.33 950 10.51 960 9.12 965 8.73 1000 8.65L1000 0L991 -0.69 753 -0.68Z" fill="url(#sds75)"/>
<path transform="matrix(0.11315 0.03947 0 -1.15045 454.59 292.50)" d="M0 0L0 8.38 35 8.12 60 7.42 78 6.36 108 3.59 118 3.02 125 3.06 133 3.80 140 5.59 145 7.58 153 12.14 158 16.41 168 28.17 183 52.00 243 52.00 256 31.42 266 18.48 276 9.72 283 5.62 288 4.01 291 3.60 298 3.39 301 3.13 311 0.81 316 0.30 321 0.14 338 0.02 346 0.17 351 0.82 358 2.51 361 2.57 371 0.50 378 0.03 441 0.25 451 0.37 459 0.66 466 1.68 471 3.50 479 10.67 484 20.85 494 52.00 534 52.00 536 51.82 546 20.59 551 10.46 556 4.91 564 1.48 571 0.45 579 0.15 584 0.16 589 0.64 599 3.22 602 3.16 612 0.52 617 0.08 639 0.01 647 0.22 659 2.57 662 2.50 669 0.81 674 0.16 682 0.00 702 0.03 707 0.29 709 0.66 719 3.23 722 3.11 732 0.48 737 0.11 742 0.10 749 0.33 757 1.02 762 1.94 769 4.11L769 0L761 -0.68 -8 -0.63Z" fill="url(#sd)"/>
<path transform="matrix(0.11315 0.03947 0 -1.15045 454.59 292.50)" d="M769 0L769 4.11 779 7.23 782 7.34 794 6.03 822 6.16 827 6.41 830 6.74 837 8.51 840 8.80 842 8.66 852 6.58 857 6.30 885 6.39 890 6.77 897 8.08 900 8.28 902 8.15 912 6.59 917 6.38 932 6.39 937 6.57 940 6.83 947 8.14 950 8.32 960 6.87 965 6.46 1000 6.38L1000 0L991 -0.69 761 -0.68Z" fill="url(#sds75)"/>
<path transform="matrix(0.11310 0.03953 0 -1.15110 453.66 292.90)" d="M0 0L0 7.49 35 7.26 60 6.64 78 5.68 108 3.22 118 2.73 123 2.72 128 2.95 135 3.96 143 6.10 148 8.37 160 17.91 170 30.05 185 52.00 241 52.00 256 29.75 266 17.50 276 9.20 283 5.32 288 3.82 291 3.46 298 3.38 301 3.14 311 0.81 316 0.29 321 0.13 338 0.02 346 0.17 351 0.85 358 2.60 361 2.67 371 0.52 378 0.03 411 0.06 446 0.34 456 0.57 461 0.91 466 1.71 471 3.52 479 10.69 484 20.86 494 52.00 534 52.00 536 51.80 546 20.58 551 10.47 559 3.32 566 1.00 576 0.21 581 0.13 586 0.32 591 1.26 599 3.34 602 3.28 612 0.54 617 0.09 639 0.01 647 0.23 659 2.67 662 2.60 669 0.84 674 0.17 682 0.00 702 0.03 707 0.30 709 0.68 719 3.35 722 3.22 729 1.01 734 0.20 739 0.03 752 0.10 762 0.50 767 1.15 779 5.03L779 0L771 -0.68 -8 -0.63Z" fill="url(#sd)"/>
<path transform="matrix(0.11310 0.03953 0 -1.15110 453.66 292.90)" d="M779 0L779 5.03 782 5.27 784 5.17 794 4.30 825 4.56 830 5.07 837 6.90 840 7.20 842 7.05 852 4.88 857 4.59 885 4.66 890 5.06 897 6.41 900 6.62 902 6.48 912 4.86 917 4.64 932 4.64 937 4.84 940 5.10 947 6.46 950 6.65 952 6.49 960 5.15 965 4.72 1000 4.63L1000 0L991 -0.69 771 -0.68Z" fill="url(#sds80)"/>
<path transform="matrix(0.11305 0.03958 0 -1.15176 452.74 293.30)" d="M0 0L0 6.59 35 6.39 60 5.84 75 5.15 108 2.84 118 2.42 123 2.43 128 2.66 135 3.62 143 5.61 148 7.71 160 16.55 170 27.79 188 52.00 238 52.00 263 18.67 273 10.10 278 7.13 286 4.13 291 3.27 298 3.34 301 3.13 311 0.79 316 0.28 321 0.12 338 0.02 346 0.18 351 0.88 358 2.70 361 2.76 371 0.53 378 0.03 411 0.08 446 0.39 456 0.62 461 0.96 466 1.75 471 3.56 479 10.71 484 20.86 494 52.00 534 52.00 536 51.77 546 20.57 551 10.46 559 3.32 566 1.00 576 0.21 581 0.14 586 0.33 591 1.31 599 3.47 602 3.41 612 0.57 617 0.09 639 0.01 647 0.24 659 2.77 662 2.69 669 0.87 674 0.17 682 0.01 702 0.03 707 0.31 709 0.71 719 3.47 722 3.34 729 1.04 734 0.20 739 0.02 757 0.04 764 0.22 769 0.76 779 3.26 782 3.48 787 3.18L787 0L778 -0.68 -8 -0.63Z" fill="url(#sd)"/>
<path transform="matrix(0.11305 0.03958 0 -1.15176 452.74 293.30)" d="M787 0L787 3.18 794 2.86 825 3.30 830 3.83 837 5.71 840 6.02 842 5.86 852 3.61 857 3.31 885 3.37 890 3.78 897 5.18 900 5.39 902 5.25 912 3.56 917 3.34 932 3.34 937 3.54 940 3.82 947 5.22 950 5.41 952 5.25 960 3.86 965 3.42 1000 3.32L1000 0L991 -0.69 778 -0.68Z" fill="url(#sds85)"/>
<path transform="matrix(0.11300 0.03964 0 -1.15242 451.82 293.70)" d="M0 0L0 5.70 35 5.53 60 5.05 75 4.45 108 2.46 118 2.11 128 2.35 133 2.84 138 3.70 145 5.89 150 8.11 163 17.08 173 27.98 190 51.29 193 52.00 233 52.00 236 51.15 253 27.75 263 16.78 273 9.08 281 5.33 286 3.73 291 3.02 298 3.28 301 3.09 311 0.77 316 0.26 321 0.11 338 0.02 346 0.18 351 0.91 358 2.79 361 2.86 371 0.55 378 0.03 409 0.07 446 0.45 456 0.68 461 1.01 466 1.80 471 3.60 479 10.73 484 20.86 494 51.98 534 52.00 536 51.71 546 20.55 551 10.45 559 3.32 566 1.00 576 0.22 581 0.14 586 0.35 591 1.36 599 3.59 602 3.53 612 0.59 619 0.04 639 0.01 647 0.25 659 2.87 662 2.79 669 0.90 674 0.18 682 0.01 704 0.12 709 0.73 719 3.59 722 3.45 732 0.52 737 0.07 764 0.10 769 0.52 779 2.46 782 2.48 789 1.63 794 1.58L794 0L786 -0.68 -8 -0.63Z" fill="url(#sd)"/>
<path transform="matrix(0.11300 0.03964 0 -1.15242 451.82 293.70)" d="M794 0L794 1.58 805 2.04 822 2.29 827 2.56 840 5.18 842 5.02 852 2.69 857 2.37 885 2.42 890 2.84 897 4.29 900 4.51 902 4.37 912 2.62 917 2.38 932 2.38 937 2.59 940 2.87 947 4.33 950 4.53 952 4.36 960 2.92 965 2.46 1000 2.36L1000 0L991 -0.69 786 -0.68Z" fill="url(#sds90)"/>
<path transform="matrix(0.11295 0.03969 0 -1.15308 450.90 294.10)" d="M0 0L0 4.85 35 4.70 60 4.30 75 3.79 105 2.22 118 1.81 128 2.02 133 2.46 138 3.21 145 5.12 150 7.06 163 14.88 173 24.38 198 52.00 228 52.00 263 14.63 273 7.91 281 4.65 286 3.27 291 2.74 298 3.19 301 3.04 311 0.74 316 0.24 321 0.10 338 0.01 346 0.19 351 0.94 358 2.88 361 2.96 371 0.57 378 0.03 424 0.24 451 0.60 461 1.08 466 1.85 471 3.64 479 10.74 484 20.84 494 51.87 496 52.00 534 52.00 536 51.59 546 20.51 551 10.44 559 3.32 566 1.01 576 0.22 581 0.15 586 0.36 591 1.41 599 3.71 602 3.64 612 0.61 614 0.26 619 0.04 639 0.02 647 0.25 659 2.96 662 2.88 669 0.93 674 0.18 682 0.01 704 0.12 709 0.76 719 3.71 722 3.57 732 0.53 737 0.07 764 0.08 769 0.49 779 2.29 782 2.21 792 0.69 797 0.72 802 1.01L802 0L793 -0.68 -8 -0.63Z" fill="url(#sd)"/>
<path transform="matrix(0.11295 0.03969 0 -1.15308 450.90 294.10)" d="M802 0L802 1.01 810 1.36 822 1.61 827 1.89 840 4.60 842 4.43 852 2.02 857 1.69 885 1.74 890 2.17 897 3.67 900 3.89 902 3.74 912 1.94 917 1.70 932 1.69 937 1.91 940 2.20 947 3.70 950 3.90 952 3.74 960 2.24 965 1.77 1000 1.67L1000 0L991 -0.69 793 -0.68Z" fill="url(#sds90)"/>
<path transform="matrix(0.11290 0.03975 0 -1.15373 449.97 294.50)" d="M0 0L0 4.07 35 3.94 60 3.60 118 1.52 125 1.60 133 2.08 138 2.71 143 3.69 153 7.00 163 12.61 173 20.65 198 44.27 206 48.62 211 49.98 213 50.15 216 49.97 221 48.58 228 44.20 256 18.26 266 10.74 276 5.65 286 2.79 291 2.45 298 3.10 301 2.99 311 0.71 316 0.21 323 0.06 341 0.03 346 0.20 351 0.97 358 2.97 361 3.05 371 0.59 378 0.03 421 0.24 451 0.69 461 1.15 466 1.91 471 3.68 479 10.73 484 20.78 494 51.66 496 52.00 534 52.00 536 51.36 546 20.43 551 10.40 559 3.31 566 1.01 576 0.23 581 0.15 586 0.37 591 1.45 599 3.83 602 3.76 612 0.63 617 0.10 639 0.02 647 0.26 659 3.05 662 2.97 669 0.96 674 0.19 682 0.01 702 0.04 707 0.34 709 0.78 719 3.82 722 3.68 732 0.55 737 0.07 764 0.08 769 0.49 779 2.31 782 2.21 789 0.72 794 0.25 799 0.26 812 0.79L812 0L803 -0.68 -8 -0.63Z" fill="url(#sd)"/>
<path transform="matrix(0.11290 0.03975 0 -1.15373 449.97 294.50)" d="M812 0L812 0.79 822 1.08 827 1.40 840 4.21 842 4.04 852 1.55 857 1.20 885 1.25 890 1.69 897 3.24 900 3.47 902 3.32 912 1.45 917 1.20 932 1.20 937 1.42 940 1.72 947 3.27 950 3.48 952 3.31 960 1.76 965 1.28 1000 1.17L1000 0L991 -0.69 803 -0.68Z" fill="url(#sds95)"/>
<path transform="matrix(0.11285 0.03980 0 -1.15439 449.05 294.90)" d="M0 0L0 3.36 35 3.26 60 2.98 118 1.26 125 1.33 133 1.72 143 3.06 153 5.82 163 10.48 173 17.16 198 36.79 206 40.41 211 41.54 213 41.68 216 41.53 221 40.37 228 36.73 263 10.30 273 5.57 283 2.74 288 2.14 291 2.17 298 3.01 301 2.94 311 0.68 316 0.19 323 0.05 341 0.03 346 0.20 351 1.00 358 3.06 361 3.14 371 0.61 378 0.04 416 0.21 454 0.84 461 1.23 466 1.98 471 3.72 479 10.69 484 20.64 494 51.26 496 52.00 534 52.00 536 50.95 546 20.27 551 10.32 559 3.29 566 1.01 576 0.23 581 0.16 586 0.39 591 1.50 599 3.94 602 3.87 612 0.65 617 0.11 639 0.02 647 0.27 659 3.14 662 3.06 669 0.99 674 0.20 682 0.01 702 0.04 707 0.35 709 0.80 719 3.94 722 3.79 732 0.57 737 0.08 764 0.08 769 0.50 779 2.37 782 2.26 789 0.69 794 0.15 805 0.12 820 0.55L820 0L811 -0.68 -8 -0.63Z" fill="url(#sd)"/>
<path transform="matrix(0.11285 0.03980 0 -1.15439 449.05 294.90)" d="M820 0L820 0.55 825 0.77 830 1.43 837 3.60 840 3.95 842 3.77 852 1.21 857 0.86 885 0.91 890 1.36 897 2.95 900 3.19 902 3.03 912 1.11 917 0.86 932 0.85 937 1.08 940 1.39 947 2.98 950 3.20 952 3.02 960 1.43 965 0.93 1000 0.82L1000 0L991 -0.69 811 -0.68Z" fill="url(#sds95)"/>
<path transform="matrix(0.11280 0.03985 0 -1.15505 448.13 295.30)" d="M0 0L0 2.75 60 2.43 118 1.03 125 1.09 133 1.42 143 2.53 153 4.81 163 8.66 173 14.19 198 30.42 206 33.41 211 34.35 213 34.46 216 34.34 221 33.39 228 30.37 263 8.52 273 4.61 283 2.28 288 1.84 291 1.94 298 2.95 301 2.90 311 0.66 316 0.17 323 0.04 341 0.02 346 0.21 351 1.03 358 3.15 361 3.22 371 0.63 378 0.04 416 0.24 454 0.95 461 1.32 466 2.04 471 3.74 479 10.59 484 20.38 494 50.53 496 52.00 534 52.00 536 50.21 546 19.98 551 10.18 559 3.25 566 1.00 576 0.24 581 0.16 586 0.40 591 1.54 599 4.06 602 3.98 612 0.67 617 0.12 639 0.02 647 0.28 659 3.23 662 3.14 669 1.02 674 0.20 682 0.01 702 0.04 707 0.36 709 0.82 719 4.05 722 3.89 732 0.58 737 0.08 764 0.08 769 0.52 779 2.43 782 2.32 789 0.70 794 0.14 815 0.11 822 0.29 827 0.68L827 0L819 -0.68 -8 -0.63Z" fill="url(#sd)"/>
<path transform="matrix(0.11280 0.03985 0 -1.15505 448.13 295.30)" d="M827 0L827 0.68 840 3.78 842 3.60 852 0.98 857 0.62 885 0.66 890 1.13 897 2.77 900 3.01 902 2.85 912 0.87 917 0.61 932 0.60 937 0.84 940 1.16 947 2.79 950 3.02 952 2.83 960 1.20 965 0.69 1000 0.57L1000 0L991 -0.69 819 -0.68Z" fill="url(#sds95)"/>
<path transform="matrix(0.11275 0.03991 0 -1.15570 447.20 295.70)" d="M0 0L0 2.22 60 1.96 118 0.84 125 0.89 133 1.17 143 2.11 153 4.01 163 7.23 173 11.86 198 25.42 206 27.92 211 28.70 213 28.80 216 28.70 221 27.90 228 25.38 263 7.12 273 3.85 283 1.91 288 1.61 291 1.76 298 2.91 301 2.89 313 0.32 326 0.03 341 0.03 346 0.21 351 1.05 358 3.23 361 3.31 371 0.64 373 0.28 378 0.04 414 0.24 454 1.07 461 1.42 466 2.11 471 3.74 479 10.39 484 19.90 494 49.23 496 52.00 534 52.00 536 48.90 546 19.47 551 9.92 559 3.18 564 1.45 569 0.68 579 0.19 584 0.22 586 0.42 591 1.59 599 4.17 602 4.09 612 0.69 617 0.12 639 0.02 647 0.29 659 3.32 662 3.22 669 1.04 674 0.21 682 0.01 702 0.04 707 0.37 709 0.85 719 4.15 722 3.99 732 0.60 734 0.24 739 0.02 759 0.01 767 0.23 779 2.50 782 2.38 789 0.72 794 0.14 802 0.01 822 0.11 827 0.45 830 0.90 837 3.25 840 3.65 842 3.48 852 0.81 857 0.44 885 0.49 890 0.98 897 2.65 900 2.90 902 2.73 912 0.71 917 0.44 932 0.43 937 0.67 940 1.00 947 2.68 950 2.91 952 2.72 960 1.04 965 0.51 1000 0.40L1000 0L991 -0.69 -8 -0.63Z" fill="url(#sd)"/>
<path transform="matrix(0.11270 0.03996 0 -1.15636 446.28 296.10)" d="M0 0L0 1.77 60 1.57 118 0.68 133 0.98 143 1.79 153 3.42 163 6.18 173 10.14 198 21.74 206 23.88 211 24.55 213 24.63 221 23.86 228 21.71 263 6.09 273 3.29 283 1.64 288 1.44 291 1.64 298 2.90 301 2.89 313 0.31 321 0.05 343 0.08 348 0.53 358 3.31 361 3.39 371 0.66 373 0.29 378 0.04 411 0.23 454 1.20 461 1.52 466 2.16 471 3.69 479 10.00 484 19.06 496 52.00 534 52.00 546 18.59 551 9.48 559 3.05 564 1.40 569 0.66 579 0.19 584 0.23 586 0.43 591 1.63 599 4.27 602 4.20 612 0.71 617 0.13 639 0.02 647 0.30 659 3.40 662 3.30 669 1.07 674 0.21 682 0.01 702 0.04 707 0.38 709 0.87 719 4.25 722 4.09 732 0.61 734 0.25 739 0.02 759 0.01 767 0.24 779 2.56 782 2.43 789 0.74 794 0.14 802 0.00 822 0.05 827 0.37 830 0.80 837 3.15 840 3.55 842 3.38 852 0.69 857 0.32 885 0.38 890 0.87 897 2.59 900 2.84 902 2.67 912 0.59 917 0.32 932 0.31 937 0.56 940 0.89 947 2.61 950 2.85 952 2.65 960 0.94 965 0.40 1000 0.28L1000 0L991 -0.69 -8 -0.63Z" fill="url(#sd)"/>
<path transform="matrix(0.11265 0.04002 0 -1.15702 445.36 296.50)" d="M0 0L0 1.41 60 1.25 118 0.55 133 0.84 143 1.56 153 3.01 163 5.44 173 8.93 198 19.16 206 21.04 211 21.63 213 21.70 221 21.03 228 19.13 263 5.36 273 2.90 283 1.46 288 1.32 298 2.90 301 2.91 313 0.31 321 0.04 343 0.08 348 0.54 358 3.38 361 3.47 371 0.67 373 0.29 378 0.04 411 0.26 456 1.41 464 1.84 469 2.73 471 3.57 479 9.34 484 17.66 496 49.19 499 52.00 531 52.00 534 48.91 546 17.16 551 8.77 559 2.83 566 0.90 576 0.24 581 0.18 586 0.44 591 1.67 599 4.37 602 4.30 612 0.73 617 0.13 639 0.03 647 0.31 659 3.47 662 3.38 669 1.09 674 0.22 682 0.01 702 0.04 707 0.39 709 0.89 719 4.35 722 4.18 732 0.63 734 0.25 739 0.02 759 0.01 767 0.24 779 2.61 782 2.49 789 0.75 794 0.14 802 0.00 822 0.04 827 0.35 830 0.78 837 3.14 840 3.53 842 3.34 852 0.58 857 0.22 885 0.29 890 0.80 897 2.56 900 2.82 902 2.64 912 0.52 917 0.23 932 0.23 937 0.48 940 0.82 947 2.58 950 2.82 952 2.62 960 0.87 965 0.31 1000 0.19L1000 0L991 -0.69 -8 -0.63Z" fill="url(#sd)"/>
<path transform="matrix(0.11260 0.04007 0 -1.15768 444.44 296.90)" d="M0 0L0 1.11 58 1.00 118 0.45 133 0.74 143 1.40 153 2.72 163 4.94 173 8.11 198 17.41 206 19.12 211 19.65 213 19.72 221 19.10 228 17.38 263 4.87 273 2.64 283 1.33 288 1.24 298 2.92 301 2.93 313 0.31 321 0.04 343 0.08 348 0.55 358 3.45 361 3.54 371 0.69 373 0.30 378 0.05 411 0.30 441 1.29 459 1.62 464 1.89 469 2.64 474 4.44 481 11.48 496 43.11 501 50.45 504 52.00 526 52.00 534 42.84 549 10.90 556 3.67 561 1.71 566 0.81 576 0.23 581 0.18 586 0.46 591 1.71 599 4.47 602 4.39 612 0.75 617 0.14 639 0.03 647 0.31 659 3.55 662 3.45 669 1.12 674 0.22 682 0.01 702 0.05 707 0.39 709 0.90 719 4.44 722 4.27 732 0.64 734 0.26 739 0.02 759 0.01 767 0.25 779 2.67 782 2.54 789 0.77 794 0.15 802 0.00 822 0.04 827 0.35 830 0.79 837 3.18 840 3.57 842 3.37 852 0.51 857 0.13 885 0.24 890 0.75 897 2.55 900 2.81 902 2.63 912 0.46 917 0.18 932 0.17 937 0.42 940 0.78 947 2.57 950 2.81 952 2.61 960 0.82 965 0.26 1000 0.14L1000 0L991 -0.69 -8 -0.63Z" fill="url(#sd)"/>
<path transform="matrix(0.11255 0.04013 0 -1.15833 443.51 297.30)" d="M0 0L0 0.87 58 0.79 118 0.38 133 0.66 143 1.29 153 2.53 163 4.60 173 7.56 198 16.24 206 17.84 211 18.34 213 18.40 221 17.83 228 16.22 263 4.55 273 2.46 283 1.24 288 1.19 298 2.94 301 2.96 313 0.30 321 0.04 343 0.08 348 0.56 358 3.52 361 3.61 371 0.70 373 0.31 378 0.05 409 0.29 441 1.48 461 1.82 466 2.14 471 3.04 474 3.89 481 9.54 496 35.17 501 41.12 506 44.32 509 45.18 514 45.93 519 45.66 521 45.12 529 40.96 534 34.90 549 8.91 556 3.03 561 1.43 566 0.70 579 0.19 584 0.25 586 0.47 591 1.75 599 4.56 602 4.48 612 0.77 617 0.15 639 0.03 647 0.32 659 3.62 662 3.52 669 1.14 674 0.23 682 0.01 702 0.05 707 0.40 709 0.92 719 4.52 722 4.35 732 0.65 734 0.26 739 0.03 759 0.01 767 0.25 779 2.72 782 2.59 789 0.79 794 0.15 802 0.00 822 0.04 827 0.36 830 0.80 837 3.24 840 3.63 842 3.43 852 0.48 857 0.08 885 0.20 890 0.72 897 2.55 900 2.82 902 2.64 912 0.43 917 0.14 932 0.13 937 0.39 947 2.57 950 2.82 952 2.62 960 0.79 965 0.22 1000 0.09L1000 0L991 -0.69 -8 -0.63Z" fill="url(#sd)"/>
<path transform="matrix(0.11250 0.04018 0 -1.15899 442.59 297.70)" d="M0 0L0 0.68 55 0.62 118 0.31 133 0.61 143 1.21 153 2.40 163 4.38 173 7.21 198 15.49 206 17.01 211 17.49 213 17.55 221 17.00 228 15.47 263 4.34 273 2.35 283 1.19 288 1.16 298 2.97 301 3.00 313 0.31 321 0.04 343 0.08 348 0.57 358 3.58 361 3.67 371 0.72 373 0.32 378 0.05 406 0.27 419 0.67 441 1.70 466 2.11 471 2.70 474 3.29 479 5.54 484 9.83 499 28.83 506 33.12 509 33.75 514 34.31 519 34.10 521 33.70 529 30.59 534 26.08 549 6.70 556 2.31 561 1.12 566 0.57 579 0.18 584 0.26 586 0.48 591 1.79 599 4.65 602 4.56 612 0.79 617 0.16 639 0.04 647 0.33 659 3.68 662 3.58 669 1.16 674 0.23 682 0.01 702 0.05 707 0.41 709 0.94 719 4.60 722 4.43 732 0.66 734 0.27 739 0.03 759 0.01 767 0.26 779 2.77 782 2.63 789 0.80 794 0.15 802 0.00 822 0.04 827 0.36 830 0.82 837 3.29 840 3.70 842 3.48 852 0.48 857 0.07 885 0.17 890 0.70 897 2.56 900 2.84 902 2.65 912 0.41 917 0.11 932 0.10 937 0.37 940 0.73 947 2.59 950 2.84 952 2.63 960 0.78 965 0.19 1000 0.07L1000 0L991 -0.69 -8 -0.63Z" fill="url(#sd)"/>
<path transform="matrix(0.11245 0.04024 0 -1.15965 441.67 298.10)" d="M0 0L0 0.53 115 0.26 130 0.48 143 1.16 153 2.32 163 4.24 173 6.98 198 15.00 206 16.47 211 16.94 213 16.99 221 16.46 228 14.98 263 4.20 273 2.27 283 1.16 288 1.14 298 3.00 301 3.03 313 0.31 321 0.03 343 0.08 348 0.58 358 3.63 361 3.73 371 0.73 373 0.32 378 0.06 396 0.12 409 0.38 446 2.08 469 2.21 474 2.76 476 3.33 481 5.40 496 18.13 501 21.10 506 22.69 509 23.12 514 23.48 521 23.07 529 20.94 534 17.86 549 4.64 556 1.65 561 0.83 566 0.45 579 0.18 584 0.27 586 0.50 591 1.83 599 4.73 602 4.64 612 0.81 617 0.16 639 0.04 647 0.34 659 3.74 662 3.63 669 1.18 674 0.24 682 0.01 702 0.05 707 0.41 709 0.95 719 4.67 722 4.49 732 0.67 734 0.27 739 0.03 759 0.01 767 0.26 779 2.81 782 2.67 789 0.81 794 0.15 802 0.00 822 0.04 827 0.37 830 0.83 837 3.34 840 3.75 842 3.54 852 0.49 857 0.06 885 0.14 890 0.69 897 2.58 900 2.86 902 2.67 912 0.39 917 0.09 932 0.08 937 0.35 940 0.72 947 2.61 950 2.87 952 2.65 960 0.77 965 0.17 1000 0.05L1000 0L991 -0.69 -8 -0.63Z" fill="url(#sd)"/>
<path transform="matrix(0.11240 0.04029 0 -1.16031 440.75 298.50)" d="M0 0L0 0.42 115 0.22 130 0.45 143 1.13 153 2.26 163 4.15 173 6.83 198 14.69 206 16.13 211 16.59 213 16.64 221 16.12 228 14.67 258 5.36 273 2.22 281 1.32 286 1.05 288 1.13 291 1.45 298 3.03 301 3.07 311 0.65 318 0.06 338 0.01 346 0.24 351 1.21 358 3.69 361 3.78 371 0.74 373 0.33 378 0.06 396 0.14 409 0.43 439 2.09 446 2.37 469 2.18 474 2.40 479 3.16 484 4.84 496 11.66 501 13.49 506 14.47 514 14.95 521 14.68 529 13.33 534 11.38 549 3.03 556 1.13 566 0.36 581 0.20 586 0.51 591 1.86 599 4.80 602 4.72 612 0.83 617 0.17 639 0.04 647 0.34 659 3.79 662 3.69 669 1.20 674 0.24 682 0.01 702 0.05 707 0.42 709 0.97 719 4.73 722 4.56 732 0.68 734 0.27 739 0.03 759 0.01 767 0.27 779 2.85 782 2.71 789 0.82 794 0.16 802 0.00 822 0.04 827 0.37 830 0.84 837 3.39 840 3.80 842 3.58 852 0.49 857 0.06 885 0.12 890 0.68 897 2.60 900 2.88 902 2.69 912 0.38 917 0.08 932 0.07 937 0.34 940 0.72 947 2.63 950 2.89 952 2.67 960 0.76 965 0.16 1000 0.03L1000 0L991 -0.69 -8 -0.63Z" fill="url(#sd)"/>
<path transform="matrix(0.11235 0.04035 0 -1.16096 439.82 298.90)" d="M0 0L0 0.32 115 0.18 130 0.43 143 1.10 153 2.23 163 4.09 173 6.74 198 14.49 206 15.92 211 16.36 213 16.42 221 15.91 228 14.47 258 5.29 273 2.20 281 1.30 286 1.04 288 1.13 291 1.45 298 3.06 301 3.10 311 0.66 318 0.06 338 0.01 346 0.25 351 1.22 358 3.73 361 3.82 371 0.75 373 0.33 378 0.06 396 0.16 409 0.49 419 1.00 439 2.38 446 2.69 456 2.69 471 2.21 476 2.31 481 2.87 484 3.38 496 7.21 501 8.26 506 8.81 514 9.07 521 8.90 529 8.09 549 1.92 556 0.78 566 0.31 581 0.21 586 0.53 591 1.90 599 4.87 602 4.78 612 0.85 614 0.39 619 0.10 639 0.05 647 0.35 659 3.84 662 3.73 669 1.21 674 0.25 682 0.01 699 0.02 704 0.16 709 0.98 719 4.79 722 4.61 732 0.69 734 0.28 739 0.03 759 0.01 767 0.27 779 2.88 782 2.74 789 0.83 794 0.16 802 0.00 822 0.04 827 0.38 830 0.85 837 3.43 840 3.85 842 3.63 852 0.50 857 0.07 885 0.12 890 0.67 897 2.62 900 2.90 902 2.71 912 0.38 917 0.07 932 0.06 937 0.33 940 0.71 947 2.65 950 2.92 952 2.70 960 0.76 965 0.15 1000 0.02L1000 0L991 -0.69 -8 -0.63Z" fill="url(#sd)"/>
<path transform="matrix(0.11230 0.04040 0 -1.16162 438.90 299.30)" d="M0 0L0 0.25 115 0.16 130 0.41 143 1.08 153 2.20 163 4.05 173 6.68 198 14.37 206 15.78 211 16.23 213 16.28 221 15.77 228 14.35 258 5.25 273 2.18 281 1.29 286 1.03 288 1.13 291 1.45 298 3.09 301 3.13 311 0.66 318 0.06 338 0.01 346 0.25 351 1.23 358 3.77 361 3.86 373 0.34 378 0.07 391 0.11 411 0.67 439 2.70 446 3.05 456 3.03 471 2.29 479 2.19 484 2.52 496 4.45 501 4.99 506 5.27 514 5.39 524 5.17 531 4.51 551 0.95 559 0.46 569 0.26 581 0.23 586 0.55 591 1.93 599 4.93 602 4.84 612 0.87 614 0.41 619 0.11 639 0.05 647 0.36 659 3.88 662 3.77 669 1.23 674 0.25 682 0.01 699 0.02 704 0.16 709 0.99 719 4.84 722 4.66 732 0.70 734 0.28 739 0.03 759 0.01 767 0.27 779 2.91 782 2.77 789 0.84 794 0.16 802 0.00 822 0.04 827 0.38 830 0.86 837 3.47 840 3.89 842 3.67 852 0.50 857 0.07 885 0.11 890 0.68 897 2.63 900 2.93 902 2.73 912 0.37 917 0.06 932 0.05 937 0.33 940 0.71 947 2.67 950 2.94 952 2.72 960 0.76 965 0.15 1000 0.02L1000 0L991 -0.69 -8 -0.63Z" fill="url(#sd)"/>
<path transform="matrix(0.11225 0.04045 0 -1.16228 437.98 299.70)" d="M0 0L0 0.19 115 0.14 130 0.40 143 1.07 153 2.19 163 4.03 173 6.64 198 14.30 206 15.70 211 16.14 213 16.20 221 15.69 228 14.28 258 5.22 273 2.17 281 1.29 286 1.03 288 1.13 291 1.46 298 3.11 301 3.15 311 0.67 318 0.06 338 0.01 346 0.25 351 1.24 358 3.80 361 3.90 371 0.77 373 0.35 378 0.07 396 0.20 409 0.63 419 1.28 439 3.06 446 3.45 451 3.52 459 3.31 474 2.31 481 2.05 486 2.17 496 2.84 504 3.15 524 3.08 531 2.70 546 1.06 554 0.56 564 0.32 581 0.25 586 0.57 589 1.09 599 4.99 602 4.90 612 0.88 614 0.42 619 0.12 639 0.06 647 0.36 659 3.92 662 3.81 669 1.24 674 0.25 682 0.01 699 0.02 704 0.16 709 1.00 719 4.88 722 4.70 732 0.70 734 0.28 739 0.03 759 0.01 767 0.27 779 2.94 782 2.80 789 0.85 794 0.16 802 0.00 822 0.04 827 0.39 830 0.87 837 3.50 840 3.92 842 3.70 852 0.51 857 0.07 885 0.11 890 0.68 897 2.65 900 2.95 902 2.75 912 0.37 917 0.05 932 0.05 937 0.33 940 0.72 947 2.69 950 2.96 952 2.74 960 0.77 965 0.14 1000 0.01L1000 0L991 -0.69 -8 -0.63Z" fill="url(#sd)"/>
<path transform="matrix(0.11220 0.04051 0 -1.16293 437.05 300.10)" d="M0 0L0 0.15 115 0.13 130 0.39 143 1.07 153 2.18 163 4.01 173 6.63 198 14.26 206 15.66 211 16.10 213 16.16 221 15.65 228 14.24 258 5.21 273 2.16 281 1.28 286 1.03 288 1.13 291 1.46 298 3.13 301 3.17 311 0.67 318 0.06 338 0.01 346 0.25 351 1.25 358 3.83 361 3.93 371 0.78 373 0.35 378 0.08 396 0.23 409 0.71 419 1.45 439 3.45 446 3.90 451 3.97 459 3.73 484 1.91 506 2.03 524 1.91 531 1.69 554 0.47 581 0.27 586 0.60 589 1.11 599 5.04 602 4.95 612 0.90 614 0.43 619 0.13 639 0.06 644 0.16 647 0.37 659 3.94 662 3.83 669 1.25 674 0.26 682 0.02 699 0.02 704 0.16 709 1.00 719 4.92 722 4.73 732 0.71 734 0.29 739 0.03 759 0.01 767 0.28 779 2.96 782 2.82 789 0.85 794 0.16 802 0.00 822 0.05 827 0.39 830 0.87 837 3.52 840 3.95 842 3.72 852 0.51 857 0.07 885 0.12 890 0.69 897 2.67 900 2.97 902 2.77 912 0.37 917 0.05 932 0.05 937 0.33 940 0.72 947 2.70 950 2.98 952 2.75 960 0.77 965 0.14 1000 0.01L1000 0L991 -0.69 -8 -0.63Z" fill="url(#sd)"/>
<path transform="matrix(0.11215 0.04056 0 -1.16359 436.13 300.50)" d="M0 0L0 0.12 115 0.12 130 0.38 143 1.06 153 2.17 163 4.01 173 6.62 198 14.24 206 15.64 211 16.08 213 16.14 221 15.63 228 14.23 258 5.20 273 2.16 281 1.28 286 1.03 288 1.13 291 1.47 298 3.14 301 3.19 311 0.68 318 0.06 338 0.01 346 0.26 351 1.26 358 3.85 361 3.95 371 0.78 376 0.16 383 0.08 398 0.33 409 0.79 419 1.63 439 3.89 446 4.38 451 4.47 461 4.01 479 2.27 489 1.68 529 1.20 554 0.45 581 0.30 586 0.62 589 1.14 599 5.08 602 4.99 612 0.92 617 0.23 622 0.11 642 0.09 647 0.38 659 3.97 662 3.86 669 1.26 674 0.26 682 0.02 699 0.02 704 0.16 709 1.01 719 4.94 722 4.75 732 0.71 734 0.29 739 0.03 759 0.01 767 0.28 779 2.97 782 2.83 789 0.86 794 0.16 802 0.00 822 0.05 827 0.39 830 0.88 837 3.54 840 3.97 842 3.74 852 0.52 857 0.07 885 0.12 890 0.69 897 2.69 900 2.98 902 2.78 912 0.37 917 0.05 932 0.04 937 0.33 940 0.72 947 2.72 950 2.99 952 2.76 960 0.77 965 0.14 1000 0.01L1000 0L991 -0.69 -8 -0.63Z" fill="url(#sd)"/>
<path transform="matrix(0.11210 0.04062 0 -1.16425 435.21 300.90)" d="M0 0L0 0.09 115 0.11 130 0.38 143 1.06 153 2.17 163 4.01 173 6.62 198 14.25 206 15.65 211 16.09 213 16.14 221 15.64 228 14.23 258 5.20 273 2.16 281 1.28 286 1.03 288 1.13 291 1.47 298 3.15 301 3.20 311 0.68 318 0.06 338 0.01 346 0.26 351 1.27 358 3.87 361 3.96 373 0.36 381 0.08 398 0.37 406 0.72 414 1.31 441 4.60 446 4.92 451 5.01 461 4.49 481 2.22 494 1.41 551 0.48 581 0.32 586 0.65 589 1.17 599 5.12 602 5.03 612 0.94 617 0.24 622 0.12 642 0.10 647 0.38 659 3.98 662 3.87 669 1.26 674 0.26 682 0.02 699 0.02 704 0.16 709 1.01 719 4.96 722 4.77 732 0.72 734 0.29 739 0.03 759 0.01 767 0.28 779 2.98 782 2.84 789 0.86 794 0.16 802 0.00 822 0.05 827 0.39 830 0.88 837 3.55 840 3.98 842 3.75 852 0.52 857 0.07 885 0.12 890 0.69 897 2.69 900 2.99 902 2.79 912 0.37 917 0.05 932 0.04 937 0.33 940 0.72 947 2.72 950 3.00 952 2.77 960 0.77 965 0.14 1000 0.00L1000 0L991 -0.69 -8 -0.63Z" fill="url(#sd)"/>
<path transform="matrix(0.11205 0.04067 0 -1.16491 434.29 301.30)" d="M0 0L0 0.07 113 0.09 130 0.38 143 1.06 153 2.18 163 4.01 173 6.63 198 14.27 206 15.67 211 16.11 213 16.17 221 15.66 228 14.25 258 5.21 273 2.16 281 1.28 286 1.03 288 1.13 291 1.47 298 3.16 301 3.20 311 0.68 318 0.06 338 0.01 346 0.26 351 1.27 358 3.87 361 3.97 373 0.37 381 0.08 398 0.41 406 0.81 414 1.46 441 5.14 446 5.51 451 5.61 461 5.03 489 1.72 499 1.17 514 0.87 561 0.42 584 0.44 589 1.20 599 5.15 602 5.05 612 0.95 617 0.26 639 0.08 644 0.18 647 0.39 659 3.99 662 3.88 669 1.27 674 0.26 682 0.02 702 0.05 707 0.44 709 1.01 719 4.97 722 4.78 732 0.72 734 0.29 739 0.03 759 0.01 767 0.28 779 2.99 782 2.84 789 0.86 794 0.16 802 0.00 822 0.05 827 0.39 830 0.88 837 3.56 840 3.99 842 3.76 852 0.52 857 0.07 885 0.12 890 0.69 897 2.70 900 3.00 902 2.79 912 0.37 917 0.05 932 0.04 937 0.32 940 0.72 947 2.73 950 3.00 952 2.77 960 0.77 965 0.14 1000 0.00L1000 0L991 -0.69 -8 -0.63Z" fill="url(#sd)"/>
<path transform="matrix(0.11200 0.04073 0 -1.16556 433.36 301.70)" d="M0 0L0 0.05 113 0.08 130 0.37 143 1.06 153 2.18 163 4.02 173 6.65 198 14.31 206 15.71 211 16.16 213 16.21 221 15.71 228 14.29 258 5.22 273 2.17 281 1.29 286 1.04 288 1.14 291 1.47 298 3.16 301 3.20 311 0.68 318 0.07 338 0.01 346 0.26 351 1.27 358 3.88 361 3.97 373 0.37 381 0.09 398 0.46 406 0.90 414 1.63 441 5.74 446 6.14 451 6.26 461 5.61 489 1.84 499 1.18 514 0.81 576 0.38 584 0.47 589 1.23 599 5.18 602 5.08 612 0.97 617 0.27 622 0.15 642 0.11 647 0.40 659 4.00 662 3.89 669 1.27 674 0.27 682 0.02 699 0.02 704 0.17 709 1.02 719 4.97 722 4.78 732 0.72 734 0.29 739 0.03 759 0.01 767 0.28 779 2.99 782 2.84 789 0.86 794 0.16 802 0.00 822 0.05 827 0.39 830 0.88 837 3.56 840 3.99 842 3.76 852 0.52 857 0.07 885 0.12 890 0.69 897 2.70 900 3.00 902 2.79 912 0.37 917 0.05 932 0.04 937 0.32 940 0.72 947 2.72 950 3.00 952 2.77 960 0.77 965 0.14 1000 0.00L1000 0L991 -0.69 -8 -0.63Z" fill="url(#sd)"/>
<path transform="matrix(0.11195 0.04078 0 -1.16622 432.44 302.10)" d="M0 0L0 0.04 113 0.08 130 0.37 143 1.06 153 2.19 163 4.04 173 6.67 198 14.37 206 15.78 211 16.22 213 16.28 221 15.77 228 14.35 258 5.25 273 2.18 281 1.29 286 1.04 288 1.14 291 1.47 298 3.16 301 3.20 311 0.68 318 0.07 338 0.02 346 0.26 351 1.27 358 3.87 361 3.97 373 0.37 381 0.10 398 0.51 406 1.01 414 1.81 441 6.39 446 6.84 451 6.96 461 6.24 489 2.01 499 1.24 514 0.82 576 0.42 584 0.51 589 1.26 599 5.19 602 5.09 612 0.99 617 0.29 622 0.16 642 0.12 647 0.40 659 4.00 662 3.88 669 1.27 674 0.27 682 0.02 699 0.02 704 0.17 709 1.01 719 4.96 722 4.77 732 0.72 734 0.29 739 0.03 759 0.01 767 0.28 779 2.98 782 2.84 789 0.86 794 0.16 802 0.00 822 0.05 827 0.39 830 0.88 837 3.55 840 3.98 842 3.75 852 0.52 857 0.07 885 0.12 890 0.69 897 2.69 900 2.99 902 2.79 912 0.37 917 0.05 932 0.04 937 0.32 940 0.72 947 2.72 950 2.99 952 2.77 960 0.77 965 0.14 1000 0.00L1000 0L991 -0.69 -8 -0.63Z" fill="url(#sd)"/>
<path transform="matrix(0.11190 0.04084 0 -1.16688 431.52 302.50)" d="M0 0L0 0.03 113 0.07 130 0.37 143 1.07 153 2.20 163 4.06 173 6.71 198 14.45 206 15.87 211 16.32 213 16.38 221 15.87 228 14.43 258 5.28 273 2.19 281 1.30 286 1.04 288 1.14 291 1.48 298 3.15 301 3.19 311 0.68 318 0.07 338 0.02 346 0.26 351 1.27 358 3.86 361 3.96 373 0.38 381 0.11 398 0.57 406 1.12 414 2.01 441 7.09 446 7.59 451 7.73 456 7.49 461 6.92 481 3.28 491 1.93 501 1.21 514 0.86 576 0.46 584 0.54 589 1.29 599 5.20 602 5.10 612 1.01 617 0.31 622 0.18 642 0.13 647 0.41 659 3.99 662 3.87 669 1.27 674 0.27 682 0.02 699 0.02 704 0.17 709 1.01 719 4.94 722 4.76 732 0.71 734 0.29 739 0.03 759 0.01 767 0.28 779 2.97 782 2.83 789 0.86 794 0.16 802 0.00 822 0.05 827 0.39 830 0.88 837 3.54 840 3.97 842 3.74 852 0.52 857 0.07 885 0.12 890 0.69 897 2.69 900 2.98 902 2.78 912 0.37 917 0.05 932 0.04 937 0.32 940 0.71 947 2.71 950 2.98 952 2.76 960 0.77 965 0.14 1000 0.00L1000 0L991 -0.69 -8 -0.63Z" fill="url(#sd)"/>
<path transform="matrix(0.11185 0.04089 0 -1.16754 430.60 302.90)" d="M0 0L0 0.02 113 0.07 130 0.37 143 1.08 153 2.22 163 4.10 173 6.77 198 14.57 206 16.01 211 16.46 213 16.51 221 16.00 228 14.55 258 5.32 273 2.21 281 1.31 286 1.05 288 1.14 291 1.48 298 3.14 301 3.18 311 0.67 318 0.07 338 0.02 346 0.26 351 1.26 358 3.84 361 3.94 373 0.38 378 0.12 383 0.15 398 0.63 406 1.23 414 2.23 441 7.85 446 8.40 451 8.55 456 8.29 461 7.66 481 3.63 491 2.12 501 1.31 514 0.93 576 0.51 584 0.58 589 1.32 599 5.21 602 5.11 612 1.03 617 0.33 622 0.20 642 0.14 647 0.41 659 3.97 662 3.86 669 1.27 674 0.27 682 0.03 699 0.02 704 0.17 709 1.01 719 4.92 722 4.73 732 0.71 734 0.29 739 0.03 759 0.01 767 0.28 779 2.96 782 2.82 789 0.85 794 0.16 802 0.00 822 0.05 827 0.39 830 0.87 837 3.52 840 3.95 842 3.72 852 0.51 857 0.07 885 0.12 890 0.68 897 2.67 900 2.97 902 2.77 912 0.37 917 0.05 932 0.04 937 0.32 940 0.71 947 2.70 950 2.97 952 2.74 960 0.76 965 0.14 1000 0.00L1000 0L991 -0.69 -8 -0.63Z" fill="url(#sd)"/>
<path transform="matrix(0.11180 0.04095 0 -1.16819 429.67 303.30)" d="M0 0L0 0.02 113 0.07 130 0.38 143 1.09 153 2.24 163 4.14 173 6.84 198 14.73 206 16.18 211 16.64 213 16.70 221 16.18 228 14.72 258 5.38 273 2.23 281 1.33 286 1.06 288 1.15 291 1.48 298 3.12 301 3.16 311 0.67 318 0.07 338 0.02 346 0.26 351 1.25 358 3.82 361 3.92 373 0.39 378 0.13 383 0.16 398 0.69 406 1.36 414 2.46 441 8.66 446 9.27 451 9.44 456 9.15 461 8.45 481 4.00 491 2.33 501 1.43 514 1.01 584 0.63 589 1.35 599 5.21 602 5.11 612 1.05 617 0.35 622 0.21 642 0.15 647 0.42 659 3.95 662 3.84 669 1.26 674 0.27 682 0.03 699 0.02 704 0.17 709 1.00 719 4.88 722 4.70 732 0.71 734 0.28 739 0.03 759 0.01 767 0.27 779 2.94 782 2.80 789 0.85 794 0.16 802 0.00 822 0.04 827 0.39 830 0.87 837 3.50 840 3.92 842 3.70 852 0.51 857 0.07 885 0.11 890 0.68 897 2.65 900 2.95 902 2.75 912 0.36 917 0.05 932 0.04 937 0.32 940 0.70 947 2.68 950 2.95 952 2.73 960 0.76 965 0.13 1000 0.00L1000 0L991 -0.69 -8 -0.63Z" fill="url(#sd)"/>
<path transform="matrix(0.11175 0.04100 0 -1.16885 428.75 303.70)" d="M0 0L0 0.01 113 0.07 130 0.38 143 1.10 153 2.28 163 4.20 173 6.95 198 14.95 206 16.43 211 16.89 213 16.95 221 16.42 228 14.94 258 5.46 273 2.27 281 1.34 286 1.07 288 1.16 291 1.48 298 3.10 301 3.14 311 0.67 318 0.07 338 0.02 346 0.26 351 1.25 358 3.79 361 3.89 373 0.39 378 0.14 383 0.18 391 0.36 398 0.76 406 1.50 414 2.70 441 9.53 446 10.20 451 10.38 456 10.06 461 9.30 481 4.39 491 2.56 501 1.56 514 1.10 584 0.67 589 1.39 599 5.20 602 5.10 612 1.07 617 0.37 622 0.23 642 0.16 647 0.43 659 3.92 662 3.81 669 1.25 674 0.27 682 0.03 699 0.02 704 0.16 709 0.99 719 4.84 722 4.66 732 0.70 734 0.28 739 0.03 759 0.01 767 0.27 779 2.91 782 2.77 789 0.84 794 0.16 802 0.00 822 0.04 827 0.38 830 0.86 837 3.47 840 3.89 842 3.67 852 0.50 857 0.07 885 0.11 890 0.67 897 2.63 900 2.92 902 2.72 912 0.36 917 0.05 932 0.04 937 0.32 940 0.70 947 2.66 950 2.92 952 2.70 960 0.75 965 0.13 1000 0.00L1000 0L991 -0.69 -8 -0.63Z" fill="url(#sd)"/>
<path transform="matrix(0.11170 0.04105 0 -1.16951 427.83 304.10)" d="M0 0L0 0.01 113 0.07 130 0.39 143 1.12 153 2.32 163 4.29 173 7.09 198 15.25 206 16.76 211 17.23 213 17.29 221 16.75 228 15.24 258 5.57 273 2.31 281 1.37 286 1.09 288 1.17 291 1.48 298 3.08 301 3.11 311 0.66 318 0.07 338 0.02 346 0.26 351 1.23 358 3.75 361 3.85 373 0.39 378 0.15 383 0.19 391 0.40 398 0.84 406 1.64 414 2.97 441 10.45 446 11.19 451 11.39 456 11.04 461 10.20 481 4.82 491 2.80 501 1.71 514 1.20 584 0.72 589 1.43 599 5.19 602 5.09 612 1.09 617 0.39 622 0.26 642 0.17 647 0.43 659 3.89 662 3.78 669 1.25 674 0.27 682 0.03 699 0.02 704 0.16 709 0.98 719 4.79 722 4.61 732 0.69 734 0.28 739 0.03 759 0.01 767 0.27 779 2.88 782 2.74 789 0.83 794 0.16 802 0.00 822 0.04 827 0.38 830 0.85 837 3.43 840 3.85 842 3.63 852 0.50 857 0.07 885 0.11 890 0.67 897 2.60 900 2.89 902 2.70 912 0.36 917 0.05 932 0.04 937 0.31 940 0.69 947 2.63 950 2.89 952 2.67 960 0.74 965 0.13 1000 0.00L1000 0L991 -0.69 -8 -0.63Z" fill="url(#sd)"/>
<path transform="matrix(0.11165 0.04111 0 -1.17016 426.90 304.50)" d="M0 0L0 0.01 113 0.07 130 0.40 143 1.15 153 2.38 163 4.40 173 7.27 198 15.65 206 17.20 211 17.68 213 17.74 221 17.19 228 15.64 258 5.72 273 2.37 281 1.41 286 1.11 288 1.18 291 1.49 298 3.05 301 3.08 311 0.66 318 0.07 338 0.02 346 0.26 351 1.22 358 3.71 361 3.81 373 0.40 378 0.16 383 0.21 391 0.44 398 0.91 406 1.80 414 3.25 441 11.44 446 12.24 451 12.46 456 12.08 461 11.16 481 5.27 491 3.06 501 1.87 514 1.31 584 0.77 589 1.46 599 5.18 602 5.07 612 1.11 617 0.42 622 0.28 642 0.18 647 0.44 659 3.85 662 3.74 669 1.24 674 0.27 682 0.04 699 0.03 704 0.16 709 0.97 719 4.74 722 4.56 732 0.68 734 0.28 739 0.03 759 0.01 767 0.27 779 2.85 782 2.71 789 0.82 794 0.16 802 0.00 822 0.04 827 0.37 830 0.84 837 3.39 840 3.80 842 3.58 852 0.49 857 0.06 885 0.11 890 0.66 897 2.57 900 2.86 902 2.66 912 0.35 917 0.04 932 0.04 937 0.31 940 0.68 947 2.60 950 2.86 952 2.64 960 0.73 965 0.13 1000 0.00L1000 0L991 -0.69 -8 -0.63Z" fill="url(#sd)"/>
<path transform="matrix(0.11160 0.04116 0 -1.17082 425.98 304.90)" d="M0 0L0 0.01 113 0.07 130 0.41 143 1.19 153 2.46 163 4.55 173 7.52 198 16.18 206 17.78 211 18.28 213 18.34 221 17.77 228 16.17 258 5.91 273 2.45 281 1.45 286 1.14 288 1.20 291 1.49 298 3.03 301 3.05 311 0.66 318 0.07 338 0.02 346 0.25 351 1.21 358 3.66 361 3.76 373 0.40 378 0.18 383 0.23 391 0.48 398 1.00 406 1.96 414 3.54 441 12.48 446 13.36 451 13.60 456 13.18 461 12.18 481 5.75 491 3.34 501 2.04 514 1.42 584 0.83 589 1.51 599 5.15 602 5.05 612 1.13 617 0.44 622 0.30 642 0.19 647 0.45 659 3.81 662 3.70 669 1.22 674 0.28 682 0.04 699 0.03 704 0.16 709 0.96 719 4.67 722 4.50 732 0.68 734 0.27 739 0.03 759 0.01 767 0.26 779 2.81 782 2.67 789 0.81 794 0.15 802 0.00 822 0.04 827 0.37 830 0.83 837 3.34 840 3.75 842 3.54 852 0.49 857 0.06 885 0.11 890 0.65 897 2.54 900 2.82 902 2.63 912 0.35 917 0.04 932 0.04 937 0.30 940 0.67 947 2.56 950 2.82 952 2.61 960 0.72 965 0.13 1000 0.00L1000 0L991 -0.69 -8 -0.63Z" fill="url(#sd)"/>
<path transform="matrix(0.11155 0.04122 0 -1.17148 425.06 305.30)" d="M0 0L0 0.01 113 0.07 130 0.43 143 1.24 153 2.57 163 4.75 173 7.84 198 16.88 206 18.54 211 19.07 213 19.13 221 18.53 228 16.86 258 6.17 273 2.56 281 1.52 286 1.18 288 1.23 291 1.51 298 3.00 301 3.02 311 0.65 318 0.07 338 0.02 346 0.25 351 1.19 358 3.61 361 3.71 373 0.40 378 0.19 386 0.32 393 0.67 398 1.08 406 2.13 414 3.85 441 13.58 446 14.53 451 14.80 456 14.34 461 13.25 481 6.25 491 3.63 501 2.21 514 1.55 584 0.89 589 1.55 599 5.13 602 5.02 612 1.15 617 0.47 622 0.33 642 0.21 647 0.45 659 3.76 662 3.65 669 1.21 674 0.28 682 0.04 704 0.16 709 0.95 719 4.60 722 4.43 732 0.67 734 0.27 739 0.03 759 0.01 767 0.26 779 2.77 782 2.63 789 0.80 794 0.15 802 0.00 822 0.04 827 0.36 830 0.82 837 3.29 840 3.70 842 3.48 852 0.48 857 0.06 885 0.11 890 0.64 897 2.50 900 2.78 902 2.59 912 0.34 917 0.04 932 0.04 937 0.30 940 0.66 947 2.52 950 2.78 952 2.57 960 0.71 965 0.13 1000 0.00L1000 0L991 -0.69 -8 -0.63Z" fill="url(#sd)"/>
<path transform="matrix(0.11150 0.04127 0 -1.17214 424.14 305.70)" d="M0 0L0 0.00 113 0.08 130 0.45 143 1.31 153 2.71 163 5.00 173 8.26 198 17.78 206 19.54 211 20.09 213 20.15 221 19.53 228 17.76 258 6.50 273 2.69 281 1.60 286 1.23 288 1.27 291 1.53 298 2.97 301 2.99 311 0.65 318 0.07 338 0.02 346 0.25 351 1.17 358 3.55 361 3.65 371 0.78 376 0.24 388 0.44 398 1.18 406 2.32 414 4.18 441 14.73 446 15.76 451 16.05 456 15.56 461 14.37 481 6.78 491 3.94 501 2.40 514 1.68 584 0.95 589 1.59 599 5.10 602 4.99 612 1.17 617 0.50 622 0.35 642 0.22 647 0.46 659 3.70 662 3.59 669 1.20 674 0.28 682 0.04 704 0.16 709 0.93 719 4.53 722 4.35 732 0.65 734 0.26 739 0.03 759 0.01 767 0.25 779 2.72 782 2.59 789 0.79 794 0.15 802 0.00 822 0.04 827 0.36 830 0.80 837 3.24 840 3.63 842 3.42 852 0.47 857 0.06 885 0.11 890 0.63 897 2.46 900 2.73 902 2.54 912 0.34 917 0.04 932 0.04 937 0.30 940 0.65 947 2.48 950 2.73 952 2.52 960 0.70 965 0.12 1000 0.00L1000 0L991 -0.69 -8 -0.63Z" fill="url(#sd)"/>
<path transform="matrix(0.11145 0.04133 0 -1.17279 423.21 306.10)" d="M0 0L0 0.00 113 0.08 130 0.48 143 1.40 153 2.88 163 5.32 173 8.79 198 18.93 206 20.80 211 21.38 213 21.46 221 20.79 228 18.91 258 6.92 273 2.87 281 1.70 286 1.30 288 1.32 291 1.56 298 2.95 301 2.96 311 0.64 318 0.08 338 0.02 346 0.25 351 1.16 358 3.49 361 3.58 371 0.78 376 0.25 381 0.24 388 0.47 398 1.27 406 2.51 414 4.52 441 15.94 446 17.05 451 17.37 456 16.83 461 15.55 481 7.34 491 4.27 501 2.60 514 1.81 584 1.02 589 1.64 599 5.07 602 4.95 612 1.20 617 0.53 622 0.38 642 0.23 647 0.47 659 3.64 662 3.54 669 1.18 674 0.28 682 0.05 704 0.16 709 0.91 719 4.44 722 4.27 732 0.64 734 0.26 739 0.03 759 0.01 767 0.25 779 2.67 782 2.54 789 0.77 794 0.15 802 0.00 822 0.04 827 0.35 830 0.79 837 3.18 840 3.56 842 3.36 852 0.46 857 0.06 885 0.10 890 0.62 897 2.41 900 2.68 902 2.50 912 0.33 917 0.04 932 0.04 937 0.29 940 0.64 947 2.43 950 2.68 952 2.48 960 0.69 965 0.12 1000 0.00L1000 0L991 -0.70 -8 -0.63Z" fill="url(#sd)"/>
<path transform="matrix(0.11140 0.04138 0 -1.17345 422.29 306.50)" d="M0 0L0 0.00 113 0.09 130 0.52 143 1.50 153 3.10 163 5.73 173 9.46 198 20.37 206 22.37 211 23.00 213 23.08 221 22.36 228 20.35 256 8.41 271 3.64 278 2.18 286 1.38 288 1.38 291 1.60 298 2.92 301 2.93 311 0.64 316 0.15 338 0.03 346 0.24 351 1.14 358 3.43 361 3.52 371 0.77 376 0.26 381 0.25 388 0.51 398 1.37 406 2.70 414 4.88 441 17.19 446 18.40 449 18.68 451 18.74 456 18.16 461 16.77 481 7.92 491 4.61 501 2.81 514 1.96 584 1.09 589 1.69 599 5.03 602 4.92 612 1.22 617 0.56 624 0.38 642 0.25 647 0.47 649 0.84 659 3.58 662 3.47 669 1.17 674 0.28 682 0.05 704 0.16 709 0.90 719 4.35 722 4.19 732 0.63 734 0.25 739 0.03 759 0.01 767 0.24 779 2.61 782 2.49 789 0.75 794 0.14 802 0.00 822 0.04 827 0.34 830 0.77 837 3.11 840 3.49 842 3.29 852 0.45 857 0.06 885 0.10 890 0.61 897 2.36 900 2.62 902 2.45 912 0.32 917 0.04 932 0.03 937 0.28 940 0.63 947 2.38 950 2.62 952 2.43 960 0.67 965 0.12 1000 0.00L1000 0L991 -0.70 -8 -0.63Z" fill="url(#sd)"/>
<path transform="matrix(0.11135 0.04144 0 -1.17411 421.37 306.90)" d="M0 0L0 0.00 113 0.10 130 0.56 143 1.63 153 3.36 163 6.22 173 10.27 198 22.11 206 24.29 211 24.97 213 25.06 221 24.27 228 22.09 256 9.13 271 3.95 278 2.37 286 1.48 288 1.46 291 1.65 298 2.90 301 2.90 311 0.64 316 0.16 338 0.03 346 0.24 351 1.11 358 3.36 361 3.45 371 0.77 376 0.27 381 0.27 388 0.55 398 1.48 406 2.91 414 5.25 441 18.49 446 19.79 449 20.10 451 20.15 456 19.54 461 18.05 481 8.52 491 4.96 501 3.02 514 2.11 584 1.16 589 1.74 599 4.99 602 4.88 612 1.25 617 0.60 624 0.41 642 0.27 647 0.48 649 0.84 659 3.51 662 3.41 669 1.15 674 0.28 682 0.05 704 0.15 709 0.88 719 4.26 722 4.10 732 0.62 734 0.25 739 0.03 759 0.01 767 0.24 779 2.56 782 2.44 789 0.74 794 0.14 822 0.04 827 0.34 830 0.76 837 3.04 840 3.42 842 3.22 852 0.44 857 0.06 885 0.10 890 0.59 897 2.31 900 2.57 902 2.39 912 0.32 917 0.04 932 0.03 937 0.28 940 0.61 947 2.33 950 2.57 952 2.37 960 0.66 965 0.12 1000 0.00L1000 0L991 -0.70 -8 -0.63Z" fill="url(#sd)"/>
<path transform="matrix(0.11130 0.04149 0 -1.17477 420.45 307.30)" d="M0 0L0 0.00 113 0.10 130 0.61 138 1.19 143 1.78 153 3.68 163 6.79 173 11.22 198 24.16 206 26.54 211 27.29 213 27.38 221 26.53 228 24.13 256 9.97 271 4.31 283 1.82 288 1.55 291 1.72 298 2.89 301 2.87 311 0.64 316 0.16 338 0.03 346 0.24 351 1.09 358 3.28 361 3.37 371 0.76 376 0.28 381 0.29 388 0.59 398 1.59 406 3.12 414 5.63 441 19.84 446 21.23 449 21.56 451 21.62 456 20.96 461 19.36 481 9.15 491 5.32 501 3.25 514 2.27 584 1.24 589 1.79 599 4.95 602 4.83 609 2.01 614 0.85 619 0.53 627 0.41 642 0.28 647 0.49 649 0.84 659 3.44 662 3.34 669 1.13 674 0.28 682 0.06 704 0.15 709 0.86 719 4.16 722 4.00 732 0.60 734 0.24 739 0.03 759 0.01 767 0.23 779 2.50 782 2.38 789 0.72 794 0.14 822 0.04 827 0.33 830 0.74 837 2.97 840 3.34 842 3.14 852 0.43 857 0.06 885 0.10 890 0.58 897 2.26 900 2.50 902 2.34 912 0.31 917 0.04 932 0.03 937 0.27 940 0.60 947 2.28 950 2.51 952 2.32 960 0.64 965 0.11 1000 0.00L1000 0L991 -0.70 -8 -0.63Z" fill="url(#sd)"/>
<path transform="matrix(0.11125 0.04155 0 -1.17542 419.52 307.70)" d="M0 0L0 0.00 113 0.11 123 0.33 130 0.67 138 1.30 143 1.95 153 4.03 163 7.45 173 12.30 198 26.49 206 29.10 211 29.91 213 30.02 216 29.91 221 29.08 228 26.46 256 10.93 271 4.73 278 2.83 286 1.74 288 1.65 291 1.79 298 2.87 301 2.84 311 0.64 316 0.17 338 0.03 346 0.24 351 1.07 358 3.20 361 3.29 371 0.75 376 0.29 381 0.31 388 0.63 398 1.70 406 3.34 414 6.02 441 21.22 446 22.71 449 23.06 451 23.13 456 22.42 461 20.71 481 9.79 491 5.70 501 3.48 514 2.44 584 1.32 589 1.85 599 4.91 602 4.79 609 2.02 614 0.89 619 0.57 629 0.41 642 0.30 647 0.50 649 0.84 659 3.37 662 3.27 669 1.11 674 0.28 682 0.06 704 0.15 709 0.84 719 4.05 722 3.90 732 0.59 734 0.24 739 0.03 759 0.01 767 0.23 779 2.43 782 2.32 789 0.70 794 0.13 822 0.04 827 0.32 830 0.72 837 2.90 840 3.25 842 3.06 852 0.42 857 0.05 885 0.10 890 0.56 897 2.20 900 2.44 902 2.28 912 0.30 917 0.04 932 0.03 937 0.26 940 0.58 947 2.22 950 2.44 952 2.26 960 0.63 965 0.11 1000 0.00L1000 0L991 -0.70 -8 -0.63Z" fill="url(#sd)"/>
<path transform="matrix(0.11120 0.04160 0 -1.17608 418.60 308.10)" d="M0 0L0 0.00 113 0.12 123 0.36 130 0.74 138 1.43 143 2.14 153 4.41 163 8.16 173 13.48 198 29.01 206 31.87 211 32.76 213 32.88 216 32.76 221 31.85 228 28.98 256 11.97 271 5.18 278 3.10 286 1.88 291 1.87 298 2.86 301 2.82 311 0.64 316 0.17 338 0.03 346 0.23 351 1.04 358 3.12 361 3.21 371 0.74 376 0.30 381 0.33 388 0.68 398 1.81 406 3.56 414 6.43 441 22.64 446 24.23 449 24.60 451 24.67 456 23.92 461 22.09 481 10.45 491 6.09 501 3.72 506 3.11 514 2.61 584 1.40 589 1.91 599 4.86 602 4.74 609 2.04 614 0.92 619 0.61 632 0.40 642 0.32 647 0.51 649 0.84 659 3.29 662 3.19 669 1.09 674 0.28 682 0.06 704 0.15 709 0.82 719 3.95 722 3.80 732 0.57 734 0.23 739 0.02 759 0.01 767 0.22 779 2.37 782 2.26 789 0.68 794 0.13 822 0.04 827 0.31 830 0.70 837 2.82 840 3.16 842 2.98 852 0.41 857 0.05 885 0.09 890 0.55 897 2.14 900 2.38 902 2.22 912 0.29 917 0.04 932 0.03 937 0.26 940 0.57 947 2.16 950 2.38 952 2.20 960 0.61 965 0.11 1000 0.00L1000 0L991 -0.70 -8 -0.63Z" fill="url(#sd)"/>
<path transform="matrix(0.11115 0.04165 0 -1.17674 417.68 308.50)" d="M0 0L0 0.00 113 0.14 123 0.39 130 0.80 138 1.55 143 2.33 153 4.81 163 8.89 173 14.69 198 31.62 206 34.74 211 35.71 213 35.83 216 35.71 221 34.72 228 31.59 256 13.05 271 5.65 278 3.38 286 2.04 291 1.95 298 2.85 301 2.79 311 0.64 316 0.18 336 0.03 346 0.23 351 1.02 358 3.04 361 3.12 371 0.74 376 0.31 381 0.35 388 0.72 393 1.19 398 1.93 406 3.79 414 6.84 441 24.08 446 25.77 449 26.17 451 26.24 456 25.44 461 23.50 481 11.12 491 6.49 501 3.97 506 3.32 514 2.79 584 1.48 589 1.97 599 4.82 602 4.70 609 2.05 614 0.96 619 0.65 634 0.40 642 0.34 647 0.52 649 0.84 659 3.21 662 3.11 669 1.07 674 0.28 682 0.07 704 0.15 709 0.80 719 3.83 722 3.69 732 0.56 739 0.02 759 0.01 767 0.21 779 2.30 782 2.19 789 0.66 794 0.13 822 0.04 827 0.30 830 0.68 837 2.74 840 3.07 842 2.90 852 0.40 857 0.05 885 0.09 890 0.53 897 2.08 900 2.31 902 2.15 912 0.28 917 0.04 932 0.03 937 0.25 940 0.55 947 2.10 950 2.31 952 2.13 960 0.59 965 0.11 1000 0.00L1000 0L991 -0.70 -8 -0.63Z" fill="url(#sd)"/>
<path transform="matrix(0.11110 0.04171 0 -1.17739 416.75 308.90)" d="M0 0L0 0.00 113 0.15 123 0.42 130 0.87 138 1.68 143 2.52 153 5.20 163 9.61 173 15.88 198 34.18 206 37.55 211 38.60 213 38.73 216 38.60 221 37.53 228 34.14 256 14.11 271 6.10 278 3.66 286 2.19 291 2.03 298 2.83 301 2.76 311 0.64 316 0.19 336 0.03 346 0.23 351 0.99 358 2.96 361 3.04 371 0.73 376 0.32 381 0.38 388 0.77 393 1.26 398 2.05 406 4.02 414 7.25 441 25.54 446 27.33 449 27.75 451 27.84 456 26.99 461 24.93 481 11.81 491 6.89 501 4.23 506 3.53 514 2.98 584 1.57 589 2.03 599 4.77 602 4.65 609 2.07 614 1.00 619 0.69 637 0.39 647 0.53 649 0.83 659 3.13 662 3.03 669 1.05 674 0.28 682 0.07 704 0.14 709 0.77 719 3.72 722 3.58 732 0.54 739 0.02 759 0.01 767 0.21 779 2.23 782 2.12 789 0.64 794 0.12 822 0.03 827 0.29 830 0.66 837 2.66 840 2.98 842 2.81 852 0.39 857 0.05 885 0.09 890 0.52 897 2.02 900 2.24 902 2.09 912 0.28 917 0.04 932 0.03 937 0.24 940 0.54 947 2.03 950 2.24 952 2.07 960 0.57 965 0.10 1000 0.00L1000 0L991 -0.70 -8 -0.63Z" fill="url(#sd)"/>
<path transform="matrix(0.11105 0.04176 0 -1.17805 415.83 309.30)" d="M0 0L0 0.00 90 0.01 113 0.16 123 0.45 130 0.93 138 1.80 143 2.69 153 5.56 163 10.28 173 16.98 198 36.55 206 40.15 211 41.28 213 41.42 216 41.27 221 40.13 228 36.51 256 15.09 271 6.53 278 3.91 286 2.32 291 2.10 298 2.81 301 2.73 311 0.64 316 0.19 336 0.04 346 0.22 351 0.96 358 2.87 361 2.95 371 0.72 376 0.34 381 0.40 388 0.81 393 1.33 398 2.17 406 4.26 414 7.67 441 27.01 446 28.91 449 29.36 451 29.44 456 28.55 461 26.38 481 12.50 491 7.31 501 4.49 506 3.76 514 3.17 584 1.67 589 2.09 599 4.72 602 4.60 609 2.09 614 1.04 619 0.73 637 0.42 647 0.54 649 0.83 659 3.05 662 2.95 669 1.02 674 0.28 682 0.08 704 0.14 709 0.75 719 3.60 722 3.46 732 0.52 739 0.02 759 0.01 767 0.20 779 2.16 782 2.06 789 0.62 794 0.12 822 0.03 827 0.28 830 0.64 837 2.57 840 2.88 842 2.72 852 0.37 857 0.05 885 0.08 890 0.50 897 1.95 900 2.17 902 2.02 912 0.27 917 0.03 932 0.03 937 0.23 940 0.52 947 1.97 950 2.17 952 2.00 960 0.56 965 0.10 1000 0.00L1000 0L991 -0.70 -8 -0.63Z" fill="url(#sd)"/>
<path transform="matrix(0.11100 0.04182 0 -1.17871 414.91 309.70)" d="M0 0L0 0.00 90 0.01 113 0.17 123 0.48 130 0.98 138 1.90 143 2.84 153 5.88 163 10.86 173 17.94 198 38.62 206 42.42 211 43.62 213 43.77 216 43.61 221 42.40 228 38.58 256 15.94 271 6.90 278 4.13 286 2.44 291 2.16 298 2.78 301 2.69 311 0.64 316 0.20 336 0.04 346 0.22 351 0.94 358 2.78 361 2.86 371 0.71 376 0.35 381 0.42 388 0.86 393 1.41 398 2.29 406 4.49 414 8.10 441 28.49 446 30.49 449 30.96 451 31.05 456 30.11 461 27.82 481 13.20 491 7.73 501 4.76 506 3.98 514 3.36 584 1.76 589 2.16 599 4.68 602 4.55 612 1.47 617 0.88 639 0.42 647 0.55 649 0.83 659 2.97 662 2.87 672 0.54 677 0.16 682 0.08 702 0.06 707 0.33 719 3.48 722 3.35 732 0.51 739 0.02 759 0.01 767 0.20 779 2.09 782 1.99 789 0.60 794 0.11 822 0.03 827 0.27 830 0.62 837 2.48 840 2.79 842 2.63 852 0.36 857 0.05 885 0.08 890 0.48 897 1.89 900 2.09 902 1.95 912 0.26 917 0.03 932 0.03 937 0.23 940 0.50 947 1.90 950 2.10 952 1.94 960 0.54 965 0.10 1000 0.00L1000 0L991 -0.70 -8 -0.63Z" fill="url(#sd)"/>
<path transform="matrix(0.11095 0.04187 0 -1.17937 413.99 310.10)" d="M0 0L0 0.00 90 0.01 113 0.17 123 0.50 130 1.02 138 1.98 143 2.97 153 6.13 163 11.33 173 18.72 198 40.31 206 44.28 211 45.53 213 45.68 216 45.52 221 44.26 228 40.27 256 16.64 271 7.20 278 4.31 286 2.54 291 2.21 298 2.75 301 2.64 311 0.64 316 0.20 336 0.04 346 0.22 351 0.91 358 2.69 361 2.77 371 0.70 373 0.45 378 0.37 388 0.90 393 1.48 398 2.41 406 4.73 414 8.52 441 29.96 446 32.07 449 32.56 451 32.66 456 31.67 461 29.27 481 13.90 491 8.15 501 5.03 506 4.21 514 3.56 584 1.86 589 2.23 599 4.63 602 4.50 612 1.50 617 0.93 639 0.44 647 0.56 649 0.83 659 2.88 662 2.79 672 0.53 677 0.16 682 0.09 702 0.06 707 0.32 719 3.36 722 3.23 732 0.49 739 0.02 759 0.01 767 0.19 779 2.01 782 1.92 789 0.58 794 0.11 822 0.03 827 0.26 830 0.60 837 2.40 840 2.69 842 2.53 852 0.35 857 0.05 885 0.08 890 0.47 897 1.82 900 2.02 902 1.88 912 0.25 917 0.03 932 0.03 937 0.22 940 0.48 947 1.84 950 2.02 960 0.52 965 0.09 1000 0.00L1000 0L991 -0.70 -8 -0.63Z" fill="url(#sd)"/>
<path transform="matrix(0.11090 0.04193 0 -1.18002 413.06 310.50)" d="M0 0L0 0.00 90 0.01 113 0.18 123 0.51 130 1.06 138 2.04 143 3.06 153 6.33 163 11.69 173 19.32 198 41.59 206 45.69 211 46.98 213 47.14 216 46.97 221 45.67 228 41.55 256 17.17 271 7.43 278 4.45 286 2.61 291 2.24 298 2.70 301 2.59 313 0.35 326 0.06 341 0.06 346 0.21 351 0.88 358 2.60 361 2.67 371 0.70 373 0.45 378 0.39 388 0.95 393 1.56 398 2.53 406 4.96 414 8.93 441 31.42 446 33.63 449 34.15 451 34.26 456 33.22 461 30.70 481 14.60 491 8.57 501 5.30 506 4.45 514 3.77 584 1.96 589 2.30 599 4.59 602 4.46 612 1.54 617 0.98 639 0.47 647 0.57 649 0.83 659 2.79 662 2.70 672 0.53 677 0.16 682 0.09 702 0.07 707 0.31 719 3.24 722 3.11 732 0.47 739 0.02 759 0.01 767 0.18 779 1.94 782 1.85 789 0.56 794 0.11 822 0.03 827 0.25 830 0.57 837 2.31 840 2.59 842 2.44 852 0.34 857 0.04 885 0.08 890 0.45 897 1.75 900 1.95 912 0.24 917 0.03 932 0.03 937 0.21 940 0.47 947 1.77 950 1.95 960 0.50 965 0.09 1000 0.00L1000 0L991 -0.70 -8 -0.63Z" fill="url(#sd)"/>
<path transform="matrix(0.11085 0.04198 0 -1.18068 412.14 310.90)" d="M0 0L0 0.00 90 0.01 113 0.18 123 0.52 130 1.08 138 2.09 143 3.13 153 6.46 163 11.94 173 19.73 198 42.48 206 46.67 211 47.98 213 48.14 216 47.97 221 46.64 228 42.44 256 17.53 271 7.58 278 4.54 286 2.66 291 2.25 298 2.65 301 2.53 313 0.35 326 0.06 341 0.06 346 0.21 351 0.85 358 2.51 361 2.58 371 0.69 373 0.46 378 0.41 388 1.00 393 1.63 398 2.65 406 5.19 414 9.35 441 32.86 446 35.17 449 35.72 451 35.83 456 34.75 461 32.11 481 15.29 491 8.99 501 5.57 506 4.69 514 3.97 584 2.06 589 2.37 599 4.54 602 4.41 612 1.58 617 1.02 639 0.49 647 0.58 649 0.83 659 2.71 662 2.62 672 0.52 677 0.17 682 0.10 702 0.07 707 0.30 719 3.11 722 2.99 732 0.45 739 0.02 759 0.01 767 0.17 779 1.86 782 1.78 789 0.54 794 0.10 822 0.03 827 0.24 830 0.55 837 2.22 840 2.49 842 2.35 852 0.32 857 0.04 885 0.07 890 0.43 897 1.68 900 1.87 912 0.23 917 0.03 932 0.02 937 0.20 940 0.45 947 1.70 950 1.87 960 0.48 965 0.09 1000 0.00L1000 0L991 -0.70 -8 -0.63Z" fill="url(#sd)"/>
<path transform="matrix(0.11080 0.04204 0 -1.18134 411.22 311.30)" d="M0 0L0 0.00 90 0.01 113 0.18 123 0.53 130 1.09 138 2.11 143 3.17 153 6.54 163 12.09 173 19.98 198 43.01 206 47.25 211 48.58 213 48.74 216 48.57 221 47.22 228 42.96 256 17.75 271 7.68 278 4.60 286 2.69 291 2.25 298 2.59 301 2.46 313 0.35 326 0.06 341 0.06 346 0.21 351 0.83 358 2.42 361 2.49 371 0.68 373 0.46 378 0.43 386 0.82 391 1.34 398 2.76 406 5.42 414 9.75 441 34.27 446 36.68 449 37.25 451 37.37 456 36.24 461 33.50 481 15.97 491 9.41 501 5.85 506 4.92 514 4.18 584 2.16 589 2.45 599 4.50 602 4.36 612 1.62 617 1.07 644 0.50 649 0.83 659 2.62 662 2.53 672 0.51 677 0.17 682 0.10 702 0.07 707 0.29 719 2.99 722 2.88 732 0.44 739 0.02 759 0.01 767 0.17 779 1.79 782 1.70 789 0.52 794 0.10 822 0.03 827 0.23 830 0.53 837 2.13 840 2.39 842 2.25 852 0.31 857 0.04 885 0.07 890 0.41 897 1.62 900 1.80 912 0.22 917 0.03 932 0.02 940 0.43 947 1.63 950 1.80 960 0.46 965 0.08 1000 0.00L1000 0L991 -0.70 -8 -0.63Z" fill="url(#sd)"/>
<path transform="matrix(0.11075 0.04209 0 -1.18200 410.30 311.70)" d="M0 0L0 0.00 90 0.01 113 0.18 123 0.53 130 1.10 138 2.13 143 3.19 153 6.58 163 12.16 173 20.09 198 43.24 206 47.50 211 48.84 213 49.01 216 48.83 221 47.48 228 43.20 256 17.85 271 7.72 278 4.62 286 2.70 291 2.23 298 2.52 301 2.39 313 0.34 326 0.06 346 0.20 351 0.80 358 2.32 361 2.40 371 0.67 373 0.47 378 0.45 386 0.85 391 1.39 398 2.88 406 5.64 414 10.14 441 35.64 446 38.15 449 38.74 451 38.86 456 37.69 461 34.85 481 16.63 491 9.82 501 6.12 506 5.16 514 4.39 584 2.27 589 2.52 599 4.45 602 4.32 612 1.66 617 1.12 644 0.52 649 0.82 659 2.54 662 2.45 672 0.50 679 0.13 699 0.05 707 0.28 719 2.87 722 2.76 732 0.42 739 0.02 759 0.01 767 0.16 779 1.72 782 1.63 789 0.50 794 0.09 822 0.03 827 0.22 830 0.51 837 2.04 840 2.29 842 2.16 852 0.30 857 0.04 885 0.07 890 0.40 897 1.55 900 1.72 912 0.21 917 0.03 932 0.02 940 0.41 947 1.56 950 1.72 965 0.08 1000 0.00L1000 0L991 -0.70 -8 -0.64Z" fill="url(#sd)"/>
<path transform="matrix(0.11070 0.04215 0 -1.18265 409.37 312.10)" d="M0 0L0 0.00 90 0.01 113 0.18 123 0.53 130 1.10 138 2.13 143 3.19 153 6.58 163 12.16 173 20.08 198 43.24 206 47.50 211 48.84 213 49.00 216 48.83 221 47.47 228 43.19 256 17.85 271 7.72 278 4.62 286 2.70 291 2.21 298 2.45 301 2.32 313 0.34 326 0.06 346 0.20 351 0.77 358 2.23 361 2.30 371 0.66 373 0.47 378 0.46 386 0.89 391 1.45 398 2.99 406 5.85 414 10.52 441 36.96 446 39.56 449 40.18 451 40.30 456 39.09 461 36.15 481 17.28 491 10.22 501 6.40 506 5.40 514 4.60 521 4.25 551 3.54 584 2.37 589 2.60 599 4.41 602 4.27 612 1.70 617 1.17 644 0.54 649 0.82 659 2.45 662 2.36 672 0.50 679 0.13 699 0.05 707 0.27 719 2.74 722 2.64 732 0.40 739 0.02 759 0.01 767 0.15 779 1.64 794 0.09 822 0.03 827 0.22 830 0.49 837 1.95 840 2.19 842 2.07 852 0.28 857 0.04 885 0.06 890 0.38 897 1.48 900 1.65 912 0.20 917 0.03 932 0.02 940 0.39 947 1.50 950 1.65 965 0.08 1000 0.00L1000 0L991 -0.70 -8 -0.64Z" fill="url(#sd)"/>
<path transform="matrix(0.11065 0.04220 0 -1.18331 408.45 312.50)" d="M0 0L0 0.00 90 0.01 113 0.18 123 0.53 130 1.09 138 2.12 143 3.17 153 6.55 163 12.11 173 20.00 198 43.06 206 47.30 211 48.63 213 48.80 216 48.63 221 47.28 228 43.02 256 17.77 271 7.69 278 4.60 286 2.68 291 2.18 298 2.37 301 2.24 313 0.33 326 0.06 346 0.20 351 0.74 358 2.14 361 2.21 371 0.66 378 0.48 386 0.92 391 1.50 398 3.10 406 6.06 414 10.89 441 38.22 446 40.91 449 41.55 451 41.68 456 40.43 461 37.39 481 17.90 491 10.61 501 6.66 506 5.64 514 4.81 521 4.45 551 3.70 584 2.48 589 2.68 599 4.37 602 4.23 612 1.74 617 1.22 644 0.56 649 0.82 659 2.36 662 2.28 672 0.49 679 0.14 699 0.06 707 0.26 719 2.62 722 2.52 732 0.38 739 0.02 767 0.15 779 1.57 794 0.09 822 0.02 827 0.21 830 0.46 837 1.86 840 2.09 842 1.97 852 0.27 857 0.04 885 0.06 890 0.36 897 1.42 900 1.57 912 0.19 917 0.02 932 0.02 940 0.38 947 1.43 950 1.57 965 0.07 1000 0.00L1000 0L991 -0.70 -8 -0.64Z" fill="url(#sd)"/>
<path transform="matrix(0.11060 0.04225 0 -1.18397 407.53 312.90)" d="M0 0L0 0.00 90 0.01 113 0.18 123 0.53 130 1.09 138 2.10 143 3.15 153 6.51 163 12.02 173 19.86 198 42.76 206 46.98 211 48.30 213 48.46 216 48.29 221 46.95 228 42.72 256 17.65 271 7.64 278 4.57 286 2.66 291 2.15 298 2.30 301 2.17 313 0.32 326 0.06 346 0.19 351 0.72 358 2.05 361 2.12 371 0.65 378 0.50 386 0.96 391 1.55 398 3.20 406 6.25 414 11.23 441 39.41 446 42.19 449 42.85 451 42.98 456 41.70 461 38.57 481 18.50 491 10.99 501 6.93 506 5.87 514 5.02 521 4.65 551 3.87 584 2.58 589 2.75 599 4.33 602 4.19 612 1.78 617 1.27 644 0.58 649 0.82 659 2.28 662 2.20 672 0.48 679 0.14 699 0.06 707 0.25 719 2.50 722 2.40 732 0.37 739 0.02 767 0.14 779 1.49 794 0.08 822 0.02 827 0.20 830 0.44 837 1.78 840 1.99 842 1.88 852 0.26 857 0.03 885 0.06 890 0.35 897 1.35 900 1.50 912 0.18 917 0.02 932 0.02 940 0.36 947 1.36 950 1.50 965 0.07 1000 0.00L1000 0L991 -0.70 -8 -0.64Z" fill="url(#sd)"/>
<path transform="matrix(0.11055 0.04231 0 -1.18462 406.60 313.30)" d="M0 0L0 0.00 90 0.01 113 0.18 123 0.52 130 1.08 138 2.08 143 3.12 153 6.45 163 11.92 173 19.69 198 42.39 206 46.56 211 47.87 213 48.03 216 47.86 221 46.54 228 42.34 256 17.49 271 7.57 278 4.53 286 2.63 291 2.11 298 2.22 301 2.09 313 0.32 326 0.07 346 0.19 351 0.69 358 1.97 361 2.03 371 0.64 378 0.51 386 0.99 391 1.60 398 3.30 406 6.43 414 11.56 441 40.52 446 43.38 449 44.06 451 44.20 456 42.89 461 39.67 481 19.07 491 11.36 501 7.18 506 6.10 514 5.23 521 4.85 551 4.04 584 2.69 589 2.83 599 4.29 602 4.15 612 1.82 617 1.32 644 0.60 649 0.82 659 2.20 662 2.12 672 0.48 679 0.15 699 0.06 707 0.25 719 2.38 722 2.29 732 0.35 739 0.02 767 0.13 779 1.42 794 0.08 822 0.02 830 0.42 837 1.69 840 1.90 842 1.79 852 0.25 857 0.03 885 0.06 890 0.33 897 1.28 900 1.43 912 0.18 917 0.02 932 0.02 940 0.34 947 1.30 950 1.43 965 0.07 1000 0.00L1000 0L991 -0.70 -8 -0.64Z" fill="url(#sd)"/>
<path transform="matrix(0.11050 0.04236 0 -1.18528 405.68 313.70)" d="M0 0L0 0.00 90 0.01 113 0.18 123 0.52 130 1.07 138 2.06 143 3.09 153 6.38 163 11.80 173 19.49 198 41.96 206 46.09 211 47.39 213 47.55 216 47.38 221 46.06 228 41.91 256 17.32 271 7.49 278 4.49 286 2.60 291 2.07 298 2.14 301 2.01 313 0.31 326 0.07 346 0.19 351 0.66 358 1.88 361 1.94 371 0.63 378 0.53 386 1.02 391 1.65 398 3.39 406 6.61 414 11.86 441 41.55 446 44.49 449 45.18 451 45.33 456 43.99 461 40.70 481 19.60 491 11.71 501 7.43 506 6.33 514 5.44 521 5.04 551 4.21 584 2.79 589 2.91 599 4.25 602 4.11 612 1.86 617 1.37 644 0.62 649 0.83 659 2.12 662 2.04 672 0.47 679 0.15 699 0.06 707 0.24 719 2.26 722 2.18 732 0.33 739 0.02 767 0.13 779 1.35 794 0.07 822 0.02 830 0.40 837 1.61 840 1.80 842 1.70 852 0.23 857 0.03 885 0.05 890 0.31 897 1.22 900 1.35 912 0.17 932 0.02 940 0.32 947 1.23 950 1.36 965 0.06 1000 0.00L1000 0L991 -0.70 -8 -0.64Z" fill="url(#sd)"/>
<path transform="matrix(0.11045 0.04242 0 -1.18594 404.76 314.10)" d="M0 0L0 0.00 90 0.01 113 0.18 123 0.51 130 1.05 138 2.04 143 3.06 153 6.31 163 11.66 173 19.27 198 41.49 206 45.58 211 46.86 213 47.02 216 46.85 221 45.55 228 41.45 256 17.12 271 7.41 278 4.44 286 2.57 291 2.03 301 1.93 313 0.30 326 0.07 346 0.18 351 0.64 358 1.80 361 1.86 371 0.62 378 0.55 386 1.05 391 1.69 398 3.47 406 6.76 414 12.13 441 42.49 446 45.49 449 46.20 451 46.35 456 44.99 461 41.63 481 20.09 491 12.03 501 7.67 506 6.54 514 5.64 521 5.24 551 4.37 584 2.90 589 2.98 599 4.22 602 4.07 612 1.90 617 1.42 644 0.64 649 0.83 659 2.04 662 1.96 672 0.46 679 0.16 699 0.06 707 0.23 719 2.15 722 2.07 732 0.32 739 0.02 767 0.12 779 1.28 794 0.07 822 0.02 830 0.38 837 1.52 840 1.71 842 1.61 852 0.22 857 0.03 885 0.05 890 0.30 900 1.28 912 0.16 932 0.02 940 0.31 947 1.17 950 1.29 965 0.06 1000 0.00L1000 0L991 -0.70 -8 -0.64Z" fill="url(#sd)"/>
<path transform="matrix(0.11040 0.04247 0 -1.18660 403.84 314.50)" d="M0 0L0 0.00 90 0.01 113 0.18 123 0.51 130 1.04 138 2.01 143 3.02 153 6.24 163 11.52 173 19.04 198 40.99 206 45.03 211 46.29 213 46.45 218 45.80 226 42.55 261 13.16 271 7.32 281 3.65 288 2.18 291 1.99 301 1.86 311 0.48 316 0.19 333 0.06 346 0.18 351 0.61 358 1.71 361 1.77 373 0.50 378 0.56 386 1.07 393 2.21 398 3.55 409 8.47 419 17.31 439 41.10 446 46.38 449 47.11 451 47.27 456 45.88 461 42.47 481 20.54 491 12.34 501 7.91 506 6.75 514 5.83 521 5.43 551 4.53 584 3.00 589 3.06 599 4.18 602 4.03 612 1.94 619 1.34 639 0.73 647 0.70 659 1.96 662 1.88 672 0.46 679 0.16 699 0.07 707 0.22 719 2.04 722 1.96 732 0.30 739 0.02 767 0.11 779 1.21 794 0.07 822 0.02 830 0.36 840 1.62 852 0.21 857 0.03 885 0.05 890 0.28 900 1.22 912 0.15 932 0.02 940 0.29 947 1.11 950 1.22 965 0.06 1000 0.00L1000 0L991 -0.70 -8 -0.64Z" fill="url(#sd)"/>
<path transform="matrix(0.11035 0.04253 0 -1.18725 402.91 314.90)" d="M0 0L0 0.00 90 0.01 113 0.17 123 0.50 130 1.03 138 1.99 143 2.98 153 6.15 163 11.37 173 18.78 198 40.44 206 44.42 211 45.67 213 45.83 218 45.18 226 41.98 261 12.98 271 7.22 281 3.60 288 2.15 291 1.95 301 1.78 311 0.47 316 0.18 333 0.06 346 0.18 351 0.59 358 1.63 361 1.69 373 0.50 378 0.57 386 1.10 393 2.25 398 3.62 409 8.62 419 17.61 439 41.79 446 47.17 449 47.91 451 48.07 456 46.67 461 43.20 481 20.95 491 12.62 501 8.12 506 6.96 514 6.02 521 5.61 551 4.69 584 3.10 589 3.13 599 4.15 602 3.99 612 1.98 619 1.39 637 0.81 647 0.71 659 1.88 662 1.81 672 0.45 679 0.17 699 0.07 707 0.21 719 1.93 722 1.85 732 0.29 739 0.02 767 0.11 779 1.15 794 0.06 822 0.02 830 0.34 840 1.53 852 0.20 857 0.03 885 0.04 890 0.27 900 1.15 912 0.14 932 0.02 940 0.28 950 1.15 965 0.05 1000 0.00L1000 0L991 -0.70 -8 -0.64Z" fill="url(#sd)"/>
<path transform="matrix(0.11030 0.04258 0 -1.18791 401.99 315.30)" d="M0 0L0 0.00 90 0.01 113 0.17 123 0.49 130 1.01 138 1.96 143 2.93 153 6.06 163 11.19 173 18.49 198 39.82 206 43.74 211 44.97 213 45.12 218 44.49 226 41.33 261 12.78 271 7.11 281 3.54 288 2.11 301 1.71 311 0.45 316 0.18 333 0.06 346 0.18 351 0.56 358 1.55 361 1.61 373 0.51 378 0.59 386 1.12 393 2.30 398 3.68 409 8.75 419 17.86 439 42.37 446 47.83 449 48.58 451 48.75 456 47.33 461 43.83 481 21.30 491 12.88 501 8.33 506 7.15 514 6.21 521 5.79 551 4.84 584 3.19 589 3.20 599 4.12 602 3.96 612 2.02 619 1.43 637 0.84 647 0.72 659 1.81 662 1.74 672 0.44 679 0.17 699 0.07 707 0.20 719 1.82 722 1.75 732 0.27 739 0.02 767 0.10 779 1.08 794 0.06 822 0.02 830 0.32 840 1.44 852 0.19 857 0.02 885 0.04 890 0.25 900 1.08 912 0.13 932 0.01 940 0.26 950 1.09 965 0.05 1000 0.00L1000 0L991 -0.70 -8 -0.64Z" fill="url(#sd)"/>
<path transform="matrix(0.11025 0.04264 0 -1.18857 401.07 315.70)" d="M0 0L0 0.00 90 0.01 113 0.17 123 0.48 130 0.99 138 1.92 143 2.88 153 5.95 163 10.99 173 18.15 198 39.08 206 42.93 211 44.14 213 44.29 218 43.67 226 40.57 261 12.54 271 6.98 281 3.48 288 2.06 301 1.64 311 0.44 316 0.17 331 0.06 346 0.17 351 0.54 358 1.48 361 1.53 373 0.51 378 0.60 386 1.14 393 2.33 398 3.73 409 8.86 419 18.07 439 42.84 446 48.36 449 49.13 451 49.30 456 47.87 461 44.34 481 21.61 491 13.11 501 8.52 506 7.33 514 6.38 521 5.96 551 4.99 584 3.29 589 3.27 599 4.08 602 3.92 612 2.05 624 1.27 647 0.73 659 1.74 662 1.67 672 0.44 679 0.18 699 0.07 707 0.19 719 1.72 722 1.65 732 0.26 739 0.02 767 0.10 779 1.02 794 0.06 822 0.02 830 0.30 840 1.36 852 0.18 857 0.02 885 0.04 890 0.24 900 1.02 912 0.13 932 0.01 940 0.24 950 1.02 965 0.05 1000 0.00L1000 0L991 -0.70 -8 -0.64Z" fill="url(#sd)"/>
<path transform="matrix(0.11020 0.04269 0 -1.18923 400.15 316.10)" d="M0 0L0 0.00 90 0.01 113 0.16 123 0.47 130 0.97 138 1.88 143 2.81 153 5.81 163 10.73 173 17.73 198 38.18 206 41.94 211 43.12 213 43.26 218 42.66 226 39.63 261 12.25 271 6.82 281 3.40 288 2.01 301 1.56 311 0.42 316 0.17 331 0.06 346 0.17 351 0.52 358 1.40 361 1.46 373 0.51 378 0.61 386 1.16 393 2.36 398 3.77 409 8.95 419 18.22 439 43.20 446 48.76 449 49.54 451 49.71 456 48.28 461 44.73 481 21.86 491 13.31 501 8.70 506 7.50 514 6.55 521 6.12 551 5.13 584 3.38 589 3.33 599 4.05 612 2.09 624 1.31 647 0.74 659 1.67 672 0.43 679 0.18 699 0.07 707 0.19 719 1.62 722 1.55 732 0.24 739 0.02 767 0.09 779 0.96 794 0.05 822 0.01 830 0.28 840 1.28 852 0.17 857 0.02 885 0.04 890 0.22 900 0.96 912 0.12 932 0.01 940 0.23 950 0.96 965 0.04 1000 0.00L1000 0L991 -0.70 -8 -0.64Z" fill="url(#sd)"/>
<path transform="matrix(0.11015 0.04275 0 -1.18988 399.22 316.50)" d="M0 0L0 0.00 90 0.01 113 0.16 123 0.46 130 0.94 138 1.82 143 2.73 153 5.64 163 10.41 173 17.20 198 37.04 206 40.69 211 41.83 213 41.97 218 41.38 226 38.45 261 11.89 271 6.61 281 3.30 288 1.95 301 1.49 311 0.40 316 0.17 346 0.17 351 0.50 358 1.33 361 1.38 373 0.51 378 0.62 386 1.18 393 2.38 398 3.81 409 9.01 419 18.33 439 43.44 446 49.03 449 49.81 451 49.99 456 48.56 461 45.00 481 22.06 491 13.48 501 8.86 506 7.66 514 6.70 521 6.28 551 5.26 584 3.46 589 3.39 599 4.02 612 2.12 624 1.34 647 0.75 659 1.60 672 0.43 679 0.19 707 0.18 719 1.52 722 1.46 732 0.23 739 0.02 767 0.09 779 0.90 794 0.05 822 0.01 830 0.27 840 1.20 852 0.16 857 0.02 885 0.04 890 0.21 900 0.90 912 0.11 932 0.01 940 0.22 950 0.90 965 0.04 1000 0.00L1000 0L991 -0.70 -8 -0.64Z" fill="url(#sd)"/>
<path transform="matrix(0.11010 0.04280 0 -1.19054 398.30 316.90)" d="M0 0L0 0.00 90 0.01 113 0.15 123 0.44 130 0.90 138 1.75 143 2.62 153 5.41 163 10.00 173 16.53 198 35.58 206 39.09 211 40.19 213 40.32 218 39.76 226 36.94 261 11.42 271 6.35 281 3.17 288 1.87 301 1.41 311 0.38 316 0.16 346 0.16 351 0.47 358 1.26 361 1.31 371 0.57 376 0.54 386 1.19 393 2.40 398 3.83 409 9.05 419 18.39 439 43.55 446 49.17 449 49.95 451 50.13 456 48.71 461 45.15 481 22.20 491 13.63 501 9.00 506 7.80 514 6.85 521 6.42 551 5.39 586 3.46 591 3.55 599 3.99 612 2.15 624 1.37 647 0.76 659 1.54 672 0.42 679 0.19 707 0.17 719 1.43 722 1.37 732 0.21 739 0.02 767 0.08 779 0.84 794 0.05 822 0.01 830 0.25 840 1.13 852 0.15 857 0.02 885 0.03 890 0.20 900 0.85 912 0.10 932 0.01 940 0.20 950 0.85 965 0.04 1000 0.00L1000 0L991 -0.70 -8 -0.64Z" fill="url(#sd)"/>
<path transform="matrix(0.11005 0.04285 0 -1.19120 397.38 317.30)" d="M0 0L0 0.00 113 0.14 123 0.42 130 0.86 138 1.66 143 2.48 153 5.13 163 9.48 173 15.67 198 33.73 206 37.06 211 38.10 213 38.23 218 37.69 226 35.02 261 10.83 271 6.02 281 3.00 288 1.77 301 1.32 311 0.36 316 0.15 346 0.16 351 0.45 358 1.19 361 1.24 371 0.56 376 0.55 386 1.20 393 2.42 398 3.84 409 9.06 419 18.40 439 43.55 446 49.16 449 49.95 451 50.14 456 48.72 461 45.18 481 22.29 491 13.73 501 9.12 506 7.93 514 6.98 551 5.51 586 3.52 591 3.59 599 3.95 612 2.18 624 1.40 647 0.77 659 1.47 672 0.42 679 0.19 707 0.17 719 1.34 722 1.28 732 0.20 739 0.02 767 0.07 779 0.79 794 0.04 822 0.01 830 0.23 840 1.05 852 0.14 857 0.02 885 0.03 900 0.79 912 0.10 932 0.01 940 0.19 950 0.79 965 0.04 1000 0.00L1000 0L991 -0.70 -8 -0.64Z" fill="url(#sd)"/>
<path transform="matrix(0.11000 0.04291 0 -1.19185 396.45 317.70)" d="M0 0L0 0.00 113 0.13 123 0.39 130 0.80 138 1.54 143 2.31 153 4.78 163 8.83 173 14.60 198 31.42 206 34.52 211 35.49 213 35.61 218 35.11 226 32.62 261 10.09 271 5.61 281 2.80 288 1.65 301 1.24 311 0.34 318 0.10 346 0.16 351 0.43 358 1.13 361 1.18 371 0.55 376 0.55 386 1.21 393 2.42 398 3.84 409 9.05 419 18.36 439 43.42 446 49.03 449 49.81 451 50.00 456 48.60 461 45.08 481 22.32 491 13.81 501 9.23 506 8.05 514 7.10 551 5.62 586 3.58 591 3.62 599 3.92 612 2.21 624 1.43 647 0.78 659 1.41 672 0.41 679 0.20 707 0.16 719 1.25 732 0.19 739 0.01 767 0.07 779 0.74 794 0.04 822 0.01 830 0.22 840 0.98 852 0.13 857 0.02 885 0.03 900 0.74 912 0.09 932 0.01 940 0.18 950 0.74 965 0.03 1000 0.00L1000 0L991 -0.70 -8 -0.64Z" fill="url(#sd)"/>
<path transform="matrix(0.10995 0.04296 0 -1.19251 395.53 318.10)" d="M0 0L0 0.00 113 0.12 123 0.35 130 0.73 138 1.41 143 2.11 153 4.36 163 8.05 173 13.30 198 28.63 206 31.45 211 32.34 213 32.45 218 31.99 226 29.72 261 9.19 271 5.11 281 2.55 288 1.50 301 1.14 311 0.31 318 0.10 346 0.16 358 1.07 361 1.12 371 0.55 376 0.55 386 1.21 393 2.42 398 3.84 409 9.01 419 18.27 439 43.18 446 48.75 449 49.54 451 49.73 456 48.35 461 44.85 481 22.29 491 13.86 501 9.32 506 8.15 514 7.21 551 5.72 586 3.64 599 3.89 612 2.23 624 1.46 647 0.78 659 1.36 672 0.41 677 0.24 704 0.10 709 0.28 719 1.17 732 0.18 739 0.01 767 0.07 779 0.69 794 0.04 822 0.01 830 0.20 840 0.92 852 0.12 857 0.02 885 0.03 900 0.69 912 0.08 932 0.01 940 0.16 950 0.69 965 0.03 1000 0.00L1000 0L991 -0.70 -8 -0.64Z" fill="url(#sd)"/>
<path transform="matrix(0.10990 0.04302 0 -1.19317 394.61 318.50)" d="M0 0L0 0.00 113 0.11 123 0.31 130 0.65 138 1.25 143 1.87 153 3.87 163 7.14 173 11.80 198 25.40 206 27.91 211 28.69 213 28.79 218 28.38 226 26.37 261 8.15 271 4.54 281 2.26 288 1.34 301 1.04 311 0.29 318 0.09 346 0.15 358 1.01 361 1.06 373 0.51 381 0.79 386 1.21 393 2.42 398 3.82 409 8.95 419 18.12 439 42.81 446 48.34 449 49.13 451 49.32 456 47.96 461 44.51 481 22.20 491 13.87 501 9.38 506 8.23 514 7.31 551 5.81 586 3.69 599 3.85 612 2.25 624 1.48 647 0.79 659 1.30 677 0.24 704 0.09 709 0.26 719 1.09 732 0.17 739 0.01 767 0.06 779 0.64 794 0.03 822 0.01 830 0.19 840 0.85 852 0.11 857 0.01 885 0.02 900 0.64 912 0.08 932 0.01 940 0.15 950 0.64 965 0.03 1000 0.00L1000 0L991 -0.70 -8 -0.64Z" fill="url(#sd)"/>
<path transform="matrix(0.10985 0.04307 0 -1.19383 393.69 318.90)" d="M0 0L0 0.00 113 0.09 130 0.56 138 1.07 143 1.61 153 3.33 163 6.15 173 10.16 198 21.87 206 24.02 211 24.70 213 24.78 218 24.43 226 22.70 261 7.02 271 3.91 281 1.95 288 1.16 301 0.94 311 0.26 318 0.08 346 0.15 361 1.00 373 0.51 381 0.79 386 1.21 393 2.40 398 3.80 409 8.87 419 17.93 439 42.34 446 47.81 449 48.58 451 48.78 456 47.45 461 44.05 481 22.06 491 13.85 501 9.43 506 8.29 514 7.39 551 5.88 586 3.73 599 3.81 612 2.26 624 1.50 647 0.79 659 1.25 677 0.24 704 0.09 709 0.25 719 1.01 732 0.16 739 0.01 767 0.06 779 0.59 794 0.03 822 0.01 830 0.18 840 0.79 857 0.01 885 0.02 900 0.60 912 0.07 932 0.01 940 0.14 950 0.60 965 0.03 1000 0.00L1000 0L991 -0.70 -8 -0.64Z" fill="url(#sd)"/>
<path transform="matrix(0.10980 0.04313 0 -1.19448 392.76 319.30)" d="M0 0L0 0.00 113 0.08 130 0.46 143 1.34 153 2.77 163 5.12 173 8.47 198 18.23 206 20.02 211 20.59 213 20.66 218 20.37 226 18.92 261 5.85 271 3.26 281 1.62 288 0.98 301 0.84 311 0.23 321 0.06 346 0.15 361 0.94 373 0.51 381 0.79 386 1.21 393 2.39 398 3.76 409 8.76 419 17.70 439 41.75 446 47.15 449 47.92 451 48.11 456 46.81 461 43.48 481 21.86 491 13.79 501 9.46 506 8.34 514 7.45 551 5.95 586 3.77 599 3.78 612 2.28 624 1.52 647 0.80 659 1.19 677 0.24 704 0.09 709 0.23 719 0.94 732 0.15 739 0.01 767 0.05 779 0.55 794 0.03 822 0.01 830 0.16 840 0.74 857 0.01 885 0.02 900 0.55 912 0.07 932 0.01 940 0.13 950 0.55 965 0.03 1000 0.00L1000 0L991 -0.70 -8 -0.64Z" fill="url(#sd)"/>
<path transform="matrix(0.10975 0.04318 0 -1.19514 391.84 319.70)" d="M0 0L0 0.00 113 0.06 130 0.37 143 1.08 153 2.24 163 4.13 173 6.83 198 14.71 206 16.16 211 16.61 213 16.67 218 16.43 226 15.27 261 4.72 271 2.63 281 1.31 288 0.80 301 0.75 311 0.20 323 0.05 346 0.15 361 0.89 373 0.51 381 0.79 386 1.20 393 2.36 398 3.71 409 8.63 419 17.42 439 41.05 446 46.37 449 47.13 451 47.33 456 46.05 461 42.79 481 21.61 489 15.32 499 10.23 504 8.85 511 7.72 519 7.21 551 6.01 586 3.79 599 3.74 612 2.29 624 1.53 647 0.80 659 1.14 677 0.24 704 0.09 709 0.22 719 0.88 732 0.14 739 0.01 767 0.05 779 0.51 794 0.03 822 0.01 830 0.15 840 0.68 857 0.01 885 0.02 900 0.51 912 0.06 932 0.01 940 0.12 950 0.51 965 0.02 1000 0.00L1000 0L991 -0.70 -8 -0.64Z" fill="url(#sd)"/>
<path transform="matrix(0.10970 0.04324 0 -1.19580 390.92 320.10)" d="M0 0L0 0.00 113 0.05 130 0.29 143 0.85 153 1.75 163 3.24 173 5.35 198 11.52 206 12.65 213 13.05 218 12.87 226 11.95 261 3.70 271 2.06 281 1.03 288 0.64 301 0.66 313 0.11 331 0.05 346 0.14 361 0.84 373 0.50 381 0.79 386 1.19 393 2.33 398 3.66 409 8.49 419 17.09 439 40.26 446 45.48 449 46.22 451 46.42 456 45.19 461 42.01 481 21.31 489 15.17 499 10.20 504 8.85 511 7.75 519 7.26 551 6.05 586 3.82 599 3.69 612 2.29 624 1.54 647 0.80 662 1.04 677 0.24 704 0.09 709 0.21 719 0.81 732 0.13 739 0.01 767 0.05 779 0.47 794 0.03 822 0.01 830 0.14 840 0.63 857 0.01 885 0.02 900 0.47 912 0.06 932 0.01 950 0.47 965 0.02 1000 0.00L1000 0L991 -0.70 -8 -0.64Z" fill="url(#sd)"/>
<path transform="matrix(0.10965 0.04329 0 -1.19646 390.00 320.50)" d="M0 0L0 0.00 113 0.04 130 0.22 143 0.65 153 1.34 163 2.47 173 4.08 198 8.78 206 9.64 213 9.95 221 9.64 228 8.77 263 2.46 273 1.33 283 0.65 291 0.48 301 0.58 316 0.06 341 0.09 348 0.21 361 0.79 371 0.49 376 0.55 386 1.18 393 2.30 398 3.60 409 8.32 419 16.73 439 39.38 446 44.48 449 45.21 451 45.41 456 44.22 461 41.12 481 20.97 489 14.98 499 10.14 504 8.83 511 7.76 519 7.28 551 6.08 586 3.83 599 3.65 612 2.29 624 1.55 647 0.80 662 0.99 677 0.24 704 0.09 709 0.20 719 0.75 732 0.12 739 0.01 767 0.04 779 0.44 794 0.02 822 0.01 830 0.13 840 0.58 857 0.01 885 0.02 900 0.44 912 0.05 932 0.01 950 0.44 965 0.02 1000 0.00L1000 0L991 -0.70 -8 -0.64Z" fill="url(#sd)"/>
<path transform="matrix(0.10960 0.04335 0 -1.19711 389.07 320.90)" d="M0 0L0 0.00 113 0.03 130 0.17 143 0.48 153 1.00 163 1.84 198 6.54 206 7.19 213 7.41 221 7.18 228 6.54 263 1.83 273 0.99 283 0.49 291 0.39 301 0.51 316 0.05 341 0.09 348 0.20 361 0.75 371 0.49 376 0.55 386 1.17 393 2.26 398 3.53 409 8.13 419 16.33 439 38.40 446 43.38 449 44.10 451 44.30 456 43.15 461 40.15 481 20.57 489 14.76 499 10.07 504 8.80 511 7.76 519 7.30 551 6.10 586 3.84 599 3.60 612 2.29 624 1.55 644 0.84 662 0.95 677 0.24 704 0.08 709 0.18 719 0.69 732 0.11 739 0.01 767 0.04 779 0.40 794 0.02 822 0.01 830 0.12 840 0.54 857 0.01 885 0.02 900 0.40 912 0.05 932 0.01 950 0.40 965 0.02 1000 0.00L1000 0L991 -0.70 -8 -0.64Z" fill="url(#sd)"/>
<path transform="matrix(0.10955 0.04340 0 -1.19777 388.15 321.30)" d="M0 0L0 0.00 113 0.02 143 0.35 153 0.73 163 1.35 198 4.79 206 5.26 213 5.43 221 5.26 228 4.79 263 1.34 283 0.36 301 0.45 316 0.05 343 0.10 361 0.71 371 0.48 376 0.54 386 1.15 393 2.22 398 3.45 409 7.93 419 15.90 439 37.35 446 42.20 449 42.91 451 43.10 456 42.00 461 39.09 481 20.14 489 14.51 499 9.97 504 8.74 511 7.74 519 7.30 551 6.11 586 3.84 599 3.55 612 2.28 624 1.56 644 0.84 662 0.91 677 0.24 704 0.08 719 0.64 732 0.10 739 0.01 767 0.04 779 0.37 794 0.02 822 0.01 830 0.11 840 0.49 857 0.01 885 0.01 900 0.37 912 0.05 932 0.00 950 0.37 965 0.02 1000 0.00L1000 0L991 -0.70 -8 -0.64Z" fill="url(#sd)"/>
<path transform="matrix(0.10950 0.04345 0 -1.19843 387.23 321.70)" d="M0 0L0 0.00 113 0.01 143 0.25 163 0.97 198 3.46 206 3.80 213 3.92 228 3.46 263 0.97 283 0.26 301 0.40 316 0.04 343 0.10 361 0.67 371 0.47 376 0.54 386 1.13 393 2.17 398 3.37 409 7.71 419 15.44 439 36.23 446 40.94 449 41.63 451 41.82 456 40.76 461 37.96 481 19.66 489 14.23 499 9.85 504 8.67 511 7.71 551 6.10 586 3.83 599 3.50 612 2.27 624 1.55 644 0.84 662 0.87 677 0.24 704 0.08 719 0.59 732 0.09 739 0.01 767 0.03 779 0.34 794 0.02 822 0.01 840 0.45 857 0.01 885 0.01 900 0.34 912 0.04 932 0.00 950 0.34 965 0.02 1000 0.00L1000 0L991 -0.70 -8 -0.64Z" fill="url(#sd)"/>
<path transform="matrix(0.10945 0.04351 0 -1.19908 386.30 322.10)" d="M0 0L0 0.00 113 0.01 143 0.18 163 0.70 198 2.47 213 2.80 228 2.47 263 0.69 283 0.19 301 0.36 316 0.04 343 0.10 361 0.63 376 0.53 386 1.11 393 2.12 398 3.28 409 7.48 419 14.95 439 35.05 446 39.61 449 40.27 451 40.47 456 39.46 461 36.77 481 19.16 489 13.93 499 9.72 504 8.58 511 7.66 551 6.08 586 3.82 599 3.44 612 2.26 624 1.55 644 0.83 659 0.88 677 0.24 704 0.08 719 0.54 732 0.09 739 0.01 767 0.03 779 0.31 794 0.02 822 0.00 840 0.41 857 0.01 885 0.01 900 0.31 912 0.04 932 0.00 950 0.31 965 0.01 1000 0.00L1000 0L991 -0.70 -8 -0.64Z" fill="url(#sd)"/>
<path transform="matrix(0.10940 0.04356 0 -1.19974 385.38 322.50)" d="M0 0L0 0.00 143 0.13 163 0.49 195 1.68 211 1.98 226 1.82 261 0.56 283 0.14 301 0.32 316 0.04 343 0.10 361 0.59 376 0.52 386 1.09 393 2.06 398 3.18 409 7.24 419 14.44 439 33.81 446 38.21 449 38.86 451 39.06 456 38.09 461 35.52 481 18.62 489 13.60 499 9.56 504 8.48 511 7.60 551 6.05 586 3.79 599 3.38 612 2.24 624 1.54 644 0.83 659 0.85 677 0.24 704 0.08 719 0.50 739 0.01 767 0.03 779 0.28 794 0.02 822 0.00 840 0.38 857 0.01 885 0.01 900 0.28 912 0.04 932 0.00 950 0.29 965 0.01 1000 0.00L1000 0L991 -0.70 -8 -0.64Z" fill="url(#sd)"/>
<path transform="matrix(0.10935 0.04362 0 -1.20040 384.46 322.90)" d="M0 0L0 0.00 143 0.09 163 0.35 198 1.24 213 1.40 228 1.24 276 0.16 288 0.10 301 0.29 313 0.05 333 0.05 348 0.17 361 0.56 373 0.46 381 0.72 386 1.06 393 2.00 398 3.09 409 6.99 419 13.91 439 32.53 446 36.77 449 37.40 451 37.59 456 36.68 461 34.22 481 18.05 489 13.25 499 9.39 504 8.36 511 7.52 551 6.01 586 3.76 599 3.32 612 2.22 624 1.53 644 0.82 659 0.81 677 0.23 704 0.08 719 0.46 739 0.01 767 0.03 779 0.26 794 0.01 822 0.00 840 0.35 857 0.01 885 0.01 900 0.26 912 0.03 932 0.00 950 0.26 965 0.01 1000 0.00L1000 0L991 -0.70 -8 -0.64Z" fill="url(#sd)"/>
<path transform="matrix(0.10930 0.04367 0 -1.20106 383.54 323.30)" d="M0 0L0 0.00 143 0.06 213 0.99 276 0.11 301 0.26 313 0.04 333 0.05 348 0.16 361 0.52 373 0.45 386 1.03 393 1.94 398 2.98 409 6.73 419 13.36 439 31.21 446 35.29 449 35.89 451 36.08 456 35.22 461 32.88 481 17.46 489 12.88 499 9.21 504 8.22 511 7.42 551 5.95 586 3.72 599 3.26 612 2.19 624 1.52 644 0.81 659 0.78 677 0.23 704 0.07 719 0.42 739 0.01 767 0.02 779 0.24 794 0.01 822 0.00 840 0.32 857 0.01 885 0.01 900 0.24 912 0.03 932 0.00 950 0.24 965 0.01 1000 0.00L1000 0L991 -0.70 -8 -0.64Z" fill="url(#sd)"/>
<path transform="matrix(0.10925 0.04373 0 -1.20171 382.61 323.70)" d="M0 0L0 0.00 143 0.05 213 0.69 276 0.08 301 0.23 313 0.04 333 0.05 348 0.16 361 0.49 373 0.44 386 1.01 393 1.88 398 2.87 409 6.46 419 12.80 439 29.87 446 33.77 449 34.35 451 34.54 456 33.73 461 31.51 481 16.84 489 12.49 499 9.00 504 8.07 511 7.32 551 5.88 586 3.68 599 3.19 612 2.16 624 1.50 644 0.80 659 0.74 674 0.27 704 0.07 719 0.39 742 0.01 767 0.02 779 0.22 794 0.01 822 0.00 840 0.29 857 0.00 885 0.01 900 0.22 932 0.00 950 0.22 965 0.01 1000 0.00L1000 0L991 -0.70 -8 -0.64Z" fill="url(#sd)"/>
<path transform="matrix(0.10920 0.04378 0 -1.20237 381.69 324.10)" d="M0 0L0 0.00 143 0.03 213 0.49 276 0.06 301 0.21 331 0.05 346 0.12 361 0.47 373 0.43 386 0.98 393 1.81 398 2.77 409 6.18 419 12.24 439 28.51 446 32.23 449 32.79 451 32.98 456 32.22 461 30.12 481 16.22 489 12.09 499 8.79 504 7.91 511 7.20 551 5.80 586 3.63 599 3.12 612 2.13 624 1.48 644 0.79 659 0.71 674 0.26 704 0.07 719 0.35 742 0.01 767 0.02 779 0.20 794 0.01 822 0.00 840 0.26 857 0.00 885 0.01 900 0.20 932 0.00 950 0.20 965 0.01 1000 0.00L1000 0L991 -0.70 -8 -0.64Z" fill="url(#sd)"/>
<path transform="matrix(0.10915 0.04384 0 -1.20303 380.77 324.50)" d="M0 0L0 0.00 143 0.02 213 0.34 276 0.04 301 0.19 331 0.05 346 0.11 361 0.44 373 0.42 386 0.95 393 1.74 398 2.65 409 5.91 419 11.66 439 27.13 446 30.69 449 31.22 451 31.40 456 30.70 461 28.72 481 15.58 489 11.68 499 8.56 504 7.73 511 7.06 551 5.72 624 1.46 644 0.78 659 0.68 674 0.26 704 0.07 719 0.32 742 0.01 779 0.18 822 0.00 840 0.24 857 0.00 885 0.01 900 0.18 932 0.00 950 0.18 965 0.01 1000 0.00L1000 0L991 -0.70 -8 -0.64Z" fill="url(#sd)"/>
<path transform="matrix(0.10910 0.04389 0 -1.20369 379.85 324.90)" d="M0 0L0 0.00 143 0.02 213 0.24 331 0.04 346 0.11 361 0.41 373 0.41 386 0.91 393 1.68 398 2.54 409 5.63 419 11.09 439 25.76 446 29.13 449 29.65 451 29.82 456 29.17 461 27.31 481 14.93 489 11.26 499 8.32 504 7.55 511 6.92 551 5.62 624 1.43 644 0.76 659 0.65 674 0.25 704 0.07 719 0.29 742 0.01 779 0.16 822 0.00 840 0.21 857 0.00 900 0.16 932 0.00 950 0.16 1000 0.00L1000 0L991 -0.70 -8 -0.64Z" fill="url(#sd)"/>
<path transform="matrix(0.10905 0.04395 0 -1.20434 378.92 325.30)" d="M0 0L0 0.00 213 0.17 331 0.04 373 0.39 386 0.88 393 1.61 398 2.43 409 5.35 419 10.51 439 24.39 446 27.59 449 28.08 451 28.25 456 27.65 461 25.90 481 14.27 489 10.83 499 8.08 504 7.35 511 6.76 551 5.51 624 1.40 644 0.75 659 0.62 674 0.24 704 0.06 719 0.27 742 0.01 779 0.15 822 0.00 840 0.19 857 0.00 900 0.15 932 0.00 950 0.15 1000 0.00L1000 0L991 -0.70 -8 -0.64Z" fill="url(#sd)"/>
<path transform="matrix(0.10900 0.04400 0 -1.20500 378.00 325.70)" d="M0 0L0 0.00 331 0.04 373 0.38 386 0.85 393 1.54 398 2.31 409 5.08 419 9.95 439 23.03 446 26.06 449 26.52 451 26.69 456 26.13 461 24.51 481 13.62 489 10.39 499 7.82 504 7.14 511 6.60 551 5.39 624 1.37 644 0.73 674 0.24 704 0.06 719 0.24 742 0.01 779 0.13 822 0.00 840 0.18 857 0.00 950 0.13 1000 0.00L1000 0L1000 -0.00 0 -0.00Z" fill="url(#sd)"/>
<line x1="39.8" y1="57.1" x2="39.8" y2="118.4" stroke="#111" stroke-width="2.1"/>
<line x1="37.2" y1="118.40" x2="39.8" y2="118.40" stroke="#222" stroke-width="0.8"/>
<line x1="37.2" y1="116.36" x2="39.8" y2="116.36" stroke="#222" stroke-width="0.8"/>
<line x1="37.2" y1="114.31" x2="39.8" y2="114.31" stroke="#222" stroke-width="0.8"/>
<line x1="37.2" y1="112.27" x2="39.8" y2="112.27" stroke="#222" stroke-width="0.8"/>
<line x1="37.2" y1="110.23" x2="39.8" y2="110.23" stroke="#222" stroke-width="0.8"/>
<line x1="37.2" y1="108.18" x2="39.8" y2="108.18" stroke="#222" stroke-width="0.8"/>
<line x1="37.2" y1="106.14" x2="39.8" y2="106.14" stroke="#222" stroke-width="0.8"/>
<line x1="37.2" y1="104.10" x2="39.8" y2="104.10" stroke="#222" stroke-width="0.8"/>
<line x1="37.2" y1="102.05" x2="39.8" y2="102.05" stroke="#222" stroke-width="0.8"/>
<line x1="37.2" y1="100.01" x2="39.8" y2="100.01" stroke="#222" stroke-width="0.8"/>
<line x1="37.2" y1="97.97" x2="39.8" y2="97.97" stroke="#222" stroke-width="0.8"/>
<line x1="37.2" y1="95.92" x2="39.8" y2="95.92" stroke="#222" stroke-width="0.8"/>
<line x1="37.2" y1="93.88" x2="39.8" y2="93.88" stroke="#222" stroke-width="0.8"/>
<line x1="37.2" y1="91.84" x2="39.8" y2="91.84" stroke="#222" stroke-width="0.8"/>
<line x1="37.2" y1="89.79" x2="39.8" y2="89.79" stroke="#222" stroke-width="0.8"/>
<line x1="37.2" y1="87.75" x2="39.8" y2="87.75" stroke="#222" stroke-width="0.8"/>
<line x1="37.2" y1="85.71" x2="39.8" y2="85.71" stroke="#222" stroke-width="0.8"/>
<line x1="37.2" y1="83.66" x2="39.8" y2="83.66" stroke="#222" stroke-width="0.8"/>
<line x1="37.2" y1="81.62" x2="39.8" y2="81.62" stroke="#222" stroke-width="0.8"/>
<line x1="37.2" y1="79.58" x2="39.8" y2="79.58" stroke="#222" stroke-width="0.8"/>
<line x1="37.2" y1="77.53" x2="39.8" y2="77.53" stroke="#222" stroke-width="0.8"/>
<line x1="37.2" y1="75.49" x2="39.8" y2="75.49" stroke="#222" stroke-width="0.8"/>
<line x1="37.2" y1="73.45" x2="39.8" y2="73.45" stroke="#222" stroke-width="0.8"/>
<line x1="37.2" y1="71.40" x2="39.8" y2="71.40" stroke="#222" stroke-width="0.8"/>
<line x1="37.2" y1="69.36" x2="39.8" y2="69.36" stroke="#222" stroke-width="0.8"/>
<line x1="37.2" y1="67.32" x2="39.8" y2="67.32" stroke="#222" stroke-width="0.8"/>
<line x1="37.2" y1="65.27" x2="39.8" y2="65.27" stroke="#222" stroke-width="0.8"/>
<line x1="37.2" y1="63.23" x2="39.8" y2="63.23" stroke="#222" stroke-width="0.8"/>
<line x1="37.2" y1="61.19" x2="39.8" y2="61.19" stroke="#222" stroke-width="0.8"/>
<line x1="37.2" y1="59.14" x2="39.8" y2="59.14" stroke="#222" stroke-width="0.8"/>
<line x1="37.2" y1="57.10" x2="39.8" y2="57.10" stroke="#222" stroke-width="0.8"/>
<line x1="35.3" y1="66.90" x2="39.8" y2="66.90" stroke="#222" stroke-width="1"/>
<text x="33.3" y="71.0" font-size="12" text-anchor="end" font-weight="normal" fill="#222" stroke="#222" stroke-width="0.28" >500</text>
<line x1="35.3" y1="77.20" x2="39.8" y2="77.20" stroke="#222" stroke-width="1"/>
<line x1="35.3" y1="87.50" x2="39.8" y2="87.50" stroke="#222" stroke-width="1"/>
<text x="33.3" y="91.6" font-size="12" text-anchor="end" font-weight="normal" fill="#222" stroke="#222" stroke-width="0.28" >300</text>
<line x1="35.3" y1="97.65" x2="39.8" y2="97.65" stroke="#222" stroke-width="1"/>
<line x1="35.3" y1="107.80" x2="39.8" y2="107.80" stroke="#222" stroke-width="1"/>
<text x="33.3" y="111.9" font-size="12" text-anchor="end" font-weight="normal" fill="#222" stroke="#222" stroke-width="0.28" >100</text>
<line x1="35.3" y1="118.30" x2="39.8" y2="118.30" stroke="#222" stroke-width="1"/>
<text x="33.3" y="122.4" font-size="12" text-anchor="end" font-weight="normal" fill="#222" stroke="#222" stroke-width="0.28" >0</text>
<text x="0" y="0" font-size="12.2" text-anchor="middle" fill="#222" stroke="#222" stroke-width="0.28" transform="translate(10.3 89.5) rotate(-90)">mAU</text>
<polyline points="40.6,118.6 156.6,163.8 269.3,117.4" fill="none" stroke="#4a4a4a" stroke-width="1.2"/>
<line x1="45.2" y1="120.4" x2="45.8" y2="122.2" stroke="#444" stroke-width="0.6"/>
<line x1="161.1" y1="161.9" x2="160.5" y2="163.7" stroke="#444" stroke-width="0.6"/>
<line x1="49.9" y1="122.2" x2="50.5" y2="124.0" stroke="#444" stroke-width="0.6"/>
<line x1="165.6" y1="160.1" x2="165.0" y2="161.9" stroke="#444" stroke-width="0.6"/>
<line x1="54.5" y1="124.0" x2="55.1" y2="125.8" stroke="#444" stroke-width="0.6"/>
<line x1="170.1" y1="158.2" x2="169.5" y2="160.0" stroke="#444" stroke-width="0.6"/>
<line x1="59.2" y1="125.8" x2="59.8" y2="127.6" stroke="#444" stroke-width="0.6"/>
<line x1="174.6" y1="156.4" x2="174.0" y2="158.2" stroke="#444" stroke-width="0.6"/>
<line x1="63.8" y1="127.6" x2="64.4" y2="129.4" stroke="#444" stroke-width="0.6"/>
<line x1="179.1" y1="154.5" x2="178.5" y2="156.3" stroke="#444" stroke-width="0.6"/>
<line x1="68.4" y1="129.4" x2="69.0" y2="131.2" stroke="#444" stroke-width="0.6"/>
<line x1="183.6" y1="152.7" x2="183.0" y2="154.5" stroke="#444" stroke-width="0.6"/>
<line x1="73.1" y1="131.3" x2="73.7" y2="133.1" stroke="#444" stroke-width="0.6"/>
<line x1="188.2" y1="150.8" x2="187.6" y2="152.6" stroke="#444" stroke-width="0.6"/>
<line x1="77.7" y1="133.1" x2="78.3" y2="134.9" stroke="#444" stroke-width="0.6"/>
<line x1="192.7" y1="149.0" x2="192.1" y2="150.8" stroke="#444" stroke-width="0.6"/>
<line x1="82.4" y1="134.9" x2="83.0" y2="136.7" stroke="#444" stroke-width="0.6"/>
<line x1="197.2" y1="147.1" x2="196.6" y2="148.9" stroke="#444" stroke-width="0.6"/>
<line x1="87.0" y1="136.7" x2="87.6" y2="138.5" stroke="#444" stroke-width="0.6"/>
<line x1="201.7" y1="145.2" x2="201.1" y2="147.0" stroke="#444" stroke-width="0.6"/>
<line x1="91.6" y1="138.5" x2="92.2" y2="140.3" stroke="#444" stroke-width="0.6"/>
<line x1="206.2" y1="143.4" x2="205.6" y2="145.2" stroke="#444" stroke-width="0.6"/>
<line x1="96.3" y1="140.3" x2="96.9" y2="142.1" stroke="#444" stroke-width="0.6"/>
<line x1="210.7" y1="141.5" x2="210.1" y2="143.3" stroke="#444" stroke-width="0.6"/>
<line x1="100.9" y1="142.1" x2="101.5" y2="143.9" stroke="#444" stroke-width="0.6"/>
<line x1="215.2" y1="139.7" x2="214.6" y2="141.5" stroke="#444" stroke-width="0.6"/>
<line x1="105.6" y1="143.9" x2="106.2" y2="145.7" stroke="#444" stroke-width="0.6"/>
<line x1="219.7" y1="137.8" x2="219.1" y2="139.6" stroke="#444" stroke-width="0.6"/>
<line x1="110.2" y1="145.7" x2="110.8" y2="147.5" stroke="#444" stroke-width="0.6"/>
<line x1="224.2" y1="136.0" x2="223.6" y2="137.8" stroke="#444" stroke-width="0.6"/>
<line x1="114.8" y1="147.5" x2="115.4" y2="149.3" stroke="#444" stroke-width="0.6"/>
<line x1="228.7" y1="134.1" x2="228.1" y2="135.9" stroke="#444" stroke-width="0.6"/>
<line x1="119.5" y1="149.3" x2="120.1" y2="151.1" stroke="#444" stroke-width="0.6"/>
<line x1="233.2" y1="132.2" x2="232.6" y2="134.0" stroke="#444" stroke-width="0.6"/>
<line x1="124.1" y1="151.1" x2="124.7" y2="152.9" stroke="#444" stroke-width="0.6"/>
<line x1="237.7" y1="130.4" x2="237.1" y2="132.2" stroke="#444" stroke-width="0.6"/>
<line x1="128.8" y1="153.0" x2="129.4" y2="154.8" stroke="#444" stroke-width="0.6"/>
<line x1="242.3" y1="128.5" x2="241.7" y2="130.3" stroke="#444" stroke-width="0.6"/>
<line x1="133.4" y1="154.8" x2="134.0" y2="156.6" stroke="#444" stroke-width="0.6"/>
<line x1="246.8" y1="126.7" x2="246.2" y2="128.5" stroke="#444" stroke-width="0.6"/>
<line x1="138.0" y1="156.6" x2="138.6" y2="158.4" stroke="#444" stroke-width="0.6"/>
<line x1="251.3" y1="124.8" x2="250.7" y2="126.6" stroke="#444" stroke-width="0.6"/>
<line x1="142.7" y1="158.4" x2="143.3" y2="160.2" stroke="#444" stroke-width="0.6"/>
<line x1="255.8" y1="123.0" x2="255.2" y2="124.8" stroke="#444" stroke-width="0.6"/>
<line x1="147.3" y1="160.2" x2="147.9" y2="162.0" stroke="#444" stroke-width="0.6"/>
<line x1="260.3" y1="121.1" x2="259.7" y2="122.9" stroke="#444" stroke-width="0.6"/>
<line x1="152.0" y1="162.0" x2="152.6" y2="163.8" stroke="#444" stroke-width="0.6"/>
<line x1="264.8" y1="119.3" x2="264.2" y2="121.1" stroke="#444" stroke-width="0.6"/>
<text x="49.7" y="137.0" font-size="12" text-anchor="middle" font-weight="normal" fill="#222" stroke="#222" stroke-width="0.28" >4</text>
<text x="72.6" y="146.1" font-size="12" text-anchor="middle" font-weight="normal" fill="#222" stroke="#222" stroke-width="0.28" >6</text>
<text x="97.2" y="155.1" font-size="12" text-anchor="middle" font-weight="normal" fill="#222" stroke="#222" stroke-width="0.28" >8</text>
<text x="116.6" y="164.2" font-size="12" text-anchor="middle" font-weight="normal" fill="#222" stroke="#222" stroke-width="0.28" >10</text>
<text x="140.0" y="173.3" font-size="12" text-anchor="middle" font-weight="normal" fill="#222" stroke="#222" stroke-width="0.28" >12</text>
<text x="279.0" y="131.3" font-size="12" text-anchor="middle" font-weight="normal" fill="#222" stroke="#222" stroke-width="0.28" >200</text>
<text x="257.3" y="140.8" font-size="12" text-anchor="middle" font-weight="normal" fill="#222" stroke="#222" stroke-width="0.28" >220</text>
<text x="235.6" y="149.0" font-size="12" text-anchor="middle" font-weight="normal" fill="#222" stroke="#222" stroke-width="0.28" >240</text>
<text x="213.0" y="157.6" font-size="12" text-anchor="middle" font-weight="normal" fill="#222" stroke="#222" stroke-width="0.28" >260</text>
<text x="191.5" y="166.1" font-size="12" text-anchor="middle" font-weight="normal" fill="#222" stroke="#222" stroke-width="0.28" >280</text>
<text x="169.0" y="175.6" font-size="12" text-anchor="middle" font-weight="normal" fill="#222" stroke="#222" stroke-width="0.28" >300</text>
<text x="72.0" y="171.5" font-size="12.2" text-anchor="middle" font-weight="normal" fill="#222" stroke="#222" stroke-width="0.28" >Minutes</text>
<text x="234.1" y="171.8" font-size="12.2" text-anchor="middle" font-weight="normal" fill="#222" stroke="#222" stroke-width="0.28" >nm</text>
<rect x="315.7" y="37.8" width="2" height="105.7" fill="url(#facb)" opacity="0.8"/>
<line x1="313.2" y1="56.80" x2="315.7" y2="56.80" stroke="#333" stroke-width="0.8"/>
<text x="311.5" y="60.9" font-size="12.3" text-anchor="end" font-weight="normal" fill="#222" stroke="#222" stroke-width="0.28" >500</text>
<line x1="313.2" y1="74.70" x2="315.7" y2="74.70" stroke="#333" stroke-width="0.8"/>
<text x="311.5" y="78.8" font-size="12.3" text-anchor="end" font-weight="normal" fill="#222" stroke="#222" stroke-width="0.28" >400</text>
<line x1="313.2" y1="91.50" x2="315.7" y2="91.50" stroke="#333" stroke-width="0.8"/>
<text x="311.5" y="95.6" font-size="12.3" text-anchor="end" font-weight="normal" fill="#222" stroke="#222" stroke-width="0.28" >300</text>
<line x1="313.2" y1="109.30" x2="315.7" y2="109.30" stroke="#333" stroke-width="0.8"/>
<text x="311.5" y="113.4" font-size="12.3" text-anchor="end" font-weight="normal" fill="#222" stroke="#222" stroke-width="0.28" >200</text>
<line x1="313.2" y1="127.00" x2="315.7" y2="127.00" stroke="#333" stroke-width="0.8"/>
<text x="311.5" y="131.1" font-size="12.3" text-anchor="end" font-weight="normal" fill="#222" stroke="#222" stroke-width="0.28" >100</text>
<line x1="313.2" y1="143.50" x2="315.7" y2="143.50" stroke="#333" stroke-width="0.8"/>
<text x="311.5" y="147.6" font-size="12.3" text-anchor="end" font-weight="normal" fill="#222" stroke="#222" stroke-width="0.28" >0</text>
<text x="305.4" y="161.9" font-size="12.2" text-anchor="middle" font-weight="normal" fill="#222" stroke="#222" stroke-width="0.28" >mAU</text>
<text x="256.4" y="44.6" font-size="13.3" text-anchor="middle" font-weight="normal" fill="#222" stroke="#222" stroke-width="0.28" >2 hrs</text>
<line x1="370.3" y1="58.0" x2="370.3" y2="119.30000000000001" stroke="#111" stroke-width="2.1"/>
<line x1="367.7" y1="119.30" x2="370.3" y2="119.30" stroke="#222" stroke-width="0.8"/>
<line x1="367.7" y1="117.26" x2="370.3" y2="117.26" stroke="#222" stroke-width="0.8"/>
<line x1="367.7" y1="115.21" x2="370.3" y2="115.21" stroke="#222" stroke-width="0.8"/>
<line x1="367.7" y1="113.17" x2="370.3" y2="113.17" stroke="#222" stroke-width="0.8"/>
<line x1="367.7" y1="111.13" x2="370.3" y2="111.13" stroke="#222" stroke-width="0.8"/>
<line x1="367.7" y1="109.08" x2="370.3" y2="109.08" stroke="#222" stroke-width="0.8"/>
<line x1="367.7" y1="107.04" x2="370.3" y2="107.04" stroke="#222" stroke-width="0.8"/>
<line x1="367.7" y1="105.00" x2="370.3" y2="105.00" stroke="#222" stroke-width="0.8"/>
<line x1="367.7" y1="102.95" x2="370.3" y2="102.95" stroke="#222" stroke-width="0.8"/>
<line x1="367.7" y1="100.91" x2="370.3" y2="100.91" stroke="#222" stroke-width="0.8"/>
<line x1="367.7" y1="98.87" x2="370.3" y2="98.87" stroke="#222" stroke-width="0.8"/>
<line x1="367.7" y1="96.82" x2="370.3" y2="96.82" stroke="#222" stroke-width="0.8"/>
<line x1="367.7" y1="94.78" x2="370.3" y2="94.78" stroke="#222" stroke-width="0.8"/>
<line x1="367.7" y1="92.74" x2="370.3" y2="92.74" stroke="#222" stroke-width="0.8"/>
<line x1="367.7" y1="90.69" x2="370.3" y2="90.69" stroke="#222" stroke-width="0.8"/>
<line x1="367.7" y1="88.65" x2="370.3" y2="88.65" stroke="#222" stroke-width="0.8"/>
<line x1="367.7" y1="86.61" x2="370.3" y2="86.61" stroke="#222" stroke-width="0.8"/>
<line x1="367.7" y1="84.56" x2="370.3" y2="84.56" stroke="#222" stroke-width="0.8"/>
<line x1="367.7" y1="82.52" x2="370.3" y2="82.52" stroke="#222" stroke-width="0.8"/>
<line x1="367.7" y1="80.48" x2="370.3" y2="80.48" stroke="#222" stroke-width="0.8"/>
<line x1="367.7" y1="78.43" x2="370.3" y2="78.43" stroke="#222" stroke-width="0.8"/>
<line x1="367.7" y1="76.39" x2="370.3" y2="76.39" stroke="#222" stroke-width="0.8"/>
<line x1="367.7" y1="74.35" x2="370.3" y2="74.35" stroke="#222" stroke-width="0.8"/>
<line x1="367.7" y1="72.30" x2="370.3" y2="72.30" stroke="#222" stroke-width="0.8"/>
<line x1="367.7" y1="70.26" x2="370.3" y2="70.26" stroke="#222" stroke-width="0.8"/>
<line x1="367.7" y1="68.22" x2="370.3" y2="68.22" stroke="#222" stroke-width="0.8"/>
<line x1="367.7" y1="66.17" x2="370.3" y2="66.17" stroke="#222" stroke-width="0.8"/>
<line x1="367.7" y1="64.13" x2="370.3" y2="64.13" stroke="#222" stroke-width="0.8"/>
<line x1="367.7" y1="62.09" x2="370.3" y2="62.09" stroke="#222" stroke-width="0.8"/>
<line x1="367.7" y1="60.04" x2="370.3" y2="60.04" stroke="#222" stroke-width="0.8"/>
<line x1="367.7" y1="58.00" x2="370.3" y2="58.00" stroke="#222" stroke-width="0.8"/>
<line x1="365.8" y1="67.80" x2="370.3" y2="67.80" stroke="#222" stroke-width="1"/>
<text x="363.8" y="71.9" font-size="12" text-anchor="end" font-weight="normal" fill="#222" stroke="#222" stroke-width="0.28" >500</text>
<line x1="365.8" y1="78.10" x2="370.3" y2="78.10" stroke="#222" stroke-width="1"/>
<line x1="365.8" y1="88.40" x2="370.3" y2="88.40" stroke="#222" stroke-width="1"/>
<text x="363.8" y="92.5" font-size="12" text-anchor="end" font-weight="normal" fill="#222" stroke="#222" stroke-width="0.28" >300</text>
<line x1="365.8" y1="98.55" x2="370.3" y2="98.55" stroke="#222" stroke-width="1"/>
<line x1="365.8" y1="108.70" x2="370.3" y2="108.70" stroke="#222" stroke-width="1"/>
<text x="363.8" y="112.8" font-size="12" text-anchor="end" font-weight="normal" fill="#222" stroke="#222" stroke-width="0.28" >100</text>
<line x1="365.8" y1="119.20" x2="370.3" y2="119.20" stroke="#222" stroke-width="1"/>
<text x="363.8" y="123.3" font-size="12" text-anchor="end" font-weight="normal" fill="#222" stroke="#222" stroke-width="0.28" >0</text>
<text x="0" y="0" font-size="12.2" text-anchor="middle" fill="#222" stroke="#222" stroke-width="0.28" transform="translate(340.8 90.4) rotate(-90)">mAU</text>
<polyline points="371.1,119.5 487.1,164.70000000000002 599.8,118.30000000000001" fill="none" stroke="#4a4a4a" stroke-width="1.2"/>
<line x1="375.7" y1="121.3" x2="376.3" y2="123.1" stroke="#444" stroke-width="0.6"/>
<line x1="491.6" y1="162.8" x2="491.0" y2="164.6" stroke="#444" stroke-width="0.6"/>
<line x1="380.4" y1="123.1" x2="381.0" y2="124.9" stroke="#444" stroke-width="0.6"/>
<line x1="496.1" y1="161.0" x2="495.5" y2="162.8" stroke="#444" stroke-width="0.6"/>
<line x1="385.0" y1="124.9" x2="385.6" y2="126.7" stroke="#444" stroke-width="0.6"/>
<line x1="500.6" y1="159.1" x2="500.0" y2="160.9" stroke="#444" stroke-width="0.6"/>
<line x1="389.7" y1="126.7" x2="390.3" y2="128.5" stroke="#444" stroke-width="0.6"/>
<line x1="505.1" y1="157.3" x2="504.5" y2="159.1" stroke="#444" stroke-width="0.6"/>
<line x1="394.3" y1="128.5" x2="394.9" y2="130.3" stroke="#444" stroke-width="0.6"/>
<line x1="509.6" y1="155.4" x2="509.0" y2="157.2" stroke="#444" stroke-width="0.6"/>
<line x1="398.9" y1="130.3" x2="399.5" y2="132.1" stroke="#444" stroke-width="0.6"/>
<line x1="514.1" y1="153.6" x2="513.5" y2="155.4" stroke="#444" stroke-width="0.6"/>
<line x1="403.6" y1="132.2" x2="404.2" y2="134.0" stroke="#444" stroke-width="0.6"/>
<line x1="518.7" y1="151.7" x2="518.1" y2="153.5" stroke="#444" stroke-width="0.6"/>
<line x1="408.2" y1="134.0" x2="408.8" y2="135.8" stroke="#444" stroke-width="0.6"/>
<line x1="523.2" y1="149.9" x2="522.6" y2="151.7" stroke="#444" stroke-width="0.6"/>
<line x1="412.9" y1="135.8" x2="413.5" y2="137.6" stroke="#444" stroke-width="0.6"/>
<line x1="527.7" y1="148.0" x2="527.1" y2="149.8" stroke="#444" stroke-width="0.6"/>
<line x1="417.5" y1="137.6" x2="418.1" y2="139.4" stroke="#444" stroke-width="0.6"/>
<line x1="532.2" y1="146.1" x2="531.6" y2="147.9" stroke="#444" stroke-width="0.6"/>
<line x1="422.1" y1="139.4" x2="422.7" y2="141.2" stroke="#444" stroke-width="0.6"/>
<line x1="536.7" y1="144.3" x2="536.1" y2="146.1" stroke="#444" stroke-width="0.6"/>
<line x1="426.8" y1="141.2" x2="427.4" y2="143.0" stroke="#444" stroke-width="0.6"/>
<line x1="541.2" y1="142.4" x2="540.6" y2="144.2" stroke="#444" stroke-width="0.6"/>
<line x1="431.4" y1="143.0" x2="432.0" y2="144.8" stroke="#444" stroke-width="0.6"/>
<line x1="545.7" y1="140.6" x2="545.1" y2="142.4" stroke="#444" stroke-width="0.6"/>
<line x1="436.1" y1="144.8" x2="436.7" y2="146.6" stroke="#444" stroke-width="0.6"/>
<line x1="550.2" y1="138.7" x2="549.6" y2="140.5" stroke="#444" stroke-width="0.6"/>
<line x1="440.7" y1="146.6" x2="441.3" y2="148.4" stroke="#444" stroke-width="0.6"/>
<line x1="554.7" y1="136.9" x2="554.1" y2="138.7" stroke="#444" stroke-width="0.6"/>
<line x1="445.3" y1="148.4" x2="445.9" y2="150.2" stroke="#444" stroke-width="0.6"/>
<line x1="559.2" y1="135.0" x2="558.6" y2="136.8" stroke="#444" stroke-width="0.6"/>
<line x1="450.0" y1="150.2" x2="450.6" y2="152.0" stroke="#444" stroke-width="0.6"/>
<line x1="563.7" y1="133.1" x2="563.1" y2="134.9" stroke="#444" stroke-width="0.6"/>
<line x1="454.6" y1="152.0" x2="455.2" y2="153.8" stroke="#444" stroke-width="0.6"/>
<line x1="568.2" y1="131.3" x2="567.6" y2="133.1" stroke="#444" stroke-width="0.6"/>
<line x1="459.3" y1="153.9" x2="459.9" y2="155.7" stroke="#444" stroke-width="0.6"/>
<line x1="572.8" y1="129.4" x2="572.2" y2="131.2" stroke="#444" stroke-width="0.6"/>
<line x1="463.9" y1="155.7" x2="464.5" y2="157.5" stroke="#444" stroke-width="0.6"/>
<line x1="577.3" y1="127.6" x2="576.7" y2="129.4" stroke="#444" stroke-width="0.6"/>
<line x1="468.5" y1="157.5" x2="469.1" y2="159.3" stroke="#444" stroke-width="0.6"/>
<line x1="581.8" y1="125.7" x2="581.2" y2="127.5" stroke="#444" stroke-width="0.6"/>
<line x1="473.2" y1="159.3" x2="473.8" y2="161.1" stroke="#444" stroke-width="0.6"/>
<line x1="586.3" y1="123.9" x2="585.7" y2="125.7" stroke="#444" stroke-width="0.6"/>
<line x1="477.8" y1="161.1" x2="478.4" y2="162.9" stroke="#444" stroke-width="0.6"/>
<line x1="590.8" y1="122.0" x2="590.2" y2="123.8" stroke="#444" stroke-width="0.6"/>
<line x1="482.5" y1="162.9" x2="483.1" y2="164.7" stroke="#444" stroke-width="0.6"/>
<line x1="595.3" y1="120.2" x2="594.7" y2="122.0" stroke="#444" stroke-width="0.6"/>
<text x="380.2" y="137.9" font-size="12" text-anchor="middle" font-weight="normal" fill="#222" stroke="#222" stroke-width="0.28" >4</text>
<text x="403.1" y="147.0" font-size="12" text-anchor="middle" font-weight="normal" fill="#222" stroke="#222" stroke-width="0.28" >6</text>
<text x="427.7" y="156.0" font-size="12" text-anchor="middle" font-weight="normal" fill="#222" stroke="#222" stroke-width="0.28" >8</text>
<text x="447.1" y="165.1" font-size="12" text-anchor="middle" font-weight="normal" fill="#222" stroke="#222" stroke-width="0.28" >10</text>
<text x="470.5" y="174.2" font-size="12" text-anchor="middle" font-weight="normal" fill="#222" stroke="#222" stroke-width="0.28" >12</text>
<text x="609.5" y="132.2" font-size="12" text-anchor="middle" font-weight="normal" fill="#222" stroke="#222" stroke-width="0.28" >200</text>
<text x="587.8" y="141.7" font-size="12" text-anchor="middle" font-weight="normal" fill="#222" stroke="#222" stroke-width="0.28" >220</text>
<text x="566.1" y="149.9" font-size="12" text-anchor="middle" font-weight="normal" fill="#222" stroke="#222" stroke-width="0.28" >240</text>
<text x="543.5" y="158.5" font-size="12" text-anchor="middle" font-weight="normal" fill="#222" stroke="#222" stroke-width="0.28" >260</text>
<text x="522.0" y="167.0" font-size="12" text-anchor="middle" font-weight="normal" fill="#222" stroke="#222" stroke-width="0.28" >280</text>
<text x="499.5" y="176.5" font-size="12" text-anchor="middle" font-weight="normal" fill="#222" stroke="#222" stroke-width="0.28" >300</text>
<text x="402.5" y="172.4" font-size="12.2" text-anchor="middle" font-weight="normal" fill="#222" stroke="#222" stroke-width="0.28" >Minutes</text>
<text x="564.6" y="172.7" font-size="12.2" text-anchor="middle" font-weight="normal" fill="#222" stroke="#222" stroke-width="0.28" >nm</text>
<rect x="647.1" y="38.3" width="2" height="105.7" fill="url(#fbcb)" opacity="0.8"/>
<line x1="644.6" y1="57.30" x2="647.1" y2="57.30" stroke="#333" stroke-width="0.8"/>
<text x="642.8" y="61.4" font-size="12.3" text-anchor="end" font-weight="normal" fill="#222" stroke="#222" stroke-width="0.28" >500</text>
<line x1="644.6" y1="75.20" x2="647.1" y2="75.20" stroke="#333" stroke-width="0.8"/>
<text x="642.8" y="79.3" font-size="12.3" text-anchor="end" font-weight="normal" fill="#222" stroke="#222" stroke-width="0.28" >400</text>
<line x1="644.6" y1="92.00" x2="647.1" y2="92.00" stroke="#333" stroke-width="0.8"/>
<text x="642.8" y="96.1" font-size="12.3" text-anchor="end" font-weight="normal" fill="#222" stroke="#222" stroke-width="0.28" >300</text>
<line x1="644.6" y1="109.80" x2="647.1" y2="109.80" stroke="#333" stroke-width="0.8"/>
<text x="642.8" y="113.9" font-size="12.3" text-anchor="end" font-weight="normal" fill="#222" stroke="#222" stroke-width="0.28" >200</text>
<line x1="644.6" y1="127.50" x2="647.1" y2="127.50" stroke="#333" stroke-width="0.8"/>
<text x="642.8" y="131.6" font-size="12.3" text-anchor="end" font-weight="normal" fill="#222" stroke="#222" stroke-width="0.28" >100</text>
<line x1="644.6" y1="144.00" x2="647.1" y2="144.00" stroke="#333" stroke-width="0.8"/>
<text x="642.8" y="148.1" font-size="12.3" text-anchor="end" font-weight="normal" fill="#222" stroke="#222" stroke-width="0.28" >0</text>
<text x="636.6" y="161.9" font-size="12.2" text-anchor="middle" font-weight="normal" fill="#222" stroke="#222" stroke-width="0.28" >mAU</text>
<text x="587.7" y="44.8" font-size="13.3" text-anchor="middle" font-weight="normal" fill="#222" stroke="#222" stroke-width="0.28" >2 hrs</text>
<line x1="39.5" y1="268.7" x2="39.5" y2="327.9" stroke="#111" stroke-width="2.1"/>
<line x1="36.9" y1="327.90" x2="39.5" y2="327.90" stroke="#222" stroke-width="0.8"/>
<line x1="36.9" y1="325.93" x2="39.5" y2="325.93" stroke="#222" stroke-width="0.8"/>
<line x1="36.9" y1="323.95" x2="39.5" y2="323.95" stroke="#222" stroke-width="0.8"/>
<line x1="36.9" y1="321.98" x2="39.5" y2="321.98" stroke="#222" stroke-width="0.8"/>
<line x1="36.9" y1="320.01" x2="39.5" y2="320.01" stroke="#222" stroke-width="0.8"/>
<line x1="36.9" y1="318.03" x2="39.5" y2="318.03" stroke="#222" stroke-width="0.8"/>
<line x1="36.9" y1="316.06" x2="39.5" y2="316.06" stroke="#222" stroke-width="0.8"/>
<line x1="36.9" y1="314.09" x2="39.5" y2="314.09" stroke="#222" stroke-width="0.8"/>
<line x1="36.9" y1="312.11" x2="39.5" y2="312.11" stroke="#222" stroke-width="0.8"/>
<line x1="36.9" y1="310.14" x2="39.5" y2="310.14" stroke="#222" stroke-width="0.8"/>
<line x1="36.9" y1="308.17" x2="39.5" y2="308.17" stroke="#222" stroke-width="0.8"/>
<line x1="36.9" y1="306.19" x2="39.5" y2="306.19" stroke="#222" stroke-width="0.8"/>
<line x1="36.9" y1="304.22" x2="39.5" y2="304.22" stroke="#222" stroke-width="0.8"/>
<line x1="36.9" y1="302.25" x2="39.5" y2="302.25" stroke="#222" stroke-width="0.8"/>
<line x1="36.9" y1="300.27" x2="39.5" y2="300.27" stroke="#222" stroke-width="0.8"/>
<line x1="36.9" y1="298.30" x2="39.5" y2="298.30" stroke="#222" stroke-width="0.8"/>
<line x1="36.9" y1="296.33" x2="39.5" y2="296.33" stroke="#222" stroke-width="0.8"/>
<line x1="36.9" y1="294.35" x2="39.5" y2="294.35" stroke="#222" stroke-width="0.8"/>
<line x1="36.9" y1="292.38" x2="39.5" y2="292.38" stroke="#222" stroke-width="0.8"/>
<line x1="36.9" y1="290.41" x2="39.5" y2="290.41" stroke="#222" stroke-width="0.8"/>
<line x1="36.9" y1="288.43" x2="39.5" y2="288.43" stroke="#222" stroke-width="0.8"/>
<line x1="36.9" y1="286.46" x2="39.5" y2="286.46" stroke="#222" stroke-width="0.8"/>
<line x1="36.9" y1="284.49" x2="39.5" y2="284.49" stroke="#222" stroke-width="0.8"/>
<line x1="36.9" y1="282.51" x2="39.5" y2="282.51" stroke="#222" stroke-width="0.8"/>
<line x1="36.9" y1="280.54" x2="39.5" y2="280.54" stroke="#222" stroke-width="0.8"/>
<line x1="36.9" y1="278.57" x2="39.5" y2="278.57" stroke="#222" stroke-width="0.8"/>
<line x1="36.9" y1="276.59" x2="39.5" y2="276.59" stroke="#222" stroke-width="0.8"/>
<line x1="36.9" y1="274.62" x2="39.5" y2="274.62" stroke="#222" stroke-width="0.8"/>
<line x1="36.9" y1="272.65" x2="39.5" y2="272.65" stroke="#222" stroke-width="0.8"/>
<line x1="36.9" y1="270.67" x2="39.5" y2="270.67" stroke="#222" stroke-width="0.8"/>
<line x1="36.9" y1="268.70" x2="39.5" y2="268.70" stroke="#222" stroke-width="0.8"/>
<line x1="35.0" y1="279.70" x2="39.5" y2="279.70" stroke="#222" stroke-width="1"/>
<text x="33.0" y="283.8" font-size="12" text-anchor="end" font-weight="normal" fill="#222" stroke="#222" stroke-width="0.28" >40</text>
<line x1="35.0" y1="292.00" x2="39.5" y2="292.00" stroke="#222" stroke-width="1"/>
<line x1="35.0" y1="304.40" x2="39.5" y2="304.40" stroke="#222" stroke-width="1"/>
<text x="33.0" y="308.5" font-size="12" text-anchor="end" font-weight="normal" fill="#222" stroke="#222" stroke-width="0.28" >20</text>
<line x1="35.0" y1="316.10" x2="39.5" y2="316.10" stroke="#222" stroke-width="1"/>
<line x1="35.0" y1="327.90" x2="39.5" y2="327.90" stroke="#222" stroke-width="1"/>
<text x="33.0" y="332.0" font-size="12" text-anchor="end" font-weight="normal" fill="#222" stroke="#222" stroke-width="0.28" >0</text>
<text x="0" y="0" font-size="12.2" text-anchor="middle" fill="#222" stroke="#222" stroke-width="0.28" transform="translate(10.3 300.7) rotate(-90)">mAU</text>
<polyline points="40.3,328.1 155.4,376 268.5,331.4" fill="none" stroke="#4a4a4a" stroke-width="1.2"/>
<line x1="44.9" y1="330.0" x2="45.5" y2="331.8" stroke="#444" stroke-width="0.6"/>
<line x1="159.9" y1="374.2" x2="159.3" y2="376.0" stroke="#444" stroke-width="0.6"/>
<line x1="49.5" y1="331.9" x2="50.1" y2="333.7" stroke="#444" stroke-width="0.6"/>
<line x1="164.4" y1="372.4" x2="163.8" y2="374.2" stroke="#444" stroke-width="0.6"/>
<line x1="54.1" y1="333.8" x2="54.7" y2="335.6" stroke="#444" stroke-width="0.6"/>
<line x1="169.0" y1="370.6" x2="168.4" y2="372.4" stroke="#444" stroke-width="0.6"/>
<line x1="58.7" y1="335.8" x2="59.3" y2="337.6" stroke="#444" stroke-width="0.6"/>
<line x1="173.5" y1="368.9" x2="172.9" y2="370.7" stroke="#444" stroke-width="0.6"/>
<line x1="63.3" y1="337.7" x2="63.9" y2="339.5" stroke="#444" stroke-width="0.6"/>
<line x1="178.0" y1="367.1" x2="177.4" y2="368.9" stroke="#444" stroke-width="0.6"/>
<line x1="67.9" y1="339.6" x2="68.5" y2="341.4" stroke="#444" stroke-width="0.6"/>
<line x1="182.5" y1="365.3" x2="181.9" y2="367.1" stroke="#444" stroke-width="0.6"/>
<line x1="72.5" y1="341.5" x2="73.1" y2="343.3" stroke="#444" stroke-width="0.6"/>
<line x1="187.1" y1="363.5" x2="186.5" y2="365.3" stroke="#444" stroke-width="0.6"/>
<line x1="77.1" y1="343.4" x2="77.7" y2="345.2" stroke="#444" stroke-width="0.6"/>
<line x1="191.6" y1="361.7" x2="191.0" y2="363.5" stroke="#444" stroke-width="0.6"/>
<line x1="81.7" y1="345.3" x2="82.3" y2="347.1" stroke="#444" stroke-width="0.6"/>
<line x1="196.1" y1="359.9" x2="195.5" y2="361.7" stroke="#444" stroke-width="0.6"/>
<line x1="86.3" y1="347.3" x2="86.9" y2="349.1" stroke="#444" stroke-width="0.6"/>
<line x1="200.6" y1="358.2" x2="200.0" y2="360.0" stroke="#444" stroke-width="0.6"/>
<line x1="90.9" y1="349.2" x2="91.5" y2="351.0" stroke="#444" stroke-width="0.6"/>
<line x1="205.2" y1="356.4" x2="204.6" y2="358.2" stroke="#444" stroke-width="0.6"/>
<line x1="95.5" y1="351.1" x2="96.1" y2="352.9" stroke="#444" stroke-width="0.6"/>
<line x1="209.7" y1="354.6" x2="209.1" y2="356.4" stroke="#444" stroke-width="0.6"/>
<line x1="100.2" y1="353.0" x2="100.8" y2="354.8" stroke="#444" stroke-width="0.6"/>
<line x1="214.2" y1="352.8" x2="213.6" y2="354.6" stroke="#444" stroke-width="0.6"/>
<line x1="104.8" y1="354.9" x2="105.4" y2="356.7" stroke="#444" stroke-width="0.6"/>
<line x1="218.7" y1="351.0" x2="218.1" y2="352.8" stroke="#444" stroke-width="0.6"/>
<line x1="109.4" y1="356.8" x2="110.0" y2="358.6" stroke="#444" stroke-width="0.6"/>
<line x1="223.3" y1="349.2" x2="222.7" y2="351.0" stroke="#444" stroke-width="0.6"/>
<line x1="114.0" y1="358.8" x2="114.6" y2="360.6" stroke="#444" stroke-width="0.6"/>
<line x1="227.8" y1="347.5" x2="227.2" y2="349.3" stroke="#444" stroke-width="0.6"/>
<line x1="118.6" y1="360.7" x2="119.2" y2="362.5" stroke="#444" stroke-width="0.6"/>
<line x1="232.3" y1="345.7" x2="231.7" y2="347.5" stroke="#444" stroke-width="0.6"/>
<line x1="123.2" y1="362.6" x2="123.8" y2="364.4" stroke="#444" stroke-width="0.6"/>
<line x1="236.8" y1="343.9" x2="236.2" y2="345.7" stroke="#444" stroke-width="0.6"/>
<line x1="127.8" y1="364.5" x2="128.4" y2="366.3" stroke="#444" stroke-width="0.6"/>
<line x1="241.4" y1="342.1" x2="240.8" y2="343.9" stroke="#444" stroke-width="0.6"/>
<line x1="132.4" y1="366.4" x2="133.0" y2="368.2" stroke="#444" stroke-width="0.6"/>
<line x1="245.9" y1="340.3" x2="245.3" y2="342.1" stroke="#444" stroke-width="0.6"/>
<line x1="137.0" y1="368.3" x2="137.6" y2="370.1" stroke="#444" stroke-width="0.6"/>
<line x1="250.4" y1="338.5" x2="249.8" y2="340.3" stroke="#444" stroke-width="0.6"/>
<line x1="141.6" y1="370.3" x2="142.2" y2="372.1" stroke="#444" stroke-width="0.6"/>
<line x1="254.9" y1="336.8" x2="254.3" y2="338.6" stroke="#444" stroke-width="0.6"/>
<line x1="146.2" y1="372.2" x2="146.8" y2="374.0" stroke="#444" stroke-width="0.6"/>
<line x1="259.5" y1="335.0" x2="258.9" y2="336.8" stroke="#444" stroke-width="0.6"/>
<line x1="150.8" y1="374.1" x2="151.4" y2="375.9" stroke="#444" stroke-width="0.6"/>
<line x1="264.0" y1="333.2" x2="263.4" y2="335.0" stroke="#444" stroke-width="0.6"/>
<text x="49.4" y="349.0" font-size="12" text-anchor="middle" font-weight="normal" fill="#222" stroke="#222" stroke-width="0.28" >4</text>
<text x="71.6" y="359.3" font-size="12" text-anchor="middle" font-weight="normal" fill="#222" stroke="#222" stroke-width="0.28" >6</text>
<text x="96.4" y="366.8" font-size="12" text-anchor="middle" font-weight="normal" fill="#222" stroke="#222" stroke-width="0.28" >8</text>
<text x="116.2" y="375.7" font-size="12" text-anchor="middle" font-weight="normal" fill="#222" stroke="#222" stroke-width="0.28" >10</text>
<text x="138.8" y="385.4" font-size="12" text-anchor="middle" font-weight="normal" fill="#222" stroke="#222" stroke-width="0.28" >12</text>
<text x="279.4" y="345.0" font-size="12" text-anchor="middle" font-weight="normal" fill="#222" stroke="#222" stroke-width="0.28" >200</text>
<text x="255.6" y="353.5" font-size="12" text-anchor="middle" font-weight="normal" fill="#222" stroke="#222" stroke-width="0.28" >220</text>
<text x="233.7" y="362.0" font-size="12" text-anchor="middle" font-weight="normal" fill="#222" stroke="#222" stroke-width="0.28" >240</text>
<text x="211.7" y="370.3" font-size="12" text-anchor="middle" font-weight="normal" fill="#222" stroke="#222" stroke-width="0.28" >260</text>
<text x="189.5" y="379.4" font-size="12" text-anchor="middle" font-weight="normal" fill="#222" stroke="#222" stroke-width="0.28" >280</text>
<text x="169.6" y="388.6" font-size="12" text-anchor="middle" font-weight="normal" fill="#222" stroke="#222" stroke-width="0.28" >300</text>
<text x="66.7" y="382.7" font-size="12.2" text-anchor="middle" font-weight="normal" fill="#222" stroke="#222" stroke-width="0.28" >Minutes</text>
<text x="233.7" y="382.5" font-size="12.2" text-anchor="middle" font-weight="normal" fill="#222" stroke="#222" stroke-width="0.28" >nm</text>
<rect x="311.6" y="245.9" width="2" height="104.49999999999997" fill="url(#fccb)" opacity="0.8"/>
<line x1="309.1" y1="266.70" x2="311.6" y2="266.70" stroke="#333" stroke-width="0.8"/>
<text x="306.5" y="270.8" font-size="12.3" text-anchor="end" font-weight="normal" fill="#222" stroke="#222" stroke-width="0.28" >40</text>
<line x1="309.1" y1="286.30" x2="311.6" y2="286.30" stroke="#333" stroke-width="0.8"/>
<text x="306.5" y="290.4" font-size="12.3" text-anchor="end" font-weight="normal" fill="#222" stroke="#222" stroke-width="0.28" >30</text>
<line x1="309.1" y1="306.20" x2="311.6" y2="306.20" stroke="#333" stroke-width="0.8"/>
<text x="306.5" y="310.3" font-size="12.3" text-anchor="end" font-weight="normal" fill="#222" stroke="#222" stroke-width="0.28" >20</text>
<line x1="309.1" y1="327.00" x2="311.6" y2="327.00" stroke="#333" stroke-width="0.8"/>
<text x="306.5" y="331.1" font-size="12.3" text-anchor="end" font-weight="normal" fill="#222" stroke="#222" stroke-width="0.28" >10</text>
<line x1="309.1" y1="348.70" x2="311.6" y2="348.70" stroke="#333" stroke-width="0.8"/>
<text x="306.5" y="352.8" font-size="12.3" text-anchor="end" font-weight="normal" fill="#222" stroke="#222" stroke-width="0.28" >0</text>
<text x="310.7" y="368.3" font-size="12.2" text-anchor="middle" font-weight="normal" fill="#222" stroke="#222" stroke-width="0.28" >mAU</text>
<text x="253.0" y="220.6" font-size="13.3" text-anchor="middle" font-weight="normal" fill="#222" stroke="#222" stroke-width="0.28" >60 hrs</text>
<line x1="369.5" y1="268.7" x2="369.5" y2="327.9" stroke="#111" stroke-width="2.1"/>
<line x1="366.9" y1="327.90" x2="369.5" y2="327.90" stroke="#222" stroke-width="0.8"/>
<line x1="366.9" y1="325.93" x2="369.5" y2="325.93" stroke="#222" stroke-width="0.8"/>
<line x1="366.9" y1="323.95" x2="369.5" y2="323.95" stroke="#222" stroke-width="0.8"/>
<line x1="366.9" y1="321.98" x2="369.5" y2="321.98" stroke="#222" stroke-width="0.8"/>
<line x1="366.9" y1="320.01" x2="369.5" y2="320.01" stroke="#222" stroke-width="0.8"/>
<line x1="366.9" y1="318.03" x2="369.5" y2="318.03" stroke="#222" stroke-width="0.8"/>
<line x1="366.9" y1="316.06" x2="369.5" y2="316.06" stroke="#222" stroke-width="0.8"/>
<line x1="366.9" y1="314.09" x2="369.5" y2="314.09" stroke="#222" stroke-width="0.8"/>
<line x1="366.9" y1="312.11" x2="369.5" y2="312.11" stroke="#222" stroke-width="0.8"/>
<line x1="366.9" y1="310.14" x2="369.5" y2="310.14" stroke="#222" stroke-width="0.8"/>
<line x1="366.9" y1="308.17" x2="369.5" y2="308.17" stroke="#222" stroke-width="0.8"/>
<line x1="366.9" y1="306.19" x2="369.5" y2="306.19" stroke="#222" stroke-width="0.8"/>
<line x1="366.9" y1="304.22" x2="369.5" y2="304.22" stroke="#222" stroke-width="0.8"/>
<line x1="366.9" y1="302.25" x2="369.5" y2="302.25" stroke="#222" stroke-width="0.8"/>
<line x1="366.9" y1="300.27" x2="369.5" y2="300.27" stroke="#222" stroke-width="0.8"/>
<line x1="366.9" y1="298.30" x2="369.5" y2="298.30" stroke="#222" stroke-width="0.8"/>
<line x1="366.9" y1="296.33" x2="369.5" y2="296.33" stroke="#222" stroke-width="0.8"/>
<line x1="366.9" y1="294.35" x2="369.5" y2="294.35" stroke="#222" stroke-width="0.8"/>
<line x1="366.9" y1="292.38" x2="369.5" y2="292.38" stroke="#222" stroke-width="0.8"/>
<line x1="366.9" y1="290.41" x2="369.5" y2="290.41" stroke="#222" stroke-width="0.8"/>
<line x1="366.9" y1="288.43" x2="369.5" y2="288.43" stroke="#222" stroke-width="0.8"/>
<line x1="366.9" y1="286.46" x2="369.5" y2="286.46" stroke="#222" stroke-width="0.8"/>
<line x1="366.9" y1="284.49" x2="369.5" y2="284.49" stroke="#222" stroke-width="0.8"/>
<line x1="366.9" y1="282.51" x2="369.5" y2="282.51" stroke="#222" stroke-width="0.8"/>
<line x1="366.9" y1="280.54" x2="369.5" y2="280.54" stroke="#222" stroke-width="0.8"/>
<line x1="366.9" y1="278.57" x2="369.5" y2="278.57" stroke="#222" stroke-width="0.8"/>
<line x1="366.9" y1="276.59" x2="369.5" y2="276.59" stroke="#222" stroke-width="0.8"/>
<line x1="366.9" y1="274.62" x2="369.5" y2="274.62" stroke="#222" stroke-width="0.8"/>
<line x1="366.9" y1="272.65" x2="369.5" y2="272.65" stroke="#222" stroke-width="0.8"/>
<line x1="366.9" y1="270.67" x2="369.5" y2="270.67" stroke="#222" stroke-width="0.8"/>
<line x1="366.9" y1="268.70" x2="369.5" y2="268.70" stroke="#222" stroke-width="0.8"/>
<line x1="365.0" y1="279.70" x2="369.5" y2="279.70" stroke="#222" stroke-width="1"/>
<text x="363.0" y="283.8" font-size="12" text-anchor="end" font-weight="normal" fill="#222" stroke="#222" stroke-width="0.28" >40</text>
<line x1="365.0" y1="292.00" x2="369.5" y2="292.00" stroke="#222" stroke-width="1"/>
<line x1="365.0" y1="304.40" x2="369.5" y2="304.40" stroke="#222" stroke-width="1"/>
<text x="363.0" y="308.5" font-size="12" text-anchor="end" font-weight="normal" fill="#222" stroke="#222" stroke-width="0.28" >20</text>
<line x1="365.0" y1="316.10" x2="369.5" y2="316.10" stroke="#222" stroke-width="1"/>
<line x1="365.0" y1="327.90" x2="369.5" y2="327.90" stroke="#222" stroke-width="1"/>
<text x="363.0" y="332.0" font-size="12" text-anchor="end" font-weight="normal" fill="#222" stroke="#222" stroke-width="0.28" >0</text>
<text x="0" y="0" font-size="12.2" text-anchor="middle" fill="#222" stroke="#222" stroke-width="0.28" transform="translate(340.3 300.7) rotate(-90)">mAU</text>
<polyline points="370.3,328.1 485.4,376 598.5,331.4" fill="none" stroke="#4a4a4a" stroke-width="1.2"/>
<line x1="374.9" y1="330.0" x2="375.5" y2="331.8" stroke="#444" stroke-width="0.6"/>
<line x1="489.9" y1="374.2" x2="489.3" y2="376.0" stroke="#444" stroke-width="0.6"/>
<line x1="379.5" y1="331.9" x2="380.1" y2="333.7" stroke="#444" stroke-width="0.6"/>
<line x1="494.4" y1="372.4" x2="493.8" y2="374.2" stroke="#444" stroke-width="0.6"/>
<line x1="384.1" y1="333.8" x2="384.7" y2="335.6" stroke="#444" stroke-width="0.6"/>
<line x1="499.0" y1="370.6" x2="498.4" y2="372.4" stroke="#444" stroke-width="0.6"/>
<line x1="388.7" y1="335.8" x2="389.3" y2="337.6" stroke="#444" stroke-width="0.6"/>
<line x1="503.5" y1="368.9" x2="502.9" y2="370.7" stroke="#444" stroke-width="0.6"/>
<line x1="393.3" y1="337.7" x2="393.9" y2="339.5" stroke="#444" stroke-width="0.6"/>
<line x1="508.0" y1="367.1" x2="507.4" y2="368.9" stroke="#444" stroke-width="0.6"/>
<line x1="397.9" y1="339.6" x2="398.5" y2="341.4" stroke="#444" stroke-width="0.6"/>
<line x1="512.5" y1="365.3" x2="511.9" y2="367.1" stroke="#444" stroke-width="0.6"/>
<line x1="402.5" y1="341.5" x2="403.1" y2="343.3" stroke="#444" stroke-width="0.6"/>
<line x1="517.1" y1="363.5" x2="516.5" y2="365.3" stroke="#444" stroke-width="0.6"/>
<line x1="407.1" y1="343.4" x2="407.7" y2="345.2" stroke="#444" stroke-width="0.6"/>
<line x1="521.6" y1="361.7" x2="521.0" y2="363.5" stroke="#444" stroke-width="0.6"/>
<line x1="411.7" y1="345.3" x2="412.3" y2="347.1" stroke="#444" stroke-width="0.6"/>
<line x1="526.1" y1="359.9" x2="525.5" y2="361.7" stroke="#444" stroke-width="0.6"/>
<line x1="416.3" y1="347.3" x2="416.9" y2="349.1" stroke="#444" stroke-width="0.6"/>
<line x1="530.6" y1="358.2" x2="530.0" y2="360.0" stroke="#444" stroke-width="0.6"/>
<line x1="420.9" y1="349.2" x2="421.5" y2="351.0" stroke="#444" stroke-width="0.6"/>
<line x1="535.2" y1="356.4" x2="534.6" y2="358.2" stroke="#444" stroke-width="0.6"/>
<line x1="425.5" y1="351.1" x2="426.1" y2="352.9" stroke="#444" stroke-width="0.6"/>
<line x1="539.7" y1="354.6" x2="539.1" y2="356.4" stroke="#444" stroke-width="0.6"/>
<line x1="430.2" y1="353.0" x2="430.8" y2="354.8" stroke="#444" stroke-width="0.6"/>
<line x1="544.2" y1="352.8" x2="543.6" y2="354.6" stroke="#444" stroke-width="0.6"/>
<line x1="434.8" y1="354.9" x2="435.4" y2="356.7" stroke="#444" stroke-width="0.6"/>
<line x1="548.7" y1="351.0" x2="548.1" y2="352.8" stroke="#444" stroke-width="0.6"/>
<line x1="439.4" y1="356.8" x2="440.0" y2="358.6" stroke="#444" stroke-width="0.6"/>
<line x1="553.3" y1="349.2" x2="552.7" y2="351.0" stroke="#444" stroke-width="0.6"/>
<line x1="444.0" y1="358.8" x2="444.6" y2="360.6" stroke="#444" stroke-width="0.6"/>
<line x1="557.8" y1="347.5" x2="557.2" y2="349.3" stroke="#444" stroke-width="0.6"/>
<line x1="448.6" y1="360.7" x2="449.2" y2="362.5" stroke="#444" stroke-width="0.6"/>
<line x1="562.3" y1="345.7" x2="561.7" y2="347.5" stroke="#444" stroke-width="0.6"/>
<line x1="453.2" y1="362.6" x2="453.8" y2="364.4" stroke="#444" stroke-width="0.6"/>
<line x1="566.8" y1="343.9" x2="566.2" y2="345.7" stroke="#444" stroke-width="0.6"/>
<line x1="457.8" y1="364.5" x2="458.4" y2="366.3" stroke="#444" stroke-width="0.6"/>
<line x1="571.4" y1="342.1" x2="570.8" y2="343.9" stroke="#444" stroke-width="0.6"/>
<line x1="462.4" y1="366.4" x2="463.0" y2="368.2" stroke="#444" stroke-width="0.6"/>
<line x1="575.9" y1="340.3" x2="575.3" y2="342.1" stroke="#444" stroke-width="0.6"/>
<line x1="467.0" y1="368.3" x2="467.6" y2="370.1" stroke="#444" stroke-width="0.6"/>
<line x1="580.4" y1="338.5" x2="579.8" y2="340.3" stroke="#444" stroke-width="0.6"/>
<line x1="471.6" y1="370.3" x2="472.2" y2="372.1" stroke="#444" stroke-width="0.6"/>
<line x1="584.9" y1="336.8" x2="584.3" y2="338.6" stroke="#444" stroke-width="0.6"/>
<line x1="476.2" y1="372.2" x2="476.8" y2="374.0" stroke="#444" stroke-width="0.6"/>
<line x1="589.5" y1="335.0" x2="588.9" y2="336.8" stroke="#444" stroke-width="0.6"/>
<line x1="480.8" y1="374.1" x2="481.4" y2="375.9" stroke="#444" stroke-width="0.6"/>
<line x1="594.0" y1="333.2" x2="593.4" y2="335.0" stroke="#444" stroke-width="0.6"/>
<text x="379.4" y="349.0" font-size="12" text-anchor="middle" font-weight="normal" fill="#222" stroke="#222" stroke-width="0.28" >4</text>
<text x="401.6" y="359.3" font-size="12" text-anchor="middle" font-weight="normal" fill="#222" stroke="#222" stroke-width="0.28" >6</text>
<text x="426.4" y="366.8" font-size="12" text-anchor="middle" font-weight="normal" fill="#222" stroke="#222" stroke-width="0.28" >8</text>
<text x="446.2" y="375.7" font-size="12" text-anchor="middle" font-weight="normal" fill="#222" stroke="#222" stroke-width="0.28" >10</text>
<text x="468.8" y="385.4" font-size="12" text-anchor="middle" font-weight="normal" fill="#222" stroke="#222" stroke-width="0.28" >12</text>
<text x="609.4" y="345.0" font-size="12" text-anchor="middle" font-weight="normal" fill="#222" stroke="#222" stroke-width="0.28" >200</text>
<text x="585.6" y="353.5" font-size="12" text-anchor="middle" font-weight="normal" fill="#222" stroke="#222" stroke-width="0.28" >220</text>
<text x="563.7" y="362.0" font-size="12" text-anchor="middle" font-weight="normal" fill="#222" stroke="#222" stroke-width="0.28" >240</text>
<text x="541.7" y="370.3" font-size="12" text-anchor="middle" font-weight="normal" fill="#222" stroke="#222" stroke-width="0.28" >260</text>
<text x="519.5" y="379.4" font-size="12" text-anchor="middle" font-weight="normal" fill="#222" stroke="#222" stroke-width="0.28" >280</text>
<text x="499.6" y="388.6" font-size="12" text-anchor="middle" font-weight="normal" fill="#222" stroke="#222" stroke-width="0.28" >300</text>
<text x="402.4" y="382.7" font-size="12.2" text-anchor="middle" font-weight="normal" fill="#222" stroke="#222" stroke-width="0.28" >Minutes</text>
<text x="563.7" y="382.5" font-size="12.2" text-anchor="middle" font-weight="normal" fill="#222" stroke="#222" stroke-width="0.28" >nm</text>
<rect x="641.7" y="245.9" width="2" height="104.49999999999997" fill="url(#fdcb)" opacity="0.8"/>
<line x1="639.2" y1="266.70" x2="641.7" y2="266.70" stroke="#333" stroke-width="0.8"/>
<text x="636.6" y="270.8" font-size="12.3" text-anchor="end" font-weight="normal" fill="#222" stroke="#222" stroke-width="0.28" >40</text>
<line x1="639.2" y1="286.30" x2="641.7" y2="286.30" stroke="#333" stroke-width="0.8"/>
<text x="636.6" y="290.4" font-size="12.3" text-anchor="end" font-weight="normal" fill="#222" stroke="#222" stroke-width="0.28" >30</text>
<line x1="639.2" y1="306.20" x2="641.7" y2="306.20" stroke="#333" stroke-width="0.8"/>
<text x="636.6" y="310.3" font-size="12.3" text-anchor="end" font-weight="normal" fill="#222" stroke="#222" stroke-width="0.28" >20</text>
<line x1="639.2" y1="327.00" x2="641.7" y2="327.00" stroke="#333" stroke-width="0.8"/>
<text x="636.6" y="331.1" font-size="12.3" text-anchor="end" font-weight="normal" fill="#222" stroke="#222" stroke-width="0.28" >10</text>
<line x1="639.2" y1="348.70" x2="641.7" y2="348.70" stroke="#333" stroke-width="0.8"/>
<text x="636.6" y="352.8" font-size="12.3" text-anchor="end" font-weight="normal" fill="#222" stroke="#222" stroke-width="0.28" >0</text>
<text x="640.7" y="368.3" font-size="12.2" text-anchor="middle" font-weight="normal" fill="#222" stroke="#222" stroke-width="0.28" >mAU</text>
<text x="584.3" y="220.6" font-size="13.3" text-anchor="middle" font-weight="normal" fill="#222" stroke="#222" stroke-width="0.28" >60 hrs</text>
<text x="127.45" y="32.2" font-size="9.7" text-anchor="middle" fill="#222" stroke="#222" stroke-width="0.2" textLength="34.3" lengthAdjust="spacingAndGlyphs">9-OHPD</text>
<line x1="129.2" y1="34.1" x2="129.2" y2="40.699999999999996" stroke="#111" stroke-width="1.1"/>
<path d="M126.00 40.20L132.40 40.20L129.2 44.4Z" fill="#111"/>
<text x="456.15" y="38.3" font-size="9.7" text-anchor="middle" fill="#222" stroke="#222" stroke-width="0.2" textLength="34.1" lengthAdjust="spacingAndGlyphs">9-OHPD</text>
<line x1="458" y1="41" x2="458" y2="47.4" stroke="#111" stroke-width="1.1"/>
<path d="M454.80 46.90L461.20 46.90L458 51.1Z" fill="#111"/>
<text x="133.60" y="238.2" font-size="9.7" text-anchor="middle" fill="#222" stroke="#222" stroke-width="0.2" textLength="34.2" lengthAdjust="spacingAndGlyphs">9-OHPD</text>
<line x1="131.8" y1="240.5" x2="131.8" y2="247.3" stroke="#111" stroke-width="1.1"/>
<path d="M128.60 246.80L135.00 246.80L131.8 251Z" fill="#111"/>
<text x="119.60" y="316.9" font-size="9.7" text-anchor="middle" fill="#f4eeff" stroke="#f4eeff" stroke-width="0.2" textLength="25.6" lengthAdjust="spacingAndGlyphs">3-HSP</text>
<line x1="118.7" y1="321.5" x2="118.7" y2="334.8" stroke="#f4eeff" stroke-width="1.1"/>
<path d="M115.50 334.30L121.90 334.30L118.7 338.5Z" fill="#f4eeff"/>
<text x="444.95" y="257.9" font-size="9.7" text-anchor="middle" fill="#222" stroke="#222" stroke-width="0.2" textLength="25.5" lengthAdjust="spacingAndGlyphs">3-HSP</text>
<line x1="446.7" y1="261.7" x2="446.7" y2="275.2" stroke="#111" stroke-width="1.1"/>
<path d="M443.50 274.70L449.90 274.70L446.7 278.9Z" fill="#111"/>
<text x="167.9" y="14.3" font-size="14.2" text-anchor="middle" fill="#222" stroke="#222" stroke-width="0.28">Hep3B Control</text>
<text x="485.5" y="14.6" font-size="14.2" text-anchor="middle" fill="#222" stroke="#222" stroke-width="0.28">Hep3B Δ<tspan font-size="8.5" dy="-5">1</tspan><tspan dy="5">-KstD</tspan></text>
<text x="167.9" y="215.1" font-size="14.2" text-anchor="middle" fill="#222" stroke="#222" stroke-width="0.28">Hep3B Control</text>
<text x="485.5" y="214.8" font-size="14.2" text-anchor="middle" fill="#222" stroke="#222" stroke-width="0.28">Hep3B Δ<tspan font-size="8.5" dy="-5">1</tspan><tspan dy="5">-KstD</tspan></text>
</svg>
</body></html>
